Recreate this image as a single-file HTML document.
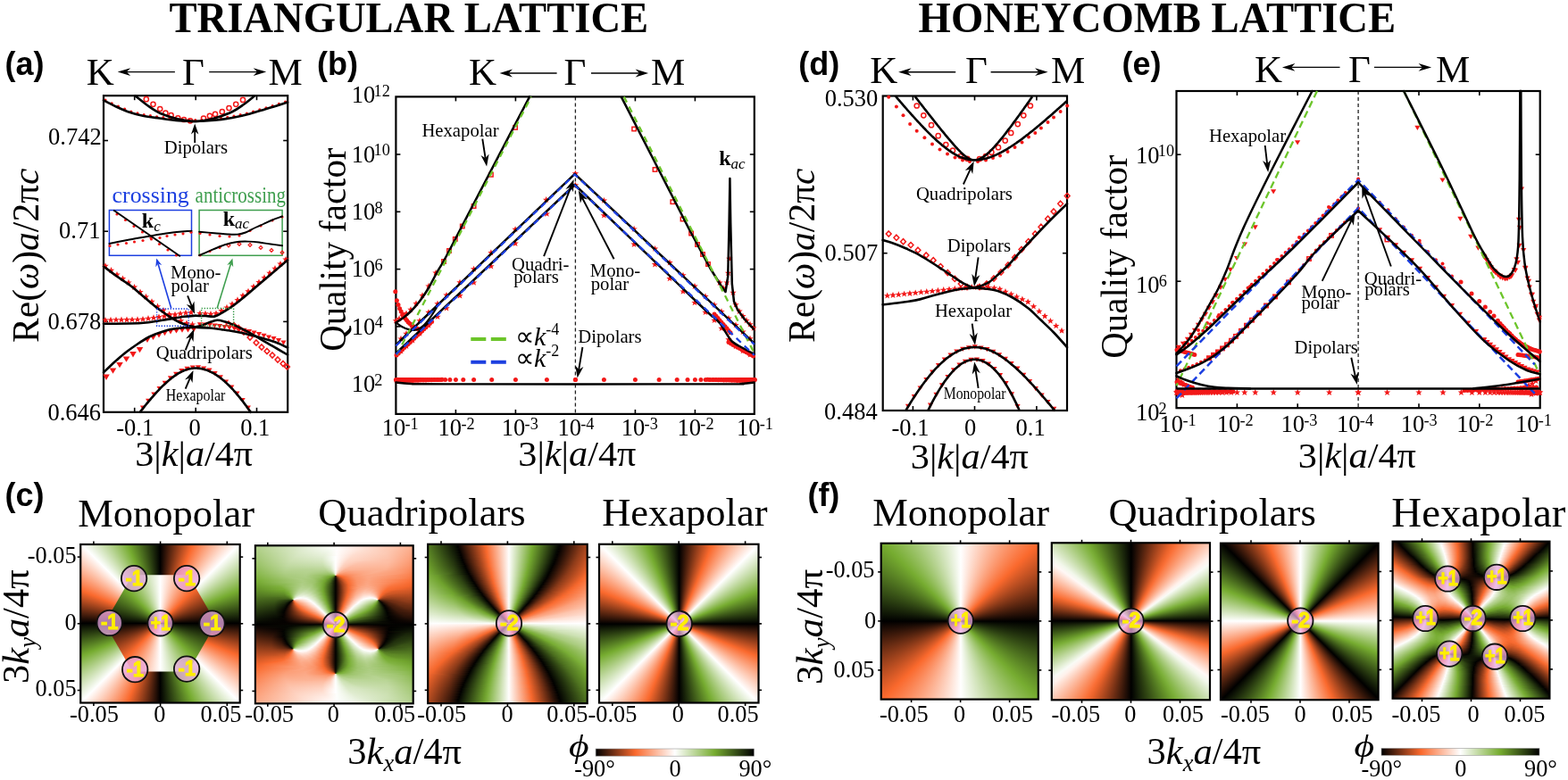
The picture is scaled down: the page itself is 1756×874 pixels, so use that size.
<!DOCTYPE html>
<html><head><meta charset="utf-8"><title>Figure</title>
<style>
html,body{margin:0;padding:0;background:#fff}
#fig{position:relative;width:1756px;height:874px;overflow:hidden;background:#fff}
.pm{position:absolute;display:flex;flex-direction:column;overflow:hidden}
.pm i{display:block;flex:0 0 var(--rh);width:100%}
svg{position:absolute;left:0;top:0}
.s{font-family:'Liberation Serif','Times New Roman',serif}
.a{font-family:'Liberation Sans',Arial,sans-serif}
</style></head><body><div id="fig">
<div class="pm" style="left:90.2px;top:610.0px;width:178.5px;height:177.5px;background:conic-gradient(at 89.4px 88.3px,#000 0deg,#fa692d 22.5deg,#fff 45deg,#76ac30 67.5deg,#000 90deg,#fa692d 112.5deg,#fff 135deg,#76ac30 157.5deg,#000 180deg,#fa692d 202.5deg,#fff 225deg,#76ac30 247.5deg,#000 270deg,#fa692d 292.5deg,#fff 315deg,#76ac30 337.5deg,#000 360deg)"></div>
<div class="pm" style="left:117.1px;top:635.8px;width:125.0px;height:125.0px;background:conic-gradient(#fff 0deg,#fa692d 45deg,#000 90deg,#76ac30 135deg,#fff 180deg,#fa692d 225deg,#000 270deg,#76ac30 315deg,#fff 360deg);clip-path:polygon(125.0px 62.5px,93.8px 8.4px,31.3px 8.4px,0.0px 62.5px,31.2px 116.6px,93.8px 116.6px)"></div>
<div class="pm" style="left:285.9px;top:611.3px;width:176.8px;height:177.0px;--rh:1px"><i style="background:linear-gradient(90deg,#b2d08b 0%,#e8f1dc 34.5%,#fffdfc 52%,#fdba9e 93.8%,#fcae8d 100%)"></i><i style="background:linear-gradient(90deg,#b1d089 0%,#e6f0da 33.3%,#fffcfb 52%,#fdb99d 93.8%,#fcad8c 100%)"></i><i style="background:linear-gradient(90deg,#b0cf88 0%,#e5efd8 32.8%,#fffcfb 52%,#fdb99d 93.2%,#fcac8a 100%)"></i><i style="background:linear-gradient(90deg,#afce86 0%,#e3eed5 31.6%,#fdfefb 49.7%,#feefe8 58.2%,#fdc4ac 87.6%,#fcaa89 100%)"></i><i style="background:linear-gradient(90deg,#aece84 0%,#e2edd3 31.1%,#fafcf7 48.6%,#fffcfb 52%,#fee1d5 68.4%,#fdb99c 92.7%,#fca987 100%)"></i><i style="background:linear-gradient(90deg,#adcd83 0%,#e0ecd1 30.5%,#f7faf2 47.5%,#fffdfd 51.4%,#fee2d6 66.1%,#fdc5ad 86.4%,#fca885 100%)"></i><i style="background:linear-gradient(90deg,#accd81 0%,#dfebce 29.4%,#f3f8ed 46.3%,#fffdfc 51.4%,#fee1d5 65.5%,#fdc7b1 84.7%,#fca784 100%)"></i><i style="background:linear-gradient(90deg,#abcc7f 0%,#ddeacc 28.8%,#f0f6e8 45.2%,#fffdfc 51.4%,#fee1d4 64.4%,#fdc9b3 83.6%,#fca682 100%)"></i><i style="background:linear-gradient(90deg,#a9cb7e 0%,#dceac9 28.2%,#edf4e4 44.6%,#fffdfc 51.4%,#fee0d3 63.8%,#fdc9b4 83.1%,#fca580 100%)"></i><i style="background:linear-gradient(90deg,#a8ca7c 0%,#dae9c7 27.7%,#ebf3e0 44.1%,#fffdfc 51.4%,#feded1 63.3%,#fdc9b3 83.1%,#fca37f 100%)"></i><i style="background:linear-gradient(90deg,#a7ca7a 0%,#d8e7c4 26.6%,#e8f1dc 43.5%,#fffdfc 51.4%,#feded1 62.1%,#fdc8b2 83.1%,#fca27d 100%)"></i><i style="background:linear-gradient(90deg,#a6c978 0%,#d6e6c2 26%,#e7f0da 43.5%,#fffcfb 51.4%,#feddcf 61.6%,#fdc6af 83.6%,#fca17b 100%)"></i><i style="background:linear-gradient(90deg,#a5c876 0%,#d5e5bf 25.4%,#e3eed5 42.9%,#fff 50.8%,#fedcce 61%,#fdc5ae 83.6%,#fc9f79 100%)"></i><i style="background:linear-gradient(90deg,#a3c775 0%,#d3e4bc 24.9%,#e2edd3 42.9%,#fff 50.8%,#fedbcc 60.5%,#fdc3ab 84.2%,#fc9e77 100%)"></i><i style="background:linear-gradient(90deg,#a2c773 0%,#d1e3ba 24.3%,#deebce 42.4%,#fff 50.8%,#fedacb 59.9%,#fdc2aa 84.2%,#fc9d75 100%)"></i><i style="background:linear-gradient(90deg,#a1c671 0%,#cfe2b7 23.7%,#dceaca 42.4%,#fff 50.8%,#fed9c9 59.3%,#fdc0a7 84.7%,#fc9b74 100%)"></i><i style="background:linear-gradient(90deg,#9fc56f 0%,#cee1b4 23.2%,#dae9c7 42.4%,#fffffe 50.8%,#fed8c8 58.8%,#fdccb8 71.8%,#fdbca2 85.9%,#fc9a71 100%)"></i><i style="background:linear-gradient(90deg,#9ec46d 0%,#cce0b1 22.6%,#d7e7c3 42.4%,#f8fbf5 49.7%,#fffffe 50.8%,#fed7c6 58.2%,#fdcab5 69.5%,#fdbea4 84.7%,#fc986f 100%)"></i><i style="background:linear-gradient(90deg,#9dc36a 0%,#cadfae 22%,#d5e5bf 42.4%,#f4f8ee 49.2%,#fffffe 50.8%,#fed6c5 57.6%,#fdc8b3 67.2%,#fdbea4 84.2%,#fc976d 100%)"></i><i style="background:linear-gradient(90deg,#9bc368 0%,#c8ddab 21.5%,#d2e4bb 42.4%,#eff5e6 48.6%,#fffffe 50.8%,#fed5c4 57.1%,#fdc6b0 65.5%,#fdbda2 84.2%,#fb956b 100%)"></i><i style="background:linear-gradient(90deg,#9ac266 0%,#c6dca9 21.5%,#cfe2b7 42.4%,#e9f2de 48%,#fffefe 50.8%,#fed4c3 56.5%,#fdc4ad 63.8%,#fdbca1 83.6%,#fb9469 100%)"></i><i style="background:linear-gradient(90deg,#98c164 0%,#c4dba5 20.9%,#cce0b2 42.4%,#e7f0da 48%,#fffefe 50.8%,#fdd1be 56.5%,#fdc1a9 63.8%,#fdba9f 83.6%,#fb9267 100%)"></i><i style="background:linear-gradient(90deg,#97c062 0%,#c1daa2 20.3%,#cadfaf 42.9%,#e4efd7 48%,#fffefe 50.8%,#fdd0bd 55.9%,#fdbfa6 62.1%,#fdb99c 83.6%,#fb9164 100%)"></i><i style="background:linear-gradient(90deg,#95bf5f 0%,#c0d99f 20.3%,#c6ddaa 42.9%,#dceacb 47.5%,#fffefe 50.8%,#fdd0bd 55.4%,#fdbda3 61%,#fdb79a 83.6%,#fb8f62 100%)"></i><i style="background:linear-gradient(90deg,#94be5d 0%,#bdd79c 19.8%,#c3daa4 42.9%,#d9e8c5 47.5%,#fffefe 50.8%,#fdcfbc 54.8%,#fdbb9f 59.9%,#fdb698 83.1%,#fb8d60 100%)"></i><i style="background:linear-gradient(90deg,#92bd5a 0%,#bbd699 19.8%,#c0d99f 43.5%,#d4e5bf 47.5%,#fffefe 50.8%,#fdcfbc 54.2%,#fdb89c 58.8%,#fcb495 83.1%,#fb8b5d 100%)"></i><i style="background:linear-gradient(90deg,#90bc58 0%,#b9d595 19.2%,#bad597 35.6%,#bdd79b 44.1%,#cfe2b7 47.5%,#fffefd 50.8%,#fdd0bd 53.7%,#fdb89b 57.1%,#fcb495 65.5%,#fcb394 81.9%,#fb8c5f 98.9%,#fb8a5b 100%)"></i><i style="background:linear-gradient(90deg,#8fbb55 0%,#b7d392 19.2%,#b8d494 35%,#b9d595 44.6%,#cfe2b7 48%,#fffefd 50.8%,#fdc9b4 53.7%,#fcb293 57.1%,#fcb294 67.2%,#fcb090 82.5%,#fb8858 100%)"></i><i style="background:linear-gradient(90deg,#8dba53 0%,#b4d28e 18.6%,#b7d392 33.9%,#b3d18d 44.6%,#c2daa3 47.5%,#e5efd8 49.7%,#fffdfd 50.8%,#fdc9b4 53.1%,#fcaf90 55.9%,#fcab8a 62.7%,#fcb192 78.5%,#fc986f 93.2%,#fb8656 100%)"></i><i style="background:linear-gradient(90deg,#8bb950 0%,#b2d08b 18.6%,#b6d390 33.3%,#aece85 45.2%,#bfd89e 48%,#dfebce 49.7%,#fffdfc 50.8%,#fdcbb6 52.5%,#fcad8c 54.8%,#fca480 59.3%,#fcb191 76.3%,#fc9971 92.1%,#fb8453 100%)"></i><i style="background:linear-gradient(90deg,#89b84d 0%,#b0cf88 18.6%,#b4d28e 32.8%,#a8ca7b 45.8%,#b4d28e 48%,#c6ddaa 49.2%,#fffcfb 50.8%,#fdceba 52%,#fcac8b 53.7%,#fc9e78 57.1%,#fcaf8f 75.1%,#fc986e 92.1%,#fb8250 100%)"></i><i style="background:linear-gradient(90deg,#88b74b 0%,#aece84 18.6%,#b3d18c 32.2%,#a0c670 46.3%,#adcd83 48.6%,#c7ddaa 49.7%,#fffbfa 50.8%,#fed7c7 51.4%,#fdbea3 52%,#fca47f 53.1%,#fc976d 55.9%,#fcae8d 73.4%,#fc986f 91%,#fb804d 100%)"></i><i style="background:linear-gradient(90deg,#86b648 0%,#abcc81 18.6%,#b2d08a 32.2%,#97c061 47.5%,#a2c672 49.2%,#afce86 49.7%,#cce0b2 50.3%,#fff8f5 50.8%,#fdbfa5 51.4%,#fca37f 52%,#fb9165 53.1%,#fb8f63 57.1%,#fcac8a 71.2%,#fc9c75 87.6%,#fb7e4a 100%)"></i><i style="background:linear-gradient(90deg,#84b445 0%,#aacb7e 19.2%,#b0cf88 32.2%,#94be5d 44.1%,#86b648 49.2%,#88b74c 49.7%,#94be5e 50.3%,#fee1d4 50.8%,#fb8555 51.4%,#fb7a45 52.5%,#fca784 68.4%,#fca581 80.2%,#fb8250 97.7%,#fb7c48 100%)"></i><i style="background:linear-gradient(90deg,#82b342 0%,#a8ca7b 19.2%,#afcf87 31.6%,#97c062 41.8%,#71a52e 48.6%,#608b27 49.7%,#46661d 50.3%,#170a04 50.8%,#a5451e 51.4%,#d05826 52%,#f2662c 53.1%,#fa733b 54.8%,#fc9c74 63.8%,#fca987 73.4%,#fb8757 94.9%,#fb7a45 100%)"></i><i style="background:linear-gradient(90deg,#80b23f 0%,#a7ca7a 20.3%,#aece85 31.6%,#98c164 40.7%,#73a82f 46.9%,#557c22 49.2%,#43621b 49.7%,#0a0402 50.8%,#612911 51.4%,#98401b 52%,#cf5725 53.1%,#f6672c 54.8%,#fb9469 62.1%,#fca885 71.2%,#fb9267 88.7%,#fa7841 100%)"></i><i style="background:linear-gradient(90deg,#7eb13c 0%,#a9cb7d 23.2%,#accd82 32.8%,#92bd5b 41.2%,#70a32d 46.3%,#527721 48.6%,#334a15 49.7%,#060301 50.8%,#431c0c 51.4%,#743115 52%,#b24b20 53.1%,#ef642b 55.4%,#fa6d33 56.5%,#fb966b 63.3%,#fca784 71.8%,#fb8655 93.8%,#fa753e 100%)"></i><i style="background:linear-gradient(90deg,#7cb039 0%,#accd82 26.6%,#a7ca7a 35%,#88b74c 42.4%,#6ea02d 45.8%,#47671d 48.6%,#141d08 50.3%,#050201 50.8%,#5d2711 52%,#9b411c 53.1%,#e05e28 55.4%,#fa6c31 57.1%,#fb9469 63.3%,#fca682 71.2%,#fb8959 91%,#fa733b 100%)"></i><i style="background:linear-gradient(90deg,#7aae36 0%,#adcd83 28.8%,#a2c672 36.7%,#7cb03a 43.5%,#5b8425 46.9%,#314814 49.2%,#040201 50.8%,#6e2e14 52.5%,#b34b20 54.2%,#f5672c 57.1%,#fb956a 63.8%,#fca682 71.8%,#fa7138 100%)"></i><i style="background:linear-gradient(90deg,#78ad32 0%,#adcd83 29.9%,#9fc56d 37.3%,#73a82f 44.1%,#4c6f1f 47.5%,#1d2b0c 49.7%,#030101 50.8%,#7b3416 53.1%,#c75324 55.4%,#f7682c 57.6%,#fc966c 64.4%,#fca581 71.8%,#fa6e35 100%)"></i><i style="background:linear-gradient(90deg,#75ab30 0%,#adcd83 29.9%,#9ec46d 37.3%,#70a42e 44.1%,#47681d 47.5%,#030101 50.8%,#712f14 53.1%,#cb5525 55.9%,#fa692d 58.2%,#fb9367 63.8%,#fca581 70.6%,#fc966c 79.7%,#fa6c31 100%)"></i><i style="background:linear-gradient(90deg,#74a82f 0%,#9fc56e 22.6%,#adcd83 31.1%,#9bc368 37.9%,#73a72f 43.5%,#43621b 47.5%,#030100 50.8%,#7e3517 53.7%,#d15826 56.5%,#fa6c31 58.8%,#fb956b 64.4%,#fca682 71.2%,#fb9064 80.8%,#fa692e 100%)"></i><i style="background:linear-gradient(90deg,#72a62e 0%,#98c163 20.9%,#aece85 29.9%,#a0c670 36.7%,#7baf37 42.4%,#507521 46.3%,#030100 50.8%,#8a3a19 54.2%,#e56029 57.6%,#fa6a2e 58.8%,#fb956b 64.4%,#fca683 70.6%,#fc986f 78%,#fb7b46 89.3%,#f7682c 100%)"></i><i style="background:linear-gradient(90deg,#70a32d 0%,#90bc58 19.2%,#afce86 29.4%,#a6c978 35.6%,#84b445 41.2%,#6fa12d 43.5%,#344b15 48%,#020100 50.8%,#973f1b 54.8%,#f8682d 58.8%,#fb966c 64.4%,#fca784 70.6%,#fc9970 77.4%,#fb7a45 87.6%,#f4672c 99.4%,#f2662c 100%)"></i><i style="background:linear-gradient(90deg,#6ea02d 0%,#8cb951 18.6%,#b0cf87 29.4%,#a7ca7a 35.6%,#83b444 41.2%,#6d9f2c 43.5%,#324814 48%,#020100 50.8%,#923d1a 54.8%,#f5672c 58.8%,#fc9a71 65%,#fca987 71.2%,#fb956b 78%,#fa7740 87%,#f5672c 98.3%,#ee642b 100%)"></i><i style="background:linear-gradient(90deg,#6c9d2c 0%,#80b23f 15.3%,#9ec46d 23.7%,#b2d08b 29.9%,#a8cb7c 35.6%,#83b444 41.2%,#6c9e2c 43.5%,#273910 48.6%,#020100 50.8%,#9f431d 55.4%,#f4662c 58.8%,#fc9b73 65%,#fcab89 70.6%,#fc9a72 76.8%,#fa7640 85.3%,#f4662c 97.2%,#e9622a 100%)"></i><i style="background:linear-gradient(90deg,#699a2b 0%,#7fb13d 16.4%,#a0c670 24.3%,#b4d28e 29.9%,#aacc7f 35.6%,#88b74c 40.7%,#71a52e 42.9%,#2f4413 48%,#020100 50.8%,#9d421c 55.4%,#f3662c 58.8%,#fb8453 61.6%,#fca784 67.2%,#fcab89 72.9%,#fa723a 85.3%,#f1652b 96.6%,#e56029 100%)"></i><i style="background:linear-gradient(90deg,#67972a 0%,#7baf37 16.4%,#99c165 23.2%,#b5d28f 28.8%,#b1d089 34.5%,#93be5c 39.5%,#71a52e 42.9%,#2e4313 48%,#020100 50.8%,#ab481f 55.9%,#fa6c31 59.3%,#fc9c74 64.4%,#fcb091 70.1%,#fca480 75.1%,#fa7138 84.2%,#f1652b 93.8%,#e05e28 100%)"></i><i style="background:linear-gradient(90deg,#659329 0%,#7aae36 17.5%,#9cc36a 23.7%,#b8d493 28.8%,#b6d391 33.9%,#9ac266 39%,#71a52e 42.9%,#25350f 48.6%,#020100 50.8%,#aa471f 55.9%,#f3662c 58.8%,#fb8656 61.6%,#fcab8a 66.7%,#fcb395 71.8%,#fc9b73 76.8%,#fa6f35 83.6%,#ea622a 94.4%,#dc5c28 100%)"></i><i style="background:linear-gradient(90deg,#639028 0%,#7aae36 18.6%,#b9d596 28.2%,#bbd698 33.3%,#a0c670 38.4%,#72a62e 42.9%,#24350f 48.6%,#020100 50.8%,#ba4e21 56.5%,#f4662c 58.8%,#fca581 65%,#fdb89b 70.1%,#fcac8b 74.6%,#fa6d32 83.1%,#d75a27 100%)"></i><i style="background:linear-gradient(90deg,#618d27 0%,#74a82f 18.1%,#8cb951 22%,#bad597 27.7%,#c1daa2 32.2%,#abcc81 37.3%,#73a72f 42.9%,#1b270b 49.2%,#020100 50.8%,#ba4e22 56.5%,#f5672c 58.8%,#fca480 64.4%,#fdbca1 69.5%,#fcb395 74%,#fa6b2f 82.5%,#e25f29 89.8%,#d25826 100%)"></i><i style="background:linear-gradient(90deg,#5e8a26 0%,#70a32d 18.1%,#7fb13d 20.9%,#bfd89e 27.7%,#c6dda9 32.2%,#afce86 37.3%,#74a82f 42.9%,#1b270b 49.2%,#020100 50.8%,#bb4f22 56.5%,#f8682d 58.8%,#fca885 64.4%,#fdc1a8 69.5%,#fdbba0 73.4%,#fc976e 77.4%,#fa692d 81.9%,#de5d28 87%,#cd5625 100%)"></i><i style="background:linear-gradient(90deg,#5c8625 0%,#6b9c2c 18.1%,#7baf37 20.9%,#c0d9a0 27.1%,#cce0b3 31.1%,#bed89d 35.6%,#91bd59 40.7%,#75aa30 42.9%,#121a07 49.7%,#020100 50.8%,#cd5625 57.1%,#fa692e 58.8%,#fca784 63.8%,#fdc5ae 68.9%,#fdc3ac 72.9%,#fca784 76.3%,#fa6d33 80.8%,#d75a27 86.4%,#c85424 100%)"></i><i style="background:linear-gradient(90deg,#5a8325 0%,#67962a 18.1%,#76ac30 20.9%,#c6dca8 27.1%,#d2e4bc 30.5%,#c6dca9 35%,#9bc267 40.1%,#70a32d 43.5%,#020100 50.8%,#d05725 57.1%,#fa6c31 58.8%,#fcab89 63.8%,#fdcbb7 68.9%,#fdcab5 72.9%,#fcb394 75.7%,#f8682d 80.8%,#d55a26 84.2%,#c35223 100%)"></i><i style="background:linear-gradient(90deg,#588024 0%,#628e28 18.1%,#77ad31 21.5%,#c7ddaa 26.6%,#d9e8c5 29.9%,#cee1b5 34.5%,#a4c876 39.5%,#71a52e 43.5%,#020100 50.8%,#d35926 57.1%,#f3662c 58.2%,#fca47f 62.7%,#fdcdb9 67.8%,#fed5c4 71.8%,#fdc6b0 74.6%,#fc9b72 77.4%,#f9692d 80.2%,#d25826 83.1%,#c45223 89.3%,#be5022 100%)"></i><i style="background:linear-gradient(90deg,#557c23 0%,#5e8926 18.6%,#79ae35 22%,#c7ddab 26%,#deebcd 28.8%,#dceaca 32.8%,#bad596 37.9%,#73a82f 43.5%,#020100 50.8%,#d75a27 57.1%,#f8682d 58.2%,#fdb496 63.8%,#fed9ca 68.9%,#fedbcc 72.9%,#fdc9b3 75.1%,#fc9d75 77.4%,#fa6a2f 79.7%,#cb5525 82.5%,#bb4f22 87.6%,#b84d21 100%)"></i><i style="background:linear-gradient(90deg,#537922 0%,#588024 18.6%,#6b9c2c 21.5%,#7eb13c 22.6%,#c6dda9 25.4%,#e2edd3 27.7%,#e8f1dc 31.1%,#cee1b4 36.2%,#97c062 41.2%,#76ac30 43.5%,#020100 50.8%,#db5c27 57.1%,#fa6b2f 58.2%,#fcb395 63.3%,#feddd0 68.4%,#fee6dc 72.3%,#fed3c1 75.1%,#fcb090 76.8%,#fa6f35 79.1%,#ca5524 81.4%,#b34b20 84.7%,#b34b20 100%)"></i><i style="background:linear-gradient(90deg,#507521 0%,#537922 19.2%,#639028 21.5%,#76ac30 22.6%,#d1e3b9 25.4%,#e9f2de 27.1%,#f1f6ea 30.5%,#d8e7c4 35.6%,#a2c773 40.7%,#70a42e 44.1%,#020100 50.8%,#e05e28 57.1%,#fa6e34 58.2%,#fdb99d 63.3%,#fee5db 68.4%,#fff0ea 72.3%,#fee6dc 74.6%,#fdc9b4 76.3%,#f5672c 79.1%,#c25223 80.8%,#aa471f 83.6%,#ae491f 100%)"></i><i style="background:linear-gradient(90deg,#4e7220 0%,#4a6d1e 15.3%,#507420 20.3%,#608c27 22%,#6c9e2c 22.6%,#7fb13d 23.2%,#cee1b5 24.9%,#eaf2e0 26%,#fbfdf9 28.2%,#f1f7ea 32.8%,#c9dead 37.9%,#85b547 42.9%,#6a9b2b 44.6%,#020100 50.8%,#e56029 57.1%,#f7682c 57.6%,#fdbea5 63.3%,#feede6 68.4%,#fffbfa 72.9%,#feefe9 75.1%,#fed9ca 76.3%,#fca987 77.4%,#fa6e34 78.5%,#c85424 79.7%,#a7461e 81.4%,#9d421c 85.9%,#a9471e 99.4%,#a8471e 100%)"></i><i style="background:linear-gradient(90deg,#4b6e1f 0%,#47671d 14.1%,#48691d 20.9%,#5d8726 22.6%,#71a42e 23.2%,#96c061 23.7%,#c3dba4 24.3%,#e2edd3 24.9%,#fdfefc 26%,#fff7f4 29.4%,#fcfdfa 32.2%,#cfe2b6 37.9%,#89b84d 42.9%,#76ac30 44.1%,#020100 50.8%,#eb632a 57.1%,#fa6b30 57.6%,#fdbda3 62.7%,#fff1ec 67.8%,#fff 70.1%,#f7faf3 74%,#fffbfa 75.7%,#feefe9 76.3%,#fedacb 76.8%,#fdb496 77.4%,#fb8351 78%,#e46029 78.5%,#bf5022 79.1%,#9e421c 80.2%,#8f3c1a 83.1%,#a4451d 98.9%,#a3441d 100%)"></i><i style="background:linear-gradient(90deg,#496a1e 0%,#43621b 13.6%,#3c5819 21.5%,#45641c 22.6%,#547b22 23.2%,#88b74c 23.7%,#e3eed5 24.3%,#fff9f7 24.9%,#fee8df 26%,#feede6 29.9%,#fdfefc 33.3%,#c7ddab 39%,#70a32e 44.6%,#020100 50.8%,#f1652b 57.1%,#fb8554 58.8%,#fed2c0 63.8%,#fffefd 68.4%,#e8f1dd 74%,#f0f6e9 76.3%,#fefefd 76.8%,#fed2c1 77.4%,#fa6a2e 78%,#a9471e 78.5%,#8e3c1a 79.1%,#7d3517 80.8%,#9f431d 97.7%,#9d421c 100%)"></i><i style="background:linear-gradient(90deg,#46671d 0%,#405d1a 13%,#26370f 22.6%,#1f2e0d 23.2%,#0e0602 23.7%,#fcb394 24.3%,#fdc3ab 24.9%,#fcfdfb 34.5%,#c6dda9 39.5%,#73a82f 44.6%,#020100 50.8%,#f9682d 57.1%,#fdc2aa 62.1%,#fffdfd 67.2%,#c7ddaa 76.8%,#b1d089 77.4%,#190a04 78%,#461e0d 78.5%,#662b12 81.4%,#943e1b 93.2%,#97401b 100%)"></i><i style="background:linear-gradient(90deg,#44631c 0%,#3d5919 12.4%,#25360f 20.3%,#151e08 22%,#090e04 22.6%,#1a0b05 23.2%,#7c3416 23.7%,#f9682d 24.3%,#fb9266 24.9%,#fcb293 26%,#fed9ca 30.5%,#fff 35%,#c4dca6 40.1%,#77ad32 44.6%,#020100 50.8%,#ec632a 56.5%,#fa6d32 57.1%,#fdc9b4 62.1%,#fffbf9 66.1%,#f9fbf6 67.2%,#bed89d 75.1%,#abcc80 76.3%,#96bf60 76.8%,#6b9c2c 77.4%,#2f4413 78%,#070a03 78.5%,#3e1a0b 80.2%,#692c13 84.2%,#8f3c1a 94.4%,#923d1a 100%)"></i><i style="background:linear-gradient(90deg,#415f1b 0%,#395417 12.4%,#1f2d0d 19.8%,#040602 22%,#160904 22.6%,#451d0c 23.2%,#d15826 24.3%,#fa733b 24.9%,#fc9a72 26%,#fdba9f 28.2%,#fffcfb 35.6%,#f0f6e8 37.3%,#a7c979 42.4%,#71a52e 45.2%,#030100 50.8%,#f4662c 56.5%,#fdd0be 62.1%,#fffdfc 65.5%,#b3d18c 74.6%,#91bc59 76.3%,#7aae36 76.8%,#1c280b 78.5%,#070a03 79.1%,#0d0602 79.7%,#3b190b 81.4%,#692c13 85.9%,#8b3a19 95.5%,#8c3b19 100%)"></i><i style="background:linear-gradient(90deg,#3f5b1a 0%,#375016 11.9%,#1f2e0d 18.6%,#030401 21.5%,#110703 22%,#592510 23.2%,#eb632a 24.9%,#fa763f 25.4%,#fc9d75 27.1%,#fffaf8 36.2%,#fefefd 36.7%,#b7d391 41.8%,#75aa30 45.2%,#030100 50.8%,#e66029 55.9%,#fa6a2f 56.5%,#fdc6af 61%,#fff 65%,#abcc81 74%,#8ebb54 75.7%,#6b9c2c 76.8%,#141d08 79.1%,#060802 79.7%,#0a0402 80.2%,#3c190b 82.5%,#6a2c13 87.6%,#863818 97.2%,#863818 100%)"></i><i style="background:linear-gradient(90deg,#3c5818 0%,#334b15 11.9%,#19250a 18.6%,#030401 20.9%,#0c0502 21.5%,#622912 23.2%,#f6672c 25.4%,#fc976d 27.7%,#fff 37.3%,#bdd79c 41.8%,#7aae36 45.2%,#030100 50.8%,#ee642b 55.9%,#fb7d49 57.1%,#fed7c7 61.6%,#fefefd 64.4%,#9ec46d 74%,#71a52e 76.3%,#1b280b 79.1%,#040602 80.2%,#451d0c 84.2%,#723015 91%,#813617 100%)"></i><i style="background:linear-gradient(90deg,#3a5417 0%,#304613 11.9%,#141d08 18.6%,#040502 20.3%,#080301 20.9%,#4a1f0d 22.6%,#e25f29 25.4%,#fa692d 26%,#fc9970 28.8%,#fffefd 37.9%,#c4dba6 41.8%,#72a72f 45.8%,#030101 50.8%,#f7682d 55.9%,#fdccb7 60.5%,#fffaf8 63.3%,#fcfdfb 63.8%,#92bd5b 74%,#74a92f 75.7%,#141e08 79.7%,#020301 80.8%,#421c0c 84.7%,#6d2e14 91.5%,#7b3416 100%)"></i><i style="background:linear-gradient(90deg,#375016 0%,#2d4112 11.9%,#131c08 18.1%,#030101 20.3%,#4f210e 22.6%,#e8612a 26%,#fa6a2e 26.6%,#fc9b73 29.9%,#fff4f0 37.9%,#fffcfb 38.4%,#e9f1dd 40.1%,#9fc56e 44.1%,#77ad32 45.8%,#030101 50.8%,#e8612a 55.4%,#fa6e33 55.9%,#fdc9b4 59.9%,#fffbf9 62.7%,#f4f8ee 63.8%,#87b64a 74%,#75aa30 75.1%,#0f1606 80.2%,#000 81.4%,#39180a 84.7%,#662b12 91.5%,#753115 100%)"></i><i style="background:linear-gradient(90deg,#344c15 0%,#293c11 11.9%,#0f1606 18.1%,#010100 19.8%,#3e1a0b 22%,#ea622a 26.6%,#fa6a2e 27.1%,#fca886 32.2%,#fff3ee 38.4%,#fffcfa 39%,#f1f7ea 40.1%,#a6c978 44.1%,#70a32d 46.3%,#030101 50.8%,#f2662c 55.4%,#fca07a 57.6%,#fff2ec 61.6%,#fffbfa 62.1%,#f2f7ec 63.3%,#75aa30 74.6%,#0b1004 80.8%,#040201 81.9%,#3c190b 85.9%,#662b12 93.2%,#702f14 100%)"></i><i style="background:linear-gradient(90deg,#324914 0%,#263810 11.9%,#0c1105 18.1%,#060201 19.8%,#54230f 22.6%,#ea622a 27.1%,#f9692d 27.7%,#fee9e0 38.4%,#fffbf9 39.5%,#fafcf8 40.1%,#aece84 44.1%,#75aa30 46.3%,#030101 50.8%,#e15e28 54.8%,#fa6b30 55.4%,#fdd0bd 59.3%,#fffcfa 61.6%,#e9f2de 63.3%,#74a92f 74%,#070b03 81.4%,#070301 82.5%,#3f1b0b 87%,#642a12 94.9%,#6a2c13 100%)"></i><i style="background:linear-gradient(90deg,#2f4513 0%,#23340e 11.9%,#080c03 18.1%,#010000 19.2%,#53230f 22.6%,#e9622a 27.7%,#fa6e34 28.8%,#fed6c6 37.9%,#fffaf8 40.1%,#fafcf8 40.7%,#a8cb7c 44.6%,#7baf38 46.3%,#030101 50.8%,#ec632a 54.8%,#fa723a 55.4%,#fdcdba 58.8%,#fffcfb 61%,#a7ca7a 68.4%,#73a82f 73.4%,#040602 81.9%,#010100 82.5%,#39180a 87%,#5e2811 94.9%,#642a12 100%)"></i><i style="background:linear-gradient(90deg,#2d4112 0%,#212f0d 11.9%,#060201 19.2%,#622912 23.2%,#e66129 28.2%,#fa6b30 29.4%,#fdcbb7 37.9%,#fff9f7 40.7%,#fafcf8 41.2%,#b1d089 44.6%,#72a62e 46.9%,#040201 50.8%,#f8682d 54.8%,#fdcab5 58.2%,#fffcfb 60.5%,#aece85 66.7%,#71a52e 72.9%,#070a03 81.9%,#060201 83.1%,#3b190b 88.1%,#5c2610 96.6%,#5f2811 100%)"></i><i style="background:linear-gradient(90deg,#2a3d11 0%,#1e2c0c 11.9%,#010000 18.6%,#50220e 22.6%,#e35f29 28.8%,#fa6e34 30.5%,#fdc0a7 37.9%,#fff9f6 41.2%,#fafcf8 41.8%,#abcc81 45.2%,#79ae34 46.9%,#040201 50.8%,#e46029 54.2%,#fa7037 54.8%,#fed5c5 58.2%,#fffcfb 59.9%,#b0cf88 65.5%,#74a92f 71.8%,#040501 82.5%,#090402 83.6%,#3d1a0b 89.3%,#582510 98.9%,#592510 100%)"></i><i style="background:linear-gradient(90deg,#273910 0%,#1b280b 11.9%,#040201 18.6%,#672b13 23.7%,#e8612a 29.9%,#fa6f36 31.6%,#fdbda2 38.4%,#fff8f5 41.8%,#fafcf8 42.4%,#b5d290 45.2%,#6fa12d 47.5%,#040201 50.8%,#f2652b 54.2%,#fca07a 55.9%,#feefe9 58.8%,#fffcfb 59.3%,#accd82 65%,#76ac30 70.6%,#010200 83.1%,#3b190b 89.8%,#53230f 99.4%,#53230f 100%)"></i><i style="background:linear-gradient(90deg,#25360f 0%,#17220a 12.4%,#000100 18.1%,#55240f 23.2%,#eb632a 31.1%,#fa7037 32.8%,#fdb99c 39%,#fff7f4 42.4%,#fafcf7 42.9%,#afcf86 45.8%,#76ab30 47.5%,#040201 50.8%,#da5c27 53.7%,#fa6d33 54.2%,#fdcfbc 57.1%,#fffcfb 58.8%,#afce86 63.8%,#77ac31 69.5%,#020401 83.1%,#3b190b 91%,#4e210e 100%)"></i><i style="background:linear-gradient(90deg,#22320e 0%,#151f09 12.4%,#020100 18.1%,#662b12 24.3%,#f4672c 32.8%,#fc9c74 37.9%,#feddd0 41.8%,#fff7f3 42.9%,#fafcf7 43.5%,#a8ca7c 46.3%,#7fb13d 47.5%,#567d23 48.6%,#050201 50.8%,#e9622a 53.7%,#fa7741 54.2%,#feddcf 57.1%,#fffcfb 58.2%,#b1d08a 62.7%,#77ac31 68.4%,#000 83.6%,#331509 90.4%,#481e0d 100%)"></i><i style="background:linear-gradient(90deg,#202e0d 0%,#131c08 12.4%,#040201 18.1%,#723014 25.4%,#fa6a2f 34.5%,#fca783 39.5%,#fee8df 42.9%,#fff6f2 43.5%,#f9fbf6 44.1%,#b4d28e 46.3%,#72a62e 48%,#050201 50.8%,#fa692d 53.7%,#fdc6b0 55.9%,#fffcfa 57.6%,#adcd83 62.1%,#76ac31 67.2%,#010200 83.6%,#331509 91.5%,#431c0c 100%)"></i><i style="background:linear-gradient(90deg,#1d2a0c 0%,#101706 13%,#050201 18.1%,#823717 27.1%,#fa692e 35.6%,#fca17b 40.1%,#fee6dc 43.5%,#fff5f1 44.1%,#f9fbf5 44.6%,#accd82 46.9%,#7caf39 48%,#060201 50.8%,#de5d28 53.1%,#fa753e 53.7%,#fed6c6 55.9%,#fffcfa 57.1%,#b0cf87 61%,#7aaf37 65.5%,#020301 83.6%,#331609 93.2%,#3d1a0b 100%)"></i><i style="background:linear-gradient(90deg,#1a260b 0%,#0d1205 13.6%,#060201 18.1%,#ce5625 33.9%,#fa6e34 37.3%,#fca480 41.2%,#fee4d9 44.1%,#fff4f0 44.6%,#f8fbf5 45.2%,#bbd698 46.9%,#6d9f2c 48.6%,#060301 50.8%,#f1652b 53.1%,#fdba9e 54.8%,#fffbfa 56.5%,#aacc7f 60.5%,#79ae35 64.4%,#020301 83.6%,#311509 94.4%,#38170a 100%)"></i><i style="background:linear-gradient(90deg,#18230a 0%,#0b1004 13.6%,#020100 17.5%,#7f3517 28.8%,#eb632a 37.3%,#fa733a 39%,#fca885 42.4%,#fee1d5 44.6%,#fff3ee 45.2%,#f7faf3 45.8%,#b2d08b 47.5%,#78ad32 48.6%,#1d2a0c 50.3%,#070301 50.8%,#cd5625 52.5%,#fa7239 53.1%,#fdccb8 54.8%,#fffbf9 55.9%,#aece84 59.3%,#78ad32 63.3%,#1b280b 78.5%,#030101 84.7%,#2b1208 93.8%,#321509 100%)"></i><i style="background:linear-gradient(90deg,#151f09 0%,#080c03 14.1%,#020100 17.5%,#953e1b 32.2%,#e66129 38.4%,#fa6a2e 39.5%,#fca17b 42.9%,#feded0 45.2%,#fff2ec 45.8%,#f6faf2 46.3%,#a7ca7a 48%,#86b649 48.6%,#659329 49.2%,#202f0d 50.3%,#080301 50.8%,#e46029 52.5%,#fb8250 53.1%,#fee1d5 54.8%,#fffaf8 55.4%,#a7c979 58.8%,#75ab30 62.1%,#46651c 69.5%,#010100 84.2%,#281107 94.9%,#2d1308 100%)"></i><i style="background:linear-gradient(90deg,#131b08 0%,#060902 14.7%,#060301 18.1%,#a6461e 35.6%,#ea622a 40.1%,#fa6f35 41.2%,#fca581 44.1%,#fed9ca 45.8%,#fef0ea 46.3%,#f5f9f0 46.9%,#bbd699 48%,#72a62e 49.2%,#25360f 50.3%,#090402 50.8%,#b24b20 52%,#fa6c32 52.5%,#fdbca1 53.7%,#fffaf8 54.8%,#aacc7f 57.6%,#7aae36 60.5%,#4b6d1e 66.7%,#010100 84.2%,#240f07 96%,#271007 100%)"></i><i style="background:linear-gradient(90deg,#101707 0%,#030401 15.8%,#0d0502 19.2%,#9c421c 36.7%,#e35f29 41.2%,#fa6c31 42.4%,#fc9b73 44.6%,#fed4c3 46.3%,#feeee7 46.9%,#f4f8ee 47.5%,#aece85 48.6%,#84b444 49.2%,#588024 49.7%,#2b3e11 50.3%,#0a0402 50.8%,#cd5625 52%,#fb8250 52.5%,#fed7c7 53.7%,#fff9f6 54.2%,#b0cf87 56.5%,#80b23e 58.8%,#70a32e 59.9%,#496b1e 65%,#010200 84.2%,#200e06 97.2%,#220e06 100%)"></i><i style="background:linear-gradient(90deg,#0e1405 0%,#050201 18.1%,#7f3517 36.2%,#b74d21 40.7%,#f8682d 43.5%,#fb8f62 45.2%,#fdcdb9 46.9%,#feebe2 47.5%,#f1f7ea 48%,#9cc369 49.2%,#67972a 49.7%,#334a15 50.3%,#0c0502 50.8%,#f0652b 52%,#fdcebb 53.1%,#fff8f5 53.7%,#e7f0da 54.2%,#b7d392 55.4%,#88b74c 57.1%,#74a82f 58.2%,#4d711f 62.1%,#24340e 72.3%,#030100 85.3%,#1c0c05 98.9%,#1c0c05 100%)"></i><i style="background:linear-gradient(90deg,#0b1004 0%,#050201 18.1%,#6c2d13 36.7%,#9e431d 41.2%,#dd5d28 44.1%,#fa7036 45.2%,#fca885 46.9%,#fee6dc 48%,#eef5e5 48.6%,#bcd69a 49.2%,#7eb13c 49.7%,#3e5a19 50.3%,#0f0603 50.8%,#9f431d 51.4%,#fb814e 52%,#fdc2a9 52.5%,#fff6f2 53.1%,#e1edd2 53.7%,#abcc80 54.8%,#79ae35 56.5%,#4e7220 59.9%,#2d4112 66.7%,#020100 85.3%,#170a04 100%)"></i><i style="background:linear-gradient(90deg,#080c03 0%,#050201 18.6%,#5a2610 37.9%,#8b3a19 42.4%,#bb4f22 44.6%,#fa6a2f 46.3%,#fb966c 47.5%,#fdb598 48%,#fedfd3 48.6%,#e9f1dd 49.2%,#a3c774 49.7%,#507521 50.3%,#130803 50.8%,#cd5625 51.4%,#fcab8a 52%,#fff3ee 52.5%,#d9e8c6 53.1%,#b5d290 53.7%,#85b546 54.8%,#74a92f 55.4%,#507521 57.6%,#314714 62.1%,#070a03 80.2%,#050201 87%,#120703 100%)"></i><i style="background:linear-gradient(90deg,#060902 0%,#050201 19.2%,#451d0d 39%,#702f14 43.5%,#a1441d 45.8%,#cd5625 46.9%,#ed632b 47.5%,#fb7b46 48%,#fc9f78 48.6%,#fed3c2 49.2%,#deebcd 49.7%,#70a32e 50.3%,#1c0c05 50.8%,#fb7d4a 51.4%,#feeee7 52%,#cce0b1 52.5%,#9fc56e 53.1%,#81b340 53.7%,#6c9e2c 54.2%,#4a6c1e 55.9%,#2d4212 59.3%,#141e08 68.9%,#040101 87%,#0c0502 100%)"></i><i style="background:linear-gradient(90deg,#030501 0%,#070301 22%,#2e1308 40.7%,#53230f 45.2%,#773215 46.9%,#a5451e 48%,#cd5625 48.6%,#fa743c 49.2%,#fdb89c 49.7%,#c0d9a0 50.3%,#311509 50.8%,#fedfd3 51.4%,#aece85 52%,#78ad32 52.5%,#5c8626 53.1%,#3f5c1a 54.2%,#23330e 57.1%,#0f1606 65%,#040201 89.3%,#070301 100%)"></i><i style="background:linear-gradient(90deg,#010100 0%,#0e0602 42.9%,#200e06 47.5%,#421c0c 49.2%,#642a12 49.7%,#cd5625 50.3%,#cd5625 50.8%,#507521 51.4%,#2b3e11 52%,#162009 53.1%,#070b03 57.6%,#020100 100%)"></i><i style="background:linear-gradient(90deg,#040201 0%,#070b03 35%,#151f09 45.2%,#2b3e11 48%,#47681d 49.2%,#6a9b2b 49.7%,#d4e5bd 50.3%,#2b3e11 50.8%,#fcab8a 51.4%,#cd5625 52%,#8d3b19 52.5%,#6c2d13 53.1%,#3f1a0b 54.8%,#200d06 58.8%,#030100 80.8%,#020301 100%)"></i><i style="background:linear-gradient(90deg,#090402 0%,#050702 22.6%,#1e2c0c 41.2%,#395317 45.8%,#547b22 47.5%,#7cb03a 48.6%,#a6c978 49.2%,#ecf3e2 49.7%,#fb8d5f 50.3%,#121a07 50.8%,#b5d290 51.4%,#fed7c7 52%,#fb9367 52.5%,#fa692d 53.1%,#cd5625 53.7%,#963f1b 54.8%,#612911 57.1%,#38180a 61.6%,#060201 81.4%,#040602 100%)"></i><i style="background:linear-gradient(90deg,#0f0603 0%,#040602 20.3%,#283b10 39.5%,#43621b 44.1%,#639028 46.3%,#70a32e 46.9%,#83b443 47.5%,#9dc36a 48%,#c0d9a0 48.6%,#f3f7ec 49.2%,#fdbda3 49.7%,#cd5625 50.3%,#0b1005 50.8%,#74a92f 51.4%,#d4e5bd 52%,#fee5da 52.5%,#fcb192 53.1%,#fb8d5f 53.7%,#fa723a 54.2%,#cd5625 55.4%,#8c3b19 57.6%,#592510 61.6%,#261007 72.3%,#010100 85.9%,#070a03 100%)"></i><i style="background:linear-gradient(90deg,#140804 0%,#040602 19.2%,#324914 38.4%,#4e7220 42.9%,#76ac31 45.8%,#99c164 46.9%,#cfe2b6 48%,#f6f9f1 48.6%,#fdd1be 49.2%,#fb8859 49.7%,#98401b 50.3%,#080c03 50.8%,#577f23 51.4%,#a1c671 52%,#e0ecd1 52.5%,#feebe4 53.1%,#fdc3ab 53.7%,#fb8b5c 54.8%,#f6672c 55.9%,#af4a20 58.2%,#743115 62.1%,#3a180a 71.2%,#010100 85.3%,#090e04 100%)"></i><i style="background:linear-gradient(90deg,#190b05 0%,#060201 15.3%,#070b03 20.3%,#3f5c1a 38.4%,#628f28 42.9%,#7baf38 44.6%,#a8ca7c 46.3%,#d8e7c4 47.5%,#f8fbf4 48%,#fedccd 48.6%,#f5672c 49.7%,#060903 50.8%,#45651c 51.4%,#80b23e 52%,#b8d494 52.5%,#e7f1db 53.1%,#feefe9 53.7%,#fcb294 54.8%,#fb7944 56.5%,#fa6c31 57.1%,#ab481f 60.5%,#702f14 65.5%,#020100 84.2%,#0c1105 100%)"></i><i style="background:linear-gradient(90deg,#1f0d06 0%,#0b0502 14.1%,#030401 18.1%,#46661c 37.3%,#67972a 41.8%,#75aa30 42.9%,#a3c774 45.2%,#deebcd 46.9%,#f9fbf6 47.5%,#fee2d7 48%,#fb8757 49.2%,#cd5625 49.7%,#050802 50.8%,#6a9b2b 52%,#9bc268 52.5%,#ecf3e2 53.7%,#fff2ed 54.2%,#fca986 55.9%,#fa7036 58.2%,#d85b27 59.9%,#99401c 63.8%,#341609 76.3%,#000 84.7%,#0e1506 100%)"></i><i style="background:linear-gradient(90deg,#240f07 0%,#100703 13.6%,#030401 18.1%,#517721 37.3%,#78ad33 41.8%,#adcd84 44.6%,#e2eed4 46.3%,#fafcf7 46.9%,#fee7dd 47.5%,#fc9c75 48.6%,#fa6f35 49.2%,#b04a20 49.7%,#040702 50.8%,#5b8525 52%,#84b545 52.5%,#d0e3b8 53.7%,#eff5e6 54.2%,#fff4f0 54.8%,#fcb394 56.5%,#fb7c48 58.8%,#fa6a2e 59.9%,#b34b20 63.8%,#51220f 74%,#000100 84.7%,#111807 98.9%,#111907 100%)"></i><i style="background:linear-gradient(90deg,#2a1208 0%,#150904 13%,#010201 17.5%,#598224 36.7%,#7baf37 40.7%,#a9cb7d 43.5%,#e6f0d9 45.8%,#fbfcf8 46.3%,#feeae2 46.9%,#fb8656 48.6%,#e56029 49.2%,#040602 50.8%,#73a82f 52.5%,#d7e7c2 54.2%,#f1f6ea 54.8%,#fff5f1 55.4%,#fdbb9f 57.1%,#fb7d49 59.9%,#f4662c 61.6%,#a7461e 66.7%,#060201 83.6%,#0b1004 89.3%,#141c08 100%)"></i><i style="background:linear-gradient(90deg,#2f1408 0%,#1a0b05 12.4%,#030401 18.1%,#68982a 37.3%,#7db03a 39.5%,#b0cf88 42.9%,#e9f1dd 45.2%,#fbfdf9 45.8%,#feede5 46.3%,#fc976d 48%,#fa743c 48.6%,#cd5625 49.2%,#030501 50.8%,#67962a 52.5%,#87b649 53.1%,#dceaca 54.8%,#f3f7ec 55.4%,#fff6f3 55.9%,#fcb395 58.2%,#fb7e4a 61%,#f8682d 62.7%,#a7461e 68.4%,#060201 83.6%,#162009 98.9%,#162009 100%)"></i><i style="background:linear-gradient(90deg,#351609 0%,#200e06 11.9%,#030401 18.1%,#78ad33 37.9%,#accd82 41.8%,#ebf3e0 44.6%,#fbfdfa 45.2%,#feefe8 45.8%,#fca47f 47.5%,#f3662c 48.6%,#030501 50.8%,#79ae34 53.1%,#c9dfae 54.8%,#f4f8ee 55.9%,#fff7f4 56.5%,#fdb99d 58.8%,#fb7f4b 62.1%,#f2662c 64.4%,#281107 80.2%,#000 84.2%,#172109 95.5%,#19240a 100%)"></i><i style="background:linear-gradient(90deg,#3a180a 0%,#271007 11.3%,#030401 18.1%,#7aae36 36.7%,#b2d08b 41.2%,#edf4e3 44.1%,#fcfdfa 44.6%,#fff0ea 45.2%,#fb9368 47.5%,#fa7741 48%,#df5d28 48.6%,#030401 50.8%,#6ea02d 53.1%,#b9d596 54.8%,#f5f9f0 56.5%,#fff8f5 57.1%,#fcb395 59.9%,#fb7842 63.8%,#f6672c 65.5%,#0a0402 83.1%,#030401 84.7%,#19250a 95.5%,#1b280b 100%)"></i><i style="background:linear-gradient(90deg,#401b0b 0%,#2b1208 11.3%,#020301 18.1%,#7baf37 35.6%,#aece85 40.1%,#eef5e5 43.5%,#fcfdfb 44.1%,#fedfd2 45.2%,#fb8555 47.5%,#fa6b2f 48%,#030401 50.8%,#659429 53.1%,#7cb03a 53.7%,#d4e5bd 55.9%,#f6f9f1 57.1%,#fff9f6 57.6%,#fdb89c 60.5%,#fb7943 65%,#ef642b 67.2%,#090402 83.1%,#040501 84.7%,#1b270b 94.9%,#1e2c0c 100%)"></i><i style="background:linear-gradient(90deg,#451d0c 0%,#321509 10.7%,#010201 18.1%,#7baf38 34.5%,#b3d18d 39.5%,#eff6e7 42.9%,#fcfdfb 43.5%,#fee2d6 44.6%,#fb9165 46.9%,#fb7944 47.5%,#ea622a 48%,#020301 50.8%,#73a72f 53.7%,#d7e7c3 56.5%,#f6faf2 57.6%,#fff9f7 58.2%,#fcb395 61.6%,#fa733c 66.7%,#f1652b 68.4%,#080301 83.1%,#050702 84.7%,#1d2a0c 94.4%,#202f0d 100%)"></i><i style="background:linear-gradient(90deg,#4b1f0d 0%,#37170a 10.7%,#060201 17.5%,#070b03 19.2%,#77ac31 32.8%,#b8d493 39%,#f1f6e9 42.4%,#fdfefb 42.9%,#fee4d9 44.1%,#fb8555 46.9%,#fa6e34 47.5%,#b14a20 48.6%,#020301 50.8%,#6b9c2c 53.7%,#7fb23e 54.2%,#dae9c8 57.1%,#f7faf3 58.2%,#fffaf8 58.8%,#fdb89b 62.1%,#fa743c 67.8%,#f1652b 69.5%,#5b2610 78%,#060301 83.1%,#030501 84.2%,#1d2b0c 92.7%,#23330e 100%)"></i><i style="background:linear-gradient(90deg,#50220e 0%,#3f1a0b 10.2%,#0f0603 16.9%,#030401 18.6%,#76ac30 31.6%,#bcd699 38.4%,#fdfefc 42.4%,#fed7c7 44.1%,#f3662c 47.5%,#020301 50.8%,#76ac30 54.2%,#cfe2b6 57.1%,#f8faf4 58.8%,#fffaf8 59.3%,#fcb496 63.3%,#f9682d 70.1%,#793316 76.8%,#0c0502 82.5%,#050702 84.2%,#202e0d 92.7%,#26370f 100%)"></i><i style="background:linear-gradient(90deg,#56240f 0%,#441d0c 10.2%,#1a0b05 16.4%,#010201 18.6%,#45641c 25.4%,#7aaf36 31.1%,#c7ddaa 38.4%,#fdfefc 41.8%,#fdcbb6 44.1%,#fa7139 46.9%,#e56029 47.5%,#020301 50.8%,#6fa22d 54.2%,#d2e4bb 57.6%,#f8fbf4 59.3%,#fffbf9 59.9%,#fdb89b 63.8%,#f6672c 71.2%,#813617 76.8%,#130803 81.9%,#010000 83.1%,#1e2c0c 90.4%,#283b10 100%)"></i><i style="background:linear-gradient(90deg,#5b2610 0%,#4a1f0d 10.2%,#1f0d05 16.4%,#010000 18.6%,#2d4212 23.2%,#73a82f 29.4%,#c3daa4 37.3%,#fdfefd 41.2%,#fdceba 43.5%,#fa692d 46.9%,#020301 50.8%,#79ae35 54.8%,#d5e5bf 58.2%,#f8fbf5 59.9%,#fffbfa 60.5%,#fdb496 65%,#fa6a2f 71.8%,#98401b 76.3%,#1b0b05 81.4%,#010201 83.1%,#1f2e0d 89.8%,#2b3f12 100%)"></i><i style="background:linear-gradient(90deg,#612911 0%,#50210e 10.2%,#240f06 16.4%,#020301 19.2%,#375016 23.7%,#75ab30 28.8%,#d4e5be 37.9%,#fefefd 40.7%,#fdc3ab 43.5%,#fa733c 46.3%,#ed632b 46.9%,#020201 50.8%,#73a72f 54.8%,#d7e7c3 58.8%,#f8fbf5 60.5%,#fffcfa 61%,#fcb192 66.1%,#f6672c 72.9%,#813617 77.4%,#180a04 81.4%,#020100 82.5%,#202f0d 89.3%,#2e4313 100%)"></i><i style="background:linear-gradient(90deg,#662b12 0%,#56240f 10.2%,#2a1208 16.4%,#020100 19.2%,#273910 22.6%,#71a52e 27.7%,#deebcd 37.9%,#fefffe 40.1%,#fdb99e 43.5%,#fa6c31 46.3%,#622912 49.2%,#020201 50.8%,#6d9f2c 54.8%,#8bb950 55.9%,#e4efd7 59.9%,#fffcfb 61.6%,#fdb598 66.7%,#fa692d 73.4%,#883918 77.4%,#200e06 80.8%,#020301 82.5%,#202f0d 88.1%,#304614 98.9%,#304714 100%)"></i><i style="background:linear-gradient(90deg,#6c2d13 0%,#5c2711 10.2%,#311509 16.4%,#010201 19.8%,#314714 23.2%,#72a62e 27.1%,#eff5e6 38.4%,#fff 39.5%,#fcb091 43.5%,#f3662c 46.3%,#020201 50.8%,#75ab30 55.4%,#d1e3b9 59.3%,#f8fbf5 61.6%,#fffdfc 62.1%,#fcb395 67.8%,#fa6b2f 74%,#a4451d 76.8%,#2b1208 80.2%,#010000 81.9%,#21300e 87.6%,#334a15 98.3%,#334a15 100%)"></i><i style="background:linear-gradient(90deg,#713014 0%,#622912 10.2%,#39180a 16.4%,#050201 19.8%,#131c08 21.5%,#72a62e 26.6%,#b9d595 32.8%,#fffffe 39%,#fdb597 42.9%,#fa6e35 45.8%,#cd5625 46.9%,#010201 50.8%,#70a42e 55.4%,#ddeacb 60.5%,#fffefd 62.7%,#fcb192 68.9%,#fa753e 74%,#fa6c31 74.6%,#c55323 76.3%,#251007 80.2%,#060201 81.4%,#24350f 87.6%,#364e16 98.3%,#364e16 100%)"></i><i style="background:linear-gradient(90deg,#773215 0%,#692c13 10.2%,#3b190b 16.9%,#010000 20.3%,#25350f 22.6%,#71a42e 26%,#a8ca7b 29.9%,#fffefd 38.4%,#fcac8b 42.9%,#f8682d 45.8%,#010201 50.8%,#78ad33 55.9%,#cbdfb0 59.9%,#fffffe 63.3%,#fcaa88 70.6%,#fa7741 74.6%,#fa6c31 75.1%,#d35926 76.3%,#311509 79.7%,#0b0502 80.8%,#020301 81.4%,#22310e 85.9%,#375016 95.5%,#385217 100%)"></i><i style="background:linear-gradient(90deg,#7c3416 0%,#6f2f14 10.2%,#441d0c 16.9%,#0d0502 20.3%,#010200 20.9%,#304614 23.2%,#6ea12d 25.4%,#90bc57 27.1%,#c1daa2 31.6%,#fffdfc 37.9%,#fcb091 42.4%,#fa7138 45.2%,#ef642b 45.8%,#010201 50.8%,#73a82f 55.9%,#d6e6c2 61%,#fefffe 63.8%,#fb8d5f 74%,#fa6b30 75.7%,#c65324 76.8%,#411b0c 79.1%,#000100 80.8%,#1e2b0c 84.2%,#375016 92.7%,#3b5618 100%)"></i><i style="background:linear-gradient(90deg,#823617 0%,#763215 10.2%,#4e210e 16.9%,#1c0c05 20.3%,#030401 21.5%,#2d4212 23.2%,#79ae34 25.4%,#9dc46b 27.1%,#d0e2b8 32.2%,#fcfdfa 36.7%,#fff4f0 37.9%,#fca987 42.4%,#fa6b30 45.2%,#4e210e 49.2%,#010201 50.8%,#7aaf36 56.5%,#cfe2b7 61%,#fdfefc 64.4%,#fc9b72 74%,#fb7944 75.7%,#f9692d 76.3%,#341609 79.1%,#020100 80.2%,#202e0d 83.6%,#395317 92.1%,#3e5a19 100%)"></i><i style="background:linear-gradient(90deg,#873918 0%,#7d3517 10.2%,#54230f 17.5%,#2d1308 20.3%,#040602 22%,#273910 23.2%,#74a92f 24.9%,#97c063 26%,#b8d494 28.2%,#fdfefc 36.2%,#fed3c2 39.5%,#fb7f4c 44.1%,#f4672c 45.2%,#010201 50.8%,#75ab30 56.5%,#d1e3b9 61.6%,#fcfdfa 65%,#fff6f2 66.1%,#fca17c 74.6%,#fb7944 76.3%,#ed642b 76.8%,#491f0d 78.5%,#030101 79.7%,#1f2d0d 82.5%,#3a5417 90.4%,#415e1a 100%)"></i><i style="background:linear-gradient(90deg,#8d3b19 0%,#853818 10.2%,#5c2610 18.1%,#36170a 20.9%,#040502 22.6%,#1a270b 23.2%,#68982a 24.3%,#89b74c 24.9%,#abcc80 26%,#cadfaf 28.8%,#fffffe 35.6%,#fdba9e 40.7%,#fa6d33 44.6%,#c05123 46.3%,#010200 50.8%,#71a52e 56.5%,#d2e4bb 62.1%,#fffefe 66.1%,#fcab8a 75.1%,#fb9165 76.3%,#fa7741 76.8%,#cd5625 77.4%,#743115 78%,#2c1308 78.5%,#010000 79.1%,#1b270b 80.8%,#354d15 86.4%,#43621b 98.9%,#43621b 100%)"></i><i style="background:linear-gradient(90deg,#923d1a 0%,#8c3b19 10.2%,#612912 19.2%,#3d190b 22%,#2a1208 22.6%,#030101 23.2%,#334b15 23.7%,#87b64a 24.3%,#abcc81 24.9%,#c2daa3 26%,#fdfefc 34.5%,#feeae1 36.7%,#fca07a 41.8%,#f9692d 44.6%,#010200 50.8%,#78ad33 57.1%,#cbe0b1 62.1%,#fdfefc 66.7%,#fdbba0 75.7%,#fcb192 76.3%,#fc9e78 76.8%,#fa6c32 77.4%,#4b200e 78%,#070a03 78.5%,#1e2c0c 79.7%,#354e16 84.7%,#46661d 97.7%,#46661c 100%)"></i><i style="background:linear-gradient(90deg,#97401b 0%,#923d1a 10.7%,#6b2d13 22.6%,#733015 23.2%,#bd4f22 23.7%,#e8f1dd 24.3%,#ddeacc 24.9%,#e5f0d8 29.4%,#fffefd 33.9%,#fdc6af 39%,#fa7036 44.1%,#de5d28 45.2%,#010200 50.8%,#74a92f 57.1%,#cce0b3 62.7%,#fff 67.8%,#fedacb 74.6%,#fedbcc 76.8%,#feefe8 77.4%,#48681d 78%,#354d16 78.5%,#3b5618 84.7%,#496a1e 98.9%,#496a1e 100%)"></i><i style="background:linear-gradient(90deg,#9d421c 0%,#99401c 10.7%,#863818 20.3%,#963f1b 22%,#a8471e 22.6%,#d05725 23.2%,#fb8656 23.7%,#fdceba 24.3%,#fff3ef 24.9%,#fbfcf9 25.4%,#eff5e7 27.1%,#fafcf7 31.6%,#fffaf7 33.3%,#fdc7b1 38.4%,#fa763f 43.5%,#fa6b30 44.1%,#6f2e14 48%,#010200 50.8%,#71a42e 57.1%,#cde1b4 63.3%,#fefffe 68.9%,#feede6 74%,#fff4f0 75.7%,#fffdfc 76.3%,#f0f6e8 76.8%,#c7ddaa 77.4%,#84b445 78%,#5d8826 78.5%,#4d711f 79.1%,#405d1a 80.8%,#4b6e1f 100%)"></i><i style="background:linear-gradient(90deg,#a2441d 0%,#a1441d 10.7%,#963f1b 19.2%,#ab481f 21.5%,#d35926 22.6%,#fa6a2f 23.2%,#fdb699 24.3%,#fed5c4 24.9%,#fff4f0 26%,#fff 27.1%,#fff8f5 32.2%,#fdceba 37.3%,#fb8656 42.4%,#f7682c 44.1%,#010200 50.8%,#76ac31 57.6%,#c1d9a1 62.7%,#eff6e7 67.8%,#fffefe 71.2%,#fafcf8 75.1%,#e8f1dc 76.3%,#d4e5be 76.8%,#72a72f 78.5%,#567e23 79.7%,#48691d 81.9%,#4e7120 100%)"></i><i style="background:linear-gradient(90deg,#a7461e 0%,#a8461e 11.3%,#a4451e 18.6%,#b94e21 20.9%,#d65a27 22%,#ef642b 22.6%,#fa7740 23.2%,#fdc3ab 24.9%,#fee1d6 26%,#fff5f1 28.2%,#feefe9 32.2%,#fdc8b1 37.3%,#fb8250 42.4%,#f1652b 44.1%,#010100 50.8%,#73a82f 57.6%,#c2daa3 63.3%,#ecf3e2 68.4%,#f7faf3 72.9%,#eaf2e0 75.1%,#d6e6c1 76.3%,#aece85 77.4%,#7eb13d 78.5%,#639028 79.7%,#507521 81.9%,#507521 91.5%,#507521 100%)"></i><i style="background:linear-gradient(90deg,#ac481f 0%,#b04a20 11.3%,#b24b20 18.6%,#cc5625 20.9%,#fa6d32 22.6%,#fdc7b1 25.4%,#fee2d6 27.1%,#feece5 29.9%,#fedacb 34.5%,#fca784 39.5%,#fa6b2f 43.5%,#672b12 48%,#010100 50.8%,#71a42e 57.6%,#c3daa4 63.8%,#e7f1db 68.9%,#edf4e3 72.9%,#ddebcc 75.1%,#bbd698 76.8%,#77ad31 79.1%,#5b8525 81.4%,#517621 86.4%,#537922 100%)"></i><i style="background:linear-gradient(90deg,#b14a20 0%,#b74d21 11.9%,#c05123 18.6%,#dc5c28 20.9%,#f9682d 22%,#fdc8b1 26%,#feded1 28.2%,#fedfd2 32.2%,#fdbca1 37.3%,#fb7a45 42.4%,#f7682d 43.5%,#3c190b 49.2%,#010100 50.8%,#76ac30 58.2%,#b8d494 63.3%,#deebcd 68.4%,#e4efd7 72.3%,#d3e4bc 75.1%,#a7c979 77.4%,#74a92f 79.7%,#5c8625 82.5%,#577f23 91%,#567d23 100%)"></i><i style="background:linear-gradient(90deg,#b64d21 0%,#bf5022 12.4%,#cc5625 18.6%,#f5672c 21.5%,#fb9266 23.7%,#fdc6b0 26.6%,#fed9ca 29.4%,#fed3c2 33.3%,#fcab8a 38.4%,#fa6e34 42.9%,#d25826 44.6%,#010100 50.8%,#74a92f 58.2%,#b9d595 63.8%,#dae8c6 68.9%,#dae9c8 72.9%,#c3daa4 75.7%,#7aae36 79.7%,#608c27 83.1%,#5b8425 93.8%,#588024 100%)"></i><i style="background:linear-gradient(90deg,#bb4f22 0%,#c75424 13%,#d75a27 18.6%,#fa6c32 21.5%,#fdbfa5 26.6%,#fed2c0 29.9%,#fdc7b1 34.5%,#fc9a72 39.5%,#fa6b30 42.9%,#883918 46.9%,#010100 50.8%,#72a62e 58.2%,#bad596 64.4%,#d5e5bf 69.5%,#d0e3b8 73.4%,#b5d28f 76.3%,#78ad33 80.2%,#628f28 84.2%,#5b8425 100%)"></i><i style="background:linear-gradient(90deg,#c05123 0%,#da5c27 17.5%,#fa6b30 20.9%,#fdbea3 27.1%,#fdccb7 31.1%,#fdbb9f 35.6%,#fb8959 40.7%,#fa692d 42.9%,#612911 48%,#010100 50.8%,#70a42e 58.2%,#b5d290 64.4%,#cfe2b6 69.5%,#cadfae 73.4%,#a9cb7e 76.8%,#77ad31 80.8%,#649128 85.9%,#5d8826 100%)"></i><i style="background:linear-gradient(90deg,#c55323 0%,#e36029 17.5%,#fa7037 20.9%,#fdb89b 27.1%,#fdc5ae 31.1%,#fdb699 35.6%,#fb8656 40.7%,#f7682c 42.9%,#602811 48%,#010100 50.8%,#68972a 57.6%,#7db03b 59.3%,#b2d08a 64.4%,#c9dfae 69.5%,#c4dba6 73.4%,#a1c670 77.4%,#77ad32 81.4%,#669529 87.6%,#5f8b27 100%)"></i><i style="background:linear-gradient(90deg,#ca5524 0%,#ec632b 17.5%,#fa7037 20.3%,#fdb79a 27.7%,#fdbfa5 32.2%,#fca682 37.3%,#f4662c 42.9%,#5f2811 48%,#010100 50.8%,#67962a 57.6%,#7caf38 59.3%,#aece85 64.4%,#c4dca6 69.5%,#bcd79a 74%,#78ad33 81.9%,#69982b 89.8%,#628e28 100%)"></i><i style="background:linear-gradient(90deg,#cf5725 0%,#f5672c 17.5%,#fb7d49 21.5%,#fcb294 27.7%,#fdba9e 32.2%,#fca27d 37.3%,#fa6c31 42.4%,#a6461e 45.8%,#010100 50.8%,#66952a 57.6%,#7aaf36 59.3%,#abcc80 64.4%,#c0d9a0 69.5%,#b8d494 74%,#79ae35 82.5%,#6a9b2b 93.8%,#649229 100%)"></i><i style="background:linear-gradient(90deg,#d35926 0%,#fa6d32 18.1%,#fc976e 24.3%,#fdb497 29.4%,#fcaf8f 34.5%,#fb8c5e 39.5%,#fa6b30 42.4%,#963f1b 46.3%,#010100 50.8%,#5f8a27 57.1%,#79ae35 59.3%,#a8ca7c 64.4%,#bcd69a 69.5%,#b5d28f 74%,#7baf37 83.1%,#6d9f2c 94.4%,#66952a 100%)"></i><i style="background:linear-gradient(90deg,#d85b27 0%,#fa6c31 16.4%,#fb8b5c 22.6%,#fcb090 28.8%,#fcae8d 33.9%,#fb8f62 39%,#fa6a2f 42.4%,#973f1b 46.3%,#010100 50.8%,#5f8a27 57.1%,#7fb13e 59.9%,#a9cb7d 65%,#b9d595 70.6%,#aacc7f 75.7%,#7db03a 83.6%,#72a62e 91.5%,#69982b 100%)"></i><i style="background:linear-gradient(90deg,#dd5d28 0%,#fa6a2f 13%,#fb7f4c 20.3%,#fcad8c 28.8%,#fca986 34.5%,#fb8959 39.5%,#fa6a2f 42.4%,#98401b 46.3%,#010100 50.8%,#588124 56.5%,#78ad34 59.3%,#a4c875 64.4%,#b6d391 70.1%,#accd81 75.1%,#7fb13e 84.2%,#72a62e 94.9%,#6b9c2b 100%)"></i><i style="background:linear-gradient(90deg,#e15f29 0%,#fa6b30 10.2%,#fb7f4c 19.8%,#fcaa88 28.8%,#fca682 34.5%,#fb8251 40.1%,#fa6a2f 42.4%,#9a411c 46.3%,#010100 50.8%,#598224 56.5%,#7eb13d 59.9%,#a5c877 65%,#b4d18d 70.6%,#a6c978 76.3%,#81b341 84.7%,#6d9f2c 100%)"></i><i style="background:linear-gradient(90deg,#e66029 0%,#fa6c31 7.9%,#fb814e 19.2%,#fca987 29.4%,#fca27d 35%,#fb7d49 40.7%,#fa6b30 42.4%,#ae491f 45.8%,#291107 49.7%,#010200 50.8%,#537a22 55.9%,#79ae34 59.3%,#a0c670 64.4%,#b2d08a 70.6%,#a3c774 76.8%,#82b443 85.9%,#6fa22d 100%)"></i><i style="background:linear-gradient(90deg,#ea622a 0%,#fa6e34 6.8%,#fb8655 19.8%,#fca885 29.4%,#fc9e77 35.6%,#fa7842 41.2%,#f4662c 42.9%,#903d1a 46.9%,#010200 50.8%,#4e7120 55.4%,#7aae36 59.3%,#a2c773 65%,#b0cf87 71.2%,#9dc36b 78.5%,#83b443 88.1%,#71a52e 100%)"></i><i style="background:linear-gradient(90deg,#ee642b 0%,#fa7138 6.8%,#fb8d5f 20.9%,#fca784 29.9%,#fc9a72 36.2%,#fa733b 41.8%,#f7682c 42.9%,#a6461e 46.3%,#2d1308 49.7%,#010200 50.8%,#48691d 54.8%,#75ab30 58.8%,#9fc56d 64.4%,#afce85 70.6%,#a0c670 78%,#85b547 88.7%,#73a82f 100%)"></i><i style="background:linear-gradient(90deg,#f2662c 0%,#fb7a45 10.7%,#fc976d 23.2%,#fca682 31.1%,#fb9266 37.9%,#fa692d 42.9%,#ad491f 46.3%,#491f0d 49.2%,#010200 50.8%,#4b6e1f 54.8%,#77ad32 58.8%,#9ec46d 64.4%,#aece84 71.2%,#9ac267 80.2%,#75ab30 100%)"></i><i style="background:linear-gradient(90deg,#f6672c 0%,#fc9a72 23.7%,#fca581 31.6%,#fb8f62 38.4%,#f5672c 43.5%,#a4451d 46.9%,#351609 49.7%,#010201 50.8%,#46671d 54.2%,#74aa2f 58.2%,#9ec46d 64.4%,#adcd84 71.2%,#99c166 81.4%,#77ad32 100%)"></i><i style="background:linear-gradient(90deg,#fa692d 0%,#fca581 29.9%,#fb956b 37.3%,#fa6f35 42.9%,#f0652b 44.1%,#ad491f 46.9%,#562410 49.2%,#010201 50.8%,#42601b 53.7%,#6d9f2c 57.1%,#8dba53 61%,#a9cb7d 67.8%,#aacb7e 75.1%,#7aae35 100%)"></i><i style="background:linear-gradient(90deg,#fa6c31 0%,#fca582 29.9%,#fb966c 37.3%,#fa6d33 43.5%,#e25f29 45.2%,#a7461e 47.5%,#602811 49.2%,#020201 50.8%,#3c5819 53.1%,#66952a 55.9%,#7baf37 58.2%,#9fc56f 64.4%,#adcd83 71.8%,#7cb039 100%)"></i><i style="background:linear-gradient(90deg,#fa6e34 0%,#fca581 27.7%,#fc9d76 35.6%,#fb7b46 42.4%,#f7682c 44.6%,#b54c21 47.5%,#6e2e14 49.2%,#020301 50.8%,#375016 52.5%,#5f8a27 54.8%,#7aaf37 57.6%,#a0c670 64.4%,#adce84 72.3%,#7eb13c 100%)"></i><i style="background:linear-gradient(90deg,#fa7037 0%,#fca37e 24.9%,#fca27d 33.9%,#fb8351 41.8%,#f8682d 45.2%,#c75424 47.5%,#823617 49.2%,#030401 50.8%,#405e1a 52.5%,#66952a 54.8%,#7fb23e 57.6%,#a3c875 65%,#aece84 73.4%,#83b443 98.9%,#80b23f 100%)"></i><i style="background:linear-gradient(90deg,#fa733a 0%,#fc9f78 21.5%,#fca682 32.2%,#fb8c5e 40.7%,#fa6b2f 45.8%,#cc5625 48%,#9e421c 49.2%,#773215 49.7%,#030501 50.8%,#3c5819 52%,#598224 53.1%,#78ad34 55.9%,#9ec46c 62.7%,#afce86 71.8%,#92bd5b 93.2%,#82b342 100%)"></i><i style="background:linear-gradient(90deg,#fa753d 0%,#fc9f78 19.8%,#fca784 31.6%,#fb8d60 41.2%,#fa6a2f 46.9%,#d95b27 48.6%,#c55323 49.2%,#a3451d 49.7%,#652a12 50.3%,#060902 50.8%,#375016 51.4%,#517621 52%,#68982a 53.1%,#7db03a 55.4%,#a2c672 63.3%,#b0cf87 72.9%,#90bc58 94.9%,#84b545 100%)"></i><i style="background:linear-gradient(90deg,#fa7740 0%,#fca07a 19.2%,#fca886 31.6%,#fb8d5f 42.4%,#f7682c 49.2%,#ea622a 49.7%,#cb5525 50.3%,#18240a 50.8%,#649229 51.4%,#75ab30 52.5%,#9fc56e 61.6%,#b1d089 71.8%,#9cc36a 90.4%,#86b648 100%)"></i><i style="background:linear-gradient(90deg,#fb7943 0%,#fca27d 18.6%,#fcaa88 31.6%,#fb8b5c 44.6%,#fb8453 48.6%,#fb9063 49.7%,#fcaa89 50.3%,#f3f8ed 50.8%,#aacc7f 51.4%,#97c062 52%,#8ebb54 53.7%,#b1d08a 70.1%,#a8cb7c 84.2%,#88b74b 100%)"></i><i style="background:linear-gradient(90deg,#fb7b46 0%,#fca580 18.6%,#fcab89 32.2%,#fb9165 46.9%,#fc9a72 48.6%,#fcb395 49.7%,#fafcf8 50.8%,#cfe2b7 51.4%,#b6d391 52%,#a2c672 53.1%,#9bc268 56.5%,#b4d18d 71.8%,#a3c774 89.3%,#8ab84e 100%)"></i><i style="background:linear-gradient(90deg,#fb7d49 0%,#fca784 18.6%,#fcac8b 32.8%,#fc9b73 46.3%,#fcac8b 48.6%,#fdc9b3 49.7%,#fcfdfa 50.8%,#cadfaf 52%,#b2d08a 53.1%,#a4c875 55.4%,#b5d28f 75.1%,#9ec46c 92.7%,#8cb951 100%)"></i><i style="background:linear-gradient(90deg,#fb7f4c 0%,#fca987 18.6%,#fcae8e 32.8%,#fca27d 45.2%,#fcb294 48%,#fed6c6 49.7%,#fdfefc 50.8%,#c9dead 52.5%,#b3d18b 54.2%,#a9cb7d 58.2%,#b7d392 75.7%,#a1c671 92.1%,#8eba54 100%)"></i><i style="background:linear-gradient(90deg,#fb814f 0%,#fcac8a 18.6%,#fcb090 33.3%,#fca885 44.6%,#fdb79a 47.5%,#fdd1be 49.2%,#fdfefd 50.8%,#d3e4bc 52.5%,#b8d493 54.8%,#aece85 59.3%,#b8d493 77.4%,#a1c672 92.7%,#8fbb56 100%)"></i><i style="background:linear-gradient(90deg,#fb8351 0%,#fcae8e 18.6%,#fcb192 33.9%,#fcaf8e 44.6%,#fdbfa6 47.5%,#fee4da 49.7%,#fefefd 50.8%,#d1e3b9 53.1%,#b9d595 55.9%,#b4d18d 62.7%,#b9d495 79.1%,#a2c672 93.2%,#91bc59 100%)"></i><i style="background:linear-gradient(90deg,#fb8554 0%,#fcb192 19.2%,#fcb394 35%,#fcb395 44.1%,#fdc7b0 47.5%,#fefefd 50.8%,#d0e3b8 53.7%,#bbd698 57.1%,#b9d596 66.7%,#b8d493 82.5%,#93bd5c 100%)"></i><i style="background:linear-gradient(90deg,#fb8756 0%,#fcb395 19.2%,#fdb597 36.2%,#fdb89c 44.1%,#fdcdb9 47.5%,#fefefe 50.8%,#d0e3b8 54.2%,#bdd79b 58.2%,#b9d595 83.1%,#94be5e 100%)"></i><i style="background:linear-gradient(90deg,#fb8859 0%,#fdb699 19.8%,#fdbca1 43.5%,#fed2c0 47.5%,#fefffe 50.8%,#d1e3b9 54.8%,#bed89d 59.9%,#bbd699 82.5%,#96bf61 100%)"></i><i style="background:linear-gradient(90deg,#fb8a5b 0%,#fdb89b 19.8%,#fdbfa5 42.9%,#fed7c7 47.5%,#fefffe 50.8%,#d5e6c0 54.8%,#c2daa3 59.9%,#bcd69a 83.6%,#98c063 100%)"></i><i style="background:linear-gradient(90deg,#fb8c5e 0%,#fdba9f 20.3%,#fdc3ab 42.9%,#fedbcc 47.5%,#fefffe 50.8%,#d5e6c0 55.4%,#c4dba6 61%,#bed79c 83.6%,#99c165 100%)"></i><i style="background:linear-gradient(90deg,#fb8e60 0%,#fdbca2 20.3%,#fdc5ae 42.4%,#feded1 47.5%,#fefffe 50.8%,#d6e6c0 55.9%,#c6dca8 62.7%,#bfd89f 83.6%,#9bc268 100%)"></i><i style="background:linear-gradient(90deg,#fb8f63 0%,#fdbfa5 20.9%,#fdc9b3 42.4%,#fee5db 48%,#fefffe 50.8%,#d6e6c1 56.5%,#c8deac 63.8%,#c1d9a1 83.6%,#9cc36a 100%)"></i><i style="background:linear-gradient(90deg,#fb9165 0%,#fdc1a8 21.5%,#fdccb8 42.4%,#fee8de 48%,#fffffe 50.8%,#d7e7c2 57.1%,#cadfaf 65.5%,#c2daa2 84.2%,#9ec46c 100%)"></i><i style="background:linear-gradient(90deg,#fb9267 0%,#fdc3ac 22%,#fdcfbc 42.4%,#feeee7 48.6%,#fffffe 50.8%,#d8e7c4 57.6%,#cce0b2 67.2%,#c3dba4 84.2%,#9fc56e 100%)"></i><i style="background:linear-gradient(90deg,#fb9469 0%,#fdc5ae 22%,#fed2c0 42.4%,#fff3ee 49.2%,#fffffe 50.8%,#d9e8c5 58.2%,#cee1b5 69.5%,#c3dba4 84.7%,#a1c670 100%)"></i><i style="background:linear-gradient(90deg,#fb956b 0%,#fdc7b1 22.6%,#fed5c4 42.4%,#fff8f5 49.7%,#fffffe 50.8%,#dbe9c9 58.2%,#d0e2b8 69.5%,#c4dba6 84.7%,#a2c772 100%)"></i><i style="background:linear-gradient(90deg,#fc976d 0%,#fdc9b4 23.2%,#fed7c8 42.4%,#fff 50.8%,#dceaca 58.8%,#d1e3ba 72.3%,#c3daa4 85.9%,#a3c774 100%)"></i><i style="background:linear-gradient(90deg,#fc986f 0%,#fdcbb7 23.7%,#fedacb 42.4%,#fff 50.8%,#ddeacb 59.3%,#c6dca9 84.7%,#a5c876 100%)"></i><i style="background:linear-gradient(90deg,#fc9a71 0%,#fdcdba 24.3%,#fedcce 42.4%,#fff 50.8%,#deebcd 59.9%,#c8deac 84.2%,#a6c978 100%)"></i><i style="background:linear-gradient(90deg,#fc9b73 0%,#fdcfbc 24.9%,#fee0d3 42.9%,#fff 50.8%,#dfebce 60.5%,#c9dead 84.2%,#a7ca7a 100%)"></i><i style="background:linear-gradient(90deg,#fc9d75 0%,#fdd1bf 25.4%,#fee2d6 42.9%,#fff 50.8%,#e0ecd0 61%,#cbdfb0 83.6%,#a8ca7c 100%)"></i><i style="background:linear-gradient(90deg,#fc9e77 0%,#fed3c1 26%,#fee5da 43.5%,#fdfefb 51.4%,#e0ecd0 62.1%,#cbe0b1 83.6%,#a9cb7e 100%)"></i><i style="background:linear-gradient(90deg,#fc9f79 0%,#fed5c5 27.1%,#fee8df 44.1%,#fdfefc 51.4%,#e1edd2 62.7%,#cde1b3 83.1%,#abcc80 100%)"></i><i style="background:linear-gradient(90deg,#fca17b 0%,#fed7c7 27.7%,#fee9e1 44.1%,#fdfefc 51.4%,#e2edd3 63.3%,#cee1b4 83.1%,#accd81 100%)"></i><i style="background:linear-gradient(90deg,#fca27d 0%,#fed9c9 28.2%,#feeee7 45.2%,#fdfefc 51.4%,#e3eed5 63.8%,#cde1b4 83.6%,#adcd83 100%)"></i><i style="background:linear-gradient(90deg,#fca37e 0%,#fedbcc 29.4%,#fff0ea 45.8%,#fdfefc 51.4%,#e3eed5 65%,#cde1b3 84.2%,#aece85 100%)"></i><i style="background:linear-gradient(90deg,#fca480 0%,#fedccf 29.9%,#fff3ee 46.3%,#fdfefc 51.4%,#e4efd6 65.5%,#cbe0b1 85.3%,#afcf86 100%)"></i><i style="background:linear-gradient(90deg,#fca582 0%,#feded1 30.5%,#fff6f3 47.5%,#fdfefd 51.4%,#e4efd7 66.7%,#c7ddaa 88.1%,#b0cf88 100%)"></i><i style="background:linear-gradient(90deg,#fca783 0%,#fedfd3 31.1%,#fff9f7 48.6%,#fcfdfb 52%,#e4eed6 68.9%,#b8d493 96.6%,#b1d089 100%)"></i><i style="background:linear-gradient(90deg,#fca885 0%,#fee1d6 32.2%,#fcfdfb 52%,#e1edd2 72.3%,#b2d08b 100%)"></i><i style="background:linear-gradient(90deg,#fca986 0%,#fee3d8 32.8%,#fdfefb 52%,#bfd89e 93.8%,#b3d18c 100%)"></i><i style="background:linear-gradient(90deg,#fcaa88 0%,#fee5da 33.9%,#fdfefc 52%,#c0d99f 93.8%,#b4d28e 100%)"></i></div>
<div class="pm" style="left:479.2px;top:609.8px;width:178.5px;height:178.3px;--rh:1px"><i style="background:linear-gradient(90deg,#557c23 0%,#070a03 17.3%,#050201 19%,#be5022 32.4%,#fa6a2e 36.3%,#fefefd 50.8%,#75ab30 65.4%,#040602 82.1%,#0b0502 83.8%,#973f1b 97.8%,#a9471e 100%)"></i><i style="background:linear-gradient(90deg,#567d23 0%,#080c03 17.3%,#030101 19%,#bc4f22 32.4%,#fa692d 36.3%,#fefefd 50.8%,#74aa2f 65.4%,#070a03 81.6%,#000 82.7%,#8f3c1a 96.6%,#ab481f 100%)"></i><i style="background:linear-gradient(90deg,#577f23 0%,#0c1105 16.8%,#010000 19%,#bb4e22 32.4%,#f9692d 36.3%,#fefefd 50.8%,#74a92f 65.4%,#060802 81.6%,#080301 83.2%,#963f1b 97.2%,#ad491f 100%)"></i><i style="background:linear-gradient(90deg,#588024 0%,#0d1305 16.8%,#000100 19%,#a8471e 31.3%,#fa6d33 36.9%,#fefefd 50.8%,#73a82f 65.4%,#050702 81.6%,#0a0402 83.2%,#98401b 97.2%,#af491f 100%)"></i><i style="background:linear-gradient(90deg,#598124 0%,#0e1406 16.8%,#040201 19.6%,#c05123 33%,#fa6c32 36.9%,#fefefd 50.8%,#73a72f 65.4%,#040602 81.6%,#060201 82.7%,#903d1a 96.1%,#b14a20 100%)"></i><i style="background:linear-gradient(90deg,#5a8324 0%,#0f1606 16.8%,#020100 19.6%,#b64c21 32.4%,#fa6c31 36.9%,#fefefd 50.8%,#76ac31 64.8%,#060902 81%,#010000 82.1%,#8d3b19 95.5%,#b34b20 100%)"></i><i style="background:linear-gradient(90deg,#5b8425 0%,#101706 16.8%,#000 19.6%,#b44c20 32.4%,#fa6b30 36.9%,#fefefd 50.8%,#76ab30 64.8%,#050702 81%,#0a0402 82.7%,#943e1b 96.1%,#b54c21 100%)"></i><i style="background:linear-gradient(90deg,#5b8525 0%,#111907 16.8%,#040201 20.1%,#bb4f22 33%,#fa6a2e 36.9%,#fefefd 50.8%,#75aa30 64.8%,#070b03 80.4%,#050201 82.1%,#923d1a 95.5%,#b74d21 100%)"></i><i style="background:linear-gradient(90deg,#5c8726 0%,#121a07 16.8%,#020100 20.1%,#ba4e21 33%,#fa692d 36.9%,#fefefd 50.8%,#74a92f 64.8%,#060903 80.4%,#010000 81.6%,#8f3c1a 95%,#b94e21 100%)"></i><i style="background:linear-gradient(90deg,#5d8826 0%,#131c08 16.8%,#000 20.1%,#af491f 32.4%,#f9682d 36.9%,#fefefd 50.8%,#74a82f 64.8%,#050802 80.4%,#0a0402 82.1%,#963f1b 95.5%,#bb4e22 100%)"></i><i style="background:linear-gradient(90deg,#5e8a26 0%,#141d08 16.8%,#040201 20.7%,#bf5022 33.5%,#fa6d32 37.4%,#fefefd 50.8%,#73a72f 64.8%,#040602 80.4%,#050201 81.6%,#933e1b 95%,#bd4f22 100%)"></i><i style="background:linear-gradient(90deg,#5f8b27 0%,#151f09 16.8%,#020100 20.7%,#b44c20 33%,#fa6c31 37.4%,#fefefd 50.8%,#77ac31 64.2%,#060903 79.9%,#010000 81%,#8c3b19 93.9%,#bf5022 100%)"></i><i style="background:linear-gradient(90deg,#618d27 0%,#172109 16.8%,#000 20.7%,#a9471e 32.4%,#fa6b30 37.4%,#fefefd 50.8%,#76ac30 64.2%,#090d03 79.3%,#030101 81%,#8e3c1a 93.9%,#c15123 100%)"></i><i style="background:linear-gradient(90deg,#628e28 0%,#18230a 16.8%,#040201 21.2%,#b94e21 33.5%,#fa6a2e 37.4%,#fefefd 50.8%,#75aa30 64.2%,#070b03 79.3%,#060201 81%,#903d1a 93.9%,#c45223 100%)"></i><i style="background:linear-gradient(90deg,#639028 0%,#1c290b 16.2%,#010100 21.2%,#b74d21 33.5%,#fa692d 37.4%,#fefefd 50.8%,#74a92f 64.2%,#060902 79.3%,#010100 80.4%,#8e3c1a 93.3%,#c65324 100%)"></i><i style="background:linear-gradient(90deg,#649129 0%,#1d2b0c 16.2%,#010100 21.2%,#a2441d 32.4%,#f8682d 37.4%,#fefefd 50.8%,#73a82f 64.2%,#050702 79.3%,#0b0502 81%,#963f1b 93.9%,#c95424 100%)"></i><i style="background:linear-gradient(90deg,#659329 0%,#1f2d0c 16.2%,#030101 21.8%,#b24b20 33.5%,#fa6d32 38%,#fefefd 50.8%,#77ad32 63.7%,#070a03 78.8%,#000 79.9%,#8e3c1a 92.7%,#cb5525 100%)"></i><i style="background:linear-gradient(90deg,#66952a 0%,#202f0d 16.2%,#000 21.8%,#b04a20 33.5%,#fa6c31 38%,#fefefd 50.8%,#76ac30 63.7%,#090d04 78.2%,#030100 79.9%,#8b3b19 92.2%,#cd5625 100%)"></i><i style="background:linear-gradient(90deg,#67962a 0%,#21310e 16.2%,#010201 21.8%,#883919 31.3%,#fa6a2f 38%,#fefefd 50.8%,#75ab30 63.7%,#080b03 78.2%,#060201 79.9%,#8e3c1a 92.2%,#d05725 100%)"></i><i style="background:linear-gradient(90deg,#68982a 0%,#23330e 16.2%,#020100 22.3%,#b54c21 34.1%,#fa692d 38%,#fefefd 50.8%,#74a92f 63.7%,#0a0f04 77.7%,#010100 79.3%,#8c3b19 91.6%,#d35826 100%)"></i><i style="background:linear-gradient(90deg,#6a9a2b 0%,#24350f 16.2%,#010100 22.3%,#9f431d 33%,#f8682d 38%,#fefefd 50.8%,#73a82f 63.7%,#090d04 77.7%,#040201 79.3%,#8f3c1a 91.6%,#d55a26 100%)"></i><i style="background:linear-gradient(90deg,#6b9c2b 0%,#26370f 16.2%,#030101 22.9%,#af4a20 34.1%,#fa6d32 38.5%,#fefefd 50.8%,#77ad32 63.1%,#070a03 77.7%,#000 78.8%,#8c3b19 91.1%,#d85b27 100%)"></i><i style="background:linear-gradient(90deg,#6c9e2c 0%,#273910 16.2%,#000 22.9%,#ad491f 34.1%,#fa6c31 38.5%,#fefefd 50.8%,#76ac30 63.1%,#090d04 77.1%,#030101 78.8%,#8f3c1a 91.1%,#db5c27 100%)"></i><i style="background:linear-gradient(90deg,#6d9f2c 0%,#293b11 16.2%,#040201 23.5%,#b44c20 34.6%,#fa6a2f 38.5%,#fefefd 50.8%,#75aa30 63.1%,#0b1105 76.5%,#000100 78.2%,#933e1a 91.1%,#dd5d28 100%)"></i><i style="background:linear-gradient(90deg,#6fa12d 0%,#2a3e11 16.2%,#000 23.5%,#b14a20 34.6%,#fa692d 38.5%,#fefefd 50.8%,#74a92f 63.1%,#0a0e04 76.5%,#030100 78.2%,#8b3a19 89.9%,#e05e28 100%)"></i><i style="background:linear-gradient(90deg,#70a32e 0%,#2c4012 16.2%,#010201 23.5%,#7d3517 31.8%,#f7682c 38.5%,#fefefd 50.8%,#73a72f 63.1%,#080c03 76.5%,#010100 77.7%,#943e1b 90.5%,#e35f29 100%)"></i><i style="background:linear-gradient(90deg,#71a52e 0%,#2e4313 16.2%,#010000 24%,#ab481f 34.6%,#fa6c32 39.1%,#fefefd 50.8%,#77ac31 62.6%,#0a0f04 76%,#020100 77.7%,#8c3b19 89.4%,#e66129 100%)"></i><i style="background:linear-gradient(90deg,#73a72f 0%,#2f4513 16.2%,#010201 24%,#803617 32.4%,#fa6b30 39.1%,#fefefd 50.8%,#75ab30 62.6%,#0c1205 75.4%,#010100 77.1%,#953f1b 89.9%,#e9622a 100%)"></i><i style="background:linear-gradient(90deg,#74a92f 0%,#344c15 15.6%,#010100 24.6%,#af4a20 35.2%,#fa692d 39.1%,#fefefd 50.8%,#74a92f 62.6%,#0b0f04 75.4%,#020100 77.1%,#883918 88.3%,#ec632a 100%)"></i><i style="background:linear-gradient(90deg,#75ab30 0%,#364e16 15.6%,#010200 24.6%,#833718 33%,#f8682d 39.1%,#fefefd 50.8%,#73a72f 62.6%,#090d04 75.4%,#060201 77.1%,#8c3b19 88.3%,#ef642b 100%)"></i><i style="background:linear-gradient(90deg,#77ad32 0%,#385117 15.6%,#010100 25.1%,#a8471e 35.2%,#fa6d32 39.7%,#fefefd 50.8%,#77ad32 62%,#0b1004 74.9%,#020100 76.5%,#8a3a19 87.7%,#f2662c 100%)"></i><i style="background:linear-gradient(90deg,#79ae34 0%,#3f5c1a 14.5%,#010201 25.1%,#7c3416 33%,#fa6b30 39.7%,#fefefd 50.8%,#76ab30 62%,#0d1305 74.3%,#010200 76%,#933e1b 88.3%,#f5672c 100%)"></i><i style="background:linear-gradient(90deg,#7aaf37 0%,#44631c 14%,#010100 25.7%,#ac481f 35.8%,#fa692e 39.7%,#fefefd 50.8%,#74a92f 62%,#0b1004 74.3%,#020100 76%,#863818 86.6%,#f5672c 99.4%,#f8682d 100%)"></i><i style="background:linear-gradient(90deg,#7cb039 0%,#4b6d1e 12.8%,#010201 25.7%,#743115 33%,#f8682d 39.7%,#fefefd 50.8%,#79ae34 61.5%,#090d04 74.3%,#010100 75.4%,#903c1a 87.2%,#f8682d 99.4%,#fa6a2e 100%)"></i><i style="background:linear-gradient(90deg,#7eb13c 0%,#66952a 6.7%,#212f0d 21.2%,#010000 26.3%,#a4451e 35.8%,#fa6d32 40.2%,#fefefd 50.8%,#77ad31 61.5%,#0f1606 73.2%,#030100 75.4%,#883919 86%,#f7682d 98.9%,#fa6c31 100%)"></i><i style="background:linear-gradient(90deg,#80b23f 0%,#6a9b2b 6.1%,#26370f 20.7%,#040201 26.8%,#ac481f 36.3%,#fa6b30 40.2%,#fefefd 50.8%,#75ab30 61.5%,#0d1305 73.2%,#010100 74.9%,#8d3b19 86%,#f7682c 98.3%,#fa6e34 100%)"></i><i style="background:linear-gradient(90deg,#82b341 0%,#6c9d2c 6.1%,#283b10 20.7%,#000 26.8%,#9c421c 35.8%,#fa692d 40.2%,#fdfefd 50.8%,#74a92f 61.5%,#0f1606 72.6%,#040201 74.9%,#8b3a19 85.5%,#f6682c 97.8%,#fa7037 100%)"></i><i style="background:linear-gradient(90deg,#83b444 0%,#6ea02d 6.1%,#2a3e11 20.7%,#030101 27.4%,#a3451d 36.3%,#f7682c 40.2%,#fdfefd 50.8%,#78ad33 60.9%,#0d1205 72.6%,#000 74.3%,#843718 84.4%,#f2662c 96.6%,#fa723a 100%)"></i><i style="background:linear-gradient(90deg,#85b547 0%,#6d9f2c 6.7%,#2d4112 20.7%,#010100 27.4%,#893919 35.2%,#fa6d32 40.8%,#fdfefd 50.8%,#76ac31 60.9%,#0f1506 72.1%,#050201 74.3%,#883919 84.4%,#f6672c 96.6%,#fa743d 100%)"></i><i style="background:linear-gradient(90deg,#87b64a 0%,#6fa22d 6.7%,#2f4513 20.7%,#020100 27.9%,#a6461e 36.9%,#fa6a2f 40.8%,#fdfefd 50.8%,#75aa2f 60.9%,#111807 71.5%,#010100 73.7%,#873918 83.8%,#f6672c 96.1%,#fa7640 100%)"></i><i style="background:linear-gradient(90deg,#89b84d 0%,#6fa22d 7.3%,#2e4313 21.2%,#020201 27.9%,#692c13 34.1%,#f9682d 40.8%,#fdfefd 50.8%,#7aae35 60.3%,#0a0e04 72.1%,#010100 73.2%,#923d1a 84.4%,#fa692d 96.1%,#fb7943 100%)"></i><i style="background:linear-gradient(90deg,#8bb950 0%,#6fa22d 7.8%,#2d4212 21.8%,#000 28.5%,#9d421c 36.9%,#f5672c 40.8%,#fdfefd 50.8%,#77ad32 60.3%,#101707 70.9%,#030101 73.2%,#843818 82.7%,#f1652b 94.4%,#fa7640 98.9%,#fb7b46 100%)"></i><i style="background:linear-gradient(90deg,#8dba53 0%,#6fa22d 8.4%,#304613 21.8%,#040201 29.1%,#a4451e 37.4%,#fa6c31 41.3%,#fdfefc 50.8%,#75ab30 60.3%,#121a07 70.4%,#000 72.6%,#833718 82.1%,#f1652b 93.9%,#fa743d 97.8%,#fb7d49 100%)"></i><i style="background:linear-gradient(90deg,#8fbb56 0%,#6fa22d 8.9%,#2f4513 22.3%,#010100 29.1%,#873918 36.3%,#fa692d 41.3%,#fdfefc 50.8%,#73a82f 60.3%,#0f1606 70.4%,#020201 72.1%,#953f1b 83.2%,#fa692d 94.4%,#fb7f4c 100%)"></i><i style="background:linear-gradient(90deg,#91bc59 0%,#6fa22d 9.5%,#2e4413 22.9%,#010100 29.6%,#9a411c 37.4%,#f6672c 41.3%,#fdfefc 50.8%,#78ad34 59.8%,#111907 69.8%,#020100 72.1%,#813617 81%,#ed642b 92.2%,#fa6e34 95%,#fb824f 100%)"></i><i style="background:linear-gradient(90deg,#93be5c 0%,#6fa22d 10.1%,#314814 22.9%,#050201 30.2%,#a1441d 38%,#fa6c32 41.9%,#fdfefc 50.8%,#76ac30 59.8%,#131c08 69.3%,#000100 71.5%,#873918 81%,#f2662c 92.2%,#fa7741 96.6%,#fb8453 100%)"></i><i style="background:linear-gradient(90deg,#95bf5f 0%,#6fa22d 10.6%,#314714 23.5%,#010100 30.2%,#823717 36.9%,#fa6a2e 41.9%,#fdfefc 50.8%,#74a92f 59.8%,#101807 69.3%,#020301 70.9%,#99401c 82.1%,#fa692e 92.7%,#fb8656 100%)"></i><i style="background:linear-gradient(90deg,#97c062 0%,#70a32d 11.2%,#304614 24%,#020100 30.7%,#963f1b 38%,#f7682c 41.9%,#fdfefc 50.8%,#79ae35 59.2%,#0d1305 69.3%,#020100 70.9%,#853818 79.9%,#f3662c 91.1%,#fb814e 97.8%,#fb8959 100%)"></i><i style="background:linear-gradient(90deg,#99c165 0%,#70a32e 11.7%,#334b15 24%,#050201 31.3%,#9d421c 38.5%,#fa6d33 42.5%,#fdfefc 50.8%,#77ac31 59.2%,#141d08 68.2%,#000 70.4%,#853818 79.3%,#ef642b 89.9%,#fa7239 93.3%,#fb8b5d 100%)"></i><i style="background:linear-gradient(90deg,#9cc369 0%,#70a42e 12.3%,#334a15 24.6%,#010200 31.3%,#7c3416 37.4%,#fa6a2f 42.5%,#fdfefc 50.8%,#74a92f 59.2%,#162009 67.6%,#020301 69.8%,#923d1a 79.9%,#f8682d 90.5%,#fb8d60 100%)"></i><i style="background:linear-gradient(90deg,#9ec46c 0%,#6ea12d 13.4%,#2f4413 25.7%,#010000 31.8%,#9e421c 39.1%,#f7682c 42.5%,#fdfefc 50.8%,#7aae35 58.7%,#131b08 67.6%,#030101 69.8%,#843718 78.2%,#f0652b 88.8%,#fa733b 92.2%,#fb9063 100%)"></i><i style="background:linear-gradient(90deg,#a0c56f 0%,#6fa12d 14%,#324914 25.7%,#040201 32.4%,#98401b 39.1%,#fa6e34 43%,#fdfefc 50.8%,#77ac31 58.7%,#151e08 67%,#000 69.3%,#7c3416 77.1%,#e8612a 87.2%,#fa6e34 90.5%,#fb9267 100%)"></i><i style="background:linear-gradient(90deg,#a2c773 0%,#6fa22d 14.5%,#324814 26.3%,#020301 32.4%,#4d210e 36.3%,#fa6a2f 43%,#fdfefc 50.8%,#74a92f 58.7%,#172109 66.5%,#010200 68.7%,#8b3a19 77.7%,#f2662c 87.7%,#fb7b46 92.7%,#fb956b 100%)"></i><i style="background:linear-gradient(90deg,#a4c876 0%,#70a32d 15.1%,#314814 26.8%,#010100 33%,#8a3a19 39.1%,#f7682c 43%,#fdfefc 50.8%,#7aae36 58.1%,#131c08 66.5%,#030401 68.2%,#2e1308 70.9%,#a6461e 79.3%,#fa6b2f 88.3%,#fc976e 100%)"></i><i style="background:linear-gradient(90deg,#a7c97a 0%,#70a42e 15.6%,#354e16 26.8%,#020100 33.5%,#913d1a 39.7%,#fa6e34 43.6%,#fdfefc 50.8%,#77ac31 58.1%,#151e08 65.9%,#030101 68.2%,#7c3416 75.4%,#e66129 84.9%,#fa6e34 88.3%,#fc9a72 100%)"></i><i style="background:linear-gradient(90deg,#a9cb7d 0%,#71a52e 16.2%,#354d16 27.4%,#040201 34.1%,#98401b 40.2%,#fa6a2f 43.6%,#fdfefc 50.8%,#74a92f 58.1%,#172109 65.4%,#000 67.6%,#7c3416 74.9%,#e8612a 84.4%,#fa6f35 87.7%,#fc9d75 100%)"></i><i style="background:linear-gradient(90deg,#abcc81 0%,#79ae35 15.1%,#44631c 25.7%,#020301 34.1%,#3a180a 36.9%,#d35826 42.5%,#f6672c 43.6%,#fdfefc 50.8%,#7aae36 57.5%,#131b08 65.4%,#010200 67%,#8c3b19 75.4%,#f3662c 84.9%,#fb9368 96.1%,#fc9f79 100%)"></i><i style="background:linear-gradient(90deg,#aece84 0%,#7db03a 15.1%,#4f7320 24.6%,#0c1105 33.5%,#010100 34.6%,#793316 39.7%,#fa6e34 44.1%,#fdfefb 50.8%,#76ac30 57.5%,#1b270b 64.2%,#030401 66.5%,#943e1b 75.4%,#fa692d 84.9%,#fca07b 99.4%,#fca27d 100%)"></i><i style="background:linear-gradient(90deg,#b0cf88 0%,#7eb13c 15.6%,#649229 21.2%,#293b10 30.7%,#010000 35.2%,#903c1a 40.8%,#fa6a2e 44.1%,#fdfefb 50.8%,#7db03b 57%,#618e28 58.7%,#0a0e04 65.4%,#040201 66.5%,#7d3517 73.2%,#e25f29 81.6%,#fa6d33 84.9%,#fca37e 99.4%,#fca581 100%)"></i><i style="background:linear-gradient(90deg,#b2d18b 0%,#81b341 15.6%,#6b9c2b 20.7%,#2d4212 30.7%,#030101 35.8%,#98401b 41.3%,#f4672c 44.1%,#fee6dd 49.7%,#fdfdfb 50.8%,#79ae35 57%,#121a07 64.2%,#020100 65.9%,#7e3517 72.6%,#e46029 81%,#fa6b30 83.8%,#fca37e 98.3%,#fca784 100%)"></i><i style="background:linear-gradient(90deg,#b5d28f 0%,#85b547 15.6%,#6ea12d 20.7%,#364f16 30.2%,#030501 35.8%,#130803 36.9%,#a1431d 41.9%,#fa6d33 44.7%,#fff4ef 50.3%,#fcfdfb 50.8%,#76ab30 57%,#1a260b 63.1%,#000 65.4%,#7f3517 72.1%,#e7612a 80.4%,#fa6d33 83.2%,#fca37e 97.2%,#fcaa88 100%)"></i><i style="background:linear-gradient(90deg,#b7d493 0%,#89b74c 15.6%,#70a32d 21.2%,#364f16 30.7%,#020301 36.3%,#240f07 38%,#bd4f22 43%,#fa692d 44.7%,#fff3ef 50.3%,#fcfdfb 50.8%,#7db03a 56.4%,#5f8a27 58.1%,#080b03 64.2%,#010201 64.8%,#893919 72.1%,#ef642b 80.4%,#fa7139 83.2%,#fca784 97.8%,#fcad8c 100%)"></i><i style="background:linear-gradient(90deg,#bad596 0%,#8dba52 15.6%,#71a52e 21.8%,#375016 31.3%,#010201 36.9%,#692c13 40.8%,#f2652b 44.7%,#fb8c5e 46.4%,#fff3ee 50.3%,#fcfdfb 50.8%,#79ae34 56.4%,#172209 62.6%,#020401 64.2%,#933e1a 72.1%,#f7682c 80.4%,#fca27d 95%,#fcb090 100%)"></i><i style="background:linear-gradient(90deg,#bcd79a 0%,#8ebb55 16.2%,#70a32d 22.9%,#385117 31.8%,#000100 37.4%,#823717 41.9%,#fa6c32 45.3%,#fff2ed 50.3%,#fcfdfb 50.8%,#74aa2f 56.4%,#19250a 62%,#040501 63.7%,#140804 64.8%,#833718 70.4%,#e9622a 78.2%,#fa6c31 80.4%,#fca37e 93.9%,#fcb394 100%)"></i><i style="background:linear-gradient(90deg,#bfd89e 0%,#92bd5b 16.2%,#6fa12d 24%,#344b15 33%,#010100 38%,#8b3a19 42.5%,#f7682c 45.3%,#fff2ed 50.3%,#fcfdfb 50.8%,#7cb039 55.9%,#47681d 58.7%,#050702 63.1%,#050201 63.7%,#7b3416 69.3%,#e15e28 76.5%,#fa6b30 79.3%,#fca17b 92.2%,#fdb598 100%)"></i><i style="background:linear-gradient(90deg,#c1daa2 0%,#96c061 16.2%,#70a42e 24.6%,#395417 33%,#030101 38.5%,#943e1b 43%,#ee642b 45.3%,#fa7037 45.8%,#fff1ec 50.3%,#fcfdfa 50.8%,#77ad32 55.9%,#1e2b0c 60.9%,#030100 63.1%,#733015 68.2%,#d75a27 74.9%,#fa6d33 78.8%,#fca37e 91.6%,#fdb89c 100%)"></i><i style="background:linear-gradient(90deg,#c4dba5 0%,#98c164 16.8%,#6fa22d 25.7%,#354e16 34.1%,#050702 38.5%,#060201 39.1%,#873918 43%,#fa6b2f 45.8%,#fff1eb 50.3%,#fcfdfa 50.8%,#80b23f 55.3%,#67962a 56.4%,#0f1606 61.5%,#010000 62.6%,#753115 67.6%,#db5c27 74.3%,#fa6c32 77.7%,#fca17c 89.9%,#fdbba0 100%)"></i><i style="background:linear-gradient(90deg,#c6dda9 0%,#9dc36a 16.8%,#71a52e 26.3%,#3c5718 34.1%,#040602 39.1%,#080301 39.7%,#913d1a 43.6%,#f3662c 45.8%,#fdccb7 49.2%,#fff0ea 50.3%,#fcfdfa 50.8%,#7baf37 55.3%,#19250a 60.3%,#010100 62%,#783216 67%,#d85b27 73.2%,#fa6c31 76.5%,#fca07a 88.3%,#fdbea4 100%)"></i><i style="background:linear-gradient(90deg,#c9dead 0%,#a1c671 16.8%,#70a42e 27.4%,#385117 35.2%,#030501 39.7%,#1c0c05 40.8%,#b44b20 44.7%,#fa6f35 46.4%,#fef0e9 50.3%,#fbfdfa 50.8%,#75ab30 55.3%,#1c280b 59.8%,#010201 61.5%,#853818 67%,#e46029 73.2%,#fa6e34 76%,#fca37e 87.7%,#fdc1a8 100%)"></i><i style="background:linear-gradient(90deg,#cbe0b1 0%,#a3c875 17.3%,#70a32d 28.5%,#395317 35.8%,#030401 40.2%,#1f0d06 41.3%,#a6461e 44.7%,#f9682d 46.4%,#feefe8 50.3%,#fbfdf9 50.8%,#7fb13e 54.7%,#639028 55.9%,#141d08 59.8%,#020301 60.9%,#893919 66.5%,#e9622a 72.6%,#fa6e34 74.9%,#fca17c 86%,#fdc4ac 100%)"></i><i style="background:linear-gradient(90deg,#cee1b5 0%,#a8ca7b 17.3%,#79ae34 27.9%,#4b6d1e 34.6%,#0b0f04 40.2%,#020301 40.8%,#38170a 42.5%,#cf5725 45.8%,#ed632b 46.4%,#fa733c 46.9%,#feeee7 50.3%,#fbfdf9 50.8%,#79ae34 54.7%,#162009 59.2%,#030501 60.3%,#2e1308 62%,#98401b 66.5%,#f5672c 72.6%,#fca07b 84.4%,#fdc7b1 100%)"></i><i style="background:linear-gradient(90deg,#d1e3b9 0%,#abcc80 17.9%,#7cb039 28.5%,#527721 34.6%,#1b270b 39.7%,#010201 41.3%,#54230f 43.6%,#fa6c32 46.9%,#feede6 50.3%,#fbfcf9 50.8%,#84b445 54.2%,#72a72f 54.7%,#18230a 58.7%,#040602 59.8%,#1d0c05 60.9%,#853818 64.8%,#e56029 70.4%,#fa6d33 72.6%,#fca079 82.7%,#fdcab5 100%)"></i><i style="background:linear-gradient(90deg,#d3e5bd 0%,#aece84 18.4%,#80b23e 29.1%,#66952a 33%,#324914 38.5%,#010100 41.9%,#773215 44.7%,#f2662c 46.9%,#fdbca2 49.2%,#feece4 50.3%,#fbfcf8 50.8%,#7db03b 54.2%,#4e7220 55.9%,#050802 59.2%,#0a0402 59.8%,#7d3416 63.7%,#dc5c28 68.7%,#fa6d33 71.5%,#fca17b 81.6%,#fdcab5 98.3%,#fdcdb9 100%)"></i><i style="background:linear-gradient(90deg,#d6e6c1 0%,#b2d18b 18.4%,#87b649 29.1%,#6d9f2c 33%,#3b5518 38.5%,#000 42.5%,#813617 45.3%,#e36029 46.9%,#fa7139 47.5%,#feebe2 50.3%,#fafcf8 50.8%,#76ab30 54.2%,#1d2b0c 57.5%,#060903 58.7%,#090402 59.2%,#743115 62.6%,#d15826 67%,#fa692d 69.8%,#fc9c74 78.8%,#fdc6af 93.9%,#fdd0bd 100%)"></i><i style="background:linear-gradient(90deg,#d9e8c5 0%,#b6d390 19%,#8bb94f 29.6%,#6d9f2c 34.1%,#364f16 39.7%,#010000 43%,#8d3b19 45.8%,#f9692d 47.5%,#fee9e0 50.3%,#fafcf7 50.8%,#83b443 53.6%,#6ea12d 54.2%,#202f0d 57%,#070b03 58.1%,#080301 58.7%,#793316 62%,#d95b27 66.5%,#fa692d 68.7%,#fc9b73 77.1%,#fdc5ae 91.6%,#fed3c1 100%)"></i><i style="background:linear-gradient(90deg,#dbe9c9 0%,#b9d596 19.6%,#8fbb56 30.2%,#6d9f2c 35.2%,#395317 40.2%,#020100 43.6%,#783216 45.8%,#e8622a 47.5%,#fa7842 48%,#fee8de 50.3%,#fafcf7 50.8%,#7aae36 53.6%,#151f09 57%,#080c03 57.5%,#080301 58.1%,#6e2e14 60.9%,#cd5625 64.8%,#fa6a2e 67.6%,#fc9b73 75.4%,#fdc5ae 89.4%,#fed6c6 100%)"></i><i style="background:linear-gradient(90deg,#deebcd 0%,#bdd79b 20.1%,#94be5e 30.7%,#71a52e 35.8%,#3c5718 40.8%,#040201 44.1%,#853818 46.4%,#fa6e34 48%,#fee6db 50.3%,#f9fbf6 50.8%,#8ab84e 53.1%,#71a52e 53.6%,#18230a 56.4%,#070301 57.5%,#743115 60.3%,#d65a26 64.2%,#fa6a2f 66.5%,#fc9a72 73.7%,#fdc4ac 86.6%,#fed9ca 100%)"></i><i style="background:linear-gradient(90deg,#e1edd1 0%,#c1d9a1 20.7%,#99c165 31.3%,#71a52e 36.9%,#3f5c1a 41.3%,#050201 44.7%,#6b2d13 46.4%,#ef642b 48%,#fca07a 49.2%,#fee3d8 50.3%,#f9fbf5 50.8%,#80b23f 53.1%,#68972a 53.6%,#1b270b 55.9%,#070301 57%,#682b13 59.2%,#c85424 62.6%,#fa6b30 65.4%,#fc9a72 72.1%,#fdc4ac 84.4%,#fedcce 100%)"></i><i style="background:linear-gradient(90deg,#e3eed5 0%,#c5dca7 21.2%,#9fc56e 31.8%,#72a62e 38%,#43621b 41.9%,#070301 45.3%,#793316 46.9%,#d85b27 48%,#fa753e 48.6%,#fee1d5 50.3%,#f8fbf5 50.8%,#75ab30 53.1%,#1e2c0c 55.3%,#060301 56.4%,#6f2f14 58.7%,#c65324 61.5%,#fa6c32 64.2%,#fc9d76 70.9%,#fdc5ae 82.7%,#fedfd3 100%)"></i><i style="background:linear-gradient(90deg,#e6f0d9 0%,#c9deae 21.8%,#a5c978 32.4%,#7eb13c 38%,#608c27 40.8%,#283b10 44.1%,#0c1205 45.3%,#080301 45.8%,#893a19 47.5%,#f7682c 48.6%,#feddd0 50.3%,#f7faf3 50.8%,#89b74c 52.5%,#6a9a2b 53.1%,#22310e 54.7%,#060301 55.9%,#5f2811 57.5%,#c35223 60.3%,#f8682d 62.6%,#fc9b73 68.7%,#fdc3ac 79.3%,#fee2d7 100%)"></i><i style="background:linear-gradient(90deg,#e9f2dd 0%,#cee1b5 22.3%,#accd82 33%,#86b648 38.5%,#6ea02d 40.8%,#395317 44.1%,#0d1405 45.8%,#0a0402 46.4%,#9e421c 48%,#dc5c28 48.6%,#fb7f4c 49.2%,#fed9ca 50.3%,#f6faf2 50.8%,#7baf38 52.5%,#273910 54.2%,#060201 55.3%,#682c13 57%,#c05123 59.2%,#fa692d 61.5%,#fc986f 66.5%,#fdc0a6 75.4%,#fee0d4 93.9%,#fee6db 100%)"></i><i style="background:linear-gradient(90deg,#ecf3e2 0%,#d2e4bb 23.5%,#b1d089 34.1%,#89b84d 39.7%,#6fa12d 41.9%,#3e5b19 44.7%,#0f1606 46.4%,#0c0502 46.9%,#793316 48%,#fa6f36 49.2%,#fed4c3 50.3%,#f5f9f0 50.8%,#96bf60 52%,#6c9e2c 52.5%,#141d08 54.2%,#060301 54.7%,#733015 56.4%,#d05725 58.7%,#fa6c31 60.3%,#fc9971 64.8%,#fdc1a8 73.2%,#fee0d4 90.5%,#fee9e0 100%)"></i><i style="background:linear-gradient(90deg,#eef5e6 0%,#d6e6c1 24.6%,#b6d391 35.2%,#93be5c 40.2%,#70a32e 43%,#46651c 45.3%,#111907 46.9%,#0f0603 47.5%,#913d1a 48.6%,#e25f29 49.2%,#fb9165 49.7%,#fdcdb9 50.3%,#f4f8ee 50.8%,#86b648 52%,#5b8425 52.5%,#17220a 53.6%,#060301 54.2%,#5e2811 55.3%,#b94e21 57%,#f4672c 58.7%,#fc9b73 63.1%,#fdc1a8 70.4%,#fee0d4 86%,#feece4 100%)"></i><i style="background:linear-gradient(90deg,#f1f7ea 0%,#dae9c7 26.3%,#bdd79b 36.3%,#9ac266 41.3%,#72a72e 44.1%,#3f5b19 46.4%,#141d08 47.5%,#130803 48%,#5c2711 48.6%,#b44c20 49.2%,#fb7d49 49.7%,#fdc3ac 50.3%,#f1f7ea 50.8%,#aece85 51.4%,#71a52e 52%,#1d2a0c 53.1%,#070301 53.6%,#6d2e14 54.7%,#ce5725 56.4%,#fa692d 57.5%,#fc986f 60.9%,#fdbda3 66.5%,#feddcf 78.8%,#feefe9 100%)"></i><i style="background:linear-gradient(90deg,#f4f8ee 0%,#e0eccf 27.4%,#c5dca7 37.4%,#a2c672 42.5%,#76ab30 45.3%,#496b1e 46.9%,#18230a 48%,#180a04 48.6%,#763215 49.2%,#ec632b 49.7%,#fdb598 50.3%,#eef5e5 50.8%,#9cc369 51.4%,#588024 52%,#25350f 52.5%,#080301 53.1%,#4c200e 53.6%,#ab481f 54.7%,#ea622a 55.9%,#fa6e34 56.4%,#fc9b74 59.2%,#fdc1a8 64.2%,#fedfd2 75.4%,#fff2ed 100%)"></i><i style="background:linear-gradient(90deg,#f6faf2 0%,#e4efd7 29.6%,#cce0b3 39.1%,#adcd83 43.6%,#89b84d 45.8%,#6c9d2c 46.9%,#405d1a 48%,#1f2d0c 48.6%,#200d06 49.2%,#a5451e 49.7%,#fc9e78 50.3%,#e9f1dd 50.8%,#7eb13c 51.4%,#324a15 52%,#0a0402 52.5%,#602811 53.1%,#9e421c 53.6%,#f2662c 54.7%,#fb8f62 56.4%,#fcb395 59.2%,#fed3c2 65.4%,#feece4 81%,#fff5f1 100%)"></i><i style="background:linear-gradient(90deg,#f9fbf6 0%,#e9f2de 33%,#d1e3ba 41.9%,#b6d390 45.3%,#97c061 46.9%,#70a42e 48%,#547b22 48.6%,#2b3e11 49.2%,#311409 49.7%,#fa743c 50.3%,#deebcd 50.8%,#507521 51.4%,#0f0603 52%,#823717 52.5%,#cd5625 53.1%,#fa6d32 53.6%,#fb9368 54.7%,#fdb99c 57%,#fed6c6 61.5%,#feede6 73.7%,#fff8f6 100%)"></i><i style="background:linear-gradient(90deg,#fcfdfa 0%,#eff5e7 37.4%,#dceaca 44.7%,#c7ddab 46.9%,#b0cf88 48%,#9dc36b 48.6%,#7cb03a 49.2%,#47681d 49.7%,#642a12 50.3%,#c0d9a0 50.8%,#1c0c05 51.4%,#cd5625 52%,#fb814e 52.5%,#fc9d76 53.1%,#fdbca1 54.2%,#fedacb 57%,#feefe8 64.8%,#fffcfa 100%)"></i><i style="background:linear-gradient(90deg,#fff 0%,#f9fbf6 47.5%,#ecf3e2 49.7%,#d4e5bd 50.3%,#cd5625 50.8%,#fedfd3 51.4%,#feeee7 52%,#fffaf8 55.3%,#fff 100%)"></i><i style="background:linear-gradient(90deg,#fffcfb 0%,#fef0e9 38.5%,#fedcce 45.3%,#fdc4ad 47.5%,#fca683 48.6%,#fb8859 49.2%,#cd5625 49.7%,#121a07 50.3%,#fcab8a 50.8%,#2b3e11 51.4%,#78ad32 52%,#9fc56f 52.5%,#b5d290 53.1%,#d4e5be 54.7%,#e9f2de 58.7%,#f8fbf5 74.3%,#fcfdfb 100%)"></i><i style="background:linear-gradient(90deg,#fff9f7 0%,#fee8df 33.5%,#fdd2c0 41.9%,#fdb699 45.3%,#fc976e 46.9%,#fa6f36 48%,#cd5625 48.6%,#793316 49.2%,#080c03 49.7%,#74a92f 50.3%,#fed7c7 50.8%,#8d3b19 51.4%,#162009 52%,#4b6d1f 52.5%,#6c9e2c 53.1%,#97c063 54.2%,#b8d494 55.9%,#d4e5be 59.2%,#ebf3e0 68.2%,#fafcf7 100%)"></i><i style="background:linear-gradient(90deg,#fff6f3 0%,#fee3d8 30.2%,#fdc8b3 39.7%,#fcab89 43.6%,#fb8655 45.8%,#f4662c 46.9%,#cd5625 47.5%,#9a411c 48%,#050802 49.2%,#45651c 49.7%,#a1c671 50.3%,#fee5da 50.8%,#fa692d 51.4%,#572410 52%,#0f1606 52.5%,#375016 53.1%,#69992b 54.2%,#7aae36 54.7%,#9fc56e 56.4%,#c2daa3 59.8%,#deebcd 67%,#f2f7ec 87.7%,#f7faf2 100%)"></i><i style="background:linear-gradient(90deg,#fff3ef 0%,#feddd0 27.9%,#fdc0a7 38%,#fc9e77 42.5%,#fa6f35 45.3%,#eb632a 45.8%,#a9471e 46.9%,#7c3416 47.5%,#040502 48.6%,#314714 49.2%,#6a9a2b 49.7%,#b8d494 50.3%,#feebe4 50.8%,#fb8d5f 51.4%,#ad491f 52%,#3e1a0b 52.5%,#0b1105 53.1%,#44631c 54.2%,#74a92f 55.9%,#a2c773 58.7%,#c4dba5 63.1%,#e0ecd0 73.2%,#f4f8ee 100%)"></i><i style="background:linear-gradient(90deg,#fff0ea 0%,#fed8c8 26.3%,#fdba9e 36.3%,#fb9469 41.3%,#fa6a2e 44.1%,#b24b20 45.8%,#682b13 46.9%,#030401 48%,#507420 49.2%,#84b545 49.7%,#c6ddaa 50.3%,#feefe9 50.8%,#fca37e 51.4%,#e7612a 52%,#833718 52.5%,#301409 53.1%,#090e04 53.6%,#395317 54.7%,#66952a 56.4%,#84b545 58.1%,#a9cb7e 61.5%,#cbe0b1 68.2%,#e6f0d9 83.2%,#f1f6ea 100%)"></i><i style="background:linear-gradient(90deg,#feede6 0%,#fed4c2 24.6%,#fcb293 35.2%,#fb8d5f 40.2%,#f5672c 43%,#9d421c 45.3%,#592510 46.4%,#020301 47.5%,#405d1a 48.6%,#67962a 49.2%,#98c063 49.7%,#d0e2b8 50.3%,#fff2ed 50.8%,#fa7640 52%,#b74d21 52.5%,#271007 53.6%,#080c03 54.2%,#415f1b 55.9%,#6fa22d 58.1%,#99c165 61.5%,#bfd89e 67.6%,#dceacb 79.9%,#eef5e5 100%)"></i><i style="background:linear-gradient(90deg,#feeae2 0%,#fdcfbc 23.5%,#fcac8a 34.1%,#fb814f 39.7%,#fa6c32 41.3%,#d05725 43%,#8c3b19 44.7%,#291107 46.4%,#020201 46.9%,#547b22 48.6%,#78ad33 49.2%,#d7e7c2 50.3%,#fff4ef 50.8%,#fb895a 52%,#df5e28 52.5%,#582510 53.6%,#210e06 54.2%,#070a03 54.7%,#3a5518 56.4%,#6da02d 59.2%,#94be5d 62.6%,#b9d595 68.7%,#d8e8c5 81%,#ebf3e1 100%)"></i><i style="background:linear-gradient(90deg,#fee7de 0%,#fdc9b4 22.9%,#fca37f 33.5%,#fa7741 39.1%,#fa6a2e 40.2%,#ac481f 43%,#461e0d 45.3%,#010100 46.4%,#47681d 48%,#659329 48.6%,#88b74b 49.2%,#dceaca 50.3%,#fff5f1 50.8%,#fa6c31 52.5%,#4b1f0d 54.2%,#1c0c05 54.7%,#070a03 55.3%,#415e1a 57.5%,#73a82f 60.9%,#a7c979 67%,#cbdfb0 77.1%,#e7f1db 98.3%,#e8f1dd 100%)"></i><i style="background:linear-gradient(90deg,#fee4da 0%,#fdc5ae 21.8%,#fc9f78 32.4%,#fa743d 38%,#f8682d 39.1%,#9f431d 42.5%,#401b0c 44.7%,#010100 45.8%,#3e5a19 47.5%,#72a72e 48.6%,#b9d595 49.7%,#e0ecd0 50.3%,#fff6f3 50.8%,#fb7b46 52.5%,#da5c27 53.1%,#411b0c 54.7%,#180a04 55.3%,#060903 55.9%,#3b5718 58.1%,#6c9d2c 61.5%,#83b443 63.7%,#aece84 70.4%,#d1e3b9 82.7%,#e5f0d8 100%)"></i><i style="background:linear-gradient(90deg,#fee1d5 0%,#fdc1a8 21.2%,#fc986f 31.8%,#f6672c 38%,#a6461e 41.3%,#55240f 43.6%,#000 45.3%,#4c6f1f 47.5%,#7fb13d 48.6%,#e3eed4 50.3%,#fff7f4 50.8%,#fb8757 52.5%,#f3662c 53.1%,#622912 54.7%,#150904 55.9%,#060902 56.4%,#415e1a 59.2%,#71a52e 63.1%,#a8ca7b 70.9%,#cde0b3 83.2%,#e3eed4 100%)"></i><i style="background:linear-gradient(90deg,#feded1 0%,#fdbca1 20.7%,#fb9266 31.3%,#f4672c 36.9%,#9c421c 40.8%,#37170a 43.6%,#010000 44.7%,#43621b 46.9%,#6fa12d 48%,#89b84d 48.6%,#e5efd8 50.3%,#fff8f5 50.8%,#fa7239 53.1%,#a9471e 54.2%,#331509 55.9%,#120703 56.4%,#060802 57%,#45641c 60.3%,#75ab30 64.8%,#a5c876 72.1%,#cadfaf 84.4%,#e0ecd0 100%)"></i><i style="background:linear-gradient(90deg,#fedbcd 0%,#fdb89b 20.1%,#fb8c5e 30.7%,#f3662c 35.8%,#a3441d 39.7%,#4a1f0d 42.5%,#020100 44.1%,#3c5819 46.4%,#78ad33 48%,#e7f1db 50.3%,#fff9f6 50.8%,#fb7c48 53.1%,#ec632a 53.6%,#4e210e 55.9%,#0f0603 57%,#060802 57.5%,#415f1a 60.9%,#75aa2f 65.9%,#a4c876 73.7%,#cbdfb0 87.2%,#ddeacc 100%)"></i><i style="background:linear-gradient(90deg,#fed8c9 0%,#fcb496 19.6%,#fb8656 30.2%,#fa6a2e 34.1%,#a8471e 38.5%,#461e0d 41.9%,#030100 43.6%,#364f16 45.8%,#6c9d2c 47.5%,#82b342 48%,#e9f2de 50.3%,#fff9f7 50.8%,#fa6b30 53.6%,#461d0d 56.4%,#0d0502 57.5%,#060902 58.1%,#45641c 62%,#74a92f 67%,#a7ca7a 76%,#cde1b3 90.5%,#dae9c7 100%)"></i><i style="background:linear-gradient(90deg,#fed6c5 0%,#fcb090 19%,#fb814f 29.6%,#fa692d 33%,#a1441d 38%,#431c0c 41.3%,#040101 43%,#324814 45.3%,#74a92f 47.5%,#ebf3e0 50.3%,#fff9f7 50.8%,#fa753e 53.6%,#e66129 54.2%,#5d2711 56.4%,#0b0502 58.1%,#060902 58.7%,#42601b 62.6%,#74a92f 68.2%,#a7ca7a 77.7%,#cde1b3 92.7%,#d7e7c3 100%)"></i><i style="background:linear-gradient(90deg,#fed3c1 0%,#fcac8b 18.4%,#fb7d49 29.1%,#f3662c 32.4%,#9a411c 37.4%,#2e1308 41.3%,#050201 42.5%,#202f0d 44.1%,#6a9a2b 46.9%,#7cb039 47.5%,#ecf4e2 50.3%,#fffaf8 50.8%,#f6672c 54.2%,#55240f 57%,#090402 58.7%,#060903 59.2%,#45651c 63.7%,#78ad33 69.8%,#a6c978 78.8%,#cce0b3 94.4%,#d5e5bf 100%)"></i><i style="background:linear-gradient(90deg,#fdd0bd 0%,#fca784 18.4%,#fa753e 29.1%,#f3662c 31.3%,#953e1b 36.9%,#2c1308 40.8%,#060201 41.9%,#121a07 43%,#618e28 46.4%,#71a52e 46.9%,#accd82 48.6%,#edf4e4 50.3%,#fffaf8 50.8%,#fa6f36 54.2%,#843718 56.4%,#070301 59.2%,#101706 60.3%,#4e7220 65.4%,#78ad33 70.9%,#a6c979 80.4%,#cde1b3 96.6%,#d2e4bb 100%)"></i><i style="background:linear-gradient(90deg,#fdcdb9 0%,#fca47f 17.9%,#fa7138 28.5%,#f4662c 30.2%,#9b411c 35.8%,#3c190b 39.7%,#070301 41.3%,#101807 42.5%,#68982a 46.4%,#78ad32 46.9%,#eef5e6 50.3%,#fffaf9 50.8%,#fa7740 54.2%,#f0652b 54.7%,#602811 57.5%,#050201 59.8%,#4b6e1f 65.9%,#78ad33 72.1%,#a7ca7a 82.1%,#cee1b5 99.4%,#cfe2b7 100%)"></i><i style="background:linear-gradient(90deg,#fdcab5 0%,#fca17b 17.3%,#fa6d33 27.9%,#d85b27 31.3%,#733015 36.9%,#080301 40.8%,#0f1506 41.9%,#608d27 45.8%,#7eb13d 46.9%,#eff5e7 50.3%,#fffbf9 50.8%,#fa6b2f 54.7%,#582510 58.1%,#030101 60.3%,#496a1e 66.5%,#78ad33 73.2%,#a8ca7b 83.8%,#cce0b3 100%)"></i><i style="background:linear-gradient(90deg,#fdc7b1 0%,#fc9c74 17.3%,#f6672c 27.9%,#9d421c 34.1%,#3a180a 38.5%,#090402 40.2%,#040602 40.8%,#4d701f 44.7%,#74a92f 46.4%,#f0f6e8 50.3%,#fffbf9 50.8%,#fa7139 54.7%,#eb632a 55.3%,#52220f 58.7%,#020100 60.9%,#42601b 66.5%,#75ab30 73.7%,#a7ca7a 84.9%,#cadfae 100%)"></i><i style="background:linear-gradient(90deg,#fdc4ad 0%,#fc9970 16.8%,#f7682c 26.8%,#99401b 33.5%,#2a1208 38.5%,#030501 40.2%,#547a22 44.7%,#7aae36 46.4%,#f1f6e9 50.3%,#fffbfa 50.8%,#f6672c 55.3%,#612911 58.7%,#000 61.5%,#405e1a 67%,#76ac30 74.9%,#a8ca7c 86.6%,#c7ddaa 100%)"></i><i style="background:linear-gradient(90deg,#fdc1a9 0%,#fb946a 16.8%,#f8682d 25.7%,#9f431d 32.4%,#38180a 37.4%,#020301 39.7%,#4e7220 44.1%,#72a62e 45.8%,#afce85 48%,#f1f7ea 50.3%,#fffbfa 50.8%,#fa6d33 55.3%,#461d0d 59.8%,#010100 62%,#44631c 68.2%,#76ac30 76%,#a7ca7b 87.7%,#c4dba6 100%)"></i><i style="background:linear-gradient(90deg,#fdbfa5 0%,#fb9063 16.8%,#f4662c 25.1%,#923d1a 32.4%,#2a1208 37.4%,#010201 39.1%,#547a22 44.1%,#76ac31 45.8%,#f2f7eb 50.3%,#fffbfa 50.8%,#fa733b 55.3%,#f1652b 55.9%,#54230f 59.8%,#020201 62.6%,#42611b 68.7%,#77ad32 77.1%,#a9cb7d 89.4%,#c2daa2 100%)"></i><i style="background:linear-gradient(90deg,#fdbca1 0%,#fb8d60 16.2%,#f6672c 24%,#98401b 31.3%,#2a1208 36.9%,#000100 38.5%,#4f7320 43.6%,#7caf39 45.8%,#f3f7ec 50.3%,#fffcfa 50.8%,#fa692d 55.9%,#612911 59.8%,#0a0402 62.6%,#020401 63.1%,#45651c 69.8%,#78ad33 78.2%,#a8cb7c 90.5%,#bfd89e 100%)"></i><i style="background:linear-gradient(90deg,#fdb99d 0%,#fb895a 16.2%,#f8682d 22.9%,#963f1b 30.7%,#2b1208 36.3%,#010100 38%,#4a6c1e 43%,#74a92f 45.3%,#f3f8ed 50.3%,#fffcfa 50.8%,#fa6f35 55.9%,#5a2610 60.3%,#080301 63.1%,#0a0f04 64.2%,#486a1d 70.9%,#79ae34 79.3%,#aacb7e 92.2%,#bcd79a 100%)"></i><i style="background:linear-gradient(90deg,#fdb699 0%,#fb8554 16.2%,#f4672c 22.3%,#943e1b 30.2%,#1e0d05 36.3%,#030101 37.4%,#3c5819 41.9%,#78ad33 45.3%,#f3f8ee 50.3%,#fffcfb 50.8%,#fa743c 55.9%,#f5672c 56.4%,#55240f 60.9%,#050201 63.7%,#2c4112 68.2%,#66952a 76.5%,#7fb23e 81.6%,#afcf87 95.5%,#bad596 100%)"></i><i style="background:linear-gradient(90deg,#fcb496 0%,#fb8351 15.6%,#f6682c 21.2%,#923d1a 29.6%,#1f0d06 35.8%,#050201 36.9%,#121a07 38.5%,#67962a 44.1%,#7db03a 45.3%,#f4f8ee 50.3%,#fffcfb 50.8%,#fa6b30 56.4%,#4f210e 61.5%,#030101 64.2%,#4a6c1e 72.6%,#7baf37 81.6%,#adcd82 95.5%,#b7d392 100%)"></i><i style="background:linear-gradient(90deg,#fcb192 0%,#fb7e4b 15.6%,#f4662c 20.7%,#903c1a 29.1%,#200e06 35.2%,#030401 36.9%,#588124 43%,#75ab30 44.7%,#f4f8ef 50.3%,#fffcfb 50.8%,#fa7036 56.4%,#db5c27 57.5%,#3a180a 62.6%,#010000 64.8%,#45651c 72.6%,#79ae35 82.1%,#abcc80 96.1%,#b5d28f 100%)"></i><i style="background:linear-gradient(90deg,#fcae8e 0%,#fb7a45 15.6%,#f6672c 19.6%,#963f1b 27.9%,#220e06 34.6%,#020201 36.3%,#547a22 42.5%,#79ae35 44.7%,#f5f9ef 50.3%,#fffcfb 50.8%,#f7682d 57%,#54230f 62%,#010100 65.4%,#45641c 73.2%,#78ad33 82.7%,#aacb7e 96.6%,#b2d08b 100%)"></i><i style="background:linear-gradient(90deg,#fcac8a 0%,#fa763f 15.6%,#f4662c 19%,#8d3b19 27.9%,#170a04 34.6%,#010100 35.8%,#588024 42.5%,#73a72f 44.1%,#dceaca 49.2%,#fffcfb 50.8%,#fa6c31 57%,#401b0b 63.1%,#020301 65.9%,#44631c 73.7%,#79ae35 83.8%,#abcc81 98.3%,#b0cf87 100%)"></i><i style="background:linear-gradient(90deg,#fca987 0%,#fa753e 15.1%,#f2652b 18.4%,#8c3b19 27.4%,#190b05 34.1%,#010100 35.2%,#4b6d1f 41.3%,#76ac30 44.1%,#fffcfb 50.8%,#fa7037 57%,#df5e28 58.1%,#3b190b 63.7%,#060301 65.9%,#0e1406 67.6%,#517721 76.5%,#7db03a 85.5%,#adcd83 100%)"></i><i style="background:linear-gradient(90deg,#fca683 0%,#fa7138 15.1%,#f0652b 17.9%,#8b3a19 26.8%,#1b0b05 33.5%,#040201 34.6%,#405d1a 40.2%,#7aae36 44.1%,#fffcfb 50.8%,#f9692d 57.5%,#53230f 63.1%,#030101 66.5%,#4e7120 76.5%,#7caf39 86%,#abcc7f 100%)"></i><i style="background:linear-gradient(90deg,#fca47f 0%,#fa6d33 15.1%,#d95b27 19.6%,#723015 27.9%,#030401 34.6%,#5b8425 41.9%,#73a82f 43.6%,#fffcfb 50.8%,#fa6c32 57.5%,#331509 64.8%,#010000 67%,#46661d 76%,#78ad33 86%,#a8ca7c 100%)"></i><i style="background:linear-gradient(90deg,#fca17c 0%,#f6672c 15.6%,#913d1a 25.1%,#1e0d05 32.4%,#010201 34.1%,#567e23 41.3%,#77ac31 43.6%,#fffdfc 50.8%,#fa7037 57.5%,#e25f29 58.7%,#3b190b 64.8%,#010100 67.6%,#46661c 76.5%,#7aae36 87.2%,#a6c978 100%)"></i><i style="background:linear-gradient(90deg,#fc9f78 0%,#f4672c 15.1%,#913d1a 24.6%,#160904 32.4%,#000 33.5%,#5a8324 41.3%,#7aae36 43.6%,#fffdfc 50.8%,#fa692d 58.1%,#51220f 64.2%,#070301 67.6%,#070b03 68.7%,#4c6f1f 78.2%,#7baf38 88.3%,#a3c774 100%)"></i><i style="background:linear-gradient(90deg,#fc9c75 0%,#f7682d 14%,#903d1a 24%,#180a04 31.8%,#030100 33%,#47681d 39.7%,#74a92f 43%,#fffdfc 50.8%,#fa6d32 58.1%,#331509 65.9%,#040201 68.2%,#4f7320 79.3%,#7aaf37 88.8%,#a1c671 100%)"></i><i style="background:linear-gradient(90deg,#fc9a71 0%,#f6672c 13.4%,#903d1a 23.5%,#1a0b05 31.3%,#020401 33%,#598124 40.8%,#77ac31 43%,#fffdfc 50.8%,#f5672c 58.7%,#471e0d 65.4%,#010000 68.7%,#496a1e 78.8%,#7aae36 89.4%,#9fc56d 100%)"></i><i style="background:linear-gradient(90deg,#fc976e 0%,#f5672c 12.8%,#903d1a 22.9%,#120803 31.3%,#010200 32.4%,#5c8625 40.8%,#7aae36 43%,#fffdfc 50.8%,#fa692d 58.7%,#4e210e 65.4%,#010100 69.3%,#496a1d 79.3%,#79ae35 89.9%,#9cc36a 100%)"></i><i style="background:linear-gradient(90deg,#fb956b 0%,#f4672c 12.3%,#893a19 22.9%,#0b0502 31.3%,#010000 31.8%,#588024 40.2%,#74a92f 42.5%,#fffdfc 50.8%,#fa6c32 58.7%,#321509 67%,#060201 69.3%,#101807 71.5%,#547b22 82.1%,#7baf37 91.1%,#9ac266 100%)"></i><i style="background:linear-gradient(90deg,#fb9367 0%,#f3662c 11.7%,#8a3a19 22.3%,#0e0602 30.7%,#030501 31.8%,#5a8425 40.2%,#77ac31 42.5%,#fffdfc 50.8%,#f5672c 59.2%,#441d0c 66.5%,#020100 69.8%,#4e7220 81.6%,#7db03a 92.2%,#98c063 100%)"></i><i style="background:linear-gradient(90deg,#fb9064 0%,#f7682c 10.6%,#913d1a 21.2%,#1a0b05 29.6%,#020201 31.3%,#5d8826 40.2%,#79ae35 42.5%,#fffdfc 50.8%,#fa692d 59.2%,#4b200e 66.5%,#000 70.4%,#496a1e 81%,#7aae36 92.2%,#95bf60 100%)"></i><i style="background:linear-gradient(90deg,#fb8e61 0%,#f6672c 10.1%,#8a3a19 21.2%,#0a0402 30.2%,#000 30.7%,#598224 39.7%,#7cb039 42.5%,#fffdfc 50.8%,#fa6c31 59.2%,#301409 68.2%,#020301 70.9%,#496a1e 81.6%,#7aae35 92.7%,#93be5c 100%)"></i><i style="background:linear-gradient(90deg,#fb8c5d 0%,#f6672c 9.5%,#8b3a19 20.7%,#0c0502 29.6%,#030501 30.7%,#628f28 40.2%,#76ac30 41.9%,#fffdfc 50.8%,#f5672c 59.8%,#411b0c 67.6%,#030101 70.9%,#4f7320 83.2%,#7baf38 93.9%,#91bc59 100%)"></i><i style="background:linear-gradient(90deg,#fb895a 0%,#f5672c 8.9%,#8c3b19 20.1%,#0f0603 29.1%,#020201 30.2%,#5e8926 39.7%,#79ae34 41.9%,#fffdfc 50.8%,#f9692d 59.8%,#481e0d 67.6%,#000 71.5%,#496b1e 82.7%,#7baf38 94.4%,#8fbb56 100%)"></i><i style="background:linear-gradient(90deg,#fb8757 0%,#f5672c 8.4%,#8d3b19 19.6%,#090402 29.1%,#000 29.6%,#5a8325 39.1%,#7baf38 41.9%,#fffdfc 50.8%,#fa6b30 59.8%,#38180a 68.7%,#020301 72.1%,#496b1e 83.2%,#7baf37 95%,#8dba52 100%)"></i><i style="background:linear-gradient(90deg,#fb8554 0%,#f5672c 7.8%,#873918 19.6%,#030101 29.1%,#45641c 36.9%,#76ac30 41.3%,#fffdfc 50.8%,#fa6e33 59.8%,#291107 69.8%,#020100 72.1%,#4f7420 84.9%,#7db03a 96.1%,#8bb94f 100%)"></i><i style="background:linear-gradient(90deg,#fb8351 0%,#f5672c 7.3%,#883918 19%,#010200 29.1%,#5f8a27 39.1%,#78ad33 41.3%,#fffdfc 50.8%,#f8682d 60.3%,#441c0c 68.7%,#010100 72.6%,#4a6c1e 84.4%,#7baf37 96.1%,#89b74c 100%)"></i><i style="background:linear-gradient(90deg,#fb804e 0%,#f5672c 6.7%,#893a19 18.4%,#0a0402 27.9%,#040602 29.1%,#618d27 39.1%,#7aae36 41.3%,#fffdfc 50.8%,#fa6a2f 60.3%,#3f1a0b 69.3%,#050201 72.6%,#557c23 87.2%,#7db03a 97.2%,#87b649 100%)"></i><i style="background:linear-gradient(90deg,#fb7e4b 0%,#f5672c 6.1%,#8a3a19 17.9%,#020301 28.5%,#639028 39.1%,#7cb039 41.3%,#fffdfd 50.8%,#fa6c32 60.3%,#261007 70.9%,#010000 73.2%,#4e7120 86%,#7db03a 97.8%,#85b546 100%)"></i><i style="background:linear-gradient(90deg,#fb7c48 0%,#f5672c 5.6%,#853818 17.9%,#000100 27.9%,#5f8a27 38.5%,#77ad31 40.8%,#fffdfd 50.8%,#f6672c 60.9%,#3f1b0b 69.8%,#010200 73.7%,#4b6e1f 86%,#7baf37 97.8%,#83b443 100%)"></i><i style="background:linear-gradient(90deg,#fb7a45 0%,#f5672c 5%,#873918 17.3%,#030100 27.4%,#507521 36.9%,#79ae34 40.8%,#fffdfd 50.8%,#fa692d 60.9%,#441d0c 69.8%,#030100 73.7%,#517621 87.7%,#7db03a 98.9%,#81b240 100%)"></i><i style="background:linear-gradient(90deg,#fb7842 0%,#f1652b 5%,#823717 17.3%,#010200 27.4%,#639028 38.5%,#7baf37 40.8%,#fffdfd 50.8%,#fa6b30 60.9%,#2c1308 71.5%,#000100 74.3%,#4a6b1e 86.6%,#7baf37 98.9%,#7fb13d 100%)"></i><i style="background:linear-gradient(90deg,#fa763f 0%,#f2652b 4.5%,#843718 16.8%,#010100 26.8%,#598224 37.4%,#76ac30 40.2%,#fffdfd 50.8%,#f5672c 61.5%,#3a190b 70.9%,#040201 74.3%,#547b22 89.4%,#7db03a 100%)"></i><i style="background:linear-gradient(90deg,#fa743c 0%,#f2662c 3.9%,#853818 16.2%,#020201 26.8%,#66952a 38.5%,#7eb13c 40.8%,#fffdfd 50.8%,#f8682d 61.5%,#3f1a0b 70.9%,#000 74.9%,#4b6d1e 87.7%,#7baf37 100%)"></i><i style="background:linear-gradient(90deg,#fa723a 0%,#f2662c 3.4%,#813617 16.2%,#000 26.3%,#629028 38%,#79ae35 40.2%,#fffdfd 50.8%,#fa6a2e 61.5%,#3a180a 71.5%,#020201 75.4%,#4c6e1f 88.3%,#79ae35 100%)"></i><i style="background:linear-gradient(90deg,#fa7037 0%,#ef642b 3.4%,#7d3416 16.2%,#020301 26.3%,#649229 38%,#7baf37 40.2%,#fffdfd 50.8%,#fa6c31 61.5%,#2c1308 72.6%,#010000 75.4%,#4f7320 89.4%,#77ad32 100%)"></i><i style="background:linear-gradient(90deg,#fa6e34 0%,#e36029 4.5%,#723015 16.8%,#000 25.7%,#608d27 37.4%,#76ac30 39.7%,#fffdfd 50.8%,#f5672c 62%,#3a180a 72.1%,#010201 76%,#4d701f 89.4%,#76ab30 100%)"></i><i style="background:linear-gradient(90deg,#fa6c32 0%,#bc4f22 8.9%,#401b0b 20.7%,#020301 25.7%,#67962a 38%,#7eb13c 40.2%,#fffdfd 50.8%,#f8682d 62%,#3e1a0b 72.1%,#010100 76%,#507521 90.5%,#74a92f 100%)"></i><i style="background:linear-gradient(90deg,#fa6a2f 0%,#9e431d 11.7%,#1f0d05 22.9%,#000 25.1%,#639128 37.4%,#79ae35 39.7%,#fffdfd 50.8%,#fa6a2e 62%,#39180a 72.6%,#010200 76.5%,#4c6e1f 89.9%,#73a72f 100%)"></i><i style="background:linear-gradient(90deg,#f9692d 0%,#8a3a19 13.4%,#020301 25.1%,#659329 37.4%,#7baf37 39.7%,#fffdfd 50.8%,#fa6b30 62%,#2b1208 73.7%,#010100 76.5%,#517721 91.6%,#71a52e 100%)"></i><i style="background:linear-gradient(90deg,#f6682c 0%,#873818 13.4%,#000 24.6%,#66952a 37.4%,#7cb039 39.7%,#fffefd 50.8%,#f6672c 62.6%,#38170a 73.2%,#010200 77.1%,#4d711f 91.1%,#70a32d 100%)"></i><i style="background:linear-gradient(90deg,#f4662c 0%,#833718 13.4%,#020301 24.6%,#68972a 37.4%,#7eb13b 39.7%,#fffefd 50.8%,#f8682d 62.6%,#3b190b 73.2%,#010100 77.1%,#517521 92.2%,#6ea12d 100%)"></i><i style="background:linear-gradient(90deg,#f1652b 0%,#7f3517 13.4%,#000 24%,#649229 36.9%,#79ae34 39.1%,#fffefd 50.8%,#fa692e 62.6%,#36170a 73.7%,#010201 77.7%,#4f7320 92.2%,#6d9f2c 100%)"></i><i style="background:linear-gradient(90deg,#ee642b 0%,#7c3416 13.4%,#020301 24%,#6a9b2b 37.4%,#80b23f 39.7%,#fffefd 50.8%,#fa6b30 62.6%,#291107 74.9%,#010000 77.7%,#507420 92.7%,#6b9d2c 100%)"></i><i style="background:linear-gradient(90deg,#eb632a 0%,#793316 13.4%,#000 23.5%,#67962a 36.9%,#7baf38 39.1%,#fffefd 50.8%,#f5672c 63.1%,#35160a 74.3%,#020201 78.2%,#4e7220 92.7%,#6a9b2b 100%)"></i><i style="background:linear-gradient(90deg,#e8622a 0%,#753115 13.4%,#020201 23.5%,#68972a 36.9%,#7db03a 39.1%,#fffefd 50.8%,#f7682d 63.1%,#38180a 74.3%,#000 78.2%,#4d701f 92.7%,#69992b 100%)"></i><i style="background:linear-gradient(90deg,#e66029 0%,#723015 13.4%,#010000 22.9%,#5f8b27 35.8%,#78ad33 38.5%,#fffefd 50.8%,#fa692d 63.1%,#3c190b 74.3%,#020301 78.8%,#4e7120 93.3%,#67972a 100%)"></i><i style="background:linear-gradient(90deg,#e35f29 0%,#6f2f14 13.4%,#010200 22.9%,#6a9b2b 36.9%,#7fb13e 39.1%,#fffefd 50.8%,#fa6a2e 63.1%,#2e1308 75.4%,#000100 78.8%,#4f7320 93.9%,#66952a 100%)"></i><i style="background:linear-gradient(90deg,#e05e28 0%,#6c2d13 13.4%,#020100 22.3%,#588124 34.6%,#7aaf37 38.5%,#fffefd 50.8%,#fa6b30 63.1%,#210e06 76.5%,#020100 78.8%,#547b22 95.5%,#659329 100%)"></i><i style="background:linear-gradient(90deg,#de5d28 0%,#692c13 13.4%,#010100 22.3%,#68972a 36.3%,#7caf38 38.5%,#fffefd 50.8%,#f6672c 63.7%,#341609 75.4%,#010100 79.3%,#4e7220 94.4%,#649129 100%)"></i><i style="background:linear-gradient(90deg,#db5c27 0%,#662b12 13.4%,#020301 22.3%,#6d9f2c 36.9%,#82b343 39.1%,#fffefd 50.8%,#f8682d 63.7%,#37170a 75.4%,#010000 79.3%,#527721 95.5%,#628f28 100%)"></i><i style="background:linear-gradient(90deg,#d95b27 0%,#632a12 13.4%,#000 21.8%,#659329 35.8%,#7eb13c 38.5%,#fffefd 50.8%,#fa692d 63.7%,#321509 76%,#020201 79.9%,#507521 95.5%,#618e28 100%)"></i><i style="background:linear-gradient(90deg,#d65a27 0%,#5a2610 14%,#010200 21.8%,#6b9b2b 36.3%,#7fb13d 38.5%,#fffefd 50.8%,#fa6a2e 63.7%,#2d1308 76.5%,#000 79.9%,#4f7320 95.5%,#608c27 100%)"></i><i style="background:linear-gradient(90deg,#d45926 0%,#572510 14%,#020100 21.2%,#5e8926 34.6%,#7aaf36 38%,#fffefd 50.8%,#f4662c 64.2%,#301409 76.5%,#020100 79.9%,#547b22 97.2%,#5f8a27 100%)"></i><i style="background:linear-gradient(90deg,#d15826 0%,#55240f 14%,#000100 21.2%,#6c9e2c 36.3%,#7baf38 38%,#fffefd 50.8%,#f6672c 64.2%,#321509 76.5%,#010100 80.4%,#4f7320 96.1%,#5e8926 100%)"></i><i style="background:linear-gradient(90deg,#cf5725 0%,#52220f 14%,#020201 21.2%,#6d9f2c 36.3%,#82b341 38.5%,#fffefd 50.8%,#f7682d 64.2%,#35160a 76.5%,#010000 80.4%,#507521 96.6%,#5d8726 100%)"></i><i style="background:linear-gradient(90deg,#cd5625 0%,#4f210e 14%,#010000 20.7%,#659429 35.2%,#7db03b 38%,#fffefd 50.8%,#f9692d 64.2%,#301409 77.1%,#020301 81%,#4f7320 96.6%,#5c8525 100%)"></i><i style="background:linear-gradient(90deg,#cb5524 0%,#4d200e 14%,#010100 20.7%,#6b9b2b 35.8%,#7eb13c 38%,#fffefd 50.8%,#fa692e 64.2%,#2b1208 77.7%,#010100 81%,#507420 97.2%,#5a8425 100%)"></i><i style="background:linear-gradient(90deg,#c85424 0%,#4a1f0d 14%,#020301 20.7%,#70a32e 36.3%,#8fbb56 39.7%,#fffefd 50.8%,#fa6a2f 64.2%,#251007 78.2%,#010000 81%,#517621 97.8%,#598224 100%)"></i><i style="background:linear-gradient(90deg,#c65324 0%,#481e0d 14%,#010000 20.1%,#68972a 35.2%,#7aaf36 37.4%,#fffefd 50.8%,#f4672c 64.8%,#2f1409 77.7%,#020201 81.6%,#507521 97.8%,#588124 100%)"></i><i style="background:linear-gradient(90deg,#c45223 0%,#461d0d 14%,#010100 20.1%,#6d9f2c 35.8%,#7baf38 37.4%,#fffefd 50.8%,#f6672c 64.8%,#321509 77.7%,#010100 81.6%,#4f7320 97.8%,#577f24 100%)"></i><i style="background:linear-gradient(90deg,#c25223 0%,#431c0c 14%,#020301 20.1%,#6ea02d 35.8%,#81b341 38%,#fffefd 50.8%,#f7682d 64.8%,#2c1308 78.2%,#010000 81.6%,#527821 98.9%,#567e23 100%)"></i><i style="background:linear-gradient(90deg,#c05123 0%,#411b0c 14%,#010000 19.6%,#669429 34.6%,#7db03a 37.4%,#fffefd 50.8%,#f9692d 64.8%,#2e1308 78.2%,#020201 82.1%,#4f7320 98.3%,#557d23 100%)"></i><i style="background:linear-gradient(90deg,#be5022 0%,#3f1a0b 14%,#010100 19.6%,#6fa22d 35.8%,#88b74b 38.5%,#fffefd 50.8%,#fa692d 64.8%,#301409 78.2%,#010100 82.1%,#507521 98.9%,#547b22 100%)"></i><i style="background:linear-gradient(90deg,#bc4f22 0%,#3d1a0b 14%,#020201 19.6%,#70a32e 35.8%,#8eba54 39.1%,#fffefd 50.8%,#fa6a2e 64.8%,#240f06 79.3%,#010000 82.1%,#517721 99.4%,#547a22 100%)"></i><i style="background:linear-gradient(90deg,#ba4e22 0%,#3b190b 14%,#010100 19%,#649129 34.1%,#7aae36 36.9%,#fffefd 50.8%,#f4662c 65.4%,#2d1308 78.8%,#020301 82.7%,#517521 99.4%,#537822 100%)"></i><i style="background:linear-gradient(90deg,#b84d21 0%,#39180a 14%,#000 19%,#6d9f2c 35.2%,#7fb23e 37.4%,#fffefd 50.8%,#f5672c 65.4%,#2f1408 78.8%,#010100 82.7%,#507420 99.4%,#527721 100%)"></i><i style="background:linear-gradient(90deg,#b74d21 0%,#311409 14.5%,#010201 19%,#6ea02d 35.2%,#80b23f 37.4%,#fffefd 50.8%,#f6682c 65.4%,#2a1208 79.3%,#000 82.7%,#4f7320 99.4%,#517621 100%)"></i><i style="background:linear-gradient(90deg,#b54c21 0%,#2f1408 14.5%,#020301 19%,#72a72f 35.8%,#fffefd 50.8%,#f8682d 65.4%,#2c1208 79.3%,#020100 82.7%,#507521 100%)"></i><i style="background:linear-gradient(90deg,#b34b20 0%,#2d1308 14.5%,#000 18.4%,#6b9b2b 34.6%,#7cb03a 36.9%,#fffefd 50.8%,#f9692d 65.4%,#2d1308 79.3%,#010201 83.2%,#4f7320 100%)"></i><i style="background:linear-gradient(90deg,#b14b20 0%,#2b1208 14.5%,#010100 18.4%,#6fa22d 35.2%,#87b64a 38%,#fffefd 50.8%,#fa692d 65.4%,#2f1408 79.3%,#010100 83.2%,#4e7220 100%)"></i></div>
<div class="pm" style="left:671.0px;top:609.8px;width:178.5px;height:177.7px;background:conic-gradient(at 89.7px 89.1px,#000 0deg,#fa692d 22.5deg,#fff 45deg,#76ac30 67.5deg,#000 90deg,#fa692d 112.5deg,#fff 135deg,#76ac30 157.5deg,#000 180deg,#fa692d 202.5deg,#fff 225deg,#76ac30 247.5deg,#000 270deg,#fa692d 292.5deg,#fff 315deg,#76ac30 337.5deg,#000 360deg)"></div>
<div class="pm" style="left:986.7px;top:608.8px;width:176.1px;height:174.8px;background:conic-gradient(at 88.9px 87.1px,#fff 0deg,#fa692d 45deg,#000 90deg,#76ac30 135deg,#fff 180deg,#fa692d 225deg,#000 270deg,#76ac30 315deg,#fff 360deg)"></div>
<div class="pm" style="left:1177.8px;top:608.3px;width:177.2px;height:176.0px;background:conic-gradient(at 88.8px 87.7px,#000 0deg,#190b05 3deg,#321509 6deg,#4b200e 9deg,#652a12 12deg,#7f3517 15deg,#99401b 18deg,#b34b20 21deg,#ce5625 24deg,#e9622a 27deg,#fa6f36 30deg,#fb814e 33deg,#fb9266 36deg,#fca47f 39deg,#fdb699 42deg,#fdc9b4 45deg,#feddcf 48deg,#fff1eb 51deg,#f9fbf6 54deg,#e6f0d9 57deg,#d1e3ba 60deg,#bdd79b 63deg,#a8ca7b 66deg,#92bd5a 69deg,#7baf38 72deg,#67962a 75deg,#537922 78deg,#3e5b19 81deg,#2a3d11 84deg,#151e09 87deg,#000 90deg,#2c1308 93deg,#582510 96deg,#843818 99deg,#af4a20 102deg,#da5c27 105deg,#fa6f35 108deg,#fb8757 111deg,#fc9f79 114deg,#fdb699 117deg,#fdcdb9 120deg,#fee3d8 123deg,#fff8f6 126deg,#f2f7eb 129deg,#e0ecd0 132deg,#cee1b5 135deg,#bdd79b 138deg,#accd81 141deg,#9bc369 144deg,#8bb950 147deg,#7cb039 150deg,#6ea02d 153deg,#618d27 156deg,#547b22 159deg,#48691d 162deg,#3c5718 165deg,#304513 168deg,#24340e 171deg,#18230a 174deg,#0c1105 177deg,#000 180deg,#190b05 183deg,#321509 186deg,#4b200e 189deg,#652a12 192deg,#7f3517 195deg,#99401b 198deg,#b34b20 201deg,#ce5625 204deg,#e9622a 207deg,#fa6f36 210deg,#fb814e 213deg,#fb9266 216deg,#fca47f 219deg,#fdb699 222deg,#fdc9b4 225deg,#feddcf 228deg,#fff1eb 231deg,#f9fbf6 234deg,#e6f0d9 237deg,#d1e3ba 240deg,#bdd79b 243deg,#a8ca7b 246deg,#92bd5a 249deg,#7baf38 252deg,#67962a 255deg,#537922 258deg,#3e5b19 261deg,#2a3d11 264deg,#151e09 267deg,#000 270deg,#2c1308 273deg,#582510 276deg,#843818 279deg,#af4a20 282deg,#da5c27 285deg,#fa6f35 288deg,#fb8757 291deg,#fc9f79 294deg,#fdb699 297deg,#fdcdb9 300deg,#fee3d8 303deg,#fff8f6 306deg,#f2f7eb 309deg,#e0ecd0 312deg,#cee1b5 315deg,#bdd79b 318deg,#accd81 321deg,#9bc369 324deg,#8bb950 327deg,#7cb039 330deg,#6ea02d 333deg,#618d27 336deg,#547b22 339deg,#48691d 342deg,#3c5718 345deg,#304513 348deg,#24340e 351deg,#18230a 354deg,#0c1105 357deg,#000 360deg)"></div>
<div class="pm" style="left:1367.0px;top:608.7px;width:176.6px;height:175.5px;background:conic-gradient(at 89.3px 86.9px,#fff 0deg,#76ac30 22.5deg,#000 45deg,#fa692d 67.5deg,#fff 90deg,#76ac30 112.5deg,#000 135deg,#fa692d 157.5deg,#fff 180deg,#76ac30 202.5deg,#000 225deg,#fa692d 247.5deg,#fff 270deg,#76ac30 292.5deg,#000 315deg,#fa692d 337.5deg,#fff 360deg)"></div>
<div class="pm" style="left:1559.6px;top:606.7px;width:175.8px;height:176.0px;--rh:1px"><i style="background:linear-gradient(90deg,#281107 0%,#020301 3.4%,#6c9e2c 17.6%,#7db03a 19.3%,#fbfcf8 30.1%,#fffcfb 30.7%,#f8682d 40.9%,#040201 51.1%,#7aae36 61.9%,#fbfdf9 71.6%,#fff3ef 72.7%,#fa6c31 83.5%,#240f07 97.2%,#010100 100%)"></i><i style="background:linear-gradient(90deg,#301409 0%,#020301 4%,#69992b 17.6%,#7fb13d 19.9%,#fff 30.7%,#fa692d 40.9%,#040201 51.1%,#7baf38 61.9%,#fefefd 71.6%,#f8682d 83.5%,#3d1a0b 94.9%,#010100 99.4%,#040602 100%)"></i><i style="background:linear-gradient(90deg,#38170a 0%,#020301 4.5%,#6b9c2b 18.2%,#7baf37 19.9%,#fdfefb 30.7%,#fed8c9 33.5%,#fa6a2f 40.9%,#040201 51.1%,#74aa2f 61.4%,#fffdfc 71.6%,#fa7037 82.4%,#f1652b 83.5%,#3d1a0b 94.3%,#010100 98.9%,#080c03 100%)"></i><i style="background:linear-gradient(90deg,#3f1b0b 0%,#020301 5.1%,#67962a 18.2%,#7db03b 20.5%,#fafcf7 30.7%,#fffcfb 31.2%,#fa6b30 40.9%,#040201 51.1%,#68972a 60.2%,#7db03b 61.9%,#fcfdfa 71%,#fee9e1 72.7%,#fa6c31 82.4%,#251007 95.5%,#010200 98.3%,#0c1105 100%)"></i><i style="background:linear-gradient(90deg,#471e0d 0%,#030101 5.1%,#557b22 16.5%,#79ae35 20.5%,#fff 31.2%,#fa6c31 40.9%,#040201 51.1%,#46661d 57.4%,#76ac30 61.4%,#fff 71%,#fa6e34 81.8%,#d75a27 84.1%,#261007 94.9%,#010200 97.7%,#0f1606 100%)"></i><i style="background:linear-gradient(90deg,#4f210e 0%,#030101 5.7%,#517621 16.5%,#7baf38 21%,#fcfdfb 31.2%,#fee8df 33%,#fa6d33 40.9%,#050201 51.1%,#395317 56.2%,#77ad32 61.4%,#fafcf7 70.5%,#fffcfb 71%,#fa7037 81.2%,#f0652b 82.4%,#3f1b0b 92.6%,#010200 97.2%,#131c08 100%)"></i><i style="background:linear-gradient(90deg,#572510 0%,#030101 6.2%,#527821 17%,#77ad32 21%,#fafcf7 31.2%,#fffcfb 31.8%,#f4662c 41.5%,#050201 51.1%,#2c4012 55.1%,#78ad33 61.4%,#fdfefb 70.5%,#fa6c31 81.2%,#2f1408 93.2%,#010201 96.6%,#172109 100%)"></i><i style="background:linear-gradient(90deg,#5f2811 0%,#030101 6.8%,#547a22 17.6%,#7aae36 21.6%,#fff 31.8%,#f5672c 41.5%,#050201 51.1%,#1f2d0c 54%,#79ae34 61.4%,#fffefe 70.5%,#fa753e 80.1%,#f6682c 81.2%,#401b0c 91.5%,#010201 96%,#1b270b 100%)"></i><i style="background:linear-gradient(90deg,#672b13 0%,#030101 7.4%,#507420 17.6%,#75ab30 21.6%,#f4f8ee 31.2%,#fcfdfb 31.8%,#fee7dd 33.5%,#f6682c 41.5%,#050201 51.1%,#18230a 53.4%,#7aae35 61.4%,#fafcf8 69.9%,#fffbfa 70.5%,#fa7037 80.1%,#ee642b 81.2%,#411b0c 90.9%,#010201 95.5%,#1f2d0c 100%)"></i><i style="background:linear-gradient(90deg,#702f14 0%,#030101 8%,#517621 18.2%,#78ad33 22.2%,#f9fcf6 31.8%,#fffcfb 32.4%,#f8682d 41.5%,#050201 51.1%,#18230a 53.4%,#7aaf36 61.4%,#fdfefc 69.9%,#fa6b30 80.1%,#39180a 90.9%,#020201 94.9%,#22320e 100%)"></i><i style="background:linear-gradient(90deg,#783216 0%,#030101 8.5%,#527821 18.8%,#7aaf36 22.7%,#fff 32.4%,#f9682d 41.5%,#060201 51.1%,#111907 52.8%,#7baf37 61.4%,#fffefd 69.9%,#fa753e 79%,#f5672c 80.1%,#4c200e 89.2%,#020301 94.3%,#263810 100%)"></i><i style="background:linear-gradient(90deg,#803617 0%,#030101 9.1%,#4e7220 18.8%,#76ac30 22.7%,#f4f8ee 31.8%,#fcfdfb 32.4%,#fee5db 34.1%,#fa692d 41.5%,#060201 51.1%,#111907 52.8%,#73a82f 60.8%,#fafcf8 69.3%,#fffaf9 69.9%,#fa7841 78.4%,#f9692d 79.5%,#4c200e 88.6%,#020301 93.8%,#2a3e11 100%)"></i><i style="background:linear-gradient(90deg,#893a19 0%,#030101 9.7%,#4f7420 19.3%,#78ad33 23.3%,#fafcf7 32.4%,#fffbfa 33%,#fa692d 41.5%,#060301 51.1%,#111907 52.8%,#74a82f 60.8%,#fdfefc 69.3%,#fa6b2f 79%,#3a180a 89.2%,#020301 93.2%,#2e4413 100%)"></i><i style="background:linear-gradient(90deg,#923d1a 0%,#030101 10.2%,#517621 19.9%,#7baf37 23.9%,#fffefe 33%,#fa6a2e 41.5%,#060301 51.1%,#0a0f04 52.3%,#74a92f 60.8%,#fffdfd 69.3%,#fb7d49 77.3%,#f4662c 79%,#4e210e 87.5%,#040201 92%,#324a15 100%)"></i><i style="background:linear-gradient(90deg,#9a411c 0%,#030101 10.8%,#4c6f1f 19.9%,#76ac30 23.9%,#f4f8ee 32.4%,#fdfefc 33%,#fa6a2e 41.5%,#070301 51.1%,#0a0e04 52.3%,#74a92f 60.8%,#fafcf7 68.8%,#fffaf8 69.3%,#fa7841 77.3%,#f8682d 78.4%,#4e210e 86.9%,#040201 91.5%,#375016 100%)"></i><i style="background:linear-gradient(90deg,#a3441d 0%,#030101 11.4%,#4e7120 20.5%,#79ae34 24.4%,#fafcf8 33%,#fffaf8 33.5%,#fa6a2f 41.5%,#070301 51.1%,#0a0e04 52.3%,#74a92f 60.8%,#fdfefc 68.8%,#fa6a2e 77.8%,#4f210e 86.4%,#030101 90.9%,#3b5618 100%)"></i><i style="background:linear-gradient(90deg,#ac481f 0%,#0d0502 11.4%,#030401 12.5%,#618d27 22.7%,#7baf38 25%,#fffdfc 33.5%,#fa6a2f 41.5%,#070301 51.1%,#090e04 52.3%,#74a92f 60.8%,#fffefd 68.8%,#fb7d49 76.1%,#f2662c 77.8%,#4f210e 85.8%,#030100 90.3%,#3f5c1a 100%)"></i><i style="background:linear-gradient(90deg,#b54c21 0%,#160904 11.4%,#030401 13.1%,#639028 23.3%,#76ac30 25%,#f5f9ef 33%,#fffffe 33.5%,#fa6a2f 41.5%,#080301 51.1%,#090d04 52.3%,#74a92f 60.8%,#f9fbf6 68.2%,#fffaf8 68.8%,#fb804d 75.6%,#f6672c 77.3%,#50210e 85.2%,#020100 89.8%,#43621b 100%)"></i><i style="background:linear-gradient(90deg,#be5022 0%,#200e06 11.4%,#030401 13.6%,#5e8926 23.3%,#79ae34 25.6%,#f2f7eb 33%,#fcfdfa 33.5%,#feece4 34.7%,#fa6a2e 41.5%,#150904 50.6%,#020301 51.7%,#6b9c2c 60.2%,#7db03a 61.4%,#fcfdfb 68.2%,#fee0d3 69.9%,#fa7139 76.1%,#fa692d 76.7%,#5b2610 84.1%,#020100 89.2%,#48681d 100%)"></i><i style="background:linear-gradient(90deg,#c75424 0%,#2a1208 11.4%,#020401 14.2%,#608b27 23.9%,#7cb039 26.1%,#f9fbf6 33.5%,#fffaf8 34.1%,#fa692e 41.5%,#301409 49.4%,#020301 51.7%,#6b9b2b 60.2%,#7cb03a 61.4%,#fff 68.2%,#fb8756 74.4%,#fa6b30 76.1%,#50220e 84.1%,#010000 88.6%,#4c6f1f 100%)"></i><i style="background:linear-gradient(90deg,#d15826 0%,#341609 11.4%,#020301 14.8%,#5b8425 23.9%,#76ac31 26.1%,#ebf3e1 33%,#fffdfc 34.1%,#fa692d 41.5%,#4a1f0d 48.3%,#020301 51.7%,#628e28 59.7%,#7caf39 61.4%,#f7faf3 67.6%,#fffbfa 68.2%,#fb804e 74.4%,#f3662c 76.1%,#5b2610 83%,#000 88.1%,#507521 100%)"></i><i style="background:linear-gradient(90deg,#da5c27 0%,#3e1a0b 11.4%,#020301 15.3%,#5c8626 24.4%,#79ae35 26.7%,#e8f1dc 33%,#fffffe 34.1%,#f8682d 41.5%,#56240f 47.7%,#010201 51.7%,#608d27 59.7%,#7baf37 61.4%,#fafcf8 67.6%,#fff7f4 68.2%,#fb8452 73.9%,#f7682c 75.6%,#672b13 81.8%,#000 87.5%,#557b22 100%)"></i><i style="background:linear-gradient(90deg,#e36029 0%,#481e0d 11.4%,#020301 15.9%,#577f23 24.4%,#74a92f 26.7%,#cee1b5 31.8%,#fcfdfa 34.1%,#fee9e0 35.2%,#fa7138 40.9%,#f6672c 41.5%,#622912 47.2%,#010100 51.7%,#577f23 59.1%,#7aae35 61.4%,#fdfefc 67.6%,#fb7d49 73.9%,#fa692d 75%,#672b13 81.2%,#010100 86.9%,#598224 100%)"></i><i style="background:linear-gradient(90deg,#ed642b 0%,#53230f 11.4%,#020201 16.5%,#588124 25%,#76ac30 27.3%,#e1edd2 33%,#f9fcf6 34.1%,#fff8f5 34.7%,#fa6f36 40.9%,#e25f29 42%,#54230f 47.7%,#000100 51.7%,#557c23 59.1%,#78ad33 61.4%,#fffdfd 67.6%,#fb8b5c 72.7%,#fa6c31 74.4%,#5c2610 81.2%,#010200 86.4%,#5e8826 100%)"></i><i style="background:linear-gradient(90deg,#f7682c 0%,#5d2711 11.4%,#010201 17%,#537922 25%,#79ae35 27.8%,#eaf2df 33.5%,#f6faf2 34.1%,#fffaf9 34.7%,#fb7943 40.3%,#f0652b 41.5%,#6b2d13 46.6%,#000 51.7%,#537922 59.1%,#76ac30 61.4%,#f6faf2 67%,#fffaf8 67.6%,#fb8f62 72.2%,#f2662c 74.4%,#672b13 80.1%,#060301 85.2%,#0b1004 86.9%,#628f28 100%)"></i><i style="background:linear-gradient(90deg,#fa6d32 0%,#c15123 5.1%,#1d0c05 15.9%,#010100 17.6%,#547b22 25.6%,#73a82f 27.8%,#c0d9a0 31.8%,#fffdfc 34.7%,#fa7740 40.3%,#fa6b30 40.9%,#682c13 46.6%,#010000 51.7%,#496a1e 58.5%,#74a92f 61.4%,#cee1b5 65.3%,#f9fbf6 67%,#fff6f2 67.6%,#fb8757 72.2%,#f6672c 73.9%,#733015 79%,#050201 84.7%,#67962a 100%)"></i><i style="background:linear-gradient(90deg,#fa733b 0%,#ef652b 2.3%,#4f210e 13.6%,#000100 18.2%,#4e7220 25.6%,#76ac30 28.4%,#d5e6c0 33%,#fffffe 34.7%,#fb804d 39.8%,#fa692d 40.9%,#7f3517 45.5%,#020100 51.7%,#3f5b1a 58%,#71a52e 61.4%,#96bf60 63.1%,#fcfdfb 67%,#fb7f4c 72.2%,#f9692d 73.3%,#7f3517 77.8%,#030101 84.1%,#6b9d2c 100%)"></i><i style="background:linear-gradient(90deg,#fb7943 0%,#f2662c 2.8%,#51220f 14.2%,#010000 18.8%,#4f7320 26.1%,#79ae35 29%,#dfeccf 33.5%,#fcfdfb 34.7%,#fa7138 40.3%,#e25f29 41.5%,#6e2e14 46%,#030101 51.7%,#354d16 57.4%,#79ae34 61.9%,#dfeccf 65.9%,#fffffe 67%,#fb9064 71%,#fa6b30 72.7%,#723014 77.8%,#010100 83.5%,#66952a 98.3%,#70a32e 100%)"></i><i style="background:linear-gradient(90deg,#fb7f4b 0%,#f6672c 3.4%,#53230f 14.8%,#020100 19.3%,#415f1a 25.6%,#72a72e 29%,#b0cf87 31.8%,#fafcf7 34.7%,#fff3ef 35.2%,#fb8656 39.2%,#fa6d33 40.3%,#763215 45.5%,#050201 51.7%,#151f09 54.5%,#4f7320 59.7%,#75aa30 61.9%,#cfe2b7 65.3%,#f2f7eb 66.5%,#fffbf9 67%,#fb956b 70.5%,#fa6d33 72.2%,#642a12 77.8%,#000100 83%,#649229 97.2%,#75aa30 100%)"></i><i style="background:linear-gradient(90deg,#fb8554 0%,#f9692d 4%,#55240f 15.3%,#040201 19.9%,#3a5518 25.6%,#75ab30 29.5%,#c7ddaa 33%,#f8fbf4 34.7%,#fff5f1 35.2%,#fb8351 39.2%,#fa692d 40.3%,#963f1b 43.8%,#2a1208 49.4%,#010201 52.3%,#3b5618 58.5%,#71a42e 61.9%,#8cb951 63.1%,#f4f8ee 66.5%,#fff7f3 67%,#fb8c5e 70.5%,#fa7037 71.6%,#dd5d28 72.7%,#6f2e14 76.7%,#070301 81.8%,#060903 83%,#69992b 97.2%,#7aae36 100%)"></i><i style="background:linear-gradient(90deg,#fb8b5c 0%,#f5672c 5.1%,#4e210e 16.5%,#020401 21%,#496b1e 27.3%,#79ae34 30.1%,#d2e4bb 33.5%,#f5f9f0 34.7%,#fff6f3 35.2%,#fb8c5e 38.6%,#f1652b 40.3%,#8f3c1a 43.8%,#291107 49.4%,#000 52.3%,#375016 58.5%,#6b9d2c 61.9%,#77ad32 62.5%,#cee1b5 65.3%,#f6faf2 66.5%,#fff2ed 67%,#fb9165 69.9%,#f3662c 71.6%,#883919 75%,#0e0603 80.7%,#030401 81.8%,#67972a 96%,#7cb039 99.4%,#80b23f 100%)"></i><i style="background:linear-gradient(90deg,#fb9165 0%,#f9692d 5.7%,#51220f 17%,#010201 21.6%,#4a6c1e 27.8%,#70a42e 30.1%,#8bb84f 31.2%,#f3f7ec 34.7%,#fff8f5 35.2%,#fc976d 38.1%,#fa6a2e 39.8%,#943e1b 43.2%,#38170a 48.3%,#020100 52.3%,#2c4012 58%,#5a8425 61.4%,#71a52e 62.5%,#91bc59 63.6%,#f9fbf6 66.5%,#feede6 67%,#fc976e 69.3%,#f6672c 71%,#953f1b 73.9%,#200e06 79%,#010000 80.7%,#69992b 95.5%,#7eb13c 98.9%,#85b547 100%)"></i><i style="background:linear-gradient(90deg,#fc976e 0%,#f5672c 6.8%,#4a1f0d 18.2%,#000 22.2%,#415f1b 27.8%,#73a82f 30.7%,#b4d18d 33%,#f0f6e8 34.7%,#fff9f6 35.2%,#fb9165 38.1%,#fa7138 39.2%,#db5c27 40.3%,#8a3a19 43.2%,#351609 48.3%,#010201 52.8%,#2c4012 58.5%,#5e8926 61.9%,#78ad33 63.1%,#cadfb0 65.3%,#fcfdfa 66.5%,#fb8b5d 69.3%,#f9692d 70.5%,#923d1a 73.3%,#271007 77.8%,#020201 80.1%,#6b9b2b 94.9%,#80b23f 98.3%,#8bb950 100%)"></i><i style="background:linear-gradient(90deg,#fc9e77 0%,#f9682d 7.4%,#4e210e 18.8%,#040201 22.7%,#304714 27.3%,#6a9a2b 30.7%,#76ac30 31.2%,#c0d9a0 33.5%,#edf4e3 34.7%,#fffaf7 35.2%,#fc9c75 37.5%,#f9692d 39.2%,#a9471e 41.5%,#602811 44.9%,#000 52.8%,#26370f 58.5%,#4b6d1e 61.4%,#6fa22d 63.1%,#80b240 63.6%,#c7ddaa 65.3%,#fff 66.5%,#fca987 68.2%,#fa6a2f 69.9%,#9f431d 72.2%,#39180a 76.1%,#020100 79%,#77ac31 96%,#91bc58 100%)"></i><i style="background:linear-gradient(90deg,#fca480 0%,#f5672c 8.5%,#481e0d 19.9%,#020201 23.9%,#405d1a 29%,#7baf37 31.8%,#d0e3b8 34.1%,#e9f2de 34.7%,#fffaf8 35.2%,#fb9469 37.5%,#fa6e34 38.6%,#9b411c 41.5%,#572410 44.9%,#040201 52.8%,#1b270b 58%,#415f1a 61.4%,#649229 63.1%,#75aa2f 63.6%,#a5c876 64.8%,#fffbf9 66.5%,#fc9a72 68.2%,#fa6c31 69.3%,#99401c 71.6%,#3e1a0b 75%,#020201 78.4%,#75aa30 94.9%,#96c061 100%)"></i><i style="background:linear-gradient(90deg,#fcaa89 0%,#f9692d 9.1%,#421c0c 21%,#020100 24.4%,#354d15 29%,#6ea12d 31.8%,#80b23f 32.4%,#c9dead 34.1%,#fffaf8 35.2%,#fca17c 36.9%,#fa743c 38.1%,#ee642b 38.6%,#99401c 40.9%,#55240f 44.3%,#140804 51.1%,#030401 54.5%,#22310e 59.7%,#4a6c1e 62.5%,#67972a 63.6%,#7cb039 64.2%,#bad597 65.3%,#e0ecd0 65.9%,#fff6f2 66.5%,#fca784 67.6%,#fa6e33 68.8%,#903d1a 71%,#421c0c 73.9%,#000 77.3%,#77ac31 94.3%,#9cc36a 100%)"></i><i style="background:linear-gradient(90deg,#fcb192 0%,#f5672c 10.2%,#331609 22.7%,#010201 25.6%,#324814 29.5%,#608c27 31.8%,#71a52e 32.4%,#87b649 33%,#fffaf8 35.2%,#fb946a 36.9%,#f4662c 38.1%,#a7461e 39.8%,#622912 42.6%,#2e1308 47.2%,#010201 55.1%,#1d2a0c 60.2%,#3b5618 62.5%,#6b9b2b 64.2%,#87b649 64.8%,#dceaca 65.9%,#feefe8 66.5%,#fb9165 67.6%,#fa6f36 68.2%,#b74d21 69.3%,#702f14 71%,#200d06 74.4%,#010000 76.1%,#79ae34 93.8%,#a2c773 100%)"></i><i style="background:linear-gradient(90deg,#fdb79b 0%,#f9692d 10.8%,#301409 23.9%,#060201 26.1%,#0f1606 27.8%,#375016 30.7%,#608d27 32.4%,#74aa2f 33%,#b3d18c 34.1%,#dbe9c8 34.7%,#fff9f6 35.2%,#fca480 36.4%,#f9692d 37.5%,#b94e21 38.6%,#7e3517 40.3%,#4a1f0d 43.2%,#1f0d06 48.9%,#020301 56.8%,#1b280b 61.4%,#344c15 63.1%,#547a22 64.2%,#6ea02d 64.8%,#98c164 65.3%,#d4e5be 65.9%,#fee4d9 66.5%,#fca27d 67%,#fa7239 67.6%,#d05725 68.2%,#893a19 69.3%,#4e210e 71%,#000 75%,#7baf37 93.2%,#a8ca7c 100%)"></i><i style="background:linear-gradient(90deg,#fdbea4 0%,#f6672c 11.9%,#250f07 25.6%,#050201 27.3%,#162009 29.5%,#3d5919 31.8%,#608c27 33%,#7aae36 33.5%,#a1c671 34.1%,#d1e3ba 34.7%,#fff6f2 35.2%,#fdbda3 35.8%,#fb8f62 36.4%,#fa6c31 36.9%,#b04a20 38.1%,#723014 39.8%,#401b0c 42.6%,#1d0c05 48.3%,#040501 59.7%,#1d2b0c 63.1%,#354e16 64.2%,#4b6e1f 64.8%,#72a62e 65.3%,#c1daa2 65.9%,#fdcdb9 66.5%,#fa753e 67%,#bc4f22 67.6%,#8b3b19 68.2%,#55240f 69.3%,#150904 72.2%,#030401 73.9%,#79ae35 92%,#aece85 100%)"></i><i style="background:linear-gradient(90deg,#fdc5ad 0%,#fa692d 12.5%,#120803 27.8%,#020201 29%,#273910 31.8%,#45651c 33%,#5e8926 33.5%,#84b445 34.1%,#c1daa2 34.7%,#feefe9 35.2%,#fca47f 35.8%,#fa6e35 36.4%,#a0431d 37.5%,#6f2f14 38.6%,#3f1b0b 40.9%,#1e0d05 45.5%,#0d0502 60.2%,#040702 63.1%,#1a260b 64.8%,#314814 65.3%,#7eb13c 65.9%,#fb814f 66.5%,#813617 67%,#50220e 67.6%,#281107 68.8%,#020201 71.6%,#7baf38 91.5%,#b4d28e 100%)"></i><i style="background:linear-gradient(90deg,#fdcbb7 0%,#f7682c 13.6%,#020301 30.7%,#24350f 33%,#375016 33.5%,#577f23 34.1%,#9ec46c 34.7%,#feded0 35.2%,#fa7138 35.8%,#ae491f 36.4%,#803617 36.9%,#50220e 38.1%,#2a1208 40.3%,#130803 45.5%,#311509 63.6%,#441c0c 64.8%,#622912 65.3%,#e36029 65.9%,#618d27 66.5%,#24340f 67%,#162009 67.6%,#0e1506 69.9%,#2d4112 77.8%,#7aae35 90.3%,#bad597 100%)"></i><i style="background:linear-gradient(90deg,#fdd2c0 0%,#f4672c 14.8%,#331509 29.5%,#030501 33.5%,#0f1606 34.1%,#334a15 34.7%,#fa743c 35.2%,#572510 35.8%,#35160a 36.4%,#180a04 38.1%,#060301 43.8%,#2b1208 55.7%,#51220f 61.9%,#733015 63.6%,#8b3a19 64.2%,#b24b20 64.8%,#fa6b2f 65.3%,#fdc4ad 65.9%,#bed89d 66.5%,#6ea02d 67%,#4b6e1f 67.6%,#2f4513 68.8%,#22320e 71%,#2f4513 76.7%,#78ad33 89.2%,#c0d9a0 100%)"></i><i style="background:linear-gradient(90deg,#fed9c9 0%,#fa7239 14.2%,#f1652b 15.9%,#6a2d13 26.7%,#4f210e 31.2%,#5c2711 33%,#6d2e14 33.5%,#953f1b 34.1%,#fa763f 34.7%,#aece85 35.2%,#43611b 35.8%,#263810 36.4%,#141d08 37.5%,#000100 46%,#4b1f0d 58.5%,#763215 61.9%,#ad491f 63.6%,#fa6e33 64.8%,#fc9c74 65.3%,#feded1 65.9%,#d7e7c2 66.5%,#9bc268 67%,#72a62e 67.6%,#4c6e1f 68.8%,#364f16 70.5%,#314814 74.4%,#577f23 83%,#7aaf36 88.6%,#c6dda9 100%)"></i><i style="background:linear-gradient(90deg,#fee0d3 0%,#fa753e 14.8%,#ef642b 17%,#853818 26.1%,#753115 30.1%,#863818 31.8%,#aa471f 33%,#d05725 33.5%,#fb7842 34.1%,#fdc2a9 34.7%,#d6e6c1 35.2%,#84b545 35.8%,#598224 36.4%,#42601b 36.9%,#2b3e11 38.1%,#141d08 41.5%,#040201 48.3%,#5d2711 58.5%,#8b3a19 61.4%,#c15123 63.1%,#fa6f35 64.2%,#fb8e60 64.8%,#fdb699 65.3%,#fee9e0 65.9%,#e2edd3 66.5%,#b4d28e 67%,#8fbb56 67.6%,#74aa2f 68.2%,#577f23 69.3%,#405d1a 71.6%,#3e5b19 76.1%,#6ea02d 85.8%,#85b547 89.2%,#cde0b3 100%)"></i><i style="background:linear-gradient(90deg,#fee6dd 0%,#fb7d49 14.8%,#f5672c 17.6%,#9d421c 25.6%,#943e1b 29.5%,#a8471e 31.2%,#cb5525 32.4%,#ea622a 33%,#fb7a45 33.5%,#fca37e 34.1%,#fedcce 34.7%,#e1edd2 35.2%,#a7ca7b 35.8%,#7cb039 36.4%,#4f7320 37.5%,#314814 39.2%,#111907 44.3%,#040201 48.9%,#6e2e14 58.5%,#a7461e 61.4%,#e66129 63.1%,#fa7036 63.6%,#fca47f 64.8%,#feefe8 65.9%,#e8f1dc 66.5%,#a4c876 67.6%,#77ac31 68.8%,#577f24 70.5%,#46661d 73.3%,#507420 79%,#7baf38 86.9%,#d3e4bc 100%)"></i><i style="background:linear-gradient(90deg,#feede6 0%,#fb8554 14.8%,#f4672c 18.8%,#b04a20 25.6%,#ad491f 29%,#ce5725 31.2%,#f9692d 32.4%,#fc986f 33.5%,#fdbca1 34.1%,#fee9e0 34.7%,#e6f0d9 35.2%,#96bf60 36.4%,#79ae34 36.9%,#4b6e1f 38.6%,#2a3e11 41.5%,#000 48.9%,#753115 58%,#c15123 61.4%,#fa7036 63.1%,#fcb395 64.8%,#fff2ed 65.9%,#ebf3e1 66.5%,#9bc369 68.2%,#79ae34 69.3%,#598224 71.6%,#4e7220 75%,#608c27 81.2%,#7aae36 85.8%,#d9e8c6 100%)"></i><i style="background:linear-gradient(90deg,#fff4f0 0%,#fb9165 14.2%,#f4672c 19.9%,#c35223 25.6%,#c75424 29%,#e15e28 30.7%,#fa6f36 31.8%,#fb9368 33%,#fdccb7 34.1%,#fef0ea 34.7%,#e9f2de 35.2%,#a7ca7b 36.4%,#77ad32 37.5%,#496a1e 39.8%,#1f2d0d 44.3%,#030101 49.4%,#843718 58%,#c65324 60.8%,#fa7036 62.5%,#fca784 64.2%,#fff5f1 65.9%,#eef5e5 66.5%,#a8ca7c 68.2%,#7baf37 69.9%,#5d8726 72.7%,#588124 77.3%,#79ae34 84.7%,#e0ecd0 100%)"></i><i style="background:linear-gradient(90deg,#fffcfa 0%,#fc9970 14.2%,#f6672c 21%,#d35926 26.1%,#de5d28 29%,#fa6a2f 30.7%,#fb9164 32.4%,#fed6c6 34.1%,#fff4f0 34.7%,#ecf3e2 35.2%,#9dc36a 36.9%,#77ac31 38.1%,#46661c 40.9%,#080c03 48.3%,#000 49.4%,#923d1a 58%,#da5c27 60.8%,#fa6f35 61.9%,#fcb394 64.2%,#fff8f5 65.9%,#eff5e7 66.5%,#a1c672 68.8%,#7db03a 70.5%,#6a9a2b 72.2%,#5e8926 76.1%,#78ad33 83.5%,#e6f0d9 100%)"></i><i style="background:linear-gradient(90deg,#fcfdfa 0%,#fff9f6 1.7%,#f9692d 22.2%,#e56029 26.7%,#fa6a2f 29.5%,#fb9063 31.8%,#fdc6af 33.5%,#fff7f4 34.7%,#eef5e5 35.2%,#96bf60 37.5%,#76ac31 38.6%,#42601b 42%,#010201 49.4%,#863818 56.8%,#fa6d33 61.4%,#fdbda2 64.2%,#fffaf8 65.9%,#f0f6e8 66.5%,#aacc7f 68.8%,#7fb13d 71%,#6ea12d 72.7%,#659329 76.7%,#7baf38 83%,#ecf4e3 100%)"></i><i style="background:linear-gradient(90deg,#f5f9f0 0%,#fffdfc 2.3%,#fa6e34 22.7%,#fa6a2e 27.8%,#fb8555 30.7%,#fcaa88 32.4%,#fff9f6 34.7%,#f0f6e8 35.2%,#92bd5a 38.1%,#76ac30 39.2%,#3e5a19 43.2%,#030401 49.4%,#1b0b05 51.1%,#ba4e21 58.5%,#fa6c31 60.8%,#fdc5ae 64.2%,#fffdfc 65.9%,#a5c877 69.3%,#80b240 71.6%,#72a72f 73.3%,#6d9f2c 77.8%,#7baf38 81.8%,#f3f8ed 100%)"></i><i style="background:linear-gradient(90deg,#eef5e6 0%,#fffdfc 3.4%,#fb7943 22.2%,#fa7037 26.7%,#fb814e 29.5%,#fca582 31.8%,#fee6db 34.1%,#fff9f7 34.7%,#f2f7eb 35.2%,#9cc36a 38.1%,#76ab30 39.8%,#3e5b19 43.8%,#030100 50%,#b74d21 58%,#fa692d 60.2%,#fdcdb8 64.2%,#fff 65.9%,#abcc80 69.3%,#82b443 72.2%,#74aa2f 74.4%,#79ae35 80.1%,#c3dba5 91.5%,#fafcf7 100%)"></i><i style="background:linear-gradient(90deg,#e8f1dc 0%,#fffefd 4.5%,#fb814e 22.2%,#fb7943 26.7%,#fb8a5b 29.5%,#fcad8d 31.8%,#fff9f6 34.7%,#f4f8ef 35.2%,#99c164 38.6%,#75aa30 40.3%,#375117 44.9%,#000 50%,#d35926 58.5%,#f5672c 59.7%,#fdc5ad 63.6%,#fcfdfb 65.9%,#b0cf88 69.3%,#89b84d 72.2%,#78ad33 75.6%,#82b342 80.7%,#fdfefc 99.4%,#fffefd 100%)"></i><i style="background:linear-gradient(90deg,#e1edd2 0%,#fffefe 5.7%,#fb8859 22.2%,#fb814e 26.7%,#fb9266 29.5%,#fdbfa6 32.4%,#fff8f5 34.7%,#f7faf3 35.2%,#8ab84e 39.8%,#74a92f 40.9%,#22310e 47.2%,#010100 50%,#ce5625 58%,#fa6d33 59.7%,#fff6f3 65.3%,#fafcf7 65.9%,#b4d18d 69.3%,#8ab84f 72.7%,#7db03b 76.7%,#91bc59 82.4%,#fdfefc 98.3%,#fff6f3 100%)"></i><i style="background:linear-gradient(90deg,#dae9c7 0%,#fffefe 6.8%,#fb8f63 22.2%,#fb8858 26.7%,#fc9f79 30.1%,#fdcfbb 33%,#fff7f3 34.7%,#fafcf7 35.2%,#7db03a 40.9%,#588024 43.2%,#020301 50%,#a6461e 56.2%,#fa6a2e 59.1%,#fffbf9 65.3%,#ebf3e1 66.5%,#aece85 69.9%,#8cb951 73.3%,#83b444 77.3%,#9ac267 83%,#fdfefd 97.2%,#feefe8 100%)"></i><i style="background:linear-gradient(90deg,#d3e5bd 0%,#fffefe 8%,#fc966c 22.2%,#fb8e61 26.7%,#fca581 30.1%,#fedccd 33.5%,#fdfefb 35.2%,#7baf37 41.5%,#030401 50%,#1a0b05 51.1%,#f4662c 58.5%,#fc9970 60.8%,#fff 65.3%,#b8d494 69.3%,#94be5d 72.7%,#88b74b 76.7%,#99c165 81.8%,#fdfefc 96%,#fee7de 100%)"></i><i style="background:linear-gradient(90deg,#cce0b3 0%,#fffefe 9.1%,#fc9d76 22.2%,#fb946a 26.7%,#fca987 30.1%,#fedbcd 33.5%,#fffefe 35.2%,#78ad33 42%,#040602 50%,#080301 50.6%,#fa6b30 58.5%,#feece5 64.2%,#fff8f5 64.8%,#fbfcf9 65.3%,#b2d08b 69.9%,#91bd59 73.9%,#8eba54 77.8%,#adce84 84.1%,#fdfefc 94.9%,#fee0d3 100%)"></i><i style="background:linear-gradient(90deg,#c6dca8 0%,#fffefd 10.2%,#fca37e 22.2%,#fc9971 26.7%,#fcad8c 30.1%,#fedacb 33.5%,#fffaf8 35.2%,#f9fcf6 35.8%,#75ab30 42.6%,#050802 50%,#070301 50.6%,#f5672c 58%,#fee7dd 63.6%,#fffdfd 64.8%,#b3d18c 69.9%,#95bf5f 73.9%,#92bd5a 77.8%,#b3d18c 84.1%,#fffefd 94.3%,#fed8c8 100%)"></i><i style="background:linear-gradient(90deg,#bed89d 0%,#fffdfd 11.4%,#fca987 22.2%,#fc9e77 26.7%,#fdb496 30.7%,#feebe3 34.7%,#fefefe 35.8%,#72a62e 43.2%,#070a03 50%,#050201 50.6%,#fa6c31 58%,#fdccb8 61.9%,#fff8f6 64.2%,#fbfdf9 64.8%,#b9d595 69.3%,#9ac266 73.3%,#95bf5e 77.3%,#b0cf88 83%,#fffefe 93.2%,#fdd0be 100%)"></i><i style="background:linear-gradient(90deg,#b7d493 0%,#f5f9f0 10.8%,#fffcfb 12.5%,#fcab8a 22.7%,#fca37e 27.3%,#fdba9f 31.2%,#fff0eb 35.2%,#fffaf8 35.8%,#fafcf8 36.4%,#91bd59 42%,#79ae35 43.2%,#040201 50.6%,#f4672c 57.4%,#fb9064 59.1%,#fed4c3 61.9%,#fff 64.2%,#b8d494 69.3%,#9ac266 73.9%,#9bc368 78.4%,#c3daa4 84.7%,#fffffe 92%,#fdc8b3 100%)"></i><i style="background:linear-gradient(90deg,#b0cf88 0%,#edf4e4 10.8%,#fefffe 13.1%,#fcad8d 23.3%,#fca682 27.3%,#fdba9f 31.2%,#feebe3 35.2%,#fffefd 36.4%,#b2d08a 40.9%,#75aa2f 43.8%,#020100 50.6%,#fa6b30 57.4%,#fdd1bf 61.4%,#fffcfa 63.6%,#e8f1dc 65.3%,#b1d089 69.9%,#9ac266 74.4%,#a1c671 79%,#d7e7c2 86.4%,#fdfefc 90.9%,#fdc1a8 100%)"></i><i style="background:linear-gradient(90deg,#a9cb7d 0%,#e2edd3 10.2%,#fffefd 14.2%,#fcb293 23.3%,#fca885 27.3%,#fdb99d 31.2%,#fee5db 35.2%,#fefefe 36.9%,#a3c775 42%,#70a32d 44.3%,#000 50.6%,#f2652b 56.8%,#fb804d 58%,#fdcebb 60.8%,#fff9f7 63.1%,#fbfdfa 63.6%,#b9d595 68.8%,#9ec46c 73.3%,#9fc56e 77.8%,#c4dba6 83.5%,#fffefe 90.3%,#fdb99c 100%)"></i><i style="background:linear-gradient(90deg,#a2c672 0%,#dae9c7 10.2%,#fefefd 14.8%,#fcb294 23.9%,#fcaa88 27.8%,#fdbca1 31.8%,#fee7dd 35.8%,#fdfefc 37.5%,#adcd83 42%,#77ac31 44.3%,#010100 50.6%,#fa692d 56.8%,#fdccb7 60.2%,#fdfefc 63.1%,#bbd699 68.2%,#9fc56e 72.7%,#9fc56e 77.3%,#c4dba5 83%,#fdfefc 89.2%,#fcb091 100%)"></i><i style="background:linear-gradient(90deg,#9ac267 0%,#d2e4bb 10.2%,#fffdfd 15.9%,#fdb698 23.9%,#fcab8a 28.4%,#fdc1a9 33%,#fef0e9 36.9%,#fdfefc 38.1%,#b7d392 42%,#71a52e 44.9%,#020201 50.6%,#ed642b 56.2%,#fa6f35 56.8%,#fdc9b3 59.7%,#fefffe 62.5%,#c2daa2 67%,#a2c772 71.6%,#9dc46c 76.1%,#b9d596 81.2%,#fff 88.6%,#fdb99d 97.2%,#fca885 100%)"></i><i style="background:linear-gradient(90deg,#93be5c 0%,#c6dca9 9.7%,#fff 16.5%,#fdb89c 23.9%,#fcab89 28.4%,#fdbda3 33%,#fee7dd 36.9%,#fdfefc 38.6%,#b5d28f 42.6%,#79ae34 44.9%,#030401 50.6%,#622912 52.8%,#f6672c 56.2%,#fa743d 56.8%,#fdc5ad 59.1%,#fff 61.9%,#c2daa3 66.5%,#a0c56f 71.6%,#9ec46c 76.1%,#b8d493 80.7%,#fffdfd 88.1%,#fdb89b 96%,#fca07a 100%)"></i><i style="background:linear-gradient(90deg,#8bb950 0%,#bed79c 9.7%,#fefefd 17%,#fdb79a 24.4%,#fca987 29%,#fdbca2 33.5%,#fee5db 37.5%,#fefffe 39.2%,#c0d99f 42.6%,#71a52e 45.5%,#040501 50.6%,#2f1408 51.7%,#e7612a 55.7%,#fa6c31 56.2%,#fdd0bd 59.1%,#fffefe 61.4%,#bcd69a 66.5%,#9dc46b 71.6%,#9ec46c 76.1%,#bad597 80.7%,#fcfdfa 86.9%,#fff6f2 88.1%,#fcb395 95.5%,#fc976e 100%)"></i><i style="background:linear-gradient(90deg,#84b445 0%,#b5d290 9.7%,#f7faf3 17%,#fdfefd 17.6%,#fdb496 25%,#fca784 29.5%,#fdbb9f 34.1%,#fee3d8 38.1%,#fffefe 39.8%,#cbdfb0 42.6%,#7aaf36 45.5%,#050702 50.6%,#130803 51.1%,#f0652b 55.7%,#fa723a 56.2%,#fdcdb9 58.5%,#fffefd 60.8%,#c0d9a0 65.3%,#9ec46c 70.5%,#9ac267 75%,#b2d18b 79.5%,#fcfdfa 86.4%,#fff5f1 87.5%,#fcb294 94.3%,#fb8f62 100%)"></i><i style="background:linear-gradient(90deg,#7cb039 0%,#a9cb7d 9.1%,#e4efd6 15.9%,#fefefd 18.2%,#fdb597 25%,#fca480 29.5%,#fcb496 34.1%,#fee0d4 38.6%,#fffcfb 40.3%,#e2edd3 42%,#a9cb7e 44.3%,#71a52e 46%,#060802 50.6%,#120803 51.1%,#fa692d 55.7%,#fb7b46 56.2%,#fdc6af 58%,#fffdfc 60.2%,#bed89d 64.8%,#9cc369 69.9%,#97c062 74.4%,#afce85 79%,#fbfdfa 85.8%,#fff4f0 86.9%,#fcae8d 93.8%,#fb8656 100%)"></i><i style="background:linear-gradient(90deg,#75aa2f 0%,#9dc36a 8.5%,#d6e6c2 15.3%,#fff 18.8%,#fdb99e 24.4%,#fca17b 29%,#fcaa87 33.5%,#fed4c3 38.6%,#fffaf8 40.9%,#f9fbf6 41.5%,#c7ddab 43.8%,#7baf38 46%,#25350f 49.4%,#070a03 50.6%,#110703 51.1%,#e8612a 55.1%,#fa6f36 55.7%,#fed4c3 58%,#fffdfc 59.7%,#bcd69a 64.2%,#99c165 69.3%,#93be5c 73.9%,#aacb7e 78.4%,#f3f8ed 84.7%,#fffcfb 85.8%,#fcb395 92%,#fb7e4a 100%)"></i><i style="background:linear-gradient(90deg,#6ea02d 0%,#7eb13d 4.5%,#adcd83 11.9%,#f2f7eb 18.2%,#fffdfc 19.3%,#fcb496 25%,#fc9d76 29%,#fca37e 33.5%,#fdc9b3 38.6%,#fff7f4 41.5%,#fbfcf9 42%,#c4dba6 44.3%,#71a42e 46.6%,#080c03 50.6%,#110703 51.1%,#f3662c 55.1%,#fa7741 55.7%,#fdcfbc 57.4%,#fffcfb 59.1%,#b9d595 63.6%,#95bf60 68.8%,#8fbb55 73.3%,#a4c876 77.8%,#e0ecd0 83%,#fffefd 85.2%,#fdb597 90.9%,#fb804e 97.7%,#fa753d 100%)"></i><i style="background:linear-gradient(90deg,#67972a 0%,#7baf38 5.7%,#a9cb7d 12.5%,#ebf3e1 18.2%,#fcfdfa 19.3%,#fff1eb 20.5%,#fcb294 25%,#fc986f 29%,#fc9b73 33.5%,#fdbea4 38.6%,#feded0 40.9%,#fcfdfb 42.6%,#c0d99f 44.9%,#7caf39 46.6%,#3b5618 48.9%,#090e04 50.6%,#100703 51.1%,#df5d28 54.5%,#fa6b30 55.1%,#fdc6af 56.8%,#feede5 58%,#fffbfa 58.5%,#bbd699 62.5%,#94be5e 67.6%,#89b84d 72.7%,#9ec46c 77.3%,#d3e4bc 81.8%,#fefefd 84.7%,#fcab89 90.9%,#fa7741 97.7%,#fa6c31 100%)"></i><i style="background:linear-gradient(90deg,#618d27 0%,#7baf38 7.4%,#aacc7f 13.6%,#eef4e5 18.8%,#fffefe 19.9%,#fcb191 25%,#fb9368 29%,#fb9368 33.5%,#fcb395 38.6%,#fdcebb 40.9%,#fefefe 43.2%,#d0e3b8 44.9%,#6fa22d 47.2%,#0b1004 50.6%,#0f0603 51.1%,#ea622a 54.5%,#fa733b 55.1%,#fed9ca 56.8%,#fffaf9 58%,#e9f2de 59.1%,#b8d493 61.9%,#90bc57 67%,#84b445 72.2%,#93bd5b 76.1%,#bbd699 80.1%,#fafcf7 84.1%,#fffaf9 84.7%,#fcae8d 89.8%,#fb7b46 95.5%,#f4662c 99.4%,#f0652b 100%)"></i><i style="background:linear-gradient(90deg,#5a8324 0%,#78ad33 8.5%,#a7ca7a 14.2%,#e8f1dc 18.8%,#fbfdf9 19.9%,#fff9f6 20.5%,#fcae8d 25%,#fb8d5f 29%,#fb8b5c 33.5%,#fca886 38.6%,#fdc8b2 41.5%,#fffefe 43.8%,#cce0b1 45.5%,#7cb039 47.2%,#324914 49.4%,#0d1205 50.6%,#0e0603 51.1%,#f6672c 54.5%,#fb8453 55.1%,#fdd0be 56.2%,#fff9f6 57.4%,#f6f9f1 58%,#bbd699 60.8%,#92bd5a 65.3%,#7eb13c 70.5%,#87b74a 75%,#abcc80 79%,#fff 84.1%,#fcb293 88.6%,#fb7d49 93.8%,#f2662c 97.7%,#e05e28 100%)"></i><i style="background:linear-gradient(90deg,#537922 0%,#79ae35 10.2%,#abcc81 15.3%,#fffdfc 20.5%,#fcb294 24.4%,#fb8d60 27.8%,#fb804d 31.8%,#fb9164 36.9%,#fdb99d 41.5%,#feece4 43.8%,#fffdfc 44.3%,#ddebcc 45.5%,#6ea12d 47.7%,#0e1506 50.6%,#0d0602 51.1%,#df5d28 54%,#fa6f36 54.5%,#fdc3ab 55.7%,#fee3d8 56.2%,#fff7f3 56.8%,#f6faf2 57.4%,#b7d392 60.2%,#8dba52 64.8%,#78ad33 69.9%,#7fb23e 74.4%,#a1c671 78.4%,#e3eed4 82.4%,#f9fbf6 83.5%,#fffaf7 84.1%,#fca885 88.6%,#fa723a 93.8%,#eb632a 96.6%,#d15826 100%)"></i><i style="background:linear-gradient(90deg,#4c6e1f 0%,#6d9f2c 9.7%,#7cb03a 11.9%,#aacb7e 15.9%,#fefefd 20.5%,#fca683 25%,#fb8251 28.4%,#fa7741 32.4%,#fb895a 37.5%,#fcb294 42%,#fed8c8 43.8%,#fffcfa 44.9%,#eff5e7 45.5%,#bdd79c 46.6%,#7baf38 47.7%,#101807 50.6%,#0c0502 51.1%,#ed632b 54%,#fb814f 54.5%,#feddd0 55.7%,#fff3ef 56.2%,#f7faf3 56.8%,#bdd79b 59.1%,#9ec46d 61.4%,#7aaf37 66.5%,#73a82f 72.7%,#85b546 76.1%,#aece85 79.5%,#fdfefc 83.5%,#fca682 88.1%,#fa7037 92.6%,#e56029 95.5%,#c15123 100%)"></i><i style="background:linear-gradient(90deg,#45641c 0%,#649229 9.7%,#7cb039 13.1%,#b2d08b 17%,#fafcf7 20.5%,#fff6f3 21%,#fcab89 24.4%,#fb7f4c 27.8%,#fa6e34 31.8%,#fb7a45 36.9%,#fca480 42%,#fcb395 43.2%,#fffbfa 45.5%,#edf4e4 46%,#b3d18c 47.2%,#8ebb54 47.7%,#6c9e2c 48.3%,#131b08 50.6%,#0b0502 51.1%,#d05725 53.4%,#fa6b2f 54%,#fdceba 55.1%,#feefe9 55.7%,#f9fbf6 56.2%,#b8d494 58.5%,#9ec46d 60.2%,#77ac31 65.3%,#6b9c2c 71.6%,#7aae36 75.6%,#a2c672 79%,#e7f0db 82.4%,#fffcfb 83.5%,#fcae8e 86.9%,#fa753e 90.9%,#f4662c 92.6%,#b84d21 98.9%,#b14a20 100%)"></i><i style="background:linear-gradient(90deg,#3e5a19 0%,#5b8525 9.7%,#77ac31 13.6%,#a8ca7c 17%,#f6faf2 20.5%,#fff8f6 21%,#fca581 24.4%,#fb7c48 27.3%,#f7682c 30.7%,#fa6f35 36.9%,#fb966c 42%,#fcac8b 43.8%,#fee3d8 45.5%,#fffbfa 46%,#eaf2df 46.6%,#a4c876 47.7%,#7aae36 48.3%,#151f09 50.6%,#0a0402 51.1%,#e05e28 53.4%,#fb7d49 54%,#fdb99d 54.5%,#fee9e0 55.1%,#fbfdfa 55.7%,#c2daa4 57.4%,#a7ca7a 58.5%,#7aae36 63.1%,#649229 69.9%,#70a32e 75%,#7eb13c 76.7%,#a7ca7a 79.5%,#f8faf4 83%,#fff7f4 83.5%,#fca37e 86.9%,#fa6f35 90.3%,#e8612a 92%,#af4a20 97.7%,#a1441d 100%)"></i><i style="background:linear-gradient(90deg,#375016 0%,#527721 9.7%,#78ad33 14.8%,#a9cb7d 17.6%,#f3f7ec 20.5%,#fffbf9 21%,#fcab89 23.9%,#fb7a44 26.7%,#f4662c 29%,#e15f29 33%,#fa6b30 38.6%,#fb9469 43.2%,#fca480 44.3%,#fdc9b3 45.5%,#fffcfb 46.6%,#e6f0d9 47.2%,#91bc59 48.3%,#699a2b 48.9%,#18230a 50.6%,#0a0402 51.1%,#f3662c 53.4%,#fc9d75 54%,#feddd0 54.5%,#fffefe 55.1%,#bfd89e 56.8%,#a1c671 58%,#77ac31 61.9%,#5e8a26 68.2%,#649129 73.9%,#76ac30 76.7%,#a2c772 79.5%,#eaf2e0 82.4%,#fbfcf9 83%,#fff2ec 83.5%,#fca37e 86.4%,#fa7037 89.2%,#ef642b 90.3%,#b34b20 94.9%,#913d1a 100%)"></i><i style="background:linear-gradient(90deg,#2f4513 0%,#4b6e1f 10.2%,#6d9f2c 14.8%,#7cb039 15.9%,#abcc80 18.2%,#fffdfc 21%,#fca47f 23.9%,#fa7037 26.7%,#e35f29 29%,#d05725 33%,#e35f29 38.1%,#fa6d33 40.9%,#fb9368 44.3%,#fcac8b 45.5%,#fffffe 47.2%,#ddeacc 47.7%,#77ac31 48.9%,#1c290b 50.6%,#090402 51.1%,#ce5625 52.8%,#fa763f 53.4%,#fdc4ac 54%,#fff8f5 54.5%,#e9f2de 55.1%,#a8ca7b 56.8%,#8bb94f 58.5%,#74a92f 60.8%,#588124 67%,#5a8425 73.3%,#75aa30 77.3%,#9bc368 79.5%,#ebf3e1 82.4%,#fefefd 83%,#fca480 85.8%,#fa6a2f 88.6%,#b74d21 92.6%,#833718 99.4%,#813617 100%)"></i><i style="background:linear-gradient(90deg,#283b10 0%,#415f1b 10.2%,#618e28 14.8%,#78ad34 16.5%,#b0cf87 18.8%,#fffefe 21%,#fcab89 23.3%,#fa763f 25.6%,#e9622a 27.3%,#c45223 30.7%,#c25123 35.8%,#e8612a 40.9%,#fa6d32 42.6%,#fb9469 45.5%,#fca37e 46%,#fbfdfa 47.7%,#cfe2b6 48.3%,#94be5e 48.9%,#649229 49.4%,#202f0d 50.6%,#080301 51.1%,#e46029 52.8%,#fc9f79 53.4%,#feefe8 54%,#edf4e3 54.5%,#a1c671 56.2%,#7cb039 58.5%,#659329 61.4%,#4e7220 68.2%,#557c22 73.9%,#6d9f2c 77.3%,#7cb03a 78.4%,#b2d08a 80.7%,#fffcfb 83%,#fca784 85.2%,#fa6f35 87.5%,#b84d21 90.9%,#843818 96%,#702f14 100%)"></i><i style="background:linear-gradient(90deg,#21300d 0%,#375016 10.2%,#557c23 14.8%,#75aa30 17%,#a3c774 18.8%,#fefffe 21%,#fca17c 23.3%,#fa743d 25%,#fa6a2e 25.6%,#c45223 28.4%,#ab481f 32.4%,#b74d21 38.1%,#e46029 42.6%,#fa6e34 44.3%,#fc9970 46.6%,#feded0 47.7%,#f5f9f0 48.3%,#b9d596 48.9%,#72a72f 49.4%,#070301 51.1%,#b24b20 52.3%,#fa6d32 52.8%,#fed4c3 53.4%,#f2f7ec 54%,#b2d08b 55.1%,#99c165 55.7%,#7aaf36 57.4%,#547b22 62.5%,#46661c 69.9%,#527721 75%,#72a72f 78.4%,#89b84d 79.5%,#bed89d 81.2%,#ecf4e3 82.4%,#fff9f6 83%,#fc9970 85.2%,#fa6a2e 86.9%,#b24b20 89.8%,#7d3416 94.3%,#5f2811 100%)"></i><i style="background:linear-gradient(90deg,#1a260a 0%,#2f4413 10.8%,#4e7120 15.3%,#72a62e 17.6%,#94be5e 18.8%,#e0ecd1 20.5%,#fefefd 21%,#fcab89 22.7%,#fa733b 24.4%,#f6672c 25%,#bf5022 27.3%,#9b411c 31.2%,#9e421c 37.5%,#c65324 42.6%,#fa6a2f 45.5%,#fb8e61 47.2%,#fcb293 47.7%,#fedfd2 48.3%,#e9f1dd 48.9%,#99c165 49.4%,#5b8525 50%,#060201 51.1%,#cd5625 52.3%,#fca47f 52.8%,#fcfdfa 53.4%,#adcd83 54.5%,#91bc59 55.1%,#7aae35 56.2%,#547a22 60.2%,#3f5c1a 67%,#44631c 73.9%,#5a8324 77.3%,#71a52e 79%,#8dba53 80.1%,#cfe2b7 81.8%,#ebf3e1 82.4%,#fff4f0 83%,#fc9e77 84.7%,#fa743d 85.8%,#f3662c 86.4%,#ac481f 88.6%,#7a3316 92%,#50220e 99.4%,#4f210e 100%)"></i><i style="background:linear-gradient(90deg,#121b08 0%,#26370f 11.4%,#3f5c1a 15.3%,#618e28 17.6%,#6fa22d 18.2%,#82b343 18.8%,#b8d494 19.9%,#fdfefc 21%,#fc9c75 22.7%,#fa7239 23.9%,#db5c27 25%,#a8471e 27.3%,#873918 31.2%,#893a19 38.1%,#af491f 43.2%,#e56029 46%,#f7682c 46.6%,#fb8453 47.7%,#fcaa89 48.3%,#fee4d9 48.9%,#cee2b6 49.4%,#6d9f2c 50%,#050201 51.1%,#f1652b 52.3%,#fff2ec 52.8%,#d4e5be 53.4%,#a8ca7b 54%,#89b84d 54.5%,#7baf37 55.1%,#557c23 58%,#3b5718 63.6%,#375016 72.2%,#4a6b1e 76.7%,#659329 79%,#7eb13d 80.1%,#abcc80 81.2%,#e9f2de 82.4%,#fef0ea 83%,#fca885 84.1%,#fa733a 85.2%,#cf5725 86.4%,#9a411c 88.1%,#672b13 91.5%,#411b0c 98.9%,#3e1a0b 100%)"></i><i style="background:linear-gradient(90deg,#0b1005 0%,#1c290b 11.9%,#354d15 15.9%,#4e7220 17.6%,#6d9f2c 18.8%,#86b648 19.3%,#d1e3b9 20.5%,#fefefd 21%,#fca886 22.2%,#fa7037 23.3%,#ce5725 24.4%,#a1441d 26.1%,#7b3416 29.5%,#6f2f14 36.4%,#893a19 42.6%,#af491f 45.5%,#dd5d28 47.2%,#f5672c 47.7%,#fb7842 48.3%,#fca27d 48.9%,#feede6 49.4%,#a0c56f 50%,#47671d 50.6%,#040201 51.1%,#9e421c 51.7%,#fcac8b 52.3%,#dce9c9 52.8%,#a2c672 53.4%,#80b23e 54%,#70a32d 54.5%,#4e7220 56.8%,#364f16 61.4%,#2d4212 71%,#3e5a19 76.7%,#567d23 79%,#6d9f2c 80.1%,#80b23f 80.7%,#bcd79a 81.8%,#e5efd8 82.4%,#feeae1 83%,#fb9267 84.1%,#fa723a 84.7%,#c05123 85.8%,#853818 87.5%,#582510 90.3%,#331609 97.2%,#2d1308 100%)"></i><i style="background:linear-gradient(90deg,#040602 0%,#121a07 12.5%,#283b10 16.5%,#44631c 18.2%,#6b9c2c 19.3%,#90bc57 19.9%,#fffdfc 21%,#fdbfa5 21.6%,#fb8f62 22.2%,#fa6d33 22.7%,#bd5022 23.9%,#8d3b19 25.6%,#682c13 29%,#592510 36.9%,#6d2e14 43.2%,#8f3c1a 46%,#bd4f22 47.7%,#fa692d 48.9%,#fc986f 49.4%,#fbfcf9 50%,#5f8b27 50.6%,#030101 51.1%,#d05725 51.7%,#ecf4e3 52.3%,#9ac266 52.8%,#73a82f 53.4%,#4d701f 55.1%,#324914 58.5%,#24340f 67.6%,#2d4112 75.6%,#45651c 79%,#6a9a2b 80.7%,#82b343 81.2%,#a9cb7c 81.8%,#ddeacb 82.4%,#fee2d6 83%,#fca47f 83.5%,#fa743c 84.1%,#d45926 84.7%,#903c1a 85.8%,#5e2811 87.5%,#37170a 90.9%,#1c0c05 100%)"></i><i style="background:linear-gradient(90deg,#070301 0%,#050702 12.5%,#18240a 17%,#344c15 18.8%,#496a1e 19.3%,#6a9b2b 19.9%,#accc81 20.5%,#fff4f0 21%,#fc9d75 21.6%,#f7682c 22.2%,#c35223 22.7%,#8d3b19 23.9%,#632a12 26.1%,#481e0d 31.8%,#481e0d 42%,#602811 46%,#7f3517 47.7%,#ad491f 48.9%,#d65a27 49.4%,#fb8859 50%,#b2d08b 50.6%,#020100 51.1%,#fdc5ae 51.7%,#8eba54 52.3%,#639128 52.8%,#43621b 54%,#2b3f12 56.2%,#1c290b 63.1%,#22310e 75.6%,#324914 79%,#4e7220 80.7%,#628f28 81.2%,#86b648 81.8%,#c9dead 82.4%,#fed4c3 83%,#fb7d48 83.5%,#c25123 84.1%,#8e3b19 84.7%,#582510 85.8%,#2e1308 88.1%,#120803 93.8%,#0b0402 100%)"></i><i style="background:linear-gradient(90deg,#170a04 0%,#0c0502 14.8%,#030501 17.6%,#19250a 19.3%,#304614 19.9%,#6ea02d 20.5%,#fdd2bf 21%,#d65a27 21.6%,#913d1a 22.2%,#733015 22.7%,#4f210e 24.4%,#351609 30.7%,#2c1208 44.9%,#451d0c 48.3%,#682c13 49.4%,#923d1a 50%,#fa692e 50.6%,#010000 51.1%,#76ab30 51.7%,#44631c 52.3%,#304614 52.8%,#1c280b 54.5%,#111907 61.4%,#1a260b 77.8%,#2b3f12 80.7%,#375016 81.2%,#4d711f 81.8%,#8ebb55 82.4%,#fcad8c 83%,#99401c 83.5%,#54230f 84.1%,#36160a 84.7%,#130803 86.4%,#010100 90.9%,#030401 100%)"></i><i style="background:linear-gradient(90deg,#271007 0%,#38180a 18.2%,#50210e 19.9%,#833718 20.5%,#44641c 21%,#030401 21.6%,#1b0b05 23.3%,#1c0c05 33%,#030401 47.2%,#111907 50%,#22310e 50.6%,#000 51.1%,#471e0d 51.7%,#230f06 52.3%,#080301 54.5%,#030501 59.7%,#090c03 79%,#020301 81.2%,#0a0402 81.8%,#3d1a0b 82.4%,#659429 83%,#24340f 83.5%,#162009 84.7%,#0b1005 100%)"></i><i style="background:linear-gradient(90deg,#36170a 0%,#51220f 14.2%,#723014 17.6%,#933e1a 18.8%,#b44c20 19.3%,#f2662c 19.9%,#fdb699 20.5%,#bbd698 21%,#5a8425 21.6%,#334a15 22.2%,#1f2e0d 22.7%,#080c03 24.4%,#050201 27.3%,#010100 35.8%,#151e08 45.5%,#2b3f11 48.3%,#45641c 49.4%,#608c27 50%,#c8deac 50.6%,#010100 51.1%,#fdd2c0 51.7%,#c95524 52.3%,#8f3c1a 52.8%,#592510 54%,#301409 56.2%,#0b0502 63.1%,#000100 73.9%,#140804 78.4%,#311509 80.1%,#451d0c 80.7%,#662b12 81.2%,#a4451e 81.8%,#fb8757 82.4%,#e6f0d9 83%,#80b240 83.5%,#577f24 84.1%,#43621b 84.7%,#2b3f12 86.4%,#1a250a 92%,#131c08 100%)"></i><i style="background:linear-gradient(90deg,#461d0d 0%,#662b12 12.5%,#853818 15.9%,#aa471f 17.6%,#df5e28 18.8%,#fa753d 19.3%,#fca07a 19.9%,#fee3d7 20.5%,#cce0b2 21%,#87b64a 21.6%,#5c8625 22.2%,#42601b 22.7%,#26370f 23.9%,#101706 26.1%,#060902 32.4%,#1b270b 42.6%,#334b15 46.6%,#4e7220 48.3%,#74a92f 49.4%,#bad596 50%,#fa7138 50.6%,#010200 51.1%,#7eb13c 51.7%,#fdbca1 52.3%,#f2652b 52.8%,#c25123 53.4%,#893a19 54.5%,#55240f 56.8%,#281107 61.9%,#100703 71%,#230f06 76.7%,#441d0c 79%,#6a2c13 80.1%,#883919 80.7%,#b74d21 81.2%,#fa6c31 81.8%,#fcaf8f 82.4%,#fbfdf9 83%,#b6d390 83.5%,#86b649 84.1%,#6a9a2b 84.7%,#4d701f 85.8%,#314814 88.6%,#1e2c0c 97.2%,#1b280b 100%)"></i><i style="background:linear-gradient(90deg,#55240f 0%,#793316 11.4%,#a1441d 15.3%,#c95424 17%,#f8682d 18.2%,#fb7d4a 18.8%,#fc9b73 19.3%,#fdc3ab 19.9%,#fff7f3 20.5%,#d1e3ba 21%,#9fc56d 21.6%,#76ac30 22.2%,#496a1e 23.3%,#293b11 25%,#131c08 28.4%,#141d08 35.8%,#304614 43.8%,#4b6d1e 46.6%,#6d9f2c 48.3%,#81b341 48.9%,#b7d493 49.4%,#fff4f0 50%,#b44b20 50.6%,#020201 51.1%,#588024 51.7%,#d8e7c4 52.3%,#fdb699 52.8%,#fa7139 53.4%,#c35223 54.5%,#8a3a19 56.2%,#54230f 59.7%,#2a1208 66.5%,#271007 73.3%,#461d0d 77.3%,#6b2d13 79%,#99401c 80.1%,#bd4f22 80.7%,#ee642b 81.2%,#fb8a5b 81.8%,#fff9f6 83%,#a9cb7d 84.1%,#8ab84f 84.7%,#74a92f 85.2%,#527822 86.9%,#385217 90.3%,#23340e 100%)"></i><i style="background:linear-gradient(90deg,#652a12 0%,#8e3b19 10.8%,#b94e21 14.8%,#f2662c 17%,#fb8453 18.2%,#fdb79a 19.3%,#fbfdfa 20.5%,#89b84d 22.2%,#6fa12d 22.7%,#415f1b 24.4%,#273910 26.7%,#19250a 31.2%,#283a10 39.2%,#45651c 44.3%,#6b9d2c 47.2%,#78ae34 47.7%,#8bb950 48.3%,#b8d494 48.9%,#f2f7ec 49.4%,#fb8250 50%,#893a19 50.6%,#020301 51.1%,#45641c 51.7%,#8cb951 52.3%,#fefefe 52.8%,#fdb597 53.4%,#fb7b46 54%,#f6672c 54.5%,#b34b20 56.2%,#793316 59.1%,#451d0c 64.8%,#35160a 71.6%,#4f210e 76.1%,#7b3316 78.4%,#c05123 80.1%,#e56029 80.7%,#fb7843 81.2%,#fdc5ae 82.4%,#fff2ec 83%,#e4eed6 83.5%,#a5c876 84.7%,#7cb039 85.8%,#5d8826 87.5%,#405d1a 91.5%,#2b3f12 100%)"></i><i style="background:linear-gradient(90deg,#743115 0%,#a0431d 10.2%,#ce5625 14.2%,#fa6f35 16.5%,#fc9b74 18.2%,#fdcbb6 19.3%,#feeae1 19.9%,#f4f8ee 20.5%,#96bf60 22.2%,#7db03b 22.7%,#5c8525 23.9%,#385217 26.1%,#24340f 30.1%,#2b3f11 36.9%,#4c6e1f 43.2%,#6c9d2c 46%,#76ab30 46.6%,#96bf60 47.7%,#bad597 48.3%,#e7f0da 48.9%,#fdccb8 49.4%,#da5c27 50%,#030401 51.1%,#6c9e2c 52.3%,#c0d99f 52.8%,#feefe8 53.4%,#fdb597 54%,#fb8656 54.5%,#fa7138 55.1%,#da5c27 56.2%,#97401b 59.1%,#5e2711 64.2%,#461e0d 70.5%,#592510 75%,#863818 77.8%,#c15123 79.5%,#fa6e34 80.7%,#fdc8b2 82.4%,#feece5 83%,#f0f6e8 83.5%,#b9d495 84.7%,#83b443 86.4%,#77ac31 86.9%,#527822 90.3%,#385117 97.7%,#334b15 100%)"></i><i style="background:linear-gradient(90deg,#843718 0%,#b24b20 9.7%,#ea622a 14.2%,#fa6e34 15.3%,#fc9e77 17.6%,#fedbcd 19.3%,#fff6f2 19.9%,#edf4e4 20.5%,#88b74c 22.7%,#75ab30 23.3%,#4a6c1e 25.6%,#304614 29%,#2f4413 34.7%,#4d701f 41.5%,#75ab30 45.5%,#8cb951 46.6%,#9ec46d 47.2%,#e1edd1 48.3%,#fff1eb 48.9%,#fb8656 49.4%,#b84d21 50%,#030401 51.1%,#5d8826 52.3%,#91bd59 52.8%,#dfeccf 53.4%,#fee4da 54%,#fb8f63 55.1%,#fb7944 55.7%,#fa6c31 56.2%,#aa471f 59.7%,#6e2e14 64.8%,#582510 70.5%,#6c2d13 75%,#9e421c 77.8%,#da5c27 79.5%,#f6672c 80.1%,#fb9267 81.2%,#fee8de 83%,#f9fbf6 83.5%,#b5d28f 85.2%,#89b74c 86.9%,#75ab30 88.1%,#547b22 92%,#3b5618 100%)"></i><i style="background:linear-gradient(90deg,#933e1a 0%,#c25223 9.1%,#fa692d 13.6%,#fb9469 16.5%,#fed3c1 18.8%,#fffffe 19.9%,#91bc59 22.7%,#71a52e 23.9%,#4d701f 26.1%,#375116 29.5%,#395417 35.2%,#598224 41.5%,#75ab30 44.3%,#93be5c 46%,#bfd99f 47.2%,#fffdfc 48.3%,#fdb99d 48.9%,#eb632a 49.4%,#040501 51.1%,#76ac30 52.8%,#f3f8ee 54%,#feded1 54.5%,#fc976d 55.7%,#fb804e 56.2%,#fa6a2e 57.4%,#b14a20 60.8%,#793316 65.9%,#682c13 71%,#7e3517 75%,#b24b20 77.8%,#ee642b 79.5%,#fb8554 80.7%,#fffdfc 83.5%,#b3d18d 85.8%,#85b546 88.1%,#70a32d 89.8%,#507420 95.5%,#43621b 100%)"></i><i style="background:linear-gradient(90deg,#a2441d 0%,#d75a27 9.1%,#fa6c31 12.5%,#fc9970 15.9%,#fdcebb 18.2%,#fff3ee 19.3%,#f7faf3 19.9%,#87b64a 23.3%,#79ae34 23.9%,#507521 26.7%,#3d5919 30.7%,#47671d 36.4%,#6b9c2b 42%,#7eb13c 43.8%,#9ac267 45.5%,#c3daa4 46.6%,#fafcf8 47.7%,#fedacc 48.3%,#fb8858 48.9%,#cf5725 49.4%,#040602 51.1%,#6a9a2b 52.8%,#95bf5f 53.4%,#cee2b6 54%,#fefffe 54.5%,#fc9d75 56.2%,#fb8757 56.8%,#f9692d 58.5%,#af4a20 62.5%,#803617 67.6%,#7b3316 72.2%,#963f1b 75.6%,#d55926 78.4%,#fa6c31 79.5%,#fcb496 81.8%,#fff6f2 83.5%,#f4f8ee 84.1%,#b3d18d 86.4%,#83b444 89.2%,#72a62e 90.9%,#517621 97.7%,#4b6d1f 100%)"></i><i style="background:linear-gradient(90deg,#b14b20 0%,#e56029 8.5%,#fa7036 11.4%,#fc9e77 15.3%,#fedbcc 18.2%,#fffcfb 19.3%,#cde1b4 21%,#80b23f 23.9%,#75aa2f 24.4%,#537922 27.3%,#45641c 31.2%,#537822 36.9%,#78ad32 42%,#a0c670 44.9%,#dceacb 46.6%,#f6f9f1 47.2%,#fee9e1 47.7%,#fcad8c 48.3%,#f4662c 48.9%,#39180a 50.6%,#050702 51.1%,#608d27 52.8%,#7db03b 53.4%,#e0ecd0 54.5%,#fff8f5 55.1%,#fca27d 56.8%,#fb8c5e 57.4%,#f8682d 59.7%,#af491f 64.2%,#8a3a19 69.3%,#8f3c1a 73.3%,#ba4e21 76.7%,#f7682c 79%,#fca37e 81.2%,#fef0e9 83.5%,#fcfdfa 84.1%,#b4d28e 86.9%,#83b444 90.3%,#70a42e 92.6%,#537922 100%)"></i><i style="background:linear-gradient(90deg,#c15123 0%,#fa6c31 9.1%,#fb9469 13.6%,#fdcbb7 17%,#fff5f1 18.8%,#fafcf7 19.3%,#92bd5a 23.3%,#72a62e 25%,#537922 28.4%,#4d711f 33%,#66952a 38.6%,#79ae34 40.9%,#a7ca7a 44.3%,#ddeacb 46%,#f3f8ed 46.6%,#fff0eb 47.2%,#fdc8b2 47.7%,#fb8858 48.3%,#dd5d28 48.9%,#321509 50.6%,#050802 51.1%,#72a72f 53.4%,#97c063 54%,#edf4e4 55.1%,#fff2ec 55.7%,#fca683 57.4%,#fb8858 58.5%,#f8682d 60.8%,#b54c21 65.3%,#963f1b 70.5%,#a7461e 74.4%,#d45926 77.3%,#fa6e34 79%,#fdb698 81.8%,#fffbf9 84.1%,#e5efd8 85.2%,#adcd83 88.1%,#7fb23e 92%,#70a32e 94.3%,#5a8425 100%)"></i><i style="background:linear-gradient(90deg,#d05725 0%,#fa6d33 7.4%,#fc9a71 13.1%,#fdccb8 16.5%,#fffefe 18.8%,#8ab84e 23.9%,#77ad32 25%,#5a8325 28.4%,#557c23 33%,#70a42e 38.6%,#86b648 40.9%,#adcd83 43.8%,#f2f7eb 46%,#fff5f1 46.6%,#fedbcc 47.2%,#fa692d 48.3%,#2b1208 50.6%,#060802 51.1%,#6a9b2b 53.4%,#83b444 54%,#d4e5be 55.1%,#f6f9f1 55.7%,#feeee7 56.2%,#fcaa89 58%,#fb8d5f 59.1%,#f8682d 61.9%,#ba4e22 66.5%,#a4451e 71%,#ba4e21 75%,#fa6a2e 78.4%,#fca683 81.2%,#fff4f0 84.1%,#fbfdf9 84.7%,#b8d494 88.1%,#8ab84f 92%,#73a82f 95.5%,#628f28 100%)"></i><i style="background:linear-gradient(90deg,#de5d28 0%,#fa6f35 5.7%,#fc9a71 11.9%,#fdceba 15.9%,#fffaf7 18.2%,#f8fbf5 18.8%,#8dba53 23.9%,#75aa30 25.6%,#5c8625 29.5%,#608b27 34.1%,#7baf37 38.6%,#a8ca7c 42.6%,#dfeccf 44.9%,#f1f7ea 45.5%,#fff9f6 46%,#fee1d5 46.6%,#fdba9f 47.2%,#fb8757 47.7%,#e66029 48.3%,#261007 50.6%,#060903 51.1%,#79ae35 54%,#e0ecd0 55.7%,#fcfdfa 56.2%,#fc9e77 59.1%,#fa743c 61.9%,#ee642b 63.6%,#bc4f22 68.2%,#b24b20 72.2%,#cd5625 75.6%,#fa6f35 78.4%,#fdb597 81.8%,#fffbfa 84.7%,#e0ecd0 86.4%,#a6c978 90.3%,#7aae35 96%,#6a9a2b 100%)"></i><i style="background:linear-gradient(90deg,#ed642b 0%,#fa7138 4%,#fc9b73 10.8%,#fdd0bd 15.3%,#fcfdfa 18.2%,#90bc57 23.9%,#73a82f 26.1%,#608d27 30.1%,#6c9e2c 35.2%,#7baf38 37.5%,#adcd84 42%,#e1edd2 44.3%,#fffbf9 45.5%,#fdcab5 46.6%,#fa6e34 47.7%,#4f210e 50%,#210e06 50.6%,#070a03 51.1%,#72a62e 54%,#89b74d 54.5%,#e9f2de 56.2%,#fffefd 56.8%,#fcb192 59.1%,#fb8e61 60.8%,#f7682c 64.2%,#c65324 68.8%,#c05022 72.7%,#df5e28 76.1%,#fa6b30 77.8%,#fca784 81.2%,#fefefd 85.2%,#bed79c 89.2%,#8eba54 94.3%,#73a82f 99.4%,#71a52e 100%)"></i><i style="background:linear-gradient(90deg,#fa6a2f 0%,#fc986f 9.1%,#fdcbb6 14.2%,#fefefe 17.6%,#91bd59 23.9%,#73a72f 26.7%,#659429 30.7%,#77ad32 35.8%,#aacc7f 40.9%,#d5e5bf 43.2%,#fffcfb 44.9%,#fed5c4 46%,#fb8655 47.2%,#eb632a 47.7%,#1c0c05 50.6%,#070b03 51.1%,#6b9d2c 54%,#7fb13d 54.5%,#f0f6e8 56.8%,#fffaf8 57.4%,#fdb496 59.7%,#fb9266 61.4%,#f7682c 65.3%,#cc5625 69.9%,#d05725 73.9%,#fa692d 77.3%,#fc9c74 80.7%,#fff9f6 85.2%,#fbfcf8 85.8%,#bad597 90.3%,#8cba52 96%,#79ae34 100%)"></i><i style="background:linear-gradient(90deg,#fa733b 0%,#fca37e 9.1%,#feddcf 14.8%,#fff 17%,#8bb950 24.4%,#72a72f 27.3%,#6b9c2c 31.2%,#7baf38 35.2%,#afce86 40.3%,#e4efd7 43.2%,#fffdfc 44.3%,#fed9c9 45.5%,#fdbea3 46%,#fa7138 47.2%,#b74d21 48.3%,#190a04 50.6%,#080b03 51.1%,#78ad32 54.5%,#abcc7f 55.7%,#f5f9ef 57.4%,#fff7f3 58%,#fca987 60.8%,#fb814f 63.6%,#f6672c 66.5%,#d35926 71%,#e15f29 75%,#fa6c32 77.3%,#fca582 81.2%,#fffcfb 85.8%,#b3d18c 92%,#86b649 98.9%,#81b341 100%)"></i><i style="background:linear-gradient(90deg,#fb7b47 0%,#fcad8c 9.1%,#fee7dd 14.8%,#fff 16.5%,#8cb952 24.4%,#75ab30 27.3%,#70a32d 31.2%,#7fb13d 34.7%,#b2d18b 39.8%,#fffdfc 43.8%,#fdc8b2 45.5%,#fb8453 46.6%,#ef652b 47.2%,#150904 50.6%,#080c03 51.1%,#72a62e 54.5%,#84b444 55.1%,#e6f0d9 57.4%,#f9fbf5 58%,#fff4f0 58.5%,#fcac8b 61.4%,#fb8453 64.2%,#f5672c 67.6%,#dc5c28 71.6%,#ee642b 75.6%,#fa753d 77.8%,#fdb89b 82.4%,#fffefd 86.4%,#bcd79a 92%,#8cb951 99.4%,#89b84d 100%)"></i><i style="background:linear-gradient(90deg,#fb8453 0%,#fdb79a 9.1%,#fff0eb 14.8%,#fffffe 15.9%,#8cba52 24.4%,#75ab30 27.8%,#78ad32 32.4%,#9bc268 36.9%,#c7ddab 40.3%,#fffdfc 43.2%,#fdcdb9 44.9%,#fa723a 46.6%,#c05123 47.7%,#120703 50.6%,#090d04 51.1%,#6d9e2c 54.5%,#7db03a 55.1%,#ecf3e2 58%,#fcfdfa 58.5%,#fca47f 62.5%,#fa7139 67%,#ec632a 69.9%,#e7612a 73.9%,#fa6c32 76.7%,#fc9a71 80.7%,#fffefe 86.9%,#c0d9a0 92.6%,#92bd5a 100%)"></i><i style="background:linear-gradient(90deg,#fb8d5f 0%,#fdc1a8 9.1%,#fdfefc 15.3%,#8cb951 24.4%,#76ac30 28.4%,#7db03a 32.4%,#a3c774 36.9%,#d4e5bd 40.3%,#fffdfc 42.6%,#fdbca1 44.9%,#f2652b 46.6%,#0e0603 50.6%,#090e04 51.1%,#77ad31 55.1%,#9ec46d 56.2%,#f0f6e8 58.5%,#fff 59.1%,#fcb091 62.5%,#fb8351 65.9%,#f9692d 69.3%,#eb632a 73.3%,#fa6e34 76.7%,#fca07a 81.2%,#fffffe 87.5%,#c0d9a0 93.8%,#9ac266 100%)"></i><i style="background:linear-gradient(90deg,#fb956b 0%,#fdcbb6 9.1%,#fffcfb 14.2%,#eff5e6 15.9%,#90bc58 23.9%,#79ae35 27.8%,#7eb13c 31.8%,#a5c876 36.4%,#d5e6c0 39.8%,#fffdfc 42%,#fdc3ab 44.3%,#fa733a 46%,#e46029 46.6%,#0b0502 50.6%,#0a0f04 51.1%,#72a62e 55.1%,#94be5d 56.2%,#e4eed6 58.5%,#fffcfb 59.7%,#fcb192 63.1%,#fb8453 66.5%,#f8682d 70.5%,#f3662c 74.4%,#fa7841 77.8%,#fdb598 83%,#fffefd 88.1%,#bcd79a 95.5%,#a2c772 100%)"></i><i style="background:linear-gradient(90deg,#fc9d76 0%,#fed4c3 9.1%,#fff 13.6%,#8ebb55 23.9%,#7aae36 27.8%,#82b341 31.8%,#accd81 36.4%,#ebf3e1 40.3%,#fffdfc 41.5%,#fdc6af 43.8%,#f2662c 46%,#090402 50.6%,#0a0f04 51.1%,#7caf38 55.7%,#e9f1dd 59.1%,#f7faf3 59.7%,#fffaf7 60.2%,#fca885 64.2%,#fa763f 68.8%,#f5672c 72.2%,#fa7036 76.7%,#fc9a72 81.2%,#fffdfc 88.6%,#b9d596 97.2%,#aacb7e 100%)"></i><i style="background:linear-gradient(90deg,#fca682 0%,#feddd0 9.1%,#fdfefb 13.1%,#8cb951 23.9%,#7aaf37 27.8%,#84b546 31.8%,#abcc81 35.8%,#fffdfc 40.9%,#fdb89b 43.8%,#fa7239 45.5%,#cb5525 46.6%,#060201 50.6%,#273810 52.3%,#76ac30 55.7%,#edf4e3 59.7%,#fafcf7 60.2%,#fff7f4 60.8%,#fca885 64.8%,#fb7a45 68.8%,#f8682d 72.7%,#fa7036 76.7%,#fc976e 81.2%,#fffbfa 89.2%,#f7faf3 90.3%,#bed89d 97.7%,#b1d08a 100%)"></i><i style="background:linear-gradient(90deg,#fcae8d 0%,#feebe3 9.7%,#fff 11.9%,#89b84d 23.9%,#7aae36 27.8%,#87b649 31.8%,#b1d08a 35.8%,#fffdfd 40.3%,#fdbca1 43.2%,#f3662c 45.5%,#030101 50.6%,#72a62e 55.7%,#a0c570 57.4%,#f0f6e9 60.2%,#fdfefc 60.8%,#fc9e77 65.9%,#fa753e 69.9%,#f9682d 73.9%,#fa753e 77.8%,#fcae8e 83.5%,#fff 90.3%,#c3daa4 98.3%,#b9d595 100%)"></i><i style="background:linear-gradient(90deg,#fdb699 0%,#fff4f0 9.7%,#fffefd 10.8%,#b4d18d 18.8%,#83b443 24.4%,#79ae35 28.4%,#88b74b 31.8%,#b7d393 35.8%,#fffefe 39.8%,#fcae8d 43.2%,#fa7036 44.9%,#b44c20 46.6%,#010000 50.6%,#7aae36 56.2%,#f4f8ee 60.8%,#fffefd 61.4%,#fca480 65.9%,#fa7741 69.9%,#f9692d 73.9%,#fa743c 77.8%,#fca987 83.5%,#fffdfc 90.9%,#c1d9a1 100%)"></i><i style="background:linear-gradient(90deg,#fdbea4 0%,#fdfefb 10.2%,#83b443 23.9%,#77ad32 27.8%,#84b545 31.2%,#aacc7f 34.7%,#fefefe 39.2%,#fcb293 42.6%,#fb7943 44.3%,#f1652b 44.9%,#010100 50.6%,#75ab30 56.2%,#f8fbf4 61.4%,#fffaf8 61.9%,#fca17b 66.5%,#fa753e 70.5%,#f8682d 74.4%,#fa753d 78.4%,#fcb191 84.7%,#fffffe 92%,#c8deac 100%)"></i><i style="background:linear-gradient(90deg,#fdc6af 0%,#fdfefd 9.1%,#7fb13d 23.9%,#75aa2f 27.8%,#84b444 31.2%,#aece85 34.7%,#fcfdfa 38.6%,#fee9e0 39.8%,#fca47f 42.6%,#fa6d32 44.3%,#020301 50.6%,#71a52e 56.2%,#98c164 58%,#fcfdfa 61.9%,#fee9e0 63.1%,#fc9c75 67%,#fa753e 70.5%,#f6672c 73.9%,#fa6f35 77.8%,#fc9e78 83.5%,#fffcfb 92.6%,#d0e2b7 100%)"></i><i style="background:linear-gradient(90deg,#fdceba 0%,#fefefd 8%,#7aae36 23.9%,#73a72f 28.4%,#82b342 31.2%,#a7ca7a 34.1%,#f8fbf4 38.1%,#fff9f7 38.6%,#fc976d 42.6%,#fa733c 43.8%,#ed642b 44.3%,#100703 50%,#030401 50.6%,#77ad32 56.8%,#f4f8ef 61.9%,#fffefd 62.5%,#fca07a 67%,#fa753e 70.5%,#f5672c 73.3%,#fa6e34 78.4%,#fcaa89 85.2%,#fffefe 93.8%,#d7e7c2 100%)"></i><i style="background:linear-gradient(90deg,#fed6c5 0%,#fefefd 6.8%,#a0c670 18.2%,#75ab30 23.9%,#6fa22d 28.4%,#7baf37 30.7%,#9ec46c 33.5%,#fffefd 38.1%,#fb8a5b 42.6%,#f8682d 43.8%,#9e421c 46%,#0d0502 50%,#040602 50.6%,#73a72f 56.8%,#98c164 58.5%,#f9fcf6 62.5%,#fff8f5 63.1%,#fc9970 67.6%,#fa7036 71%,#ed632b 74.4%,#fa6e34 79%,#fdb698 86.9%,#fff 94.9%,#deebcd 100%)"></i><i style="background:linear-gradient(90deg,#feddd0 0%,#fefefd 5.7%,#a9cb7d 16.5%,#76ac31 22.7%,#6a9a2b 27.3%,#77ad32 30.7%,#9dc46b 33.5%,#fafcf7 37.5%,#fff5f1 38.1%,#fa6d32 43.2%,#0a0402 50%,#050702 50.6%,#78ad34 57.4%,#fff 63.1%,#fc9a71 67.6%,#fa6e34 71%,#e76129 75.6%,#fa6d32 79.5%,#fffcfa 95.5%,#fafcf8 96.6%,#e5efd8 100%)"></i><i style="background:linear-gradient(90deg,#fee5da 0%,#fefefd 4.5%,#accd81 15.3%,#74aa2f 22.2%,#659329 27.3%,#78ad33 31.2%,#a7ca7b 34.1%,#fffcfb 37.5%,#fa7037 42.6%,#ec632b 43.2%,#753115 46.6%,#070301 50%,#0f1506 51.1%,#73a82f 57.4%,#a5c977 59.7%,#f9fbf6 63.1%,#fff7f4 63.6%,#fc9a72 67.6%,#fa7037 70.5%,#e56029 73.3%,#e35f29 76.7%,#fa7036 80.7%,#fffcfb 96.6%,#ecf4e3 100%)"></i><i style="background:linear-gradient(90deg,#feece5 0%,#fdfefc 3.4%,#afce86 14.2%,#73a72f 21.6%,#608b27 26.7%,#69992b 30.1%,#7aae35 31.8%,#a5c977 34.1%,#f8fbf4 36.9%,#fff4f0 37.5%,#fa733b 42%,#f1652b 42.6%,#9f431d 44.9%,#030101 50%,#78ad33 58%,#fffdfc 63.6%,#fc9971 67.6%,#fa6d32 70.5%,#d85b27 74.4%,#e56029 78.4%,#fa6e35 81.2%,#fff9f6 97.2%,#fafcf7 98.9%,#f3f8ed 100%)"></i><i style="background:linear-gradient(90deg,#fff4f0 0%,#fdfefb 2.3%,#accd82 13.6%,#74a92f 20.5%,#5a8425 26.1%,#5f8b27 29.5%,#73a82f 31.8%,#93be5c 33.5%,#d7e7c2 35.8%,#fefefd 36.9%,#fb9367 40.3%,#f4662c 42%,#a1441d 44.3%,#000 50%,#72a62e 58%,#95bf5f 59.7%,#fbfdf9 63.6%,#fee2d6 64.8%,#fb8c5d 68.2%,#f9682d 70.5%,#d45926 73.3%,#d15826 76.7%,#fa6d33 81.8%,#fff5f1 97.7%,#fdfefd 99.4%,#fafcf8 100%)"></i><i style="background:linear-gradient(90deg,#fffbfa 0%,#fcfdfb 1.1%,#aece85 12.5%,#72a62e 19.9%,#547b22 26.1%,#588024 29.5%,#74a92f 32.4%,#9cc36a 34.1%,#eef5e6 36.4%,#fff9f7 36.9%,#fca580 39.2%,#f4672c 41.5%,#a2441d 43.8%,#010200 50%,#75aa30 58.5%,#c5dca7 61.9%,#f5f9f0 63.6%,#fff8f5 64.2%,#fb946a 67.6%,#fa6a2e 69.9%,#ce5625 72.7%,#c55324 76.1%,#ef652b 81.2%,#fa753d 83.5%,#feeee7 97.7%,#fffdfc 100%)"></i><i style="background:linear-gradient(90deg,#fcfdfa 0%,#b0cf88 11.4%,#74a92f 18.8%,#4f7320 25.6%,#507420 29.5%,#6b9c2b 32.4%,#75aa30 33%,#a8ca7c 34.7%,#f2f7ec 36.4%,#fff1eb 36.9%,#fca885 38.6%,#fa733b 40.3%,#f2662c 40.9%,#a0431d 43.2%,#080301 49.4%,#090d04 50.6%,#6ea12d 58.5%,#83b444 59.7%,#ddebcc 63.1%,#fffdfc 64.2%,#fb9063 67.6%,#fa6c31 69.3%,#c85424 72.2%,#b94e21 75.6%,#d85b27 80.1%,#fa6e34 83.5%,#feeae2 98.3%,#fff6f2 100%)"></i><i style="background:linear-gradient(90deg,#f5f9f0 0%,#a5c877 11.9%,#72a62e 18.2%,#48691d 25.6%,#47671d 29.5%,#588024 31.8%,#77ac31 33.5%,#a0c56f 34.7%,#f6faf2 36.4%,#fee7de 36.9%,#fc966c 38.6%,#fa7138 39.8%,#c15123 41.5%,#713014 44.3%,#040201 49.4%,#507420 56.8%,#7aae36 59.7%,#c3dba5 62.5%,#fcfdfb 64.2%,#fb895a 67.6%,#fa6e34 68.8%,#ba4e21 72.2%,#ad491f 75.6%,#d35926 80.7%,#fa6c32 84.1%,#fee7dd 98.9%,#feeee8 100%)"></i><i style="background:linear-gradient(90deg,#eef5e6 0%,#9ec46c 11.9%,#74a92f 17%,#415f1a 25.6%,#3d5919 29.5%,#4b6d1f 31.8%,#69992b 33.5%,#7aae36 34.1%,#b1d089 35.2%,#fbfdf9 36.4%,#fc9970 38.1%,#fa6d32 39.2%,#933e1b 42%,#000 49.4%,#588024 58%,#7caf39 60.2%,#b9d595 62.5%,#f7faf3 64.2%,#feefe8 64.8%,#fb9368 67%,#fa7239 68.2%,#e05e28 69.3%,#b04a20 71.6%,#9f431d 75%,#bc4f22 79.5%,#fa6b2f 84.7%,#fedfd3 98.9%,#fee7de 100%)"></i><i style="background:linear-gradient(90deg,#e8f1dc 0%,#97c062 11.9%,#72a72e 16.5%,#3a5417 25.6%,#334a15 30.1%,#43611b 32.4%,#67972a 34.1%,#7fb23e 34.7%,#a3c774 35.2%,#fffcfb 36.4%,#fdc9b4 36.9%,#fc9f79 37.5%,#fb7f4c 38.1%,#f7682c 38.6%,#a9471e 40.3%,#632a12 43.2%,#020301 49.4%,#507521 58%,#71a42e 60.2%,#8bb950 61.4%,#c2daa2 63.1%,#f1f7ea 64.2%,#fff2ec 64.8%,#fb8a5b 67%,#f5672c 68.2%,#bc4f22 69.9%,#99401c 72.2%,#933e1a 75.6%,#bd4f22 80.7%,#f9692d 85.2%,#fedcce 99.4%,#fee0d4 100%)"></i><i style="background:linear-gradient(90deg,#e1edd2 0%,#8bb950 12.5%,#70a42e 15.9%,#2f4513 26.1%,#273910 30.7%,#375016 33%,#4f7320 34.1%,#659329 34.7%,#8ab84f 35.2%,#c5dca7 35.8%,#fff2ed 36.4%,#fcae8d 36.9%,#fb7d4a 37.5%,#e7612a 38.1%,#a8461e 39.2%,#692c13 41.5%,#000 48.9%,#48691d 58%,#70a32d 60.8%,#8cba52 61.9%,#cde1b4 63.6%,#eaf2df 64.2%,#fff5f1 64.8%,#fb966c 66.5%,#f9682d 67.6%,#b34b20 69.3%,#8b3a19 71.6%,#823717 75%,#aa481f 80.1%,#fa6c31 86.4%,#fed9ca 100%)"></i><i style="background:linear-gradient(90deg,#dbe9c8 0%,#85b546 12.5%,#6ea12d 15.3%,#24350f 26.7%,#19240a 31.2%,#25360f 33.5%,#405d1a 34.7%,#618d27 35.2%,#aacb7e 35.8%,#fedbcd 36.4%,#fb7c47 36.9%,#c95424 37.5%,#9e421c 38.1%,#723015 39.2%,#3d1a0b 42.6%,#020301 48.9%,#3f5c1a 58%,#639028 60.8%,#7baf38 61.9%,#a4c875 63.1%,#fff9f6 64.8%,#fca886 65.9%,#fa6c31 67%,#a8471e 68.8%,#813617 70.5%,#6f2f14 73.3%,#863818 77.8%,#fa6a2e 86.9%,#fed2c0 100%)"></i><i style="background:linear-gradient(90deg,#d5e5bf 0%,#7eb13c 12.5%,#649229 15.9%,#151f09 27.8%,#060802 33%,#0d1305 34.7%,#1a260b 35.2%,#4c6f1f 35.8%,#fb7a44 36.4%,#763215 36.9%,#54230f 37.5%,#39180a 39.2%,#020301 48.3%,#364f16 58%,#547a22 60.8%,#78ad33 62.5%,#accd81 63.6%,#fffefe 64.8%,#fc986f 65.9%,#fa7239 66.5%,#b44c20 67.6%,#863818 68.8%,#612911 71%,#5f2811 74.4%,#923d1a 80.1%,#fa6d32 88.1%,#fdcbb6 100%)"></i><i style="background:linear-gradient(90deg,#cee1b5 0%,#73a72f 13.1%,#010200 29.5%,#37170a 33.5%,#5c2711 34.7%,#893a19 35.2%,#fb7842 35.8%,#89b84d 36.4%,#2f4413 36.9%,#162009 37.5%,#010100 39.2%,#0a0402 43.8%,#030501 47.7%,#314714 58.5%,#4b6d1e 61.4%,#618d27 62.5%,#72a72f 63.1%,#8fbb56 63.6%,#bbd699 64.2%,#f8fbf4 64.8%,#fb7e4a 65.9%,#d45926 66.5%,#a4451d 67%,#6e2e14 68.2%,#4e210e 69.9%,#471e0d 73.3%,#773215 79%,#fa6b2f 88.6%,#fdc4ad 100%)"></i><i style="background:linear-gradient(90deg,#c8deac 0%,#71a52e 12.5%,#010200 27.8%,#431c0c 31.8%,#783216 33.5%,#963f1b 34.1%,#c45223 34.7%,#fa7740 35.2%,#fdcab4 35.8%,#c5dca8 36.4%,#72a62e 36.9%,#4a6b1e 37.5%,#334a15 38.1%,#141e08 39.8%,#040702 43.8%,#131c08 52.8%,#324814 60.8%,#45651c 62.5%,#527721 63.1%,#67962a 63.6%,#92bd5a 64.2%,#e6f0da 64.8%,#fca17b 65.3%,#ce5625 65.9%,#873918 66.5%,#602911 67%,#3c190b 68.2%,#2a1208 70.5%,#3f1b0b 75%,#a7461e 83.5%,#f9692d 89.2%,#fdbda3 100%)"></i><i style="background:linear-gradient(90deg,#c2daa3 0%,#73a82f 11.4%,#000 26.7%,#5a2610 31.2%,#943e1b 33%,#d85b27 34.1%,#fa753e 34.7%,#fca37f 35.2%,#fee3d8 35.8%,#d5e6bf 36.4%,#98c164 36.9%,#6d9f2c 37.5%,#405d1a 38.6%,#21310e 40.3%,#0d1305 43.8%,#0f1606 51.7%,#26370f 62.5%,#324a15 63.6%,#47671d 64.2%,#9ec56d 64.8%,#b84d21 65.3%,#3e1a0b 65.9%,#1c0c05 66.5%,#080301 67.6%,#0c0502 71%,#4e210e 77.8%,#fa6b30 90.3%,#fdb79a 100%)"></i><i style="background:linear-gradient(90deg,#bcd699 0%,#72a52e 10.8%,#010100 25.6%,#5b2610 30.1%,#a5451e 32.4%,#e15e28 33.5%,#fa733b 34.1%,#fb9469 34.7%,#fdbda3 35.2%,#feefe9 35.8%,#dceaca 36.4%,#86b649 37.5%,#6a9a2b 38.1%,#47671d 39.2%,#24350f 41.5%,#0f1606 46%,#0c1205 60.8%,#020100 63.1%,#160904 63.6%,#441c0c 64.2%,#f6672c 64.8%,#7baf37 65.3%,#3e5b19 65.9%,#2c4012 66.5%,#151e08 68.8%,#010000 72.7%,#973f1b 84.1%,#fa692e 90.9%,#fcb091 100%)"></i><i style="background:linear-gradient(90deg,#b6d390 0%,#70a32d 10.2%,#030401 24.4%,#1b0b05 26.1%,#753115 30.1%,#c85424 32.4%,#fa7239 33.5%,#fcaa87 34.7%,#fff7f3 35.8%,#dfeccf 36.4%,#98c164 37.5%,#7cb039 38.1%,#577f24 39.2%,#304614 41.5%,#162009 45.5%,#050201 60.2%,#251007 61.9%,#56240f 63.1%,#853818 63.6%,#da5c27 64.2%,#fdb597 64.8%,#d2e4bb 65.3%,#84b545 65.9%,#5e8a26 66.5%,#3c5818 67.6%,#1b270b 70.5%,#010000 74.4%,#fa6c32 92%,#fcaa87 100%)"></i><i style="background:linear-gradient(90deg,#b0cf87 0%,#72a62e 9.1%,#000 23.9%,#6e2e14 29%,#cc5625 31.8%,#fa7036 33%,#fdb99e 34.7%,#fffcfb 35.8%,#8bb94f 38.1%,#75aa30 38.6%,#4c6f1f 40.3%,#293c11 43.2%,#101807 48.9%,#020100 57.4%,#251007 60.2%,#562410 61.9%,#99401c 63.1%,#d25826 63.6%,#fb8351 64.2%,#fdc7b1 64.8%,#ecf3e2 65.3%,#b0cf88 65.9%,#85b547 66.5%,#6a9a2b 67%,#405d1a 68.8%,#162009 72.7%,#010100 75.6%,#fa6a2f 92.6%,#fca37e 100%)"></i><i style="background:linear-gradient(90deg,#aacb7e 0%,#70a42e 8.5%,#040201 23.3%,#743115 28.4%,#cf5725 31.2%,#fa6e33 32.4%,#fcac8a 34.1%,#fefffe 35.8%,#96bf60 38.1%,#81b341 38.6%,#70a32e 39.2%,#44631c 41.5%,#202f0d 45.5%,#020100 55.7%,#2b1208 59.1%,#672b13 61.4%,#a1441d 62.5%,#fa6f35 63.6%,#fc9a72 64.2%,#fdcfbc 64.8%,#f8fbf5 65.3%,#c9dfae 65.9%,#a3c774 66.5%,#85b547 67%,#6fa22d 67.6%,#496a1e 69.3%,#1b280b 73.3%,#000 76.7%,#f9692d 93.2%,#fc9d75 100%)"></i><i style="background:linear-gradient(90deg,#a4c875 0%,#72a72f 7.4%,#070a03 21.6%,#080301 22.7%,#873918 28.4%,#fa6c31 31.8%,#fdb79b 34.1%,#fbfdf9 35.8%,#9ec46c 38.1%,#79ae35 39.2%,#45641c 42%,#21300d 46%,#030101 54.5%,#35160a 58.5%,#712f14 60.8%,#a4451d 61.9%,#f1652b 63.1%,#fb8351 63.6%,#fffefe 65.3%,#b8d494 66.5%,#85b546 67.6%,#72a62e 68.2%,#46661d 70.5%,#0c1205 76.1%,#030101 77.8%,#f6672c 93.8%,#fc966c 100%)"></i><i style="background:linear-gradient(90deg,#9ec46d 0%,#71a42e 6.8%,#0a0f04 20.5%,#000 21.6%,#7b3416 27.3%,#e46029 30.7%,#fa692e 31.2%,#fcac8b 33.5%,#feeee7 35.2%,#f9fbf5 35.8%,#92bd5b 38.6%,#73a82f 39.8%,#44631c 42.6%,#1e2b0c 47.2%,#000100 53.4%,#3c190b 58%,#763215 60.2%,#c05123 61.9%,#e35f29 62.5%,#fa743c 63.1%,#fed4c3 64.8%,#fff9f6 65.3%,#e5efd7 65.9%,#97c061 67.6%,#74a82f 68.8%,#43611b 71.6%,#010100 78.4%,#fa692d 94.9%,#fb9063 100%)"></i><i style="background:linear-gradient(90deg,#98c164 0%,#73a72f 5.7%,#0e1506 19.3%,#020100 21%,#8c3b19 27.3%,#f7682d 30.7%,#fdb699 33.5%,#fff3ee 35.2%,#f6faf2 35.8%,#88b74c 39.2%,#7aae36 39.8%,#43621b 43.2%,#19250a 48.3%,#010100 52.8%,#401b0b 57.4%,#8b3a19 60.2%,#d75a27 61.9%,#f9692d 62.5%,#fdb699 64.2%,#fff4f0 65.3%,#edf4e4 65.9%,#a6c978 67.6%,#74a92f 69.3%,#3f5c1a 72.7%,#030401 79%,#0d0602 80.1%,#e8612a 94.3%,#fa7037 96.6%,#fb8a5b 100%)"></i><i style="background:linear-gradient(90deg,#93bd5b 0%,#71a52e 5.1%,#0d1305 18.8%,#040201 20.5%,#8d3b19 26.7%,#f4662c 30.1%,#fc9d75 32.4%,#fff7f4 35.2%,#f4f8ee 35.8%,#8eba54 39.2%,#73a82f 40.3%,#415f1a 43.8%,#101706 50%,#030100 52.8%,#4c200e 57.4%,#9d421c 60.2%,#ea622a 61.9%,#fa733b 62.5%,#fed5c4 64.8%,#fff1eb 65.3%,#f4f8ee 65.9%,#a0c56f 68.2%,#74a92f 69.9%,#3b5618 73.9%,#000 80.1%,#cd5625 93.2%,#fa6a2e 96.6%,#fb8352 100%)"></i><i style="background:linear-gradient(90deg,#8dba53 0%,#70a32d 4.5%,#0c1205 18.2%,#060201 19.9%,#8d3b19 26.1%,#f0652b 29.5%,#fb7b47 30.7%,#fed7c7 34.1%,#fffbf9 35.2%,#e1edd1 36.4%,#84b546 39.8%,#78ad33 40.3%,#3f5b1a 44.3%,#050702 51.7%,#070301 52.8%,#582510 57.4%,#ad491f 60.2%,#f9692d 61.9%,#fdbda2 64.2%,#feede6 65.3%,#f9fbf6 65.9%,#abcc80 68.2%,#74a92f 70.5%,#364f16 75%,#010201 80.7%,#e25f29 95.5%,#fa6c32 97.7%,#fb7d49 100%)"></i><i style="background:linear-gradient(90deg,#87b74a 0%,#6ea02d 4%,#101807 17%,#020201 18.8%,#652a12 23.9%,#fa6c31 29.5%,#fdccb8 33.5%,#fffefe 35.2%,#88b74c 39.8%,#71a52e 40.9%,#364f16 45.5%,#010100 52.3%,#632912 57.4%,#ba4e21 60.2%,#fa7036 61.9%,#fefefd 65.9%,#a6c978 68.8%,#73a82f 71%,#324814 76.1%,#020401 81.2%,#35160a 84.7%,#ee642b 97.2%,#fa733b 99.4%,#fa7741 100%)"></i><i style="background:linear-gradient(90deg,#82b342 0%,#6d9e2c 3.4%,#101706 16.5%,#010200 18.2%,#7f3517 24.4%,#fa692e 29%,#fdc3ab 33%,#fdfefb 35.2%,#8bb950 39.8%,#74aa2f 40.9%,#385217 45.5%,#030401 51.7%,#180a04 53.4%,#7b3416 58%,#dc5c28 60.8%,#f4672c 61.4%,#fcab8a 63.6%,#fffcfb 65.9%,#94be5d 69.9%,#72a72e 71.6%,#2d4112 77.3%,#030101 82.4%,#be5022 94.3%,#fa6d32 99.4%,#fa7138 100%)"></i><i style="background:linear-gradient(90deg,#7cb03a 0%,#4e7220 7.4%,#010100 17.6%,#8c3b19 24.4%,#f7682c 28.4%,#fdbba0 32.4%,#fff5f2 34.7%,#fafcf7 35.2%,#82b342 40.3%,#6ea02d 41.5%,#2f4413 46.6%,#020201 51.7%,#582510 56.2%,#ba4e22 59.7%,#fa6b2f 61.4%,#fee5db 65.3%,#fff8f5 65.9%,#f5f9ef 66.5%,#9dc36a 69.9%,#7baf37 71.6%,#283a10 78.4%,#010100 83%,#bb4f22 94.9%,#fa6b30 100%)"></i><i style="background:linear-gradient(90deg,#77ad31 0%,#1c290b 13.6%,#000 17%,#98401b 24.4%,#f2662c 27.8%,#fc9b73 30.7%,#fff9f7 34.7%,#f7faf3 35.2%,#7aae35 40.9%,#2a3e11 47.2%,#010100 51.7%,#6d2e14 56.8%,#d75a27 60.2%,#fa6f35 61.4%,#fff4f0 65.9%,#f9fbf6 66.5%,#99c165 70.5%,#79ae34 72.2%,#293b10 79%,#000 83.5%,#b94e21 95.5%,#f3662c 100%)"></i><i style="background:linear-gradient(90deg,#72a62e 0%,#172209 13.6%,#000 16.5%,#a4451e 24.4%,#fa6c31 27.8%,#fed4c2 33%,#fffdfc 34.7%,#7caf38 40.9%,#44641c 44.9%,#010000 51.7%,#833718 57.4%,#f3662c 60.8%,#fcaf8f 63.6%,#fdfefc 66.5%,#a0c670 70.5%,#77ad32 72.7%,#293c11 79.5%,#010100 84.1%,#be5022 96.6%,#ea622a 100%)"></i><i style="background:linear-gradient(90deg,#6ea02d 0%,#121a07 13.6%,#010000 15.9%,#a3441d 23.9%,#fa692d 27.3%,#fed9c9 33%,#fefefe 34.7%,#7db03b 40.9%,#639028 42.6%,#101706 50%,#020100 51.7%,#883919 57.4%,#f8682d 60.8%,#feeee7 65.9%,#fffdfc 66.5%,#92bd5a 71.6%,#75ab30 73.3%,#24340f 80.7%,#010200 84.7%,#c35223 97.7%,#e05e28 100%)"></i><i style="background:linear-gradient(90deg,#69992b 0%,#0d1305 13.6%,#010100 15.3%,#a1431d 23.3%,#f6672c 26.7%,#fdc5ae 31.8%,#fff6f3 34.1%,#fbfdf9 34.7%,#7eb13d 40.9%,#6c9e2c 42%,#151f09 49.4%,#040201 51.7%,#8d3b19 57.4%,#fa6a2f 60.8%,#fff9f7 66.5%,#f7faf3 67%,#99c165 71.6%,#74a92f 73.9%,#1f2d0d 81.8%,#020201 85.2%,#c85424 98.9%,#d65a27 100%)"></i><i style="background:linear-gradient(90deg,#649229 0%,#080c03 13.6%,#020100 14.8%,#ac481f 23.3%,#fa6d32 26.7%,#fee2d6 33%,#fffaf8 34.1%,#f8fbf5 34.7%,#76ab30 41.5%,#1b280b 48.9%,#030501 51.1%,#120803 52.3%,#a2441d 58%,#fa6c32 60.8%,#fff6f2 66.5%,#fbfcf9 67%,#96bf60 72.2%,#72a72f 74.4%,#1a260b 83%,#020301 85.8%,#cd5625 100%)"></i><i style="background:linear-gradient(90deg,#608c27 0%,#020100 14.2%,#a9471e 22.7%,#fa6a2f 26.1%,#fedacc 32.4%,#fffefd 34.1%,#76ac30 41.5%,#151f09 49.4%,#030401 51.1%,#140804 52.3%,#a6461e 58%,#fa6e34 60.8%,#fefffe 67%,#92bd5b 72.7%,#71a42e 75%,#1a260b 83.5%,#020301 86.4%,#c35223 100%)"></i><i style="background:linear-gradient(90deg,#5c8525 0%,#020100 13.6%,#a7461e 22.2%,#f8682d 25.6%,#fed4c2 31.8%,#fdfefc 34.1%,#77ac31 41.5%,#090d04 50.6%,#080301 51.7%,#a9471e 58%,#f1652b 60.2%,#fb8757 61.9%,#fffcfa 67%,#dfeccf 68.8%,#7eb13d 74.4%,#6fa22d 75.6%,#151f09 84.7%,#050201 87.5%,#b34b20 99.4%,#ba4e21 100%)"></i><i style="background:linear-gradient(90deg,#577f23 0%,#030100 13.1%,#b14a20 22.2%,#fa6d33 25.6%,#feeee7 33%,#fff9f7 33.5%,#fafcf8 34.1%,#77ad31 41.5%,#020301 51.1%,#6c2e14 55.7%,#f3662c 60.2%,#fca07a 63.1%,#fff8f5 67%,#fafcf7 67.6%,#8dba52 73.9%,#74aa2f 75.6%,#1a260a 84.7%,#040201 88.1%,#b14a20 100%)"></i><i style="background:linear-gradient(90deg,#537922 0%,#030101 12.5%,#af491f 21.6%,#fa6b2f 25%,#fee7dd 32.4%,#fffcfb 33.5%,#cfe2b6 36.4%,#77ad31 41.5%,#010201 51.1%,#8e3b19 56.8%,#f4662c 60.2%,#fdfefd 67.6%,#92bd5b 73.9%,#73a72f 76.1%,#151f09 85.8%,#040201 88.6%,#a7461e 100%)"></i><i style="background:linear-gradient(90deg,#4f7320 0%,#030101 11.9%,#ac481f 21%,#f9682d 24.4%,#fee0d4 31.8%,#fefffe 33.5%,#77ad31 41.5%,#010200 51.1%,#b04a20 58%,#f5672c 60.2%,#fffdfc 67.6%,#7fb23e 75.6%,#6b9b2b 77.3%,#0c1105 87.5%,#040101 89.2%,#9e431d 100%)"></i><i style="background:linear-gradient(90deg,#4a6c1e 0%,#030101 11.4%,#b64c21 21%,#fa6e34 24.4%,#feeee8 32.4%,#fbfdf9 33.5%,#77ac31 41.5%,#010100 51.1%,#c25123 58.5%,#f5672c 60.2%,#fff9f7 67.6%,#fafcf7 68.2%,#8dba52 75%,#76ab30 76.7%,#151e08 86.9%,#030101 89.8%,#953f1b 100%)"></i><i style="background:linear-gradient(90deg,#46661d 0%,#030101 10.8%,#b34b20 20.5%,#fa6b30 23.9%,#fff2ed 32.4%,#fffcfb 33%,#e6f0d9 34.7%,#76ac30 41.5%,#000 51.1%,#d35926 59.1%,#f6672c 60.2%,#fdfefc 68.2%,#8ab84e 75.6%,#74a92f 77.3%,#101707 88.1%,#030101 90.3%,#8d3b19 100%)"></i><i style="background:linear-gradient(90deg,#42601b 0%,#030101 10.2%,#b04a20 19.9%,#f9692d 23.3%,#feece4 31.8%,#fffffe 33%,#76ac30 41.5%,#000 51.1%,#e56029 59.7%,#f6672c 60.2%,#fffdfd 68.2%,#79ae34 77.3%,#101706 88.6%,#030101 90.9%,#843718 100%)"></i><i style="background:linear-gradient(90deg,#3e5a19 0%,#030101 9.7%,#ae491f 19.3%,#f5672c 22.7%,#fed3c2 30.1%,#fff9f7 32.4%,#fcfdfa 33%,#75ab30 41.5%,#010000 51.1%,#f5672c 60.2%,#fffaf8 68.2%,#fafcf8 68.8%,#85b546 76.7%,#70a42e 78.4%,#0b1105 89.8%,#030101 91.5%,#7b3416 100%)"></i><i style="background:linear-gradient(90deg,#3a5418 0%,#030101 9.1%,#b64d21 19.3%,#fa6b30 22.7%,#fff3ee 31.8%,#fffcfb 32.4%,#deebce 34.7%,#75aa30 41.5%,#010100 51.1%,#f5672c 60.2%,#fdfefd 68.8%,#8ab84e 76.7%,#6fa12d 79%,#0b1005 90.3%,#030100 92%,#723015 100%)"></i><i style="background:linear-gradient(90deg,#364f16 0%,#030101 8.5%,#b44b20 18.8%,#fa692d 22.2%,#feede6 31.2%,#fefffe 32.4%,#74a92f 41.5%,#020100 51.1%,#f4672c 60.2%,#fffdfd 68.8%,#79ae35 78.4%,#0b1005 90.9%,#030100 92.6%,#6a2c13 100%)"></i><i style="background:linear-gradient(90deg,#324914 0%,#030101 8%,#b14a20 18.2%,#fa6e34 22.2%,#fffaf8 31.8%,#fcfdfa 32.4%,#73a82f 41.5%,#020100 51.1%,#f3662c 60.2%,#feddcf 67%,#fffaf8 68.8%,#fbfcf9 69.3%,#85b546 77.8%,#71a52e 79.5%,#0b1004 91.5%,#030100 93.2%,#612912 100%)"></i><i style="background:linear-gradient(90deg,#2e4313 0%,#030101 7.4%,#b94e21 18.2%,#fa6b30 21.6%,#fffdfc 31.8%,#73a72f 41.5%,#030101 51.1%,#f2662c 60.2%,#fb956b 63.1%,#fefefd 69.3%,#82b342 78.4%,#6fa22d 80.1%,#070a03 92.6%,#030100 93.8%,#592510 100%)"></i><i style="background:linear-gradient(90deg,#2a3d11 0%,#030101 6.8%,#b74d21 17.6%,#fa692d 21%,#fefefd 31.8%,#72a62e 41.5%,#030101 51.1%,#fa6d33 60.8%,#fffdfc 69.3%,#79ae35 79.5%,#070a03 93.2%,#030100 94.3%,#51220f 100%)"></i><i style="background:linear-gradient(90deg,#263810 0%,#030101 6.2%,#b44c20 17%,#fa6e33 21%,#fffbf9 31.2%,#fbfdf9 31.8%,#79ae34 40.9%,#040201 51.1%,#fa6c32 60.8%,#fffaf8 69.3%,#fcfdfa 69.9%,#7eb13c 79.5%,#628e28 82.4%,#030401 94.3%,#130803 96%,#491f0d 100%)"></i><i style="background:linear-gradient(90deg,#22320e 0%,#030101 5.7%,#bc4f22 17%,#fa6b30 20.5%,#fffefd 31.2%,#77ad32 40.9%,#050702 50.6%,#040201 51.1%,#fa6c31 60.8%,#fffffe 69.9%,#82b342 79.5%,#70a32e 81.2%,#060903 94.3%,#030100 95.5%,#411b0c 100%)"></i><i style="background:linear-gradient(90deg,#1f2d0c 0%,#030101 5.1%,#b94e21 16.5%,#fa692d 19.9%,#fdfefc 31.2%,#76ac31 40.9%,#040602 50.6%,#050201 51.1%,#fa6b2f 60.8%,#fffcfb 69.9%,#d3e4bc 73.3%,#74a82f 81.2%,#0a0f04 94.3%,#030100 96%,#39180a 100%)"></i><i style="background:linear-gradient(90deg,#1b270b 0%,#030101 4.5%,#b74d21 15.9%,#fa6d33 19.9%,#fffcfa 30.7%,#f3f8ed 31.8%,#75ab30 40.9%,#040602 50.6%,#050201 51.1%,#fa6a2e 60.8%,#fff9f7 69.9%,#fcfdfb 70.5%,#7db13b 80.7%,#5d8826 84.1%,#020401 96%,#220e06 98.9%,#311509 100%)"></i><i style="background:linear-gradient(90deg,#172209 0%,#030101 4%,#b44c20 15.3%,#fa6b30 19.3%,#fff 30.7%,#74aa2f 40.9%,#040602 50.6%,#050201 51.1%,#f9692d 60.8%,#fffffe 70.5%,#7baf38 81.2%,#334a15 89.8%,#030101 97.2%,#291107 100%)"></i><i style="background:linear-gradient(90deg,#141d08 0%,#030101 3.4%,#bc4f22 15.3%,#fa692d 18.8%,#fffaf8 30.1%,#fdfdfb 30.7%,#74a82f 40.9%,#040602 50.6%,#060201 51.1%,#f8682d 60.8%,#fffcfa 70.5%,#f3f8ed 71.6%,#79ae35 81.8%,#060902 96.6%,#030101 97.7%,#210e06 100%)"></i><i style="background:linear-gradient(90deg,#101707 0%,#030101 2.8%,#b94e21 14.8%,#fa6d33 18.8%,#fffdfc 30.1%,#afcf86 36.4%,#73a72f 40.9%,#040501 50.6%,#140804 51.7%,#f6672c 60.8%,#fdfefd 71%,#7db03b 81.8%,#5e8a26 85.2%,#020301 97.7%,#1a0b05 100%)"></i><i style="background:linear-gradient(90deg,#0d1205 0%,#030101 2.3%,#b74d21 14.2%,#fa6b30 18.2%,#fefffe 30.1%,#72a62e 40.9%,#040501 50.6%,#140804 51.7%,#f4672c 60.8%,#fffefd 71%,#75ab30 83%,#090e04 97.2%,#030101 98.9%,#120803 100%)"></i><i style="background:linear-gradient(90deg,#090d04 0%,#030101 1.7%,#be5022 14.2%,#fa692d 17.6%,#fffbf9 29.5%,#f5f9ef 30.7%,#77ad32 40.3%,#030501 50.6%,#140804 51.7%,#fa6d33 61.4%,#fffbf9 71%,#f4f9ef 72.2%,#79ae35 83%,#060802 98.3%,#0b0402 100%)"></i><i style="background:linear-gradient(90deg,#060802 0%,#0a0402 1.7%,#c55323 14.2%,#fa6d33 17.6%,#fffefe 29.5%,#76ac30 40.3%,#030501 50.6%,#140904 51.7%,#fa6c31 61.4%,#fefffe 71.6%,#77ad32 83.5%,#090d04 98.3%,#030101 100%)"></i><i style="background:linear-gradient(90deg,#020301 0%,#38170a 4.5%,#fa6b30 17%,#fdfefc 29.5%,#75ab30 40.3%,#030401 50.6%,#140904 51.7%,#fa6b2f 61.4%,#fffdfc 71.6%,#75ab30 84.1%,#090d04 98.9%,#020301 100%)"></i><i style="background:linear-gradient(90deg,#030100 0%,#b74d21 12.5%,#fa692d 16.5%,#fffcfb 29%,#e6f0d9 31.2%,#74a92f 40.3%,#030401 50.6%,#150904 51.7%,#fa692e 61.4%,#fffaf8 71.6%,#fdfefc 72.2%,#79ae35 84.1%,#050802 100%)"></i><i style="background:linear-gradient(90deg,#0a0402 0%,#bd5022 12.5%,#fa6d32 16.5%,#fff 29%,#73a82f 40.3%,#030401 50.6%,#220e06 52.3%,#f9692d 61.4%,#fffffe 72.2%,#77ad32 84.7%,#090d04 100%)"></i><i style="background:linear-gradient(90deg,#110703 0%,#cd5625 13.1%,#fa6b2f 15.9%,#fffbf9 28.4%,#f6f9f1 29.5%,#72a62e 40.3%,#030401 50.6%,#220e06 52.3%,#f7682c 61.4%,#fffcfa 72.2%,#eef5e5 73.9%,#75ab30 85.2%,#0c1105 100%)"></i><i style="background:linear-gradient(90deg,#180a04 0%,#d45926 13.1%,#fa692d 15.3%,#fffefd 28.4%,#77ad32 39.8%,#030401 50.6%,#2f1408 52.8%,#f5672c 61.4%,#fefefd 72.7%,#79ae34 85.2%,#0f1606 100%)"></i><i style="background:linear-gradient(90deg,#1f0d06 0%,#da5c27 13.1%,#fa6d32 15.3%,#fefefd 28.4%,#76ac30 39.8%,#020301 50.6%,#3c190b 53.4%,#fa6d32 61.9%,#fffefd 72.7%,#77ad31 85.8%,#131b08 100%)"></i></div>
<svg width="1756" height="874" viewBox="0 0 1756 874">
<defs><path id="st" d="M0,-3.8L1.1,-1.2 3.7,-1.2 1.6,0.5 2.4,3.1 0,1.6 -2.4,3.1 -1.6,0.5 -3.7,-1.2 -1.1,-1.2Z" fill="#f21818"/>
<path id="tr" d="M-3.1,-2.3L3.1,-2.3 0,2.9Z" fill="#f21818"/>
<path id="tb" d="M-3.8,-2.9L3.8,-2.9 0,3.4Z" fill="#f21818"/>
<circle id="dt" r="2" fill="#f21818"/>
<circle id="db" r="2.5" fill="#f21818"/>
<circle id="oc" r="2.6" fill="none" stroke="#f21818" stroke-width="1.5"/>
<path id="dm" d="M0,-3.1L2.9,0 0,3.1 -2.9,0Z" fill="none" stroke="#f21818" stroke-width="1.5"/>
<circle id="ds" r="1.6" fill="#f21818"/>
<path id="dms" d="M0,-2L1.9,0 0,2 -1.9,0Z" fill="none" stroke="#f21818" stroke-width="1.2"/>
<rect id="sq" x="-2.2" y="-2.2" width="4.4" height="4.4" fill="none" stroke="#f21818" stroke-width="1.5"/><linearGradient id="cb" x1="0" x2="1" y1="0" y2="0">
<stop offset="0" stop-color="#000"/><stop offset="0.25" stop-color="#fa692d"/><stop offset="0.5" stop-color="#fff"/><stop offset="0.75" stop-color="#76ac30"/><stop offset="1" stop-color="#000"/></linearGradient></defs>
<text x="189.4" y="35.5" class="s" style="font-size:47.5px;font-weight:bold" textLength="536.8" lengthAdjust="spacingAndGlyphs">TRIANGULAR LATTICE</text>
<text x="1028.6" y="35.5" class="s" style="font-size:47.5px;font-weight:bold" textLength="534.6" lengthAdjust="spacingAndGlyphs">HONEYCOMB LATTICE</text>
<text x="5.6" y="83.7" class="a" style="font-size:36px;font-weight:bold">(a)</text>
<text x="355.1" y="83.7" class="a" style="font-size:36px;font-weight:bold">(b)</text>
<text x="894.2" y="83.7" class="a" style="font-size:36px;font-weight:bold">(d)</text>
<text x="1256.4" y="83.7" class="a" style="font-size:36px;font-weight:bold">(e)</text>
<text x="5.6" y="566.5" class="a" style="font-size:36px;font-weight:bold">(c)</text>
<text x="904.4" y="566.8" class="a" style="font-size:36px;font-weight:bold">(f)</text>
<text x="96.7" y="95.1" class="s" style="font-size:43px">K</text>
<text x="204.1" y="95.1" class="s" style="font-size:43px">Γ</text>
<text x="300.4" y="95.1" class="s" style="font-size:43px">M</text>
<line x1="141.8" y1="80.6" x2="195.9" y2="80.6" stroke="#000" stroke-width="1.4"/><path d="M131.7 80.6L146.2 76.2L141.8 80.6L146.2 85Z"/>
<line x1="288.1" y1="80.6" x2="234.2" y2="80.6" stroke="#000" stroke-width="1.4"/><path d="M298.2 80.6L283.7 76.2L288.1 80.6L283.7 85Z"/>
<text x="525.1" y="95.3" class="s" style="font-size:43px">K</text>
<text x="631.5" y="95.3" class="s" style="font-size:43px">Γ</text>
<text x="729.1" y="95.3" class="s" style="font-size:43px">M</text>
<line x1="569.6" y1="82" x2="623.6" y2="82" stroke="#000" stroke-width="1.4"/><path d="M559.5 82L574 77.6L569.6 82L574 86.4Z"/>
<line x1="716" y1="82" x2="662" y2="82" stroke="#000" stroke-width="1.4"/><path d="M726.1 82L711.6 77.6L716 82L711.6 86.4Z"/>
<text x="974.2" y="92.8" class="s" style="font-size:43px">K</text>
<text x="1081" y="92.8" class="s" style="font-size:43px">Γ</text>
<text x="1177.1" y="92.8" class="s" style="font-size:43px">M</text>
<line x1="1016.2" y1="80.7" x2="1070.2" y2="80.7" stroke="#000" stroke-width="1.4"/><path d="M1006.1 80.7L1020.6 76.3L1016.2 80.7L1020.6 85.1Z"/>
<line x1="1163.4" y1="80.7" x2="1109.6" y2="80.7" stroke="#000" stroke-width="1.4"/><path d="M1173.6 80.7L1159.1 76.3L1163.4 80.7L1159.1 85.1Z"/>
<text x="1404.9" y="92.3" class="s" style="font-size:43px">K</text>
<text x="1510.1" y="92.3" class="s" style="font-size:43px">Γ</text>
<text x="1607.9" y="92.3" class="s" style="font-size:43px">M</text>
<line x1="1446.1" y1="75.4" x2="1500.5" y2="75.4" stroke="#000" stroke-width="1.4"/><path d="M1435.9 75.4L1450.4 71L1446.1 75.4L1450.4 79.8Z"/>
<line x1="1592.9" y1="75.4" x2="1539" y2="75.4" stroke="#000" stroke-width="1.4"/><path d="M1603.1 75.4L1588.6 71L1592.9 75.4L1588.6 79.8Z"/>
<rect x="116" y="107.2" width="206.2" height="354.6" fill="none" stroke="#000" stroke-width="2.2"/>
<line x1="150.7" y1="107.2" x2="150.7" y2="112.2" stroke="#000" stroke-width="1.6"/>
<line x1="150.7" y1="461.8" x2="150.7" y2="456.8" stroke="#000" stroke-width="1.6"/>
<line x1="219.2" y1="107.2" x2="219.2" y2="112.2" stroke="#000" stroke-width="1.6"/>
<line x1="219.2" y1="461.8" x2="219.2" y2="456.8" stroke="#000" stroke-width="1.6"/>
<line x1="287.5" y1="107.2" x2="287.5" y2="112.2" stroke="#000" stroke-width="1.6"/>
<line x1="287.5" y1="461.8" x2="287.5" y2="456.8" stroke="#000" stroke-width="1.6"/>
<line x1="116" y1="157.5" x2="121" y2="157.5" stroke="#000" stroke-width="1.6"/>
<line x1="322.2" y1="157.5" x2="317.2" y2="157.5" stroke="#000" stroke-width="1.6"/>
<line x1="116" y1="259.2" x2="121" y2="259.2" stroke="#000" stroke-width="1.6"/>
<line x1="322.2" y1="259.2" x2="317.2" y2="259.2" stroke="#000" stroke-width="1.6"/>
<line x1="116" y1="360.4" x2="121" y2="360.4" stroke="#000" stroke-width="1.6"/>
<line x1="322.2" y1="360.4" x2="317.2" y2="360.4" stroke="#000" stroke-width="1.6"/>
<text x="54" y="162.3" class="s" style="font-size:26.5px">0.742</text>
<text x="66.1" y="266.8" class="s" style="font-size:26.5px">0.71</text>
<text x="53.6" y="369.3" class="s" style="font-size:26.5px">0.678</text>
<text x="53.4" y="471.3" class="s" style="font-size:26.5px">0.646</text>
<text x="130.3" y="488.1" class="s" style="font-size:26.5px">-0.1</text>
<text x="211.4" y="488.1" class="s" style="font-size:26.5px">0</text>
<text x="269.2" y="488.1" class="s" style="font-size:26.5px">0.1</text>
<text x="151.2" y="522.3" class="s" style="font-size:41px" textLength="132" lengthAdjust="spacingAndGlyphs">3|<tspan font-style="italic">k</tspan>|<tspan font-style="italic">a</tspan>/4π</text>
<text transform="translate(43.4 286.2) rotate(-90)" text-anchor="middle" class="s" style="font-size:43px" textLength="195.5" lengthAdjust="spacingAndGlyphs">Re(<tspan font-style="italic">ω</tspan>)<tspan font-style="italic">a</tspan>/2π<tspan font-style="italic">c</tspan></text>
<use href="#ds" x="118" y="112.1"/>
<use href="#ds" x="125.2" y="115.8"/>
<use href="#ds" x="132.4" y="119.2"/>
<use href="#ds" x="139.6" y="122.2"/>
<use href="#ds" x="146.8" y="125.1"/>
<use href="#ds" x="154" y="126.9"/>
<use href="#ds" x="161.2" y="128.7"/>
<use href="#ds" x="168.4" y="129.7"/>
<use href="#ds" x="175.6" y="130.8"/>
<use href="#ds" x="182.8" y="131.7"/>
<use href="#ds" x="190" y="132.6"/>
<use href="#ds" x="197.2" y="133.5"/>
<use href="#ds" x="204.4" y="134.1"/>
<use href="#ds" x="211.6" y="134.4"/>
<use href="#ds" x="218.8" y="134.7"/>
<use href="#ds" x="226" y="134.3"/>
<use href="#ds" x="233.2" y="133.9"/>
<use href="#ds" x="240.4" y="133.4"/>
<use href="#ds" x="247.6" y="132.4"/>
<use href="#ds" x="254.8" y="131.4"/>
<use href="#ds" x="262" y="130.2"/>
<use href="#ds" x="269.2" y="128.6"/>
<use href="#ds" x="276.4" y="127"/>
<use href="#ds" x="283.6" y="125.1"/>
<use href="#ds" x="290.8" y="122.9"/>
<use href="#ds" x="298" y="120.8"/>
<use href="#ds" x="305.2" y="118.6"/>
<use href="#ds" x="312.4" y="116.4"/>
<use href="#ds" x="319.6" y="114"/>
<use href="#oc" x="163.8" y="111.2"/>
<use href="#oc" x="171.5" y="116.8"/>
<use href="#oc" x="179.2" y="122"/>
<use href="#oc" x="185.4" y="126.7"/>
<use href="#oc" x="191.6" y="129.2"/>
<use href="#oc" x="199.3" y="132.3"/>
<use href="#oc" x="206" y="134"/>
<use href="#oc" x="213" y="135.3"/>
<use href="#oc" x="272" y="111.9"/>
<use href="#oc" x="264.2" y="116.8"/>
<use href="#oc" x="256.5" y="121.1"/>
<use href="#oc" x="248.8" y="125.2"/>
<use href="#oc" x="241" y="127.9"/>
<use href="#oc" x="234.9" y="129.8"/>
<use href="#oc" x="228" y="132.5"/>
<use href="#st" x="118" y="298"/>
<use href="#st" x="124.5" y="302.9"/>
<use href="#st" x="131" y="307.7"/>
<use href="#st" x="137.5" y="312.2"/>
<use href="#st" x="144" y="316.6"/>
<use href="#st" x="150.5" y="321.8"/>
<use href="#st" x="157" y="327.2"/>
<use href="#st" x="163.5" y="332.6"/>
<use href="#st" x="170" y="338"/>
<use href="#st" x="176.5" y="343.4"/>
<use href="#st" x="183" y="347.8"/>
<use href="#st" x="189.5" y="352.2"/>
<use href="#st" x="196" y="356.5"/>
<use href="#st" x="202.5" y="359.4"/>
<use href="#st" x="209" y="362.3"/>
<use href="#st" x="215.5" y="363.6"/>
<use href="#st" x="118" y="358.8"/>
<use href="#st" x="124" y="358.6"/>
<use href="#st" x="130" y="358.5"/>
<use href="#st" x="136" y="358.4"/>
<use href="#st" x="142" y="358.3"/>
<use href="#st" x="148" y="358.2"/>
<use href="#st" x="154" y="358.1"/>
<use href="#st" x="160" y="357.7"/>
<use href="#st" x="166" y="356.9"/>
<use href="#st" x="172" y="356.1"/>
<use href="#st" x="178" y="355.3"/>
<use href="#st" x="184" y="354.5"/>
<use href="#st" x="190" y="353.5"/>
<use href="#st" x="196" y="352.5"/>
<use href="#st" x="202" y="351.5"/>
<use href="#st" x="208" y="350.6"/>
<use href="#st" x="214" y="350.1"/>
<use href="#st" x="224" y="351.3"/>
<use href="#st" x="230" y="351.5"/>
<use href="#st" x="236" y="351.9"/>
<use href="#st" x="242" y="351.2"/>
<use href="#st" x="248" y="348.3"/>
<use href="#st" x="254" y="344.6"/>
<use href="#st" x="260" y="340.8"/>
<use href="#st" x="266" y="336.1"/>
<use href="#st" x="272" y="331.3"/>
<use href="#st" x="278" y="326.5"/>
<use href="#st" x="284" y="321.3"/>
<use href="#st" x="290" y="316.2"/>
<use href="#st" x="296" y="311.1"/>
<use href="#st" x="302" y="306"/>
<use href="#st" x="308" y="300.9"/>
<use href="#st" x="314" y="295.8"/>
<use href="#st" x="320" y="290.7"/>
<use href="#tr" x="224" y="363.5"/>
<use href="#tr" x="229.5" y="363.8"/>
<use href="#tr" x="235" y="364"/>
<use href="#tr" x="240.5" y="364.7"/>
<use href="#tr" x="246" y="365.4"/>
<use href="#tr" x="251.5" y="366.2"/>
<use href="#tr" x="257" y="367.1"/>
<use href="#tr" x="262.5" y="368"/>
<use href="#tr" x="268" y="369"/>
<use href="#tr" x="273.5" y="370.1"/>
<use href="#tr" x="279" y="371.4"/>
<use href="#tr" x="284.5" y="372.8"/>
<use href="#tr" x="290" y="374.4"/>
<use href="#tr" x="295.5" y="376"/>
<use href="#tr" x="301" y="377.7"/>
<use href="#tr" x="306.5" y="379.4"/>
<use href="#tr" x="312" y="381.4"/>
<use href="#tr" x="317.5" y="383.9"/>
<use href="#tb" x="119" y="422.5"/>
<use href="#tb" x="126.5" y="415.4"/>
<use href="#tb" x="134" y="408.8"/>
<use href="#tb" x="141.5" y="402.4"/>
<use href="#tb" x="149" y="397"/>
<use href="#tb" x="156.5" y="391.9"/>
<use href="#tr" x="165" y="381.1"/>
<use href="#tr" x="171.5" y="378.2"/>
<use href="#tr" x="178" y="375.5"/>
<use href="#tr" x="184.5" y="373.4"/>
<use href="#tr" x="191" y="371.6"/>
<use href="#tr" x="197.5" y="370.7"/>
<use href="#tr" x="204" y="369.8"/>
<use href="#tr" x="210.5" y="369.5"/>
<use href="#tr" x="217" y="369.4"/>
<use href="#dm" x="256" y="363"/>
<use href="#dm" x="262" y="364.5"/>
<use href="#dm" x="267.2" y="367.5"/>
<use href="#dm" x="273" y="372"/>
<use href="#dm" x="280" y="378"/>
<use href="#dm" x="287" y="384"/>
<use href="#dm" x="293" y="389"/>
<use href="#dm" x="299" y="393.5"/>
<use href="#dm" x="305" y="398"/>
<use href="#dm" x="311" y="403"/>
<use href="#dm" x="317" y="407.5"/>
<use href="#dm" x="321.5" y="411"/>
<use href="#tr" x="160" y="456.8"/>
<use href="#tr" x="166.2" y="449.1"/>
<use href="#tr" x="172.4" y="441.9"/>
<use href="#tr" x="178.6" y="435.2"/>
<use href="#tr" x="184.8" y="429"/>
<use href="#tr" x="191" y="423.6"/>
<use href="#tr" x="197.2" y="419"/>
<use href="#tr" x="203.4" y="415.4"/>
<use href="#tr" x="209.6" y="413"/>
<use href="#tr" x="215.8" y="411.7"/>
<use href="#tr" x="222" y="411.6"/>
<use href="#tr" x="228.2" y="412.7"/>
<use href="#tr" x="234.4" y="414.9"/>
<use href="#tr" x="240.6" y="418.2"/>
<use href="#tr" x="246.8" y="422.5"/>
<use href="#tr" x="253" y="427.7"/>
<use href="#tr" x="259.2" y="433.8"/>
<use href="#tr" x="265.4" y="440.8"/>
<use href="#tr" x="271.6" y="448.4"/>
<use href="#tr" x="277.8" y="456.8"/>
<path d="M116 112.4C118.3 113.6 125 117.2 130 119.5C135 121.8 140.8 124.4 145.8 126.1C150.8 127.8 154.5 128.7 160 129.8C165.5 130.9 172 131.6 178.7 132.5C185.4 133.4 193.3 134.6 200 135.2C206.7 135.8 212.3 136.1 219 136C225.7 135.9 233.2 135.5 240 134.8C246.8 134.1 253.3 133.2 260 132C266.7 130.8 273.9 129.1 280 127.5C286.1 125.9 291.6 124 296.6 122.5C301.6 121 305.8 119.8 310 118.5C314.2 117.2 320 115.2 322 114.5" fill="none" stroke="#000" stroke-width="2.6" stroke-linejoin="round" stroke-linecap="round"/>
<path d="M151.3 107.3C153.6 109.1 160.3 114.7 165 118C169.7 121.3 173.8 124.4 179.6 127C185.4 129.6 193.4 132 200 133.5C206.6 135 212.3 136.2 219 136C225.7 135.8 233.2 134.3 240 132.5C246.8 130.7 254.5 127.8 260 125.2C265.5 122.6 268.9 119.9 273 117C277.1 114.1 282.8 109.3 284.7 107.8" fill="none" stroke="#000" stroke-width="2.6" stroke-linejoin="round" stroke-linecap="round"/>
<path d="M116 298.5C118.3 300.2 125 305.4 130 309C135 312.6 141.3 316.5 146 320C150.7 323.5 152.8 325.7 158 330C163.2 334.3 170.8 341.2 177.2 346C183.6 350.8 191.2 355.7 196.5 358.8C201.8 361.9 205.6 363.1 209.3 364.4C213.1 365.6 217.4 366 219 366.3" fill="none" stroke="#000" stroke-width="2.6" stroke-linejoin="round" stroke-linecap="round"/>
<path d="M116 362.8C123 362.7 147 362.7 158 362C169 361.3 174 360 182 358.8C190 357.6 199.8 355.7 206 354.8C212.2 353.9 216.8 353.9 219 353.7" fill="none" stroke="#000" stroke-width="2.6" stroke-linejoin="round" stroke-linecap="round"/>
<path d="M116 417.3C118.2 415.2 124.7 408.9 129 405C133.3 401.1 137.8 397.2 142 394C146.2 390.8 150 388.2 154 385.5C158 382.8 162 380.1 166 378C170 375.9 174 374.5 178 373C182 371.5 185.5 370.2 190 369.2C194.5 368.2 200.2 367.6 205 367.2C209.8 366.8 216.7 366.9 219 366.8" fill="none" stroke="#000" stroke-width="2.6" stroke-linejoin="round" stroke-linecap="round"/>
<path d="M219 353.7C220.8 353.8 226.5 353.9 230 354C233.5 354.1 237 355.1 240 354.6C243 354.1 244.5 352.8 248 350.8C251.5 348.8 256 346.3 260.8 342.8C265.6 339.3 271.9 334.1 276.8 330C281.7 325.9 285.5 322.5 290.2 318.5C294.9 314.5 299.7 310.5 305 306C310.3 301.5 319.2 293.9 322 291.5" fill="none" stroke="#000" stroke-width="2.6" stroke-linejoin="round" stroke-linecap="round"/>
<path d="M219 366.3C220.4 366 224.5 365.3 227.2 364.4C229.9 363.5 232.3 361.9 235 361C237.7 360.1 240.4 358.9 243.2 358.8C246 358.7 249.1 359.7 252 360.5C254.9 361.3 257.8 362.4 260.8 363.6C263.8 364.9 266.8 366.4 270 368C273.2 369.6 275.1 370.5 280 373.2C284.9 375.9 294.3 381.5 299.3 384.4C304.3 387.3 306.2 388.3 310 390.5C313.8 392.7 320 396.3 322 397.5" fill="none" stroke="#000" stroke-width="2.6" stroke-linejoin="round" stroke-linecap="round"/>
<path d="M219 366.8C221.7 366.9 230.2 367.1 235 367.5C239.8 367.9 243.8 368.6 248 369.2C252.2 369.8 256 370.3 260 371C264 371.7 268 372.3 272 373.2C276 374.1 280 375.1 284 376.2C288 377.3 291.7 378.3 296 379.6C300.3 380.9 305.7 382.4 310 384C314.3 385.6 320 388.6 322 389.5" fill="none" stroke="#000" stroke-width="2.6" stroke-linejoin="round" stroke-linecap="round"/>
<path d="M157 461.6C157.2 461.3 158 460.3 158.5 459.7C159 459 159.5 458.4 160 457.8C160.5 457.2 161 456.5 161.5 455.9C162 455.3 162.5 454.7 163 454C163.5 453.4 164 452.8 164.5 452.2C165 451.6 165.5 451 166 450.4C166.5 449.8 167 449.2 167.5 448.6C168 448 168.5 447.4 169 446.8C169.5 446.2 170 445.7 170.5 445.1C171 444.5 171.5 443.9 172 443.4C172.5 442.8 173 442.2 173.5 441.7C174 441.1 174.5 440.6 175 440C175.5 439.5 176 438.9 176.5 438.4C177 437.9 177.5 437.3 178 436.8C178.5 436.3 179 435.8 179.5 435.2C180 434.7 180.5 434.2 181 433.7C181.5 433.2 182 432.7 182.5 432.2C183 431.7 183.5 431.3 184 430.8C184.5 430.3 185 429.8 185.5 429.4C186 428.9 186.5 428.5 187 428C187.5 427.6 188 427.1 188.5 426.7C189 426.3 189.5 425.9 190 425.4C190.5 425 191 424.6 191.5 424.2C192 423.8 192.5 423.4 193 423C193.5 422.7 194 422.3 194.5 421.9C195 421.6 195.5 421.2 196 420.9C196.5 420.5 197 420.2 197.5 419.8C198 419.5 198.5 419.2 199 418.9C199.5 418.6 200 418.3 200.5 418C201 417.7 201.5 417.4 202 417.2C202.5 416.9 203 416.6 203.5 416.4C204 416.1 204.5 415.9 205 415.7C205.5 415.5 206 415.3 206.5 415.1C207 414.9 207.5 414.7 208 414.5C208.5 414.3 209 414.1 209.5 414C210 413.8 210.5 413.7 211 413.6C211.5 413.4 212 413.3 212.5 413.2C213 413.1 213.5 413 214 412.9C214.5 412.8 215 412.8 215.5 412.7C216 412.6 216.5 412.6 217 412.6C217.5 412.5 218 412.5 218.5 412.5C219 412.5 219.5 412.5 220 412.5C220.5 412.5 221 412.6 221.5 412.6C222 412.6 222.5 412.7 223 412.7C223.5 412.8 224 412.9 224.5 412.9C225 413 225.5 413.1 226 413.2C226.5 413.3 227 413.4 227.5 413.6C228 413.7 228.5 413.8 229 414C229.5 414.1 230 414.3 230.5 414.4C231 414.6 231.5 414.8 232 414.9C232.5 415.1 233 415.3 233.5 415.5C234 415.7 234.5 416 235 416.2C235.5 416.4 236 416.7 236.5 416.9C237 417.2 237.5 417.4 238 417.7C238.5 418 239 418.2 239.5 418.5C240 418.8 240.5 419.1 241 419.4C241.5 419.7 242 420.1 242.5 420.4C243 420.7 243.5 421.1 244 421.4C244.5 421.8 245 422.1 245.5 422.5C246 422.9 246.5 423.2 247 423.6C247.5 424 248 424.4 248.5 424.8C249 425.2 249.5 425.6 250 426C250.5 426.5 251 426.9 251.5 427.3C252 427.8 252.5 428.2 253 428.7C253.5 429.2 254 429.6 254.5 430.1C255 430.6 255.5 431.1 256 431.5C256.5 432 257 432.5 257.5 433.1C258 433.6 258.5 434.1 259 434.6C259.5 435.1 260 435.7 260.5 436.2C261 436.7 261.5 437.3 262 437.8C262.5 438.4 263 439 263.5 439.5C264 440.1 264.5 440.7 265 441.3C265.5 441.9 266 442.5 266.5 443.1C267 443.7 267.5 444.3 268 444.9C268.5 445.5 269 446.1 269.5 446.8C270 447.4 270.5 448 271 448.7C271.5 449.3 272 449.9 272.5 450.6C273 451.3 273.5 451.9 274 452.6C274.5 453.3 275 453.9 275.5 454.6C276 455.3 276.5 456 277 456.7C277.5 457.4 278 458.1 278.5 458.8C279 459.5 279.6 460.4 280 460.9C280.4 461.4 280.5 461.6 280.6 461.8" fill="none" stroke="#000" stroke-width="2.6" stroke-linejoin="round" stroke-linecap="round"/>
<rect x="122.4" y="235.5" width="92.1" height="50.8" fill="none" stroke="#1c3fe0" stroke-width="1.5"/>
<rect x="223.1" y="235.5" width="93" height="50.8" fill="none" stroke="#3e9e4e" stroke-width="1.5"/>
<use href="#ds" x="131" y="240"/>
<use href="#ds" x="140.5" y="246.5"/>
<use href="#ds" x="150" y="253.5"/>
<use href="#ds" x="159.5" y="260"/>
<use href="#ds" x="169" y="266.5"/>
<use href="#ds" x="178.5" y="273.5"/>
<use href="#ds" x="188" y="280"/>
<use href="#ds" x="197.5" y="286"/>
<use href="#ds" x="123" y="275.5"/>
<use href="#ds" x="132" y="274"/>
<use href="#ds" x="141.5" y="272.5"/>
<use href="#ds" x="150.5" y="271"/>
<use href="#ds" x="160" y="269.5"/>
<use href="#ds" x="169.5" y="268"/>
<use href="#ds" x="179" y="266.5"/>
<use href="#ds" x="187" y="264.5"/>
<use href="#ds" x="196" y="263"/>
<use href="#ds" x="205" y="261.8"/>
<use href="#ds" x="214" y="260.2"/>
<use href="#ds" x="224" y="261.5"/>
<use href="#ds" x="235" y="263"/>
<use href="#ds" x="246" y="264.5"/>
<use href="#ds" x="257" y="265"/>
<use href="#ds" x="268" y="264"/>
<use href="#ds" x="280" y="258.5"/>
<use href="#ds" x="292" y="253"/>
<use href="#ds" x="305" y="247"/>
<use href="#ds" x="316" y="243"/>
<use href="#ds" x="224" y="286"/>
<use href="#ds" x="235" y="281.5"/>
<use href="#ds" x="246" y="277.5"/>
<use href="#dms" x="256" y="275"/>
<use href="#dms" x="268" y="273.5"/>
<use href="#dms" x="280" y="274.5"/>
<use href="#dms" x="292" y="277.5"/>
<use href="#dms" x="304" y="280.5"/>
<use href="#dms" x="316" y="283"/>
<polyline points="127.2,235.5 201.9,287.3" fill="none" stroke="#000" stroke-width="1.9" stroke-linejoin="round"/>
<path d="M122.4 273C126.2 272.2 137.4 269.9 145 268.5C152.6 267.1 160.5 265.8 168 264.5C175.5 263.2 182.2 262 190 261C197.8 260 210.4 259 214.5 258.6" fill="none" stroke="#000" stroke-width="1.9" stroke-linejoin="round" stroke-linecap="round"/>
<path d="M223.1 259.8C225.9 260 234.7 260.8 240 261.2C245.3 261.6 250.7 262.3 255 262.5C259.3 262.7 262.7 262.9 266 262.6C269.3 262.3 271.8 261.7 275 260.5C278.2 259.3 281.7 257.1 285 255.5C288.3 253.9 291.7 252.5 295 251C298.3 249.5 301.5 247.9 305 246.5C308.5 245.1 314.2 243.2 316.1 242.5" fill="none" stroke="#000" stroke-width="1.9" stroke-linejoin="round" stroke-linecap="round"/>
<path d="M223.1 286.1C225.1 285.2 231 282.7 235 281C239 279.3 243.2 277.4 247 276C250.8 274.6 254.5 273.4 258 272.5C261.5 271.6 264.7 271.1 268 270.8C271.3 270.5 274.1 270.5 277.8 270.6C281.5 270.7 285.8 271 290 271.5C294.2 272 298.6 272.9 303 273.5C307.4 274.1 313.9 275 316.1 275.3" fill="none" stroke="#000" stroke-width="1.9" stroke-linejoin="round" stroke-linecap="round"/>
<rect x="175.6" y="346" width="35.6" height="19.2" fill="none" stroke="#1c3fe0" stroke-width="1.4" stroke-dasharray="1.4 1.6"/>
<rect x="225.6" y="345.5" width="36" height="19.4" fill="none" stroke="#3e9e4e" stroke-width="1.4" stroke-dasharray="1.4 1.6"/>
<line x1="191.7" y1="345.2" x2="177" y2="295.5" stroke="#1c3fe0" stroke-width="1.6"/><path d="M175.2 289.5L181.2 297.1L177 295.5L174.3 299.2Z" fill="#1c3fe0"/>
<line x1="243.2" y1="345.2" x2="258.5" y2="295.5" stroke="#3e9e4e" stroke-width="1.6"/><path d="M260.4 289.5L261.2 299.2L258.5 295.5L254.3 297Z" fill="#3e9e4e"/>
<text x="125.6" y="226.9" class="s" style="font-size:26px" fill="#1c3fe0" textLength="86.2" lengthAdjust="spacingAndGlyphs">crossing</text>
<text x="218.6" y="226.9" class="s" style="font-size:26px" fill="#3e9e4e" textLength="101.4" lengthAdjust="spacingAndGlyphs">anticrossing</text>
<text x="158.8" y="255" class="s" style="font-size:24px"><tspan font-weight="bold">k</tspan><tspan font-style="italic" font-size="17" dy="3.6">c</tspan></text>
<text x="249.7" y="252.6" class="s" style="font-size:24px"><tspan font-weight="bold">k</tspan><tspan font-style="italic" font-size="17" dy="3.6">ac</tspan></text>
<text x="183.7" y="172.3" class="s" style="font-size:20.7px">Dipolars</text>
<line x1="218.2" y1="160" x2="218.2" y2="146.9" stroke="#000" stroke-width="1.8"/><path d="M218.2 138.5L222.4 150.5L218.2 146.9L214 150.5Z" fill="#000"/>
<text x="191.1" y="311.8" class="s" style="font-size:20.7px">Mono-</text>
<text x="191.4" y="327.4" class="s" style="font-size:20.7px">polar</text>
<line x1="210.1" y1="331.3" x2="214.7" y2="343" stroke="#000" stroke-width="1.9"/><path d="M218.1 351.8L208.9 340.9L214.7 343L217.5 337.6Z" fill="#000"/>
<text x="174.8" y="401.8" class="s" style="font-size:20.7px">Quadripolars</text>
<line x1="207.7" y1="392.4" x2="213.7" y2="377.6" stroke="#000" stroke-width="1.9"/><path d="M217.3 368.8L216.5 383L213.7 377.6L208 379.6Z" fill="#000"/>
<text x="185.8" y="449.3" class="s" style="font-size:18.3px" textLength="66.5" lengthAdjust="spacingAndGlyphs">Hexapolar</text>
<line x1="207.7" y1="435.7" x2="212.8" y2="423.6" stroke="#000" stroke-width="1.9"/><path d="M216.5 414.9L215.5 429.1L212.8 423.6L207 425.5Z" fill="#000"/>
<line x1="644.4" y1="108.4" x2="644.4" y2="463.9" stroke="#222" stroke-width="1.3" stroke-dasharray="4 3"/>
<rect x="443.4" y="108.4" width="401.4" height="355.5" fill="none" stroke="#000" stroke-width="2.2"/>
<line x1="510.4" y1="108.4" x2="510.4" y2="113.4" stroke="#000" stroke-width="1.6"/>
<line x1="510.4" y1="463.9" x2="510.4" y2="458.9" stroke="#000" stroke-width="1.6"/>
<line x1="577.4" y1="108.4" x2="577.4" y2="113.4" stroke="#000" stroke-width="1.6"/>
<line x1="577.4" y1="463.9" x2="577.4" y2="458.9" stroke="#000" stroke-width="1.6"/>
<line x1="711.4" y1="108.4" x2="711.4" y2="113.4" stroke="#000" stroke-width="1.6"/>
<line x1="711.4" y1="463.9" x2="711.4" y2="458.9" stroke="#000" stroke-width="1.6"/>
<line x1="778.4" y1="108.4" x2="778.4" y2="113.4" stroke="#000" stroke-width="1.6"/>
<line x1="778.4" y1="463.9" x2="778.4" y2="458.9" stroke="#000" stroke-width="1.6"/>
<line x1="443.4" y1="365.9" x2="448.4" y2="365.9" stroke="#000" stroke-width="1.6"/>
<line x1="844.8" y1="365.9" x2="839.8" y2="365.9" stroke="#000" stroke-width="1.6"/>
<line x1="443.4" y1="301.6" x2="448.4" y2="301.6" stroke="#000" stroke-width="1.6"/>
<line x1="844.8" y1="301.6" x2="839.8" y2="301.6" stroke="#000" stroke-width="1.6"/>
<line x1="443.4" y1="237.3" x2="448.4" y2="237.3" stroke="#000" stroke-width="1.6"/>
<line x1="844.8" y1="237.3" x2="839.8" y2="237.3" stroke="#000" stroke-width="1.6"/>
<line x1="443.4" y1="173" x2="448.4" y2="173" stroke="#000" stroke-width="1.6"/>
<line x1="844.8" y1="173" x2="839.8" y2="173" stroke="#000" stroke-width="1.6"/>
<text x="393.7" y="115.1" class="s" style="font-size:26.5px">10</text><text x="418.5" y="107.9" class="s" style="font-size:18.3px">12</text>
<text x="393.7" y="181.6" class="s" style="font-size:26.5px">10</text><text x="418.5" y="174.4" class="s" style="font-size:18.3px">10</text>
<text x="393.7" y="245.9" class="s" style="font-size:26.5px">10</text><text x="419.4" y="238.7" class="s" style="font-size:18.3px">8</text>
<text x="393.7" y="310.2" class="s" style="font-size:26.5px">10</text><text x="419.4" y="303" class="s" style="font-size:18.3px">6</text>
<text x="393.7" y="374.5" class="s" style="font-size:26.5px">10</text><text x="419.7" y="367.3" class="s" style="font-size:18.3px">4</text>
<text x="393.7" y="438.8" class="s" style="font-size:26.5px">10</text><text x="419.3" y="431.6" class="s" style="font-size:18.3px">2</text>
<text x="427.7" y="488.2" class="s" style="font-size:26.5px">10</text><text x="453.5" y="481" class="s" style="font-size:18.3px">-1</text>
<text x="490.6" y="488.2" class="s" style="font-size:26.5px">10</text><text x="516.4" y="481" class="s" style="font-size:18.3px">-2</text>
<text x="561.8" y="488.2" class="s" style="font-size:26.5px">10</text><text x="587.6" y="481" class="s" style="font-size:18.3px">-3</text>
<text x="624.4" y="488.2" class="s" style="font-size:26.5px">10</text><text x="650.2" y="481" class="s" style="font-size:18.3px">-4</text>
<text x="695.8" y="488.2" class="s" style="font-size:26.5px">10</text><text x="721.6" y="481" class="s" style="font-size:18.3px">-3</text>
<text x="758.5" y="488.2" class="s" style="font-size:26.5px">10</text><text x="784.3" y="481" class="s" style="font-size:18.3px">-2</text>
<text x="824.9" y="488.2" class="s" style="font-size:26.5px">10</text><text x="850.7" y="481" class="s" style="font-size:18.3px">-1</text>
<text x="580.3" y="521.9" class="s" style="font-size:41px" textLength="132" lengthAdjust="spacingAndGlyphs">3|<tspan font-style="italic">k</tspan>|<tspan font-style="italic">a</tspan>/4π</text>
<text transform="translate(386.6 279.6) rotate(-90)" text-anchor="middle" class="s" style="font-size:42.5px" textLength="228.1" lengthAdjust="spacingAndGlyphs">Quality factor</text>
<use href="#db" x="644.4" y="425.6"/>
<use href="#db" x="644.4" y="425.6"/>
<use href="#db" x="612.4" y="425.6"/>
<use href="#db" x="676.4" y="425.6"/>
<use href="#db" x="577.4" y="425.6"/>
<use href="#db" x="711.4" y="425.6"/>
<use href="#db" x="550.7" y="425.6"/>
<use href="#db" x="738.1" y="425.6"/>
<use href="#db" x="530.6" y="425.6"/>
<use href="#db" x="758.2" y="425.6"/>
<use href="#db" x="518.8" y="425.6"/>
<use href="#db" x="770" y="425.6"/>
<use href="#db" x="510.4" y="425.6"/>
<use href="#db" x="778.4" y="425.6"/>
<use href="#db" x="503.9" y="425.6"/>
<use href="#db" x="784.9" y="425.6"/>
<use href="#db" x="498.6" y="425.6"/>
<use href="#db" x="790.2" y="425.6"/>
<use href="#db" x="494.1" y="425.6"/>
<use href="#db" x="794.7" y="425.6"/>
<use href="#db" x="490.2" y="425.6"/>
<use href="#db" x="798.6" y="425.6"/>
<use href="#db" x="486.8" y="425.6"/>
<use href="#db" x="802" y="425.6"/>
<use href="#db" x="483.7" y="425.6"/>
<use href="#db" x="805.1" y="425.6"/>
<use href="#db" x="481" y="425.6"/>
<use href="#db" x="807.8" y="425.6"/>
<use href="#db" x="478.4" y="425.6"/>
<use href="#db" x="810.4" y="425.6"/>
<use href="#db" x="476.1" y="425.6"/>
<use href="#db" x="812.7" y="425.6"/>
<use href="#db" x="473.9" y="425.6"/>
<use href="#db" x="814.9" y="425.6"/>
<use href="#db" x="471.9" y="425.6"/>
<use href="#db" x="816.9" y="425.6"/>
<use href="#db" x="470.1" y="425.6"/>
<use href="#db" x="818.7" y="425.6"/>
<use href="#db" x="468.3" y="425.6"/>
<use href="#db" x="820.5" y="425.6"/>
<use href="#db" x="466.6" y="425.6"/>
<use href="#db" x="822.2" y="425.6"/>
<use href="#db" x="465.1" y="425.6"/>
<use href="#db" x="823.7" y="425.6"/>
<use href="#db" x="463.6" y="425.6"/>
<use href="#db" x="825.2" y="425.6"/>
<use href="#db" x="462.1" y="425.6"/>
<use href="#db" x="826.7" y="425.6"/>
<use href="#db" x="460.8" y="425.6"/>
<use href="#db" x="828" y="425.6"/>
<use href="#db" x="459.5" y="425.6"/>
<use href="#db" x="829.3" y="425.6"/>
<use href="#db" x="458.3" y="425.6"/>
<use href="#db" x="830.5" y="425.6"/>
<use href="#db" x="457.1" y="425.6"/>
<use href="#db" x="831.7" y="425.6"/>
<use href="#db" x="455.9" y="425.6"/>
<use href="#db" x="832.9" y="425.6"/>
<use href="#db" x="454.8" y="425.6"/>
<use href="#db" x="834" y="425.6"/>
<use href="#db" x="453.8" y="425.6"/>
<use href="#db" x="835" y="425.6"/>
<use href="#db" x="452.8" y="425.6"/>
<use href="#db" x="836" y="425.6"/>
<use href="#db" x="451.8" y="425.6"/>
<use href="#db" x="837" y="425.6"/>
<use href="#db" x="450.8" y="425.6"/>
<use href="#db" x="838" y="425.6"/>
<use href="#db" x="449.9" y="425.6"/>
<use href="#db" x="838.9" y="425.6"/>
<use href="#db" x="449" y="425.6"/>
<use href="#db" x="839.8" y="425.6"/>
<use href="#db" x="448.1" y="425.6"/>
<use href="#db" x="840.7" y="425.6"/>
<use href="#db" x="447.3" y="425.6"/>
<use href="#db" x="841.5" y="425.6"/>
<use href="#db" x="446.5" y="425.6"/>
<use href="#db" x="842.3" y="425.6"/>
<use href="#db" x="445.7" y="425.6"/>
<use href="#db" x="843.1" y="425.6"/>
<use href="#db" x="444.9" y="425.6"/>
<use href="#db" x="843.9" y="425.6"/>
<use href="#db" x="444.1" y="425.6"/>
<use href="#db" x="844.7" y="425.6"/>
<use href="#db" x="443.4" y="425.6"/>
<use href="#db" x="845.4" y="425.6"/>
<use href="#sq" x="577.1" y="142.9"/>
<use href="#sq" x="549.9" y="195.8"/>
<use href="#sq" x="530.6" y="231"/>
<use href="#sq" x="517.8" y="253.5"/>
<use href="#sq" x="509.8" y="267.9"/>
<use href="#sq" x="503" y="281"/>
<use href="#sq" x="497" y="293"/>
<use href="#sq" x="710.1" y="144.5"/>
<use href="#sq" x="733.5" y="190"/>
<use href="#sq" x="753.3" y="226.2"/>
<use href="#sq" x="764.5" y="245.5"/>
<use href="#sq" x="774.1" y="261.5"/>
<use href="#sq" x="781" y="274"/>
<use href="#sq" x="787" y="285"/>
<use href="#sq" x="793" y="296"/>
<use href="#st" x="530.6" y="301.5"/>
<use href="#st" x="549.9" y="283.1"/>
<use href="#st" x="577.1" y="257"/>
<use href="#st" x="611.7" y="223.9"/>
<use href="#st" x="500" y="330.8"/>
<use href="#st" x="515" y="316.5"/>
<use href="#st" x="490" y="340.4"/>
<use href="#st" x="480" y="350"/>
<use href="#st" x="470" y="359.5"/>
<use href="#st" x="462" y="367.2"/>
<use href="#st" x="455" y="373.9"/>
<use href="#st" x="449" y="379.6"/>
<use href="#st" x="530.6" y="316.6"/>
<use href="#st" x="549.9" y="298.4"/>
<use href="#st" x="577.1" y="272.8"/>
<use href="#st" x="612.3" y="239.6"/>
<use href="#st" x="500" y="345.4"/>
<use href="#st" x="515" y="331.3"/>
<use href="#st" x="490" y="354.9"/>
<use href="#st" x="480" y="364.3"/>
<use href="#st" x="470" y="373.7"/>
<use href="#st" x="462" y="381.3"/>
<use href="#st" x="455" y="387.9"/>
<use href="#st" x="449" y="393.5"/>
<use href="#st" x="676.4" y="224.7"/>
<use href="#st" x="710.1" y="256.6"/>
<use href="#st" x="733.5" y="278.7"/>
<use href="#st" x="750" y="294.3"/>
<use href="#st" x="765" y="308.5"/>
<use href="#st" x="778" y="320.8"/>
<use href="#st" x="790" y="332.1"/>
<use href="#st" x="800" y="341.6"/>
<use href="#st" x="808" y="349.1"/>
<use href="#st" x="816" y="356.7"/>
<use href="#st" x="824" y="364.2"/>
<use href="#st" x="832" y="371.8"/>
<use href="#st" x="840" y="379.4"/>
<use href="#st" x="676.4" y="241.4"/>
<use href="#st" x="710.1" y="273.8"/>
<use href="#st" x="733.5" y="296.3"/>
<use href="#st" x="750" y="312.2"/>
<use href="#st" x="765" y="326.6"/>
<use href="#st" x="778" y="339.1"/>
<use href="#st" x="790" y="350"/>
<use href="#st" x="800" y="359"/>
<use href="#st" x="808" y="368"/>
<use href="#st" x="816" y="380.4"/>
<use href="#st" x="824" y="388.2"/>
<use href="#st" x="832" y="393.1"/>
<use href="#st" x="840" y="397.3"/>
<use href="#st" x="443.4" y="359.5"/>
<use href="#st" x="447" y="357.1"/>
<use href="#st" x="451" y="354.5"/>
<use href="#st" x="455" y="351.2"/>
<use href="#st" x="460" y="347"/>
<use href="#st" x="466" y="340.1"/>
<use href="#st" x="473" y="331.1"/>
<use href="#st" x="480" y="320.6"/>
<use href="#st" x="488" y="305.7"/>
<use href="#st" x="806" y="316.8"/>
<use href="#st" x="810" y="322.7"/>
<use href="#st" x="814" y="316.6"/>
<use href="#st" x="821" y="327.9"/>
<use href="#st" x="824" y="341.5"/>
<use href="#st" x="828" y="348.8"/>
<use href="#st" x="832" y="354.2"/>
<use href="#st" x="836" y="359.1"/>
<use href="#st" x="840" y="363.4"/>
<use href="#st" x="844" y="367.6"/>
<use href="#st" x="816.8" y="290"/>
<use href="#st" x="815.5" y="306"/>
<use href="#st" x="644.4" y="194.5"/>
<use href="#st" x="644.4" y="207.5"/>
<use href="#db" x="442.8" y="326.7"/>
<use href="#db" x="444.4" y="336.7"/>
<use href="#db" x="446" y="341.4"/>
<use href="#db" x="447.6" y="345.7"/>
<use href="#db" x="449.2" y="348.9"/>
<use href="#db" x="450.8" y="352.2"/>
<use href="#db" x="452.4" y="354.9"/>
<use href="#db" x="454" y="356.9"/>
<use href="#db" x="455.6" y="358.9"/>
<use href="#db" x="457.2" y="360.9"/>
<use href="#db" x="458.8" y="362.4"/>
<use href="#db" x="460.4" y="363.6"/>
<use href="#db" x="462" y="364.9"/>
<use href="#db" x="463.6" y="366.2"/>
<use href="#db" x="465.2" y="367.4"/>
<use href="#db" x="466.8" y="368.1"/>
<use href="#db" x="468.4" y="368.8"/>
<use href="#db" x="470" y="369.4"/>
<use href="#db" x="471.6" y="370.1"/>
<use href="#db" x="444" y="397.9"/>
<use href="#db" x="446.2" y="395.9"/>
<use href="#db" x="448.4" y="393.8"/>
<use href="#db" x="450.6" y="391.7"/>
<use href="#db" x="452.8" y="389.6"/>
<use href="#db" x="455" y="387.5"/>
<use href="#db" x="457.2" y="385.4"/>
<use href="#db" x="459.4" y="383.4"/>
<use href="#db" x="461.6" y="381.3"/>
<use href="#db" x="463.8" y="379.2"/>
<use href="#db" x="466" y="377.1"/>
<use href="#db" x="468.2" y="375"/>
<use href="#db" x="470.4" y="373"/>
<use href="#db" x="472.6" y="370.9"/>
<use href="#db" x="474.8" y="368.8"/>
<use href="#db" x="477" y="366.7"/>
<use href="#db" x="479.2" y="364.6"/>
<use href="#db" x="481.4" y="362.5"/>
<use href="#db" x="483.6" y="360.5"/>
<use href="#db" x="444" y="427"/>
<use href="#db" x="447" y="426.9"/>
<use href="#db" x="450" y="426.8"/>
<use href="#db" x="453" y="426.7"/>
<use href="#db" x="456" y="426.6"/>
<use href="#db" x="459" y="426.5"/>
<use href="#db" x="462" y="426.4"/>
<use href="#db" x="465" y="426.3"/>
<use href="#db" x="468" y="426.2"/>
<use href="#db" x="471" y="426.1"/>
<use href="#db" x="474" y="426"/>
<use href="#db" x="477" y="425.9"/>
<use href="#db" x="480" y="425.8"/>
<use href="#db" x="483" y="425.7"/>
<use href="#db" x="486" y="425.6"/>
<use href="#db" x="489" y="425.5"/>
<use href="#db" x="492" y="425.4"/>
<use href="#db" x="495" y="425.3"/>
<use href="#db" x="843.5" y="399"/>
<use href="#db" x="841" y="397.6"/>
<use href="#db" x="838.5" y="396.2"/>
<use href="#db" x="836" y="394.8"/>
<use href="#db" x="833.5" y="393.4"/>
<use href="#db" x="831" y="392"/>
<use href="#db" x="828.5" y="390.6"/>
<use href="#db" x="826" y="389.2"/>
<use href="#db" x="823.5" y="387.8"/>
<use href="#db" x="821" y="386.4"/>
<use href="#db" x="818.5" y="385"/>
<use href="#db" x="816" y="383.6"/>
<use href="#db" x="843.5" y="427"/>
<use href="#db" x="840.5" y="426.9"/>
<use href="#db" x="837.5" y="426.8"/>
<use href="#db" x="834.5" y="426.7"/>
<use href="#db" x="831.5" y="426.6"/>
<use href="#db" x="828.5" y="426.5"/>
<use href="#db" x="825.5" y="426.4"/>
<use href="#db" x="822.5" y="426.3"/>
<use href="#db" x="819.5" y="426.2"/>
<use href="#db" x="816.5" y="426.1"/>
<use href="#db" x="813.5" y="426"/>
<use href="#db" x="810.5" y="425.9"/>
<use href="#db" x="807.5" y="425.8"/>
<use href="#db" x="804.5" y="425.7"/>
<use href="#db" x="801.5" y="425.6"/>
<use href="#db" x="798.5" y="425.5"/>
<use href="#db" x="795.5" y="425.4"/>
<use href="#db" x="792.5" y="425.3"/>
<use href="#db" x="800" y="352"/>
<use href="#db" x="802" y="354.3"/>
<use href="#db" x="804" y="356.6"/>
<use href="#db" x="806" y="358.9"/>
<use href="#db" x="808" y="361.2"/>
<use href="#db" x="810" y="363.5"/>
<use href="#db" x="812" y="365.8"/>
<use href="#db" x="814" y="368.1"/>
<use href="#db" x="816" y="370.4"/>
<use href="#db" x="818" y="372.7"/>
<path d="M593.1 108.4C585.4 123.1 562.3 167.2 547 196.6C531.7 225.9 510.7 266.6 501.2 284.5C491.7 302.4 493.6 297.5 490 304C486.4 310.5 482.8 317.9 479.5 323.5C476.2 329.1 473.2 333.2 470 337.5C466.8 341.8 463.2 345.8 460 349C456.8 352.2 453.8 354.4 451 356.5C448.2 358.6 444.7 360.7 443.4 361.5" fill="none" stroke="#000" stroke-width="2.5" stroke-linejoin="round" stroke-linecap="round"/>
<polyline points="695.7,108.4 734.5,184 772.9,259 795,300 808,321 812.5,327 815.2,310 816.6,250 817.4,200 818.2,250 819.8,318 822,338 826,347 834,358 844.8,369.5" fill="none" stroke="#000" stroke-width="2.5" stroke-linejoin="round"/>
<polyline points="443.4,386.5 643.7,194.8 844.8,384.9" fill="none" stroke="#000" stroke-width="2.5" stroke-linejoin="round"/>
<polyline points="443.4,395.8 643.7,207" fill="none" stroke="#000" stroke-width="2.5" stroke-linejoin="round"/>
<path d="M643.7 207C666.4 228.8 754 313.2 780 338C806 362.8 795.7 352 800 356C804.3 360 804.3 360 806 362C807.7 364 808.5 365.7 810 368C811.5 370.3 813.4 373.6 815 376C816.6 378.4 817.2 380.3 819.7 382.5C822.2 384.7 825.8 386.6 830 389C834.2 391.4 842.3 395.6 844.8 396.9" fill="none" stroke="#000" stroke-width="2.5" stroke-linejoin="round" stroke-linecap="round"/>
<path d="M443.4 361.5C444.5 362.2 447.6 364.7 450 366C452.4 367.3 455 368.5 457.7 369.1C460.4 369.7 463.5 370.5 466.4 369.6C469.3 368.8 472.2 366.6 475 364C477.8 361.4 480.5 357.5 483 354C485.5 350.5 488.8 344.8 490 343" fill="none" stroke="#000" stroke-width="2.1" stroke-linejoin="round" stroke-linecap="round"/>
<path d="M443.4 428.5C446.2 428.8 450.6 429.7 460 430C469.4 430.3 443.3 430.3 500 430.4C556.7 430.5 745 430.5 800 430.4C855 430.3 822.5 430.3 830 430C837.5 429.7 842.3 428.8 844.8 428.5" fill="none" stroke="#000" stroke-width="2.4" stroke-linejoin="round" stroke-linecap="round"/>
<polyline points="444.4,397.4 594.9,108.4" fill="none" stroke="#6cc52a" stroke-width="2.3" stroke-linejoin="round" stroke-dasharray="7 5.5"/>
<polyline points="698.8,108.4 845.6,397.5" fill="none" stroke="#6cc52a" stroke-width="2.3" stroke-linejoin="round" stroke-dasharray="7 5.5"/>
<polyline points="443.4,387.5 643.7,195.5 844.8,386" fill="none" stroke="#1c3fe0" stroke-width="2.3" stroke-linejoin="round" stroke-dasharray="7 5.5"/>
<polyline points="443.4,397 643.7,207.5 844.8,398" fill="none" stroke="#1c3fe0" stroke-width="2.3" stroke-linejoin="round" stroke-dasharray="7 5.5"/>
<line x1="527.3" y1="380" x2="569.7" y2="380" stroke="#6cc52a" stroke-width="4" stroke-dasharray="17 5.5"/>
<line x1="527.3" y1="405.7" x2="569.7" y2="405.7" stroke="#1c3fe0" stroke-width="4" stroke-dasharray="17 5.5"/>
<text x="577" y="386.5" class="s" style="font-size:30px">∝<tspan font-style="italic">k</tspan><tspan font-size="18" dy="-11.5">-4</tspan></text>
<text x="577" y="410.7" class="s" style="font-size:30px">∝<tspan font-style="italic">k</tspan><tspan font-size="18" dy="-11.5">-2</tspan></text>
<text x="472.4" y="152.5" class="s" style="font-size:20.7px">Hexapolar</text>
<line x1="540.3" y1="155.7" x2="543.6" y2="177.2" stroke="#000" stroke-width="1.9"/><path d="M545.1 186.5L538.5 173.9L543.6 177.2L547.6 172.5Z" fill="#000"/>
<text x="573.1" y="302.8" class="s" style="font-size:20.7px">Quadri-</text>
<text x="575.2" y="316.6" class="s" style="font-size:20.7px">polars</text>
<text x="660.8" y="310.1" class="s" style="font-size:20.7px">Mono-</text>
<text x="661.7" y="324.6" class="s" style="font-size:20.7px">polar</text>
<line x1="609.1" y1="287.1" x2="639.2" y2="209.8" stroke="#000" stroke-width="1.9"/><path d="M642.6 201L642 215.2L639.2 209.8L633.4 211.9Z" fill="#000"/>
<line x1="687.6" y1="290.3" x2="652.2" y2="222" stroke="#000" stroke-width="1.9"/><path d="M647.8 213.6L658.1 223.5L652.2 222L649.9 227.7Z" fill="#000"/>
<text x="647.3" y="383.6" class="s" style="font-size:20.7px">Dipolars</text>
<line x1="652.4" y1="389" x2="648.2" y2="414.2" stroke="#000" stroke-width="1.9"/><path d="M646.6 423.5L644.3 409.4L648.2 414.2L653.4 410.9Z" fill="#000"/>
<text x="805.2" y="184.6" class="s" style="font-size:24px"><tspan font-weight="bold">k</tspan><tspan font-style="italic" font-size="17" dy="4.8">ac</tspan></text>
<rect x="988.7" y="107.5" width="206.3" height="352.5" fill="none" stroke="#000" stroke-width="2.2"/>
<line x1="1022.4" y1="107.5" x2="1022.4" y2="112.5" stroke="#000" stroke-width="1.6"/>
<line x1="1022.4" y1="460" x2="1022.4" y2="455" stroke="#000" stroke-width="1.6"/>
<line x1="1091.5" y1="107.5" x2="1091.5" y2="112.5" stroke="#000" stroke-width="1.6"/>
<line x1="1091.5" y1="460" x2="1091.5" y2="455" stroke="#000" stroke-width="1.6"/>
<line x1="1160.9" y1="107.5" x2="1160.9" y2="112.5" stroke="#000" stroke-width="1.6"/>
<line x1="1160.9" y1="460" x2="1160.9" y2="455" stroke="#000" stroke-width="1.6"/>
<line x1="988.7" y1="283.7" x2="993.7" y2="283.7" stroke="#000" stroke-width="1.6"/>
<line x1="1195" y1="283.7" x2="1190" y2="283.7" stroke="#000" stroke-width="1.6"/>
<text x="923.7" y="119" class="s" style="font-size:26.5px">0.530</text>
<text x="923.5" y="292" class="s" style="font-size:26.5px">0.507</text>
<text x="923.1" y="469.5" class="s" style="font-size:26.5px">0.484</text>
<text x="998.5" y="487.7" class="s" style="font-size:26.5px">-0.1</text>
<text x="1079.9" y="487.7" class="s" style="font-size:26.5px">0</text>
<text x="1137.5" y="487.7" class="s" style="font-size:26.5px">0.1</text>
<text x="1019.8" y="525.4" class="s" style="font-size:41px" textLength="132" lengthAdjust="spacingAndGlyphs">3|<tspan font-style="italic">k</tspan>|<tspan font-style="italic">a</tspan>/4π</text>
<text transform="translate(912.4 286.2) rotate(-90)" text-anchor="middle" class="s" style="font-size:43px" textLength="195.5" lengthAdjust="spacingAndGlyphs">Re(<tspan font-style="italic">ω</tspan>)<tspan font-style="italic">a</tspan>/2π<tspan font-style="italic">c</tspan></text>
<use href="#dt" x="995.2" y="108.7"/>
<use href="#dt" x="1003.9" y="119.6"/>
<use href="#dt" x="1011.5" y="129.3"/>
<use href="#dt" x="1019.1" y="139.1"/>
<use href="#dt" x="1026.7" y="146.7"/>
<use href="#dt" x="1035.4" y="154.3"/>
<use href="#dt" x="1044" y="161.5"/>
<use href="#dt" x="1052.5" y="167.5"/>
<use href="#dt" x="1061" y="172.5"/>
<use href="#dt" x="1069.5" y="176.5"/>
<use href="#dt" x="1078" y="179.5"/>
<use href="#dt" x="1086" y="181"/>
<use href="#dt" x="1095" y="181"/>
<use href="#dt" x="1104" y="179.5"/>
<use href="#dt" x="1112" y="177"/>
<use href="#dt" x="1120" y="174.5"/>
<use href="#dt" x="1128.5" y="170"/>
<use href="#dt" x="1136.5" y="165"/>
<use href="#dt" x="1144.5" y="159.5"/>
<use href="#dt" x="1152" y="153.5"/>
<use href="#dt" x="1159.3" y="148.9"/>
<use href="#dt" x="1165.9" y="143.5"/>
<use href="#dt" x="1173.5" y="137"/>
<use href="#dt" x="1180" y="131.5"/>
<use href="#dt" x="1187.6" y="125"/>
<use href="#dt" x="1195.2" y="118.5"/>
<use href="#oc" x="1026.7" y="118.5"/>
<use href="#oc" x="1034.3" y="129.3"/>
<use href="#oc" x="1043" y="140.2"/>
<use href="#oc" x="1050.7" y="152.2"/>
<use href="#oc" x="1059.3" y="162"/>
<use href="#oc" x="1067" y="168.5"/>
<use href="#oc" x="1075.7" y="175"/>
<use href="#oc" x="1083.3" y="177.8"/>
<use href="#oc" x="1153.9" y="118.5"/>
<use href="#oc" x="1146.3" y="129.3"/>
<use href="#oc" x="1139.8" y="139.1"/>
<use href="#oc" x="1132.2" y="148.9"/>
<use href="#oc" x="1125.7" y="157.6"/>
<use href="#oc" x="1118" y="165.2"/>
<use href="#oc" x="1110.4" y="170.7"/>
<use href="#oc" x="1103.9" y="175"/>
<use href="#oc" x="1097" y="178"/>
<use href="#dm" x="995.2" y="262"/>
<use href="#dm" x="1003.9" y="266.3"/>
<use href="#dm" x="1011.5" y="270.7"/>
<use href="#dm" x="1020" y="274.6"/>
<use href="#dm" x="1028" y="280.3"/>
<use href="#dm" x="1037.2" y="286"/>
<use href="#dm" x="1045.2" y="291.7"/>
<use href="#dm" x="1053.3" y="298.6"/>
<use href="#dm" x="1061.3" y="305.5"/>
<use href="#dm" x="1069.3" y="312.4"/>
<use href="#dm" x="1076.2" y="318.1"/>
<use href="#dm" x="1083" y="321.5"/>
<use href="#dm" x="1195.2" y="219.6"/>
<use href="#dm" x="1187.6" y="228.3"/>
<use href="#dm" x="1180" y="237"/>
<use href="#dm" x="1173.5" y="245.2"/>
<use href="#dm" x="1165.9" y="254.3"/>
<use href="#dm" x="1159.3" y="262"/>
<use href="#dm" x="1151.7" y="270.7"/>
<use href="#dm" x="1144" y="279.5"/>
<use href="#dm" x="1136.5" y="288.5"/>
<use href="#dm" x="1129" y="297"/>
<use href="#dm" x="1121" y="305"/>
<use href="#dm" x="1113" y="312"/>
<use href="#dm" x="1105" y="318"/>
<use href="#dm" x="1097" y="321.5"/>
<use href="#st" x="993.7" y="331.4"/>
<use href="#st" x="1000" y="330.8"/>
<use href="#st" x="1006.3" y="330.1"/>
<use href="#st" x="1012.6" y="329.5"/>
<use href="#st" x="1018.9" y="328.8"/>
<use href="#st" x="1025.2" y="328.2"/>
<use href="#st" x="1031.5" y="327.5"/>
<use href="#st" x="1037.8" y="326.9"/>
<use href="#st" x="1044.1" y="326.2"/>
<use href="#st" x="1050.4" y="325.6"/>
<use href="#st" x="1056.7" y="324.9"/>
<use href="#st" x="1063" y="324.3"/>
<use href="#st" x="1069.3" y="323.6"/>
<use href="#st" x="1075.6" y="323"/>
<use href="#st" x="1081.9" y="322.3"/>
<use href="#st" x="1088.2" y="321.7"/>
<use href="#st" x="1094.5" y="321.8"/>
<use href="#st" x="1100.8" y="322.1"/>
<use href="#st" x="1107.1" y="322.4"/>
<use href="#st" x="1113.4" y="322.8"/>
<use href="#st" x="1119.7" y="324"/>
<use href="#st" x="1126" y="326.9"/>
<use href="#st" x="1132.3" y="329.7"/>
<use href="#st" x="1138.6" y="332.6"/>
<use href="#st" x="1144.9" y="335.4"/>
<use href="#st" x="1151.2" y="338.3"/>
<use href="#st" x="1157.5" y="343.5"/>
<use href="#st" x="1163.8" y="348.9"/>
<use href="#st" x="1170.1" y="354.3"/>
<use href="#st" x="1176.4" y="359.7"/>
<use href="#st" x="1182.7" y="365.2"/>
<use href="#st" x="1189" y="370.6"/>
<use href="#tr" x="1017" y="455.1"/>
<use href="#tr" x="1023.8" y="444.4"/>
<use href="#tr" x="1030.6" y="434.7"/>
<use href="#tr" x="1037.4" y="425.2"/>
<use href="#tr" x="1044.2" y="416.8"/>
<use href="#tr" x="1051" y="409.3"/>
<use href="#tr" x="1057.8" y="402.9"/>
<use href="#tr" x="1064.6" y="397.8"/>
<use href="#tr" x="1071.4" y="393.9"/>
<use href="#tr" x="1078.2" y="391.1"/>
<use href="#tr" x="1085" y="389.6"/>
<use href="#tr" x="1091.8" y="388.6"/>
<use href="#tr" x="1098.6" y="389.7"/>
<use href="#tr" x="1105.4" y="391.4"/>
<use href="#tr" x="1112.2" y="394.1"/>
<use href="#tr" x="1119" y="397.5"/>
<use href="#tr" x="1125.8" y="402.1"/>
<use href="#tr" x="1132.6" y="407.2"/>
<use href="#tr" x="1139.4" y="412.9"/>
<use href="#tr" x="1146.2" y="420"/>
<use href="#tr" x="1153" y="427.4"/>
<use href="#tr" x="1159.8" y="435.3"/>
<use href="#tr" x="1166.6" y="442.8"/>
<use href="#tr" x="1173.4" y="450.3"/>
<use href="#tr" x="1180.2" y="458"/>
<use href="#tr" x="1042" y="453.9"/>
<use href="#tr" x="1048.5" y="442"/>
<use href="#tr" x="1055" y="431.6"/>
<use href="#tr" x="1061.5" y="422.2"/>
<use href="#tr" x="1068" y="414.5"/>
<use href="#tr" x="1074.5" y="408.9"/>
<use href="#tr" x="1081" y="405.1"/>
<use href="#tr" x="1087.5" y="403.1"/>
<use href="#tr" x="1094" y="402.8"/>
<use href="#tr" x="1100.5" y="404.3"/>
<use href="#tr" x="1107" y="407.9"/>
<use href="#tr" x="1113.5" y="413.2"/>
<use href="#tr" x="1120" y="420.3"/>
<use href="#tr" x="1126.5" y="429.3"/>
<use href="#tr" x="1133" y="441.5"/>
<use href="#tr" x="1139.5" y="455.2"/>
<polyline points="1002.8,107.5 1004.3,109.3 1005.8,111.1 1007.3,112.8 1008.8,114.6 1010.3,116.3 1011.8,118.1 1013.3,119.8 1014.8,121.5 1016.3,123.3 1017.8,125 1019.3,126.7 1020.8,128.4 1022.3,130 1023.8,131.7 1025.3,133.3 1026.8,135 1028.3,136.6 1029.8,138.2 1031.3,139.8 1032.8,141.4 1034.3,143 1035.8,144.5 1037.3,146.1 1038.8,147.6 1040.3,149.1 1041.8,150.6 1043.3,152.1 1044.8,153.5 1046.3,154.9 1047.8,156.3 1049.3,157.7 1050.8,159 1052.3,160.3 1053.8,161.6 1055.3,162.9 1056.8,164.1 1058.3,165.3 1059.8,166.4 1061.3,167.5 1062.8,168.6 1064.3,169.6 1065.8,170.6 1067.3,171.6 1068.8,172.5 1070.3,173.3 1071.8,174.1 1073.3,174.9 1074.8,175.6 1076.3,176.2 1077.8,176.8 1079.3,177.3 1080.8,177.8 1082.3,178.2 1083.8,178.6 1085.3,178.8 1086.8,179.1 1088.3,179.2 1089.8,179.3 1091.3,179.3 1092.8,179.3 1094.3,179.2 1095.8,179.1 1097.3,178.9 1098.8,178.7 1100.3,178.4 1101.8,178.1 1103.3,177.8 1104.8,177.4 1106.3,176.9 1107.8,176.5 1109.3,176 1110.8,175.4 1112.3,174.8 1113.8,174.2 1115.3,173.6 1116.8,172.9 1118.3,172.2 1119.8,171.4 1121.3,170.7 1122.8,169.8 1124.3,169 1125.8,168.2 1127.3,167.3 1128.8,166.4 1130.3,165.4 1131.8,164.5 1133.3,163.5 1134.8,162.5 1136.3,161.5 1137.8,160.5 1139.3,159.4 1140.8,158.4 1142.3,157.3 1143.8,156.2 1145.3,155.1 1146.8,153.9 1148.3,152.8 1149.8,151.6 1151.3,150.5 1152.8,149.3 1154.3,148.1 1155.8,146.9 1157.3,145.7 1158.8,144.5 1160.3,143.3 1161.8,142 1163.3,140.8 1164.8,139.5 1166.3,138.3 1167.8,137 1169.3,135.7 1170.8,134.4 1172.3,133.1 1173.8,131.8 1175.3,130.5 1176.8,129.2 1178.3,127.9 1179.8,126.6 1181.3,125.3 1182.8,123.9 1184.3,122.6 1185.8,121.3 1187.3,119.9 1188.8,118.6 1190.3,117.2 1191.8,115.9 1193.3,114.5 1194.8,113.1 1195,112.9" fill="none" stroke="#000" stroke-width="2.6" stroke-linejoin="round"/>
<polyline points="1024.6,108 1026.1,109.9 1027.6,111.8 1029.1,113.8 1030.6,115.7 1032.1,117.6 1033.6,119.5 1035.1,121.5 1036.6,123.4 1038.1,125.3 1039.6,127.2 1041.1,129.1 1042.6,131 1044.1,132.9 1045.6,134.8 1047.1,136.7 1048.6,138.6 1050.1,140.5 1051.6,142.3 1053.1,144.2 1054.6,146.1 1056.1,147.9 1057.6,149.7 1059.1,151.6 1060.6,153.4 1062.1,155.2 1063.6,156.9 1065.1,158.7 1066.6,160.4 1068.1,162.2 1069.6,163.8 1071.1,165.5 1072.6,167.1 1074.1,168.7 1075.6,170.2 1077.1,171.6 1078.6,173 1080.1,174.3 1081.6,175.5 1083.1,176.5 1084.6,177.5 1086.1,178.2 1087.6,178.8 1089.1,179.1 1090.6,179.3 1092.1,179.2 1093.6,179 1095.1,178.7 1096.6,178.2 1098.1,177.5 1099.6,176.7 1101.1,175.8 1102.6,174.8 1104.1,173.7 1105.6,172.4 1107.1,171.1 1108.6,169.7 1110.1,168.2 1111.6,166.7 1113.1,165.1 1114.6,163.4 1116.1,161.7 1117.6,160 1119.1,158.2 1120.6,156.4 1122.1,154.6 1123.6,152.7 1125.1,150.8 1126.6,148.9 1128.1,146.9 1129.6,144.9 1131.1,143 1132.6,141 1134.1,138.9 1135.6,136.9 1137.1,134.9 1138.6,132.8 1140.1,130.7 1141.6,128.7 1143.1,126.6 1144.6,124.5 1146.1,122.4 1147.6,120.3 1149.1,118.2 1150.6,116 1152.1,113.9 1153.6,111.8 1155.1,109.6 1156.1,108.2" fill="none" stroke="#000" stroke-width="2.6" stroke-linejoin="round"/>
<polyline points="1014.3,460.1 1015.8,457.6 1017.3,455.1 1018.8,452.7 1020.3,450.2 1021.8,447.9 1023.3,445.5 1024.8,443.2 1026.3,441 1027.8,438.7 1029.3,436.6 1030.8,434.4 1032.3,432.3 1033.8,430.3 1035.3,428.2 1036.8,426.3 1038.3,424.3 1039.8,422.5 1041.3,420.6 1042.8,418.8 1044.3,417.1 1045.8,415.4 1047.3,413.7 1048.8,412.1 1050.3,410.6 1051.8,409.1 1053.3,407.6 1054.8,406.2 1056.3,404.9 1057.8,403.6 1059.3,402.3 1060.8,401.1 1062.3,400 1063.8,398.9 1065.3,397.9 1066.8,396.9 1068.3,396 1069.8,395.1 1071.3,394.3 1072.8,393.5 1074.3,392.9 1075.8,392.2 1077.3,391.6 1078.8,391.1 1080.3,390.6 1081.8,390.2 1083.3,389.9 1084.8,389.6 1086.3,389.4 1087.8,389.2 1089.3,389.1 1090.8,389 1092.3,389 1093.8,389.1 1095.3,389.2 1096.8,389.4 1098.3,389.6 1099.8,389.9 1101.3,390.2 1102.8,390.6 1104.3,391 1105.8,391.5 1107.3,392.1 1108.8,392.7 1110.3,393.3 1111.8,394 1113.3,394.7 1114.8,395.5 1116.3,396.4 1117.8,397.2 1119.3,398.2 1120.8,399.1 1122.3,400.1 1123.8,401.2 1125.3,402.3 1126.8,403.4 1128.3,404.5 1129.8,405.7 1131.3,406.9 1132.8,408.2 1134.3,409.5 1135.8,410.8 1137.3,412.1 1138.8,413.5 1140.3,414.9 1141.8,416.3 1143.3,417.7 1144.8,419.2 1146.3,420.7 1147.8,422.2 1149.3,423.7 1150.8,425.3 1152.3,426.9 1153.8,428.4 1155.3,430.1 1156.8,431.7 1158.3,433.3 1159.8,435 1161.3,436.7 1162.8,438.4 1164.3,440.1 1165.8,441.8 1167.3,443.5 1168.8,445.3 1170.3,447 1171.8,448.8 1173.3,450.6 1174.8,452.4 1176.3,454.2 1177.8,456 1179.3,457.8 1180.8,459.6 1181.5,460.5" fill="none" stroke="#000" stroke-width="2.6" stroke-linejoin="round"/>
<polyline points="1039.5,459.6 1041,456.6 1042.5,453.6 1044,450.7 1045.5,447.9 1047,445.2 1048.5,442.5 1050,439.9 1051.5,437.4 1053,434.9 1054.5,432.6 1056,430.3 1057.5,428.1 1059,426 1060.5,423.9 1062,422 1063.5,420.1 1065,418.3 1066.5,416.7 1068,415.1 1069.5,413.6 1071,412.2 1072.5,410.9 1074,409.7 1075.5,408.5 1077,407.5 1078.5,406.6 1080,405.8 1081.5,405.1 1083,404.4 1084.5,403.9 1086,403.5 1087.5,403.2 1089,402.9 1090.5,402.8 1092,402.8 1093.5,402.9 1095,403.1 1096.5,403.4 1098,403.8 1099.5,404.3 1101,404.9 1102.5,405.6 1104,406.4 1105.5,407.3 1107,408.3 1108.5,409.4 1110,410.6 1111.5,411.9 1113,413.3 1114.5,414.9 1116,416.5 1117.5,418.2 1119,420 1120.5,422 1122,424 1123.5,426.1 1125,428.4 1126.5,430.7 1128,433.1 1129.5,435.6 1131,438.3 1132.5,441 1134,443.8 1135.5,446.8 1137,449.8 1138.5,452.9 1140,456.2 1141.4,459.3" fill="none" stroke="#000" stroke-width="2.6" stroke-linejoin="round"/>
<path d="M988.7 269C990.6 269.6 996 271.1 1000 272.5C1004 273.9 1008.2 275.6 1012.5 277.5C1016.8 279.4 1021.2 281.3 1025.8 283.7C1030.4 286.1 1035 288.9 1040 292C1045 295.1 1051.2 299.2 1055.5 302C1059.8 304.8 1062.5 306.7 1066 309C1069.5 311.3 1073.4 314.1 1076.2 315.8C1079 317.6 1080.7 318.4 1083 319.5C1085.3 320.6 1088.8 322.2 1089.9 322.7" fill="none" stroke="#000" stroke-width="2.6" stroke-linejoin="round" stroke-linecap="round"/>
<path d="M1089.9 322.7C1091.2 322.3 1095 321.6 1098 320.5C1101 319.4 1104.9 318 1108.2 315.8C1111.5 313.6 1114.6 310.6 1118 307.5C1121.4 304.4 1125.1 301.2 1128.8 297.5C1132.5 293.8 1135.8 289.6 1140 285C1144.2 280.4 1148.2 276.2 1154 270C1159.8 263.8 1168.2 254.9 1175 248C1181.8 241.1 1191.7 231.6 1195 228.3" fill="none" stroke="#000" stroke-width="2.6" stroke-linejoin="round" stroke-linecap="round"/>
<path d="M988.7 341.4C991.4 341.1 998.8 340.3 1005 339.5C1011.2 338.7 1019.6 337.6 1025.8 336.4C1032 335.1 1036.3 333.5 1042 332C1047.7 330.5 1054.6 328.5 1060.1 327.2C1065.6 325.9 1070 324.8 1075 324C1080 323.2 1085.2 322.8 1089.9 322.7C1094.6 322.6 1098.4 322.9 1103 323.5C1107.6 324.1 1112.1 324.4 1117.4 326.1C1122.7 327.9 1129.3 330.8 1135 334C1140.7 337.2 1146.7 341.5 1151.7 345.5C1156.7 349.5 1160.3 353.5 1165 358C1169.7 362.5 1175 367.3 1180 372.5C1185 377.7 1192.5 386.2 1195 389" fill="none" stroke="#000" stroke-width="2.6" stroke-linejoin="round" stroke-linecap="round"/>
<text x="1025.9" y="224.1" class="s" style="font-size:20.7px">Quadripolars</text>
<line x1="1078.9" y1="206.5" x2="1086.8" y2="189.4" stroke="#000" stroke-width="1.9"/><path d="M1090.7 180.8L1089.2 195L1086.8 189.4L1080.9 191.1Z" fill="#000"/>
<text x="1060.7" y="281.9" class="s" style="font-size:20.7px">Dipolars</text>
<line x1="1095.6" y1="288.3" x2="1092.3" y2="311.6" stroke="#000" stroke-width="1.9"/><path d="M1091 321L1088.3 307L1092.3 311.6L1097.4 308.3Z" fill="#000"/>
<text x="1046.9" y="355.3" class="s" style="font-size:20.7px">Hexapolar</text>
<line x1="1088.7" y1="362.7" x2="1090.7" y2="377.4" stroke="#000" stroke-width="1.9"/><path d="M1092 386.8L1085.6 374L1090.7 377.4L1094.7 372.8Z" fill="#000"/>
<text x="1056.7" y="447.4" class="s" style="font-size:19px" textLength="69.8" lengthAdjust="spacingAndGlyphs">Monopolar</text>
<line x1="1095.6" y1="434.8" x2="1092.6" y2="414.8" stroke="#000" stroke-width="1.9"/><path d="M1091.2 405.5L1097.8 418.2L1092.6 414.8L1088.7 419.5Z" fill="#000"/>
<line x1="1521.1" y1="102" x2="1521.1" y2="457.2" stroke="#222" stroke-width="1.3" stroke-dasharray="4 3"/>
<rect x="1317.5" y="102" width="407.2" height="355.2" fill="none" stroke="#000" stroke-width="2.2"/>
<line x1="1385.4" y1="102" x2="1385.4" y2="107" stroke="#000" stroke-width="1.6"/>
<line x1="1385.4" y1="457.2" x2="1385.4" y2="452.2" stroke="#000" stroke-width="1.6"/>
<line x1="1453.2" y1="102" x2="1453.2" y2="107" stroke="#000" stroke-width="1.6"/>
<line x1="1453.2" y1="457.2" x2="1453.2" y2="452.2" stroke="#000" stroke-width="1.6"/>
<line x1="1589" y1="102" x2="1589" y2="107" stroke="#000" stroke-width="1.6"/>
<line x1="1589" y1="457.2" x2="1589" y2="452.2" stroke="#000" stroke-width="1.6"/>
<line x1="1656.8" y1="102" x2="1656.8" y2="107" stroke="#000" stroke-width="1.6"/>
<line x1="1656.8" y1="457.2" x2="1656.8" y2="452.2" stroke="#000" stroke-width="1.6"/>
<line x1="1317.5" y1="173.2" x2="1322.5" y2="173.2" stroke="#000" stroke-width="1.6"/>
<line x1="1724.7" y1="173.2" x2="1719.7" y2="173.2" stroke="#000" stroke-width="1.6"/>
<line x1="1317.5" y1="315.2" x2="1322.5" y2="315.2" stroke="#000" stroke-width="1.6"/>
<line x1="1724.7" y1="315.2" x2="1719.7" y2="315.2" stroke="#000" stroke-width="1.6"/>
<text x="1272" y="182.6" class="s" style="font-size:26.5px">10</text><text x="1296.8" y="175.4" class="s" style="font-size:18.3px">10</text>
<text x="1272" y="328.3" class="s" style="font-size:26.5px">10</text><text x="1297.7" y="321.1" class="s" style="font-size:18.3px">6</text>
<text x="1272" y="471" class="s" style="font-size:26.5px">10</text><text x="1297.6" y="463.8" class="s" style="font-size:18.3px">2</text>
<text x="1298.6" y="483.8" class="s" style="font-size:26.5px">10</text><text x="1324.4" y="476.6" class="s" style="font-size:18.3px">-1</text>
<text x="1362.7" y="483.8" class="s" style="font-size:26.5px">10</text><text x="1388.5" y="476.6" class="s" style="font-size:18.3px">-2</text>
<text x="1434.4" y="483.8" class="s" style="font-size:26.5px">10</text><text x="1460.2" y="476.6" class="s" style="font-size:18.3px">-3</text>
<text x="1497" y="483.8" class="s" style="font-size:26.5px">10</text><text x="1522.8" y="476.6" class="s" style="font-size:18.3px">-4</text>
<text x="1568.7" y="483.8" class="s" style="font-size:26.5px">10</text><text x="1594.5" y="476.6" class="s" style="font-size:18.3px">-3</text>
<text x="1631.3" y="483.8" class="s" style="font-size:26.5px">10</text><text x="1657.1" y="476.6" class="s" style="font-size:18.3px">-2</text>
<text x="1696.9" y="483.8" class="s" style="font-size:26.5px">10</text><text x="1722.7" y="476.6" class="s" style="font-size:18.3px">-1</text>
<text x="1453.8" y="524.2" class="s" style="font-size:41px" textLength="132" lengthAdjust="spacingAndGlyphs">3|<tspan font-style="italic">k</tspan>|<tspan font-style="italic">a</tspan>/4π</text>
<text transform="translate(1261.9 287.6) rotate(-90)" text-anchor="middle" class="s" style="font-size:42.5px" textLength="228.1" lengthAdjust="spacingAndGlyphs">Quality factor</text>
<use href="#tr" x="1453.1" y="159.5"/>
<use href="#tr" x="1426.1" y="214.6"/>
<use href="#tr" x="1405.7" y="254.5"/>
<use href="#tr" x="1394" y="273.7"/>
<use href="#tr" x="1385" y="289.2"/>
<use href="#tr" x="1378" y="302"/>
<use href="#tr" x="1372" y="313"/>
<use href="#tr" x="1367" y="322"/>
<use href="#tr" x="1362" y="331"/>
<use href="#tr" x="1358" y="338.5"/>
<use href="#tr" x="1354" y="345"/>
<use href="#tr" x="1350" y="352"/>
<use href="#tr" x="1346" y="358"/>
<use href="#tr" x="1342" y="364"/>
<use href="#tr" x="1338" y="370"/>
<use href="#tr" x="1334" y="375"/>
<use href="#tr" x="1330" y="380"/>
<use href="#tr" x="1325" y="385"/>
<use href="#tr" x="1320" y="389"/>
<use href="#tr" x="1587.4" y="143.1"/>
<use href="#tr" x="1615.5" y="201.7"/>
<use href="#tr" x="1635.4" y="245"/>
<use href="#tr" x="1647.2" y="265"/>
<use href="#tr" x="1655.4" y="277.9"/>
<use href="#tr" x="1662.4" y="288.4"/>
<use href="#tr" x="1668" y="298"/>
<use href="#tr" x="1674" y="304"/>
<use href="#tr" x="1680" y="309"/>
<use href="#tr" x="1686" y="312"/>
<use href="#tr" x="1692" y="310"/>
<use href="#tr" x="1697" y="303"/>
<use href="#tr" x="1700" y="294"/>
<use href="#tr" x="1701.5" y="275"/>
<use href="#tr" x="1702" y="255"/>
<use href="#tr" x="1708" y="300"/>
<use href="#tr" x="1712" y="315"/>
<use href="#tr" x="1716" y="330"/>
<use href="#tr" x="1720" y="343"/>
<use href="#tr" x="1724" y="356"/>
<use href="#dt" x="1521.1" y="200.5"/>
<use href="#dt" x="1521.1" y="233.5"/>
<use href="#dt" x="1554.5" y="235.2"/>
<use href="#dt" x="1589.7" y="269.7"/>
<use href="#dt" x="1615.5" y="295.5"/>
<use href="#dt" x="1488" y="232"/>
<use href="#dt" x="1455" y="266"/>
<use href="#dt" x="1430" y="291"/>
<use href="#dt" x="1400" y="321"/>
<use href="#dt" x="1380" y="339"/>
<use href="#dt" x="1365" y="353"/>
<use href="#dt" x="1352" y="362"/>
<use href="#dt" x="1342" y="370"/>
<use href="#dt" x="1334" y="377"/>
<use href="#dt" x="1327" y="384"/>
<use href="#dt" x="1320" y="389"/>
<use href="#sq" x="1553.4" y="268.5"/>
<use href="#sq" x="1491" y="263.9"/>
<use href="#sq" x="1466" y="290"/>
<use href="#sq" x="1443" y="316.3"/>
<use href="#sq" x="1428" y="332.4"/>
<use href="#sq" x="1418" y="342.5"/>
<use href="#sq" x="1410" y="350.6"/>
<use href="#sq" x="1402" y="358.7"/>
<use href="#sq" x="1396" y="364.7"/>
<use href="#sq" x="1390" y="370.8"/>
<use href="#sq" x="1384" y="376.9"/>
<use href="#sq" x="1379" y="381.7"/>
<use href="#sq" x="1374" y="386.3"/>
<use href="#sq" x="1369" y="390.4"/>
<use href="#sq" x="1364" y="394.4"/>
<use href="#sq" x="1359" y="397.8"/>
<use href="#sq" x="1354" y="401.2"/>
<use href="#st" x="1521.1" y="439.8"/>
<use href="#st" x="1521.1" y="439.8"/>
<use href="#st" x="1488.7" y="439.8"/>
<use href="#st" x="1553.5" y="439.8"/>
<use href="#st" x="1453.2" y="439.8"/>
<use href="#st" x="1589" y="439.8"/>
<use href="#st" x="1426.2" y="439.8"/>
<use href="#st" x="1616" y="439.8"/>
<use href="#st" x="1405.8" y="439.8"/>
<use href="#st" x="1636.4" y="439.8"/>
<use href="#st" x="1393.8" y="439.8"/>
<use href="#st" x="1648.4" y="439.8"/>
<use href="#st" x="1385.4" y="439.8"/>
<use href="#st" x="1656.8" y="439.8"/>
<use href="#st" x="1378.8" y="439.8"/>
<use href="#st" x="1663.4" y="439.8"/>
<use href="#st" x="1373.4" y="439.8"/>
<use href="#st" x="1668.8" y="439.8"/>
<use href="#st" x="1368.9" y="439.8"/>
<use href="#st" x="1673.3" y="439.8"/>
<use href="#st" x="1364.9" y="439.8"/>
<use href="#st" x="1677.3" y="439.8"/>
<use href="#st" x="1361.5" y="439.8"/>
<use href="#st" x="1680.7" y="439.8"/>
<use href="#st" x="1358.4" y="439.8"/>
<use href="#st" x="1683.8" y="439.8"/>
<use href="#st" x="1355.5" y="439.8"/>
<use href="#st" x="1686.7" y="439.8"/>
<use href="#st" x="1353" y="439.8"/>
<use href="#st" x="1689.2" y="439.8"/>
<use href="#st" x="1350.6" y="439.8"/>
<use href="#st" x="1691.6" y="439.8"/>
<use href="#st" x="1348.4" y="439.8"/>
<use href="#st" x="1693.8" y="439.8"/>
<use href="#st" x="1346.4" y="439.8"/>
<use href="#st" x="1695.8" y="439.8"/>
<use href="#st" x="1344.5" y="439.8"/>
<use href="#st" x="1697.7" y="439.8"/>
<use href="#st" x="1342.7" y="439.8"/>
<use href="#st" x="1699.5" y="439.8"/>
<use href="#st" x="1341" y="439.8"/>
<use href="#st" x="1701.2" y="439.8"/>
<use href="#st" x="1339.4" y="439.8"/>
<use href="#st" x="1702.8" y="439.8"/>
<use href="#st" x="1337.9" y="439.8"/>
<use href="#st" x="1704.3" y="439.8"/>
<use href="#st" x="1336.5" y="439.8"/>
<use href="#st" x="1705.7" y="439.8"/>
<use href="#st" x="1335.1" y="439.8"/>
<use href="#st" x="1707.1" y="439.8"/>
<use href="#st" x="1333.8" y="439.8"/>
<use href="#st" x="1708.4" y="439.8"/>
<use href="#st" x="1332.5" y="439.8"/>
<use href="#st" x="1709.7" y="439.8"/>
<use href="#st" x="1331.3" y="439.8"/>
<use href="#st" x="1710.9" y="439.8"/>
<use href="#st" x="1330.2" y="439.8"/>
<use href="#st" x="1712" y="439.8"/>
<use href="#st" x="1329.1" y="439.8"/>
<use href="#st" x="1713.1" y="439.8"/>
<use href="#st" x="1328" y="439.8"/>
<use href="#st" x="1714.2" y="439.8"/>
<use href="#st" x="1327" y="439.8"/>
<use href="#st" x="1715.2" y="439.8"/>
<use href="#st" x="1326" y="439.8"/>
<use href="#st" x="1716.2" y="439.8"/>
<use href="#st" x="1325" y="439.8"/>
<use href="#st" x="1717.2" y="439.8"/>
<use href="#st" x="1324.1" y="439.8"/>
<use href="#st" x="1718.1" y="439.8"/>
<use href="#st" x="1323.2" y="439.8"/>
<use href="#st" x="1719" y="439.8"/>
<use href="#st" x="1322.3" y="439.8"/>
<use href="#st" x="1719.9" y="439.8"/>
<use href="#st" x="1321.4" y="439.8"/>
<use href="#st" x="1720.8" y="439.8"/>
<use href="#st" x="1320.6" y="439.8"/>
<use href="#st" x="1721.6" y="439.8"/>
<use href="#st" x="1319.8" y="439.8"/>
<use href="#st" x="1722.4" y="439.8"/>
<use href="#st" x="1319" y="439.8"/>
<use href="#st" x="1723.2" y="439.8"/>
<use href="#st" x="1318.2" y="439.8"/>
<use href="#st" x="1724" y="439.8"/>
<use href="#st" x="1317.5" y="439.8"/>
<use href="#st" x="1724.7" y="439.8"/>
<use href="#st" x="1320" y="425"/>
<use href="#st" x="1323" y="428"/>
<use href="#st" x="1326" y="431"/>
<use href="#st" x="1330" y="434"/>
<use href="#st" x="1320" y="442"/>
<use href="#st" x="1324" y="443"/>
<use href="#st" x="1720" y="427"/>
<use href="#st" x="1716" y="430"/>
<use href="#st" x="1712" y="432"/>
<use href="#st" x="1708" y="434"/>
<use href="#st" x="1704" y="436"/>
<use href="#st" x="1720" y="441"/>
<use href="#st" x="1715" y="442"/>
<use href="#dt" x="1322" y="391.3"/>
<use href="#dt" x="1326.2" y="388.2"/>
<use href="#dt" x="1330.4" y="385.2"/>
<use href="#dt" x="1334.6" y="381.7"/>
<use href="#dt" x="1338.8" y="378"/>
<use href="#dt" x="1343" y="374.4"/>
<use href="#dt" x="1347.2" y="370.7"/>
<use href="#dt" x="1351.4" y="367"/>
<use href="#dt" x="1355.6" y="363.2"/>
<use href="#dt" x="1359.8" y="359.1"/>
<use href="#dt" x="1364" y="355.1"/>
<use href="#dt" x="1368.2" y="351"/>
<use href="#dt" x="1372.4" y="347"/>
<use href="#dt" x="1376.6" y="342.9"/>
<use href="#dt" x="1380.8" y="338.8"/>
<use href="#dt" x="1385" y="334.8"/>
<use href="#dt" x="1389.2" y="330.7"/>
<use href="#dt" x="1393.4" y="326.7"/>
<use href="#dt" x="1397.6" y="322.6"/>
<use href="#dt" x="1401.8" y="318.7"/>
<use href="#dt" x="1406" y="314.7"/>
<use href="#dt" x="1410.2" y="310.8"/>
<use href="#dt" x="1414.4" y="306.8"/>
<use href="#dt" x="1418.6" y="302.9"/>
<use href="#dt" x="1422.8" y="298.9"/>
<use href="#dt" x="1427" y="295"/>
<use href="#dt" x="1431.2" y="291"/>
<use href="#dt" x="1435.4" y="287.1"/>
<use href="#dt" x="1439.6" y="283.1"/>
<use href="#dt" x="1443.8" y="279.2"/>
<use href="#dt" x="1448" y="275.2"/>
<use href="#dt" x="1452.2" y="271.1"/>
<use href="#dt" x="1456.4" y="266.8"/>
<use href="#dt" x="1460.6" y="262.6"/>
<use href="#dt" x="1464.8" y="258.4"/>
<use href="#dt" x="1469" y="254.2"/>
<use href="#dt" x="1473.2" y="249.9"/>
<use href="#dt" x="1477.4" y="245.7"/>
<use href="#dt" x="1481.6" y="241.5"/>
<use href="#dt" x="1485.8" y="237.2"/>
<use href="#dt" x="1490" y="233"/>
<use href="#dt" x="1494.2" y="228.8"/>
<use href="#dt" x="1498.4" y="224.6"/>
<use href="#dt" x="1502.6" y="220.3"/>
<use href="#dt" x="1506.8" y="216.1"/>
<use href="#dt" x="1322" y="415.2"/>
<use href="#dt" x="1326.6" y="413.5"/>
<use href="#dt" x="1331.2" y="411.8"/>
<use href="#dt" x="1335.8" y="409.9"/>
<use href="#dt" x="1340.4" y="408"/>
<use href="#dt" x="1345" y="405.8"/>
<use href="#dt" x="1349.6" y="403.4"/>
<use href="#dt" x="1354.2" y="400.8"/>
<use href="#dt" x="1358.8" y="397.7"/>
<use href="#dt" x="1363.4" y="394.6"/>
<use href="#dt" x="1368" y="391"/>
<use href="#dt" x="1372.6" y="387.3"/>
<use href="#dt" x="1377.2" y="383.2"/>
<use href="#dt" x="1381.8" y="378.8"/>
<use href="#dt" x="1386.4" y="374.4"/>
<use href="#dt" x="1391" y="369.6"/>
<use href="#dt" x="1395.6" y="364.9"/>
<use href="#dt" x="1400.2" y="360.3"/>
<use href="#dt" x="1404.8" y="355.7"/>
<use href="#dt" x="1409.4" y="351"/>
<use href="#dt" x="1414" y="346.4"/>
<use href="#dt" x="1418.6" y="341.7"/>
<use href="#dt" x="1423.2" y="337.1"/>
<use href="#dt" x="1427.8" y="332.4"/>
<use href="#dt" x="1432.4" y="327.4"/>
<use href="#dt" x="1437" y="322.5"/>
<use href="#dt" x="1441.6" y="317.6"/>
<use href="#dt" x="1446.2" y="312.6"/>
<use href="#dt" x="1450.8" y="307.7"/>
<use href="#dt" x="1455.4" y="302.5"/>
<use href="#dt" x="1460" y="297"/>
<use href="#dt" x="1464.6" y="291.5"/>
<use href="#dt" x="1469.2" y="286"/>
<use href="#dt" x="1473.8" y="280.5"/>
<use href="#dt" x="1478.4" y="275.7"/>
<use href="#dt" x="1483" y="271.3"/>
<use href="#dt" x="1487.6" y="266.9"/>
<use href="#dt" x="1492.2" y="262.5"/>
<use href="#dt" x="1496.8" y="258.1"/>
<use href="#dt" x="1501.4" y="253.7"/>
<use href="#dt" x="1506" y="249.3"/>
<use href="#dt" x="1545" y="226.8"/>
<use href="#dt" x="1554" y="236"/>
<use href="#dt" x="1563" y="245.2"/>
<use href="#dt" x="1572" y="254.4"/>
<use href="#dt" x="1581" y="263.7"/>
<use href="#dt" x="1590" y="272.9"/>
<use href="#dt" x="1599" y="282.1"/>
<use href="#dt" x="1608" y="291.2"/>
<use href="#dt" x="1617" y="300.3"/>
<use href="#dt" x="1626" y="309.5"/>
<use href="#tr" x="1545" y="257.5"/>
<use href="#tr" x="1554" y="266"/>
<use href="#tr" x="1563" y="274.5"/>
<use href="#tr" x="1572" y="283.1"/>
<use href="#tr" x="1581" y="291.6"/>
<use href="#tr" x="1590" y="301.1"/>
<use href="#tr" x="1599" y="311.4"/>
<use href="#tr" x="1608" y="321.7"/>
<use href="#tr" x="1617" y="332"/>
<use href="#tr" x="1626" y="342.2"/>
<use href="#tr" x="1635" y="352.1"/>
<use href="#tr" x="1644" y="361.7"/>
<use href="#tr" x="1653" y="371.2"/>
<use href="#tr" x="1662" y="380.8"/>
<use href="#tr" x="1662" y="380.5"/>
<use href="#tr" x="1665.5" y="383.3"/>
<use href="#tr" x="1669" y="386"/>
<use href="#tr" x="1672.5" y="388.8"/>
<use href="#tr" x="1676" y="391.5"/>
<use href="#tr" x="1679.5" y="394.3"/>
<use href="#tr" x="1683" y="397"/>
<use href="#tr" x="1686.5" y="399.8"/>
<use href="#tr" x="1690" y="402.5"/>
<use href="#tr" x="1693.5" y="404.4"/>
<use href="#tr" x="1697" y="406.4"/>
<use href="#tr" x="1700.5" y="408.3"/>
<use href="#tr" x="1704" y="410.2"/>
<use href="#tr" x="1707.5" y="412.1"/>
<use href="#tr" x="1711" y="413.8"/>
<use href="#tr" x="1714.5" y="414.8"/>
<use href="#tr" x="1718" y="415.7"/>
<use href="#tr" x="1721.5" y="416.7"/>
<use href="#tr" x="1662" y="287"/>
<use href="#tr" x="1664.6" y="291.2"/>
<use href="#tr" x="1667.2" y="295.3"/>
<use href="#tr" x="1669.8" y="299.5"/>
<use href="#tr" x="1672.4" y="303.4"/>
<use href="#tr" x="1675" y="305.8"/>
<use href="#tr" x="1677.6" y="308.2"/>
<use href="#tr" x="1680.2" y="310.6"/>
<use href="#tr" x="1682.8" y="311.5"/>
<use href="#tr" x="1685.4" y="312.4"/>
<use href="#tr" x="1688" y="312.4"/>
<use href="#tr" x="1690.6" y="310.7"/>
<use href="#tr" x="1693.2" y="308.5"/>
<use href="#tr" x="1695.8" y="302.2"/>
<use href="#tr" x="1698.4" y="290.5"/>
<use href="#tr" x="1701" y="246.1"/>
<use href="#tr" x="1704" y="211.8"/>
<use href="#tr" x="1706.2" y="280.4"/>
<use href="#tr" x="1708.4" y="300.6"/>
<use href="#tr" x="1710.6" y="311.8"/>
<use href="#tr" x="1712.8" y="321.9"/>
<use href="#tr" x="1715" y="330"/>
<use href="#tr" x="1717.2" y="338.1"/>
<use href="#tr" x="1719.4" y="345.3"/>
<use href="#tr" x="1721.6" y="352"/>
<use href="#tr" x="1723.8" y="358.7"/>
<use href="#db" x="1318" y="392"/>
<use href="#db" x="1320.2" y="392.6"/>
<use href="#db" x="1322.4" y="393.2"/>
<use href="#db" x="1324.6" y="393.8"/>
<use href="#db" x="1326.8" y="394.4"/>
<use href="#db" x="1329" y="395"/>
<use href="#db" x="1331.2" y="395.6"/>
<use href="#db" x="1333.4" y="396.2"/>
<use href="#db" x="1335.6" y="396.8"/>
<use href="#db" x="1337.8" y="397.4"/>
<use href="#db" x="1318" y="438.2"/>
<use href="#db" x="1321" y="438.8"/>
<use href="#db" x="1324" y="438.2"/>
<use href="#db" x="1327" y="438.8"/>
<use href="#db" x="1330" y="438.2"/>
<use href="#db" x="1333" y="438.8"/>
<use href="#db" x="1336" y="438.2"/>
<use href="#db" x="1339" y="438.8"/>
<use href="#db" x="1342" y="438.2"/>
<use href="#db" x="1345" y="438.8"/>
<use href="#db" x="1348" y="438.2"/>
<use href="#db" x="1351" y="438.8"/>
<use href="#db" x="1354" y="438.2"/>
<use href="#db" x="1357" y="438.8"/>
<use href="#db" x="1360" y="438.2"/>
<use href="#db" x="1363" y="438.8"/>
<use href="#db" x="1366" y="438.2"/>
<use href="#db" x="1369" y="438.8"/>
<use href="#db" x="1372" y="438.2"/>
<use href="#db" x="1375" y="438.8"/>
<use href="#db" x="1378" y="438.2"/>
<use href="#db" x="1381" y="438.8"/>
<use href="#db" x="1318" y="428"/>
<use href="#db" x="1320.5" y="428.9"/>
<use href="#db" x="1323" y="429.8"/>
<use href="#db" x="1325.5" y="430.7"/>
<use href="#db" x="1328" y="431.6"/>
<use href="#db" x="1330.5" y="432.5"/>
<use href="#db" x="1333" y="433.4"/>
<use href="#db" x="1335.5" y="434.3"/>
<use href="#db" x="1636" y="315.9"/>
<use href="#db" x="1648" y="328.9"/>
<use href="#db" x="1656.7" y="337.6"/>
<use href="#db" x="1663.3" y="344"/>
<use href="#db" x="1668.7" y="349.6"/>
<use href="#db" x="1673" y="353.9"/>
<use href="#db" x="1677.4" y="359.3"/>
<use href="#db" x="1683.9" y="367"/>
<use href="#db" x="1690.4" y="373.5"/>
<use href="#db" x="1696.9" y="380"/>
<use href="#db" x="1705.6" y="386.5"/>
<use href="#db" x="1714.3" y="390.9"/>
<use href="#db" x="1724.1" y="394.1"/>
<use href="#db" x="1680" y="362.4"/>
<use href="#db" x="1682.2" y="365"/>
<use href="#db" x="1684.4" y="367.5"/>
<use href="#db" x="1686.6" y="369.7"/>
<use href="#db" x="1688.8" y="371.9"/>
<use href="#db" x="1691" y="374.1"/>
<use href="#db" x="1693.2" y="376.3"/>
<use href="#db" x="1695.4" y="378.5"/>
<use href="#db" x="1697.6" y="380.5"/>
<use href="#db" x="1699.8" y="382.2"/>
<use href="#db" x="1702" y="383.8"/>
<use href="#db" x="1704.2" y="385.5"/>
<use href="#db" x="1706.4" y="386.9"/>
<use href="#db" x="1708.6" y="388"/>
<use href="#db" x="1710.8" y="389.1"/>
<use href="#db" x="1713" y="390.2"/>
<use href="#db" x="1715.2" y="391.2"/>
<use href="#db" x="1717.4" y="391.9"/>
<use href="#db" x="1719.6" y="392.6"/>
<use href="#db" x="1721.8" y="393.3"/>
<use href="#db" x="1724" y="394.1"/>
<use href="#db" x="1700" y="397.4"/>
<use href="#db" x="1702.4" y="397.7"/>
<use href="#db" x="1704.8" y="398.1"/>
<use href="#db" x="1707.2" y="398.4"/>
<use href="#db" x="1709.6" y="398.7"/>
<use href="#db" x="1712" y="399"/>
<use href="#db" x="1714.4" y="399.4"/>
<use href="#db" x="1716.8" y="399.7"/>
<use href="#db" x="1719.2" y="400"/>
<use href="#db" x="1721.6" y="400.4"/>
<use href="#db" x="1640" y="437.5"/>
<use href="#db" x="1643.5" y="437.4"/>
<use href="#db" x="1647" y="437.2"/>
<use href="#db" x="1650.5" y="437.1"/>
<use href="#db" x="1654" y="436.9"/>
<use href="#db" x="1657.5" y="436.8"/>
<use href="#db" x="1661" y="436.6"/>
<use href="#db" x="1664.5" y="436.4"/>
<use href="#db" x="1668" y="436.3"/>
<use href="#db" x="1671.5" y="436.1"/>
<use href="#db" x="1675" y="436"/>
<use href="#db" x="1678.5" y="435.9"/>
<use href="#db" x="1682" y="435.7"/>
<use href="#db" x="1685.5" y="435.6"/>
<use href="#db" x="1689" y="435.4"/>
<use href="#db" x="1692.5" y="435.2"/>
<use href="#db" x="1696" y="435.1"/>
<use href="#db" x="1699.5" y="434.9"/>
<use href="#db" x="1703" y="434.8"/>
<use href="#db" x="1706.5" y="434.6"/>
<use href="#db" x="1710" y="434.5"/>
<use href="#db" x="1713.5" y="434.4"/>
<use href="#db" x="1717" y="434.2"/>
<use href="#db" x="1720.5" y="434.1"/>
<use href="#db" x="1700" y="428"/>
<use href="#db" x="1702.5" y="427.6"/>
<use href="#db" x="1705" y="427.2"/>
<use href="#db" x="1707.5" y="426.8"/>
<use href="#db" x="1710" y="426.4"/>
<use href="#db" x="1712.5" y="426"/>
<use href="#db" x="1715" y="425.6"/>
<use href="#db" x="1717.5" y="425.2"/>
<use href="#db" x="1720" y="424.8"/>
<use href="#db" x="1722.5" y="424.4"/>
<polyline points="1475,102 1317.5,432.2" fill="none" stroke="#6cc52a" stroke-width="2.3" stroke-linejoin="round" stroke-dasharray="8 4.5"/>
<polyline points="1572.1,102 1657.8,280 1724.1,419" fill="none" stroke="#6cc52a" stroke-width="2.3" stroke-linejoin="round" stroke-dasharray="8 4.5"/>
<polyline points="1317.5,410.4 1521.1,201.5 1718.7,408.3" fill="none" stroke="#1c3fe0" stroke-width="2.5" stroke-linejoin="round" stroke-dasharray="8 4.5"/>
<polyline points="1317.5,446.3 1521.1,233 1718.7,440.9" fill="none" stroke="#1c3fe0" stroke-width="2.5" stroke-linejoin="round" stroke-dasharray="8 4.5"/>
<path d="M1469.5 102C1461.7 117.2 1435 168.8 1422.6 193.5C1410.2 218.2 1401.6 235.9 1395 250C1388.4 264.1 1386.5 269.3 1383 278C1379.5 286.7 1377.1 294.4 1374 302C1370.9 309.6 1367.7 316.7 1364.3 323.5C1360.9 330.3 1357.1 336.5 1353.5 343C1349.9 349.5 1346.2 356.4 1342.6 362.6C1339 368.8 1335.9 374.4 1331.7 380C1327.5 385.6 1319.9 393.6 1317.5 396.3" fill="none" stroke="#000" stroke-width="2.5" stroke-linejoin="round" stroke-linecap="round"/>
<path d="M1572.1 102C1579.6 117 1604 165.3 1617 192C1630 218.7 1642.5 246.7 1650 262C1657.5 277.3 1658.3 277.7 1662 284C1665.7 290.3 1669 296.1 1672 300C1675 303.9 1677.5 305.8 1680 307.5C1682.5 309.2 1685 310.2 1687.2 310C1689.4 309.8 1691.3 308.5 1693 306C1694.7 303.5 1696.2 301 1697.5 295C1698.8 289 1699.8 285.8 1700.5 270C1701.2 254.2 1701.5 228 1701.8 200C1702.1 172 1702.2 118.3 1702.3 102" fill="none" stroke="#000" stroke-width="2.5" stroke-linejoin="round" stroke-linecap="round"/>
<path d="M1703.3 102C1703.4 118.3 1703.5 172.8 1703.8 200C1704.1 227.2 1704.4 249.2 1705 265C1705.6 280.8 1706.3 286.2 1707.5 295C1708.7 303.8 1710.2 310.5 1712 318C1713.8 325.5 1715.9 332.9 1718 340C1720.1 347.1 1723.6 357 1724.7 360.4" fill="none" stroke="#000" stroke-width="2.5" stroke-linejoin="round" stroke-linecap="round"/>
<path d="M1521.1 204.5C1509.1 216.6 1469.8 256.8 1449.1 277C1428.4 297.2 1412.9 310.8 1397 326C1381.1 341.2 1364.4 357.8 1353.5 368C1342.6 378.2 1337.7 382.1 1331.7 387C1325.7 391.9 1319.9 395.7 1317.5 397.4" fill="none" stroke="#000" stroke-width="2.5" stroke-linejoin="round" stroke-linecap="round"/>
<path d="M1521.1 204.5C1533.4 217.1 1573.3 258.1 1594.8 280C1616.3 301.9 1634.1 320.2 1650 336C1665.9 351.8 1677.5 363.5 1690 375C1702.5 386.5 1718.9 400 1724.7 405" fill="none" stroke="#000" stroke-width="2.5" stroke-linejoin="round" stroke-linecap="round"/>
<path d="M1521.1 236C1513.4 243.3 1486.5 268.3 1475.2 280C1463.9 291.7 1461.5 297 1453.5 306C1445.5 315 1435.4 325.7 1427.4 334C1419.4 342.3 1411.3 350.3 1405.7 356C1400.1 361.7 1397.2 364.5 1393.7 368C1390.2 371.5 1388.1 373.9 1385 377C1381.9 380.1 1378.5 383.5 1375 386.5C1371.5 389.5 1367.9 392.5 1364.3 395.2C1360.7 397.9 1357.1 400.3 1353.5 402.5C1349.9 404.7 1346.5 406.5 1342.6 408.3C1338.7 410.1 1334.2 411.9 1330 413.5C1325.8 415.1 1319.6 417.2 1317.5 418" fill="none" stroke="#000" stroke-width="2.5" stroke-linejoin="round" stroke-linecap="round"/>
<path d="M1521.1 236C1531.8 246.1 1566.8 277.9 1585 296.6C1603.2 315.3 1617.1 333.7 1630 348C1642.9 362.3 1652.2 372.9 1662.2 382.2C1672.2 391.5 1682 398.5 1690 404C1698 409.5 1704.2 412.5 1710 415C1715.8 417.5 1722.2 418.4 1724.7 419.1" fill="none" stroke="#000" stroke-width="2.5" stroke-linejoin="round" stroke-linecap="round"/>
<path d="M1317.5 421.3C1319.6 422.2 1325.4 424.9 1330 426.5C1334.6 428.1 1340 429.8 1345 431C1350 432.2 1355 433.2 1360 433.8C1365 434.4 1368.5 434.5 1375.2 434.8C1381.9 435.1 1395.9 435.3 1400 435.4" fill="none" stroke="#000" stroke-width="2.5" stroke-linejoin="round" stroke-linecap="round"/>
<path d="M1650 435.4C1655 434.8 1670.8 433.2 1680 432C1689.2 430.8 1697.5 429.2 1705 428C1712.5 426.8 1721.4 425.2 1724.7 424.6" fill="none" stroke="#000" stroke-width="2.5" stroke-linejoin="round" stroke-linecap="round"/>
<polyline points="1317.5,435.4 1724.7,435.4" fill="none" stroke="#000" stroke-width="2.5" stroke-linejoin="round"/>
<text x="1354" y="158.9" class="s" style="font-size:20.7px">Hexapolar</text>
<line x1="1416.7" y1="163" x2="1419.1" y2="183.6" stroke="#000" stroke-width="1.9"/><path d="M1420.2 193L1414.1 180.1L1419.1 183.6L1423.2 179.1Z" fill="#000"/>
<text x="1457.2" y="333.9" class="s" style="font-size:20.7px">Mono-</text>
<text x="1457.5" y="346.2" class="s" style="font-size:20.7px">polar</text>
<line x1="1480.7" y1="314.8" x2="1513.4" y2="247" stroke="#000" stroke-width="1.9"/><path d="M1517.5 238.5L1515.8 252.7L1513.4 247L1507.5 248.7Z" fill="#000"/>
<text x="1527.7" y="318.6" class="s" style="font-size:20.7px">Quadri-</text>
<text x="1528.2" y="331" class="s" style="font-size:20.7px">polars</text>
<line x1="1557.8" y1="298.5" x2="1528.4" y2="217.4" stroke="#000" stroke-width="1.9"/><path d="M1525.2 208.5L1534.1 219.6L1528.4 217.4L1525.5 222.8Z" fill="#000"/>
<text x="1449.6" y="395.8" class="s" style="font-size:20.7px">Dipolars</text>
<line x1="1513.3" y1="400.7" x2="1517.8" y2="421.8" stroke="#000" stroke-width="1.9"/><path d="M1519.8 431L1512.5 418.8L1517.8 421.8L1521.5 416.8Z" fill="#000"/>
<rect x="90.2" y="610" width="178.5" height="177.5" fill="none" stroke="#000" stroke-width="2.2"/>
<line x1="104.9" y1="610" x2="104.9" y2="606.5" stroke="#000" stroke-width="1.6"/>
<line x1="104.9" y1="787.5" x2="104.9" y2="791" stroke="#000" stroke-width="1.6"/>
<line x1="90.2" y1="624.1" x2="86.7" y2="624.1" stroke="#000" stroke-width="1.6"/>
<line x1="268.7" y1="624.1" x2="272.2" y2="624.1" stroke="#000" stroke-width="1.6"/>
<line x1="179.6" y1="610" x2="179.6" y2="606.5" stroke="#000" stroke-width="1.6"/>
<line x1="179.6" y1="787.5" x2="179.6" y2="791" stroke="#000" stroke-width="1.6"/>
<line x1="90.2" y1="698.8" x2="86.7" y2="698.8" stroke="#000" stroke-width="1.6"/>
<line x1="268.7" y1="698.8" x2="272.2" y2="698.8" stroke="#000" stroke-width="1.6"/>
<line x1="254.3" y1="610" x2="254.3" y2="606.5" stroke="#000" stroke-width="1.6"/>
<line x1="254.3" y1="787.5" x2="254.3" y2="791" stroke="#000" stroke-width="1.6"/>
<line x1="90.2" y1="773.5" x2="86.7" y2="773.5" stroke="#000" stroke-width="1.6"/>
<line x1="268.7" y1="773.5" x2="272.2" y2="773.5" stroke="#000" stroke-width="1.6"/>
<rect x="285.9" y="611.3" width="176.8" height="177" fill="none" stroke="#000" stroke-width="2.2"/>
<line x1="299.8" y1="611.3" x2="299.8" y2="607.8" stroke="#000" stroke-width="1.6"/>
<line x1="299.8" y1="788.3" x2="299.8" y2="791.8" stroke="#000" stroke-width="1.6"/>
<line x1="285.9" y1="625.8" x2="282.4" y2="625.8" stroke="#000" stroke-width="1.6"/>
<line x1="462.7" y1="625.8" x2="466.2" y2="625.8" stroke="#000" stroke-width="1.6"/>
<line x1="374.1" y1="611.3" x2="374.1" y2="607.8" stroke="#000" stroke-width="1.6"/>
<line x1="374.1" y1="788.3" x2="374.1" y2="791.8" stroke="#000" stroke-width="1.6"/>
<line x1="285.9" y1="700.1" x2="282.4" y2="700.1" stroke="#000" stroke-width="1.6"/>
<line x1="462.7" y1="700.1" x2="466.2" y2="700.1" stroke="#000" stroke-width="1.6"/>
<line x1="448.4" y1="611.3" x2="448.4" y2="607.8" stroke="#000" stroke-width="1.6"/>
<line x1="448.4" y1="788.3" x2="448.4" y2="791.8" stroke="#000" stroke-width="1.6"/>
<line x1="285.9" y1="774.4" x2="282.4" y2="774.4" stroke="#000" stroke-width="1.6"/>
<line x1="462.7" y1="774.4" x2="466.2" y2="774.4" stroke="#000" stroke-width="1.6"/>
<rect x="479.2" y="609.8" width="178.5" height="178.3" fill="none" stroke="#000" stroke-width="2.2"/>
<line x1="494" y1="609.8" x2="494" y2="606.3" stroke="#000" stroke-width="1.6"/>
<line x1="494" y1="788.1" x2="494" y2="791.6" stroke="#000" stroke-width="1.6"/>
<line x1="479.2" y1="624.5" x2="475.7" y2="624.5" stroke="#000" stroke-width="1.6"/>
<line x1="657.7" y1="624.5" x2="661.2" y2="624.5" stroke="#000" stroke-width="1.6"/>
<line x1="568.4" y1="609.8" x2="568.4" y2="606.3" stroke="#000" stroke-width="1.6"/>
<line x1="568.4" y1="788.1" x2="568.4" y2="791.6" stroke="#000" stroke-width="1.6"/>
<line x1="479.2" y1="698.9" x2="475.7" y2="698.9" stroke="#000" stroke-width="1.6"/>
<line x1="657.7" y1="698.9" x2="661.2" y2="698.9" stroke="#000" stroke-width="1.6"/>
<line x1="642.8" y1="609.8" x2="642.8" y2="606.3" stroke="#000" stroke-width="1.6"/>
<line x1="642.8" y1="788.1" x2="642.8" y2="791.6" stroke="#000" stroke-width="1.6"/>
<line x1="479.2" y1="773.3" x2="475.7" y2="773.3" stroke="#000" stroke-width="1.6"/>
<line x1="657.7" y1="773.3" x2="661.2" y2="773.3" stroke="#000" stroke-width="1.6"/>
<rect x="671" y="609.8" width="178.5" height="177.7" fill="none" stroke="#000" stroke-width="2.2"/>
<line x1="685.8" y1="609.8" x2="685.8" y2="606.3" stroke="#000" stroke-width="1.6"/>
<line x1="685.8" y1="787.5" x2="685.8" y2="791" stroke="#000" stroke-width="1.6"/>
<line x1="671" y1="624.5" x2="667.5" y2="624.5" stroke="#000" stroke-width="1.6"/>
<line x1="849.5" y1="624.5" x2="853" y2="624.5" stroke="#000" stroke-width="1.6"/>
<line x1="760.2" y1="609.8" x2="760.2" y2="606.3" stroke="#000" stroke-width="1.6"/>
<line x1="760.2" y1="787.5" x2="760.2" y2="791" stroke="#000" stroke-width="1.6"/>
<line x1="671" y1="698.9" x2="667.5" y2="698.9" stroke="#000" stroke-width="1.6"/>
<line x1="849.5" y1="698.9" x2="853" y2="698.9" stroke="#000" stroke-width="1.6"/>
<line x1="834.6" y1="609.8" x2="834.6" y2="606.3" stroke="#000" stroke-width="1.6"/>
<line x1="834.6" y1="787.5" x2="834.6" y2="791" stroke="#000" stroke-width="1.6"/>
<line x1="671" y1="773.3" x2="667.5" y2="773.3" stroke="#000" stroke-width="1.6"/>
<line x1="849.5" y1="773.3" x2="853" y2="773.3" stroke="#000" stroke-width="1.6"/>
<rect x="986.7" y="608.8" width="176.1" height="174.8" fill="none" stroke="#000" stroke-width="2.2"/>
<line x1="1020.6" y1="608.8" x2="1020.6" y2="605.3" stroke="#000" stroke-width="1.6"/>
<line x1="1020.6" y1="783.6" x2="1020.6" y2="787.1" stroke="#000" stroke-width="1.6"/>
<line x1="986.7" y1="640.9" x2="983.2" y2="640.9" stroke="#000" stroke-width="1.6"/>
<line x1="1162.8" y1="640.9" x2="1166.3" y2="640.9" stroke="#000" stroke-width="1.6"/>
<line x1="1075.6" y1="608.8" x2="1075.6" y2="605.3" stroke="#000" stroke-width="1.6"/>
<line x1="1075.6" y1="783.6" x2="1075.6" y2="787.1" stroke="#000" stroke-width="1.6"/>
<line x1="986.7" y1="695.9" x2="983.2" y2="695.9" stroke="#000" stroke-width="1.6"/>
<line x1="1162.8" y1="695.9" x2="1166.3" y2="695.9" stroke="#000" stroke-width="1.6"/>
<line x1="1130.6" y1="608.8" x2="1130.6" y2="605.3" stroke="#000" stroke-width="1.6"/>
<line x1="1130.6" y1="783.6" x2="1130.6" y2="787.1" stroke="#000" stroke-width="1.6"/>
<line x1="986.7" y1="750.9" x2="983.2" y2="750.9" stroke="#000" stroke-width="1.6"/>
<line x1="1162.8" y1="750.9" x2="1166.3" y2="750.9" stroke="#000" stroke-width="1.6"/>
<rect x="1177.8" y="608.3" width="177.2" height="176" fill="none" stroke="#000" stroke-width="2.2"/>
<line x1="1211.5" y1="608.3" x2="1211.5" y2="604.8" stroke="#000" stroke-width="1.6"/>
<line x1="1211.5" y1="784.3" x2="1211.5" y2="787.8" stroke="#000" stroke-width="1.6"/>
<line x1="1177.8" y1="641.1" x2="1174.3" y2="641.1" stroke="#000" stroke-width="1.6"/>
<line x1="1355" y1="641.1" x2="1358.5" y2="641.1" stroke="#000" stroke-width="1.6"/>
<line x1="1266.5" y1="608.3" x2="1266.5" y2="604.8" stroke="#000" stroke-width="1.6"/>
<line x1="1266.5" y1="784.3" x2="1266.5" y2="787.8" stroke="#000" stroke-width="1.6"/>
<line x1="1177.8" y1="696.1" x2="1174.3" y2="696.1" stroke="#000" stroke-width="1.6"/>
<line x1="1355" y1="696.1" x2="1358.5" y2="696.1" stroke="#000" stroke-width="1.6"/>
<line x1="1321.5" y1="608.3" x2="1321.5" y2="604.8" stroke="#000" stroke-width="1.6"/>
<line x1="1321.5" y1="784.3" x2="1321.5" y2="787.8" stroke="#000" stroke-width="1.6"/>
<line x1="1177.8" y1="751.1" x2="1174.3" y2="751.1" stroke="#000" stroke-width="1.6"/>
<line x1="1355" y1="751.1" x2="1358.5" y2="751.1" stroke="#000" stroke-width="1.6"/>
<rect x="1367" y="608.7" width="176.6" height="175.5" fill="none" stroke="#000" stroke-width="2.2"/>
<line x1="1401" y1="608.7" x2="1401" y2="605.2" stroke="#000" stroke-width="1.6"/>
<line x1="1401" y1="784.2" x2="1401" y2="787.7" stroke="#000" stroke-width="1.6"/>
<line x1="1367" y1="640.5" x2="1363.5" y2="640.5" stroke="#000" stroke-width="1.6"/>
<line x1="1543.6" y1="640.5" x2="1547.1" y2="640.5" stroke="#000" stroke-width="1.6"/>
<line x1="1456" y1="608.7" x2="1456" y2="605.2" stroke="#000" stroke-width="1.6"/>
<line x1="1456" y1="784.2" x2="1456" y2="787.7" stroke="#000" stroke-width="1.6"/>
<line x1="1367" y1="695.5" x2="1363.5" y2="695.5" stroke="#000" stroke-width="1.6"/>
<line x1="1543.6" y1="695.5" x2="1547.1" y2="695.5" stroke="#000" stroke-width="1.6"/>
<line x1="1511" y1="608.7" x2="1511" y2="605.2" stroke="#000" stroke-width="1.6"/>
<line x1="1511" y1="784.2" x2="1511" y2="787.7" stroke="#000" stroke-width="1.6"/>
<line x1="1367" y1="750.5" x2="1363.5" y2="750.5" stroke="#000" stroke-width="1.6"/>
<line x1="1543.6" y1="750.5" x2="1547.1" y2="750.5" stroke="#000" stroke-width="1.6"/>
<rect x="1559.6" y="606.7" width="175.8" height="176" fill="none" stroke="#000" stroke-width="2.2"/>
<line x1="1592.5" y1="606.7" x2="1592.5" y2="603.2" stroke="#000" stroke-width="1.6"/>
<line x1="1592.5" y1="782.7" x2="1592.5" y2="786.2" stroke="#000" stroke-width="1.6"/>
<line x1="1559.6" y1="639.9" x2="1556.1" y2="639.9" stroke="#000" stroke-width="1.6"/>
<line x1="1735.4" y1="639.9" x2="1738.9" y2="639.9" stroke="#000" stroke-width="1.6"/>
<line x1="1647.5" y1="606.7" x2="1647.5" y2="603.2" stroke="#000" stroke-width="1.6"/>
<line x1="1647.5" y1="782.7" x2="1647.5" y2="786.2" stroke="#000" stroke-width="1.6"/>
<line x1="1559.6" y1="694.9" x2="1556.1" y2="694.9" stroke="#000" stroke-width="1.6"/>
<line x1="1735.4" y1="694.9" x2="1738.9" y2="694.9" stroke="#000" stroke-width="1.6"/>
<line x1="1702.5" y1="606.7" x2="1702.5" y2="603.2" stroke="#000" stroke-width="1.6"/>
<line x1="1702.5" y1="782.7" x2="1702.5" y2="786.2" stroke="#000" stroke-width="1.6"/>
<line x1="1559.6" y1="749.9" x2="1556.1" y2="749.9" stroke="#000" stroke-width="1.6"/>
<line x1="1735.4" y1="749.9" x2="1738.9" y2="749.9" stroke="#000" stroke-width="1.6"/>
<circle cx="179.6" cy="698.3" r="14.2" fill="#eaa8e2" fill-opacity="0.74" stroke="#111" stroke-width="1.8"/>
<text x="168.5" y="705.7" class="a" style="font-size:24.8px;font-weight:bold" fill="#ffef00" textLength="22.5" lengthAdjust="spacingAndGlyphs" stroke="#ffef00" stroke-width="0.9">+1</text>
<circle cx="150.1" cy="648.1" r="14.2" fill="#eaa8e2" fill-opacity="0.74" stroke="#111" stroke-width="1.8"/>
<text x="140.4" y="655.5" class="a" style="font-size:24.8px;font-weight:bold" fill="#ffef00" textLength="19.6" lengthAdjust="spacingAndGlyphs" stroke="#ffef00" stroke-width="0.9">-1</text>
<circle cx="209.1" cy="648.1" r="14.2" fill="#eaa8e2" fill-opacity="0.74" stroke="#111" stroke-width="1.8"/>
<text x="199.4" y="655.5" class="a" style="font-size:24.8px;font-weight:bold" fill="#ffef00" textLength="19.6" lengthAdjust="spacingAndGlyphs" stroke="#ffef00" stroke-width="0.9">-1</text>
<circle cx="122.7" cy="698" r="14.2" fill="#eaa8e2" fill-opacity="0.74" stroke="#111" stroke-width="1.8"/>
<text x="113" y="705.4" class="a" style="font-size:24.8px;font-weight:bold" fill="#ffef00" textLength="19.6" lengthAdjust="spacingAndGlyphs" stroke="#ffef00" stroke-width="0.9">-1</text>
<circle cx="237.5" cy="698.6" r="14.2" fill="#eaa8e2" fill-opacity="0.74" stroke="#111" stroke-width="1.8"/>
<text x="227.8" y="706" class="a" style="font-size:24.8px;font-weight:bold" fill="#ffef00" textLength="19.6" lengthAdjust="spacingAndGlyphs" stroke="#ffef00" stroke-width="0.9">-1</text>
<circle cx="151.2" cy="750.2" r="14.2" fill="#eaa8e2" fill-opacity="0.74" stroke="#111" stroke-width="1.8"/>
<text x="141.5" y="757.6" class="a" style="font-size:24.8px;font-weight:bold" fill="#ffef00" textLength="19.6" lengthAdjust="spacingAndGlyphs" stroke="#ffef00" stroke-width="0.9">-1</text>
<circle cx="209.1" cy="749.6" r="14.2" fill="#eaa8e2" fill-opacity="0.74" stroke="#111" stroke-width="1.8"/>
<text x="199.4" y="757" class="a" style="font-size:24.8px;font-weight:bold" fill="#ffef00" textLength="19.6" lengthAdjust="spacingAndGlyphs" stroke="#ffef00" stroke-width="0.9">-1</text>
<circle cx="375.8" cy="700.1" r="14.2" fill="#eaa8e2" fill-opacity="0.74" stroke="#111" stroke-width="1.8"/>
<text x="365.7" y="707.5" class="a" style="font-size:24.8px;font-weight:bold" fill="#ffef00" textLength="20.9" lengthAdjust="spacingAndGlyphs" stroke="#ffef00" stroke-width="0.9">-2</text>
<circle cx="570" cy="698.4" r="14.2" fill="#eaa8e2" fill-opacity="0.74" stroke="#111" stroke-width="1.8"/>
<text x="559.9" y="705.8" class="a" style="font-size:24.8px;font-weight:bold" fill="#ffef00" textLength="20.9" lengthAdjust="spacingAndGlyphs" stroke="#ffef00" stroke-width="0.9">-2</text>
<circle cx="760.7" cy="698.9" r="14.2" fill="#eaa8e2" fill-opacity="0.74" stroke="#111" stroke-width="1.8"/>
<text x="750.6" y="706.3" class="a" style="font-size:24.8px;font-weight:bold" fill="#ffef00" textLength="20.9" lengthAdjust="spacingAndGlyphs" stroke="#ffef00" stroke-width="0.9">-2</text>
<circle cx="1075.8" cy="695.6" r="14.2" fill="#eaa8e2" fill-opacity="0.74" stroke="#111" stroke-width="1.8"/>
<text x="1064.7" y="703" class="a" style="font-size:24.8px;font-weight:bold" fill="#ffef00" textLength="22.5" lengthAdjust="spacingAndGlyphs" stroke="#ffef00" stroke-width="0.9">+1</text>
<circle cx="1266.6" cy="696" r="14.2" fill="#eaa8e2" fill-opacity="0.74" stroke="#111" stroke-width="1.8"/>
<text x="1256.5" y="703.4" class="a" style="font-size:24.8px;font-weight:bold" fill="#ffef00" textLength="20.9" lengthAdjust="spacingAndGlyphs" stroke="#ffef00" stroke-width="0.9">-2</text>
<circle cx="1456.3" cy="695.6" r="14.2" fill="#eaa8e2" fill-opacity="0.74" stroke="#111" stroke-width="1.8"/>
<text x="1446.2" y="703" class="a" style="font-size:24.8px;font-weight:bold" fill="#ffef00" textLength="20.9" lengthAdjust="spacingAndGlyphs" stroke="#ffef00" stroke-width="0.9">-2</text>
<circle cx="1649.6" cy="693" r="14.2" fill="#eaa8e2" fill-opacity="0.74" stroke="#111" stroke-width="1.8"/>
<text x="1639.5" y="700.4" class="a" style="font-size:24.8px;font-weight:bold" fill="#ffef00" textLength="20.9" lengthAdjust="spacingAndGlyphs" stroke="#ffef00" stroke-width="0.9">-2</text>
<circle cx="1705.3" cy="693" r="14.2" fill="#eaa8e2" fill-opacity="0.74" stroke="#111" stroke-width="1.8"/>
<text x="1694.2" y="700.4" class="a" style="font-size:24.8px;font-weight:bold" fill="#ffef00" textLength="22.5" lengthAdjust="spacingAndGlyphs" stroke="#ffef00" stroke-width="0.9">+1</text>
<circle cx="1676.1" cy="646.8" r="14.2" fill="#eaa8e2" fill-opacity="0.74" stroke="#111" stroke-width="1.8"/>
<text x="1665" y="654.2" class="a" style="font-size:24.8px;font-weight:bold" fill="#ffef00" textLength="22.5" lengthAdjust="spacingAndGlyphs" stroke="#ffef00" stroke-width="0.9">+1</text>
<circle cx="1621.3" cy="648.5" r="14.2" fill="#eaa8e2" fill-opacity="0.74" stroke="#111" stroke-width="1.8"/>
<text x="1610.2" y="655.9" class="a" style="font-size:24.8px;font-weight:bold" fill="#ffef00" textLength="22.5" lengthAdjust="spacingAndGlyphs" stroke="#ffef00" stroke-width="0.9">+1</text>
<circle cx="1596.3" cy="693" r="14.2" fill="#eaa8e2" fill-opacity="0.74" stroke="#111" stroke-width="1.8"/>
<text x="1585.2" y="700.4" class="a" style="font-size:24.8px;font-weight:bold" fill="#ffef00" textLength="22.5" lengthAdjust="spacingAndGlyphs" stroke="#ffef00" stroke-width="0.9">+1</text>
<circle cx="1623.2" cy="732.6" r="14.2" fill="#eaa8e2" fill-opacity="0.74" stroke="#111" stroke-width="1.8"/>
<text x="1612.1" y="740" class="a" style="font-size:24.8px;font-weight:bold" fill="#ffef00" textLength="22.5" lengthAdjust="spacingAndGlyphs" stroke="#ffef00" stroke-width="0.9">+1</text>
<circle cx="1674" cy="735.7" r="14.2" fill="#eaa8e2" fill-opacity="0.74" stroke="#111" stroke-width="1.8"/>
<text x="1662.9" y="743.1" class="a" style="font-size:24.8px;font-weight:bold" fill="#ffef00" textLength="22.5" lengthAdjust="spacingAndGlyphs" stroke="#ffef00" stroke-width="0.9">+1</text>
<text x="87.3" y="589.5" class="s" style="font-size:44.5px">Monopolar</text>
<text x="356.3" y="589.3" class="s" style="font-size:44.5px">Quadripolars</text>
<text x="674.2" y="589.3" class="s" style="font-size:44.5px">Hexapolar</text>
<text x="977.3" y="589.3" class="s" style="font-size:44.5px">Monopolar</text>
<text x="1241.4" y="589.3" class="s" style="font-size:44.5px">Quadripolars</text>
<text x="1558.3" y="589.5" class="s" style="font-size:47px" textLength="195.1" lengthAdjust="spacingAndGlyphs">Hexapolar</text>
<text x="30.8" y="630.7" class="s" style="font-size:26.3px">-0.05</text>
<text x="72.5" y="706" class="s" style="font-size:26.3px">0</text>
<text x="39.6" y="780" class="s" style="font-size:26.3px">0.05</text>
<text x="924.7" y="646.8" class="s" style="font-size:26.3px">-0.05</text>
<text x="968" y="704" class="s" style="font-size:26.3px">0</text>
<text x="933.5" y="759" class="s" style="font-size:26.3px">0.05</text>
<text x="78.1" y="809.3" class="s" style="font-size:26.3px">-0.05</text>
<text x="172.2" y="809.3" class="s" style="font-size:26.3px">0</text>
<text x="224.4" y="809.3" class="s" style="font-size:26.3px">0.05</text>
<text x="274.2" y="809.3" class="s" style="font-size:26.3px">-0.05</text>
<text x="366.7" y="809.3" class="s" style="font-size:26.3px">0</text>
<text x="419.2" y="809.3" class="s" style="font-size:26.3px">0.05</text>
<text x="467.3" y="809.3" class="s" style="font-size:26.3px">-0.05</text>
<text x="561.4" y="809.3" class="s" style="font-size:26.3px">0</text>
<text x="612.3" y="809.3" class="s" style="font-size:26.3px">0.05</text>
<text x="658.6" y="809.3" class="s" style="font-size:26.3px">-0.05</text>
<text x="752.8" y="809.3" class="s" style="font-size:26.3px">0</text>
<text x="803.6" y="809.3" class="s" style="font-size:26.3px">0.05</text>
<text x="984.9" y="809.3" class="s" style="font-size:26.3px">-0.05</text>
<text x="1068" y="809.3" class="s" style="font-size:26.3px">0</text>
<text x="1110.9" y="809.3" class="s" style="font-size:26.3px">0.05</text>
<text x="1177.4" y="809.3" class="s" style="font-size:26.3px">-0.05</text>
<text x="1259.2" y="809.3" class="s" style="font-size:26.3px">0</text>
<text x="1301.9" y="809.3" class="s" style="font-size:26.3px">0.05</text>
<text x="1367" y="809.3" class="s" style="font-size:26.3px">-0.05</text>
<text x="1449.6" y="809.3" class="s" style="font-size:26.3px">0</text>
<text x="1491.5" y="809.3" class="s" style="font-size:26.3px">0.05</text>
<text x="1558.5" y="809.3" class="s" style="font-size:26.3px">-0.05</text>
<text x="1643.4" y="809.3" class="s" style="font-size:26.3px">0</text>
<text x="1684.5" y="809.3" class="s" style="font-size:26.3px">0.05</text>
<text x="389.3" y="855.8" class="s" style="font-size:42.5px">3<tspan font-style="italic">k</tspan><tspan font-style="italic" font-size="26.4" dy="8">x</tspan><tspan font-style="italic" dy="-8">a</tspan>/4π</text>
<text x="1284.6" y="855.8" class="s" style="font-size:42.5px">3<tspan font-style="italic">k</tspan><tspan font-style="italic" font-size="26.4" dy="8">x</tspan><tspan font-style="italic" dy="-8">a</tspan>/4π</text>
<text transform="translate(31.6 702.2) rotate(-90)" x="0" y="0" text-anchor="middle" class="s" style="font-size:42.5px">3<tspan font-style="italic">k</tspan><tspan font-style="italic" font-size="26.4" dy="8">y</tspan><tspan font-style="italic" dy="-8">a</tspan>/4π</text>
<text transform="translate(921.2 702.4) rotate(-90)" x="0" y="0" text-anchor="middle" class="s" style="font-size:43px">3<tspan font-style="italic">k</tspan><tspan font-style="italic" font-size="26.7" dy="8">y</tspan><tspan font-style="italic" dy="-8">a</tspan>/4π</text>
<rect x="667.1" y="839" width="177.4" height="8.2" fill="url(#cb)" stroke="#999" stroke-width="0.6"/>
<text x="636.9" y="847.8" class="s" style="font-size:35px;font-style:italic" textLength="22.6" lengthAdjust="spacingAndGlyphs">ϕ</text>
<text x="643.2" y="869.8" class="s" style="font-size:26.3px">-90°</text>
<text x="749.4" y="869.8" class="s" style="font-size:26.3px">0</text>
<text x="827.4" y="869.8" class="s" style="font-size:26.3px">90°</text>
<rect x="1547" y="838.4" width="177" height="8" fill="url(#cb)" stroke="#999" stroke-width="0.6"/>
<text x="1516.6" y="847.8" class="s" style="font-size:35px;font-style:italic" textLength="22.6" lengthAdjust="spacingAndGlyphs">ϕ</text>
<text x="1524.5" y="869.8" class="s" style="font-size:26.3px">-90°</text>
<text x="1629.2" y="869.8" class="s" style="font-size:26.3px">0</text>
<text x="1707" y="869.8" class="s" style="font-size:26.3px">90°</text>
</svg></div></body></html>
